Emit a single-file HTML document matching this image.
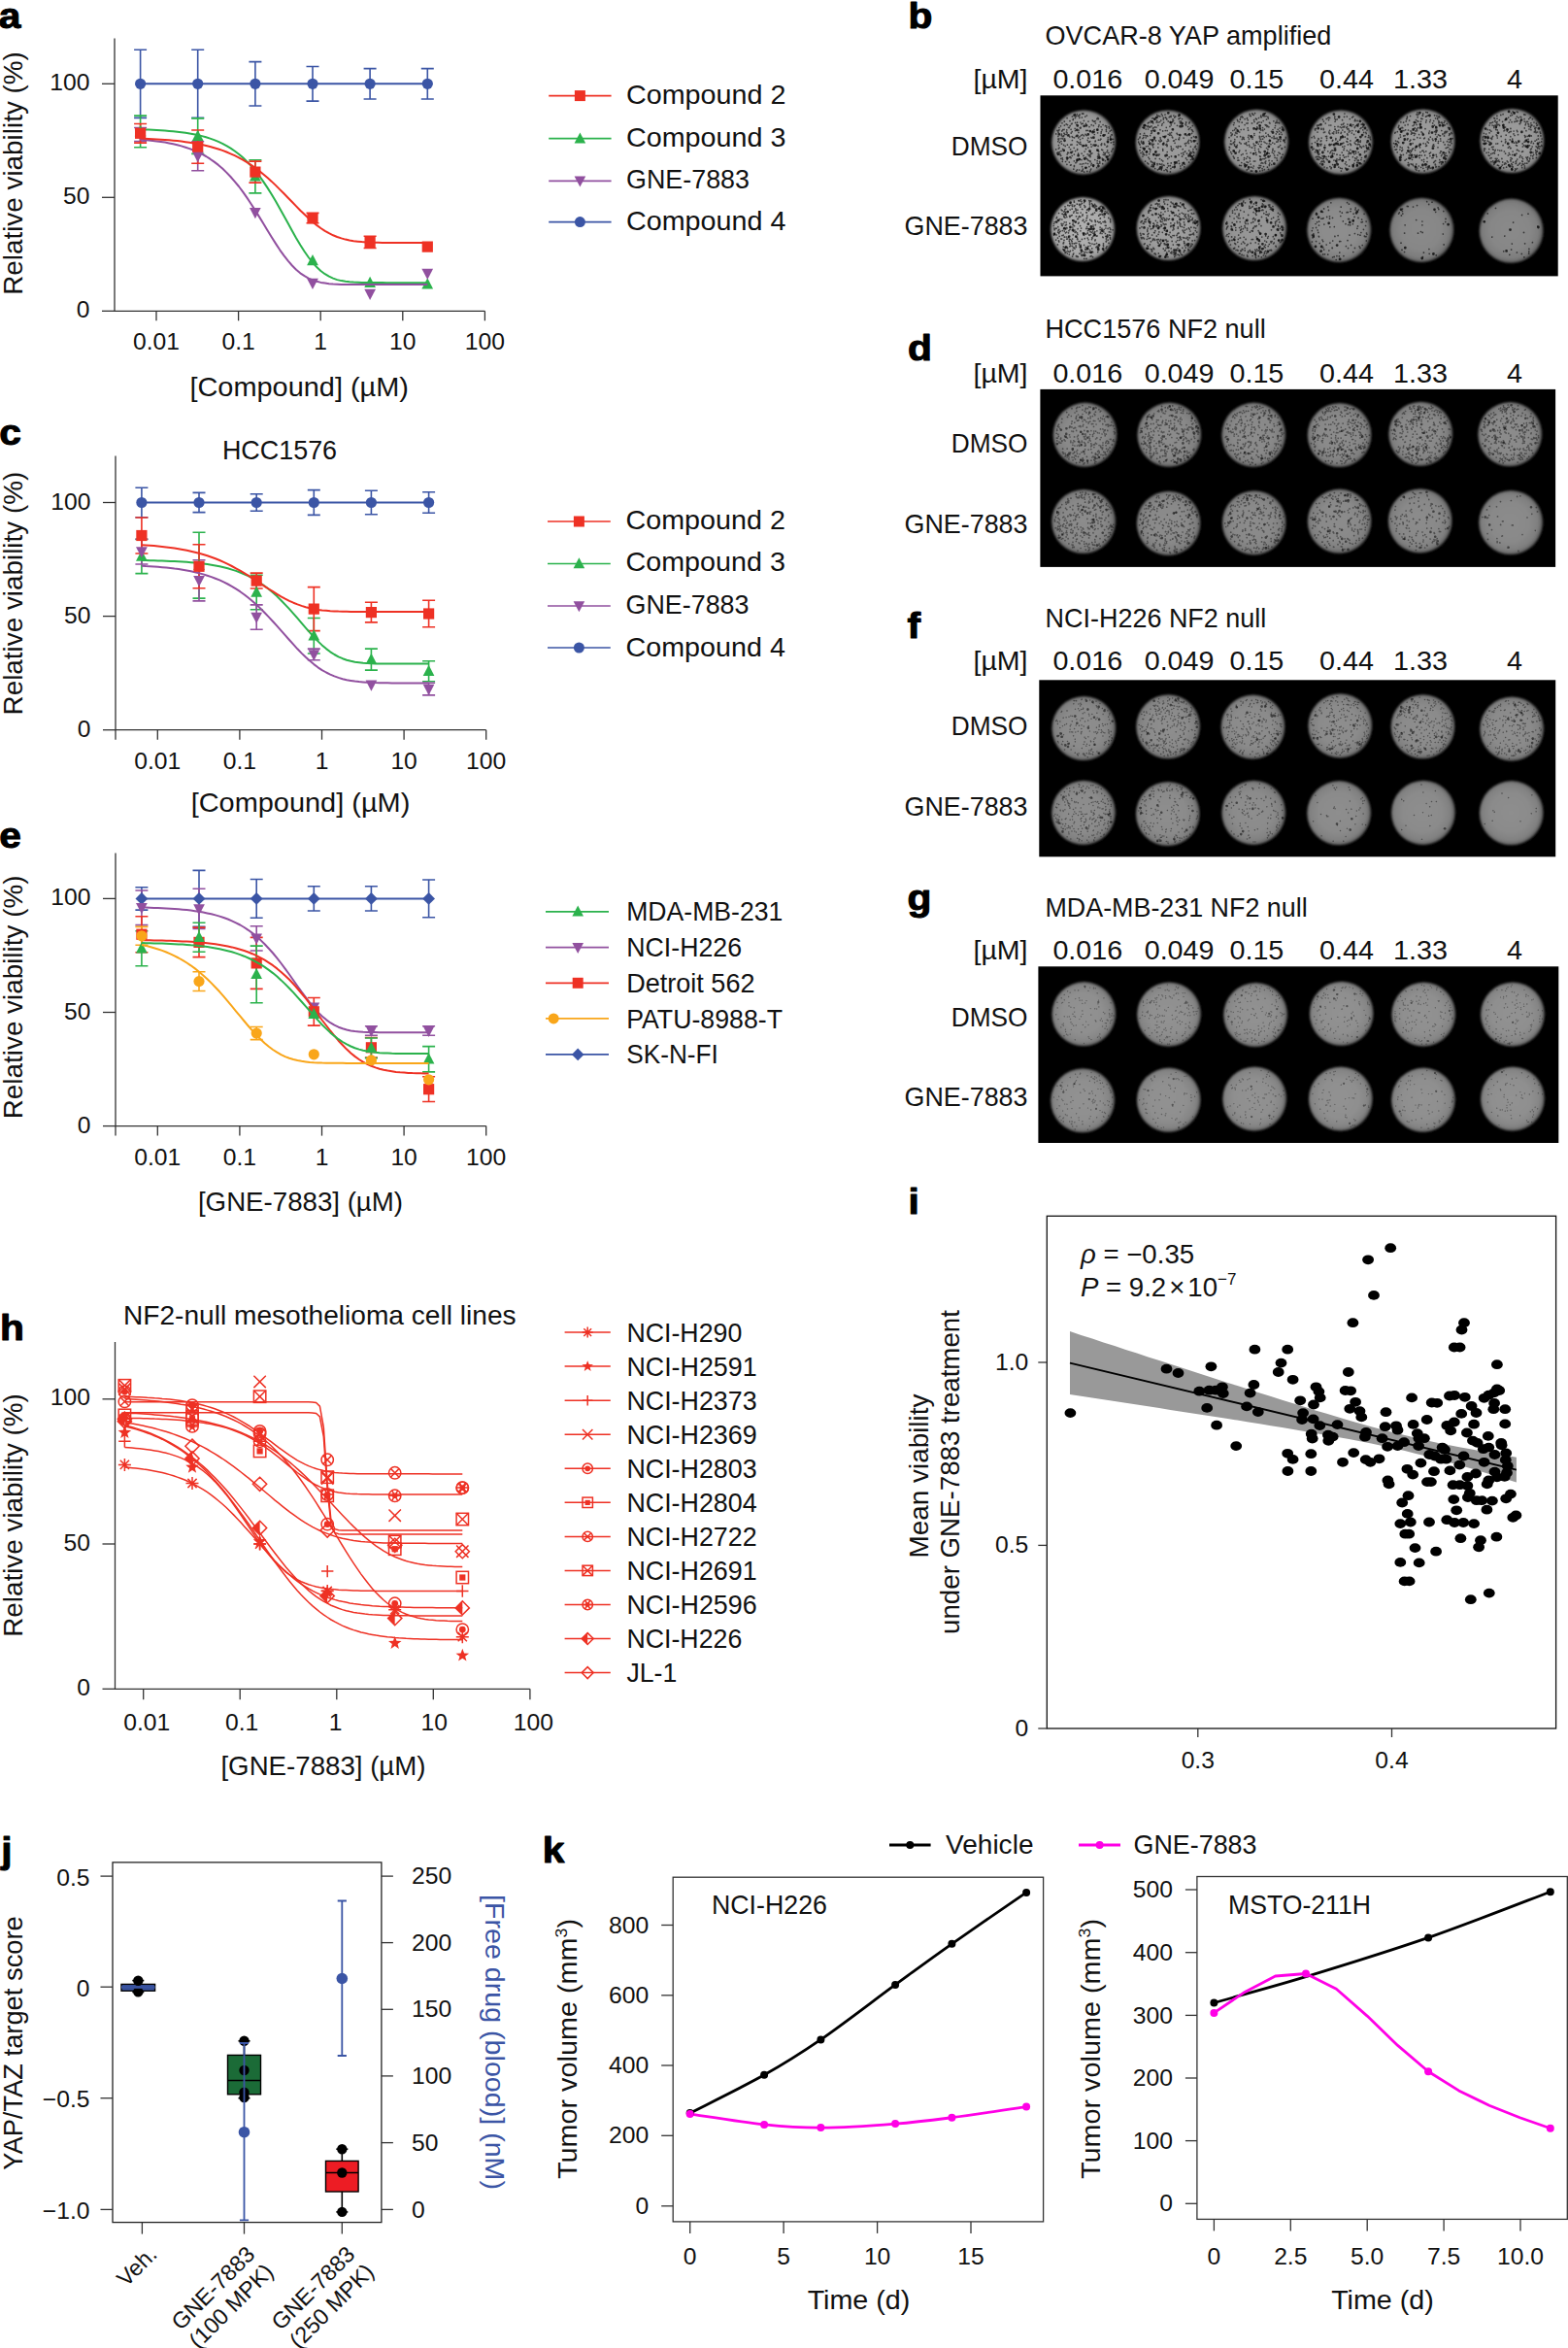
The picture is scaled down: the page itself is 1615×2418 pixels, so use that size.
<!DOCTYPE html>
<html lang="en"><head><meta charset="utf-8"><title>Figure</title>
<style>html,body{margin:0;padding:0;background:#fff}body{width:1615px;height:2418px;overflow:hidden}svg{display:block}text{font-family:'Liberation Sans', sans-serif}</style>
</head><body>
<svg width="1615" height="2418" viewBox="0 0 1615 2418" font-family='"Liberation Sans", sans-serif' fill="#111">
<rect width="1615" height="2418" fill="#fff"/>
<text x="-1.2" y="28.6" font-size="37" font-weight="bold" fill="#000" stroke="#000" stroke-width="1" stroke-linejoin="round" textLength="22.6" lengthAdjust="spacingAndGlyphs">a</text>
<text x="935.6" y="28.5" font-size="37" font-weight="bold" fill="#000" stroke="#000" stroke-width="1" stroke-linejoin="round" textLength="24.9" lengthAdjust="spacingAndGlyphs">b</text>
<text x="-0.8" y="458.2" font-size="37" font-weight="bold" fill="#000" stroke="#000" stroke-width="1" stroke-linejoin="round" textLength="22.6" lengthAdjust="spacingAndGlyphs">c</text>
<text x="934.9" y="371.4" font-size="37" font-weight="bold" fill="#000" stroke="#000" stroke-width="1" stroke-linejoin="round" textLength="24.9" lengthAdjust="spacingAndGlyphs">d</text>
<text x="-0.8" y="873.2" font-size="37" font-weight="bold" fill="#000" stroke="#000" stroke-width="1" stroke-linejoin="round" textLength="22.6" lengthAdjust="spacingAndGlyphs">e</text>
<text x="934.4" y="657.2" font-size="37" font-weight="bold" fill="#000" stroke="#000" stroke-width="1" stroke-linejoin="round" textLength="13.6" lengthAdjust="spacingAndGlyphs">f</text>
<text x="934.4" y="936.7" font-size="37" font-weight="bold" fill="#000" stroke="#000" stroke-width="1" stroke-linejoin="round" textLength="24.9" lengthAdjust="spacingAndGlyphs">g</text>
<text x="-0.1" y="1380.4" font-size="37" font-weight="bold" fill="#000" stroke="#000" stroke-width="1" stroke-linejoin="round" textLength="24.9" lengthAdjust="spacingAndGlyphs">h</text>
<text x="935.6" y="1249.6" font-size="37" font-weight="bold" fill="#000" stroke="#000" stroke-width="1" stroke-linejoin="round" textLength="11.3" lengthAdjust="spacingAndGlyphs">i</text>
<text x="1.2" y="1917.6" font-size="37" font-weight="bold" fill="#000" stroke="#000" stroke-width="1" stroke-linejoin="round" textLength="11.3" lengthAdjust="spacingAndGlyphs">j</text>
<text x="558.8" y="1917.6" font-size="37" font-weight="bold" fill="#000" stroke="#000" stroke-width="1" stroke-linejoin="round" textLength="22.6" lengthAdjust="spacingAndGlyphs">k</text>
<g id="pa">
<path d="M118 39.5V320.3H499.4" stroke="#333" stroke-width="1.3" fill="none"/>
<line x1="161" y1="320.3" x2="161" y2="330.3" stroke="#333" stroke-width="1.3"/>
<text x="161" y="360.4" font-size="23.5" text-anchor="middle" textLength="48.0" lengthAdjust="spacingAndGlyphs">0.01</text>
<line x1="245.6" y1="320.3" x2="245.6" y2="330.3" stroke="#333" stroke-width="1.3"/>
<text x="245.6" y="360.4" font-size="23.5" text-anchor="middle" textLength="34.3" lengthAdjust="spacingAndGlyphs">0.1</text>
<line x1="330.2" y1="320.3" x2="330.2" y2="330.3" stroke="#333" stroke-width="1.3"/>
<text x="330.2" y="360.4" font-size="23.5" text-anchor="middle" textLength="13.7" lengthAdjust="spacingAndGlyphs">1</text>
<line x1="414.8" y1="320.3" x2="414.8" y2="330.3" stroke="#333" stroke-width="1.3"/>
<text x="414.8" y="360.4" font-size="23.5" text-anchor="middle" textLength="27.4" lengthAdjust="spacingAndGlyphs">10</text>
<line x1="499.4" y1="320.3" x2="499.4" y2="330.3" stroke="#333" stroke-width="1.3"/>
<text x="499.4" y="360.4" font-size="23.5" text-anchor="middle" textLength="41.2" lengthAdjust="spacingAndGlyphs">100</text>
<line x1="105" y1="320.3" x2="118" y2="320.3" stroke="#333" stroke-width="1.3"/>
<text x="92.5" y="327.3" font-size="23.5" text-anchor="end" textLength="13.7" lengthAdjust="spacingAndGlyphs">0</text>
<line x1="105" y1="203.3" x2="118" y2="203.3" stroke="#333" stroke-width="1.3"/>
<text x="92.5" y="210.3" font-size="23.5" text-anchor="end" textLength="27.4" lengthAdjust="spacingAndGlyphs">50</text>
<line x1="105" y1="86.3" x2="118" y2="86.3" stroke="#333" stroke-width="1.3"/>
<text x="92.5" y="93.3" font-size="23.5" text-anchor="end" textLength="41.2" lengthAdjust="spacingAndGlyphs">100</text>
<text x="23.4" y="178.5" font-size="27.6" text-anchor="middle" transform="rotate(-90 23.4 178.5)" textLength="250.7" lengthAdjust="spacingAndGlyphs">Relative viability (%)</text>
<text x="308.2" y="407.8" font-size="27.6" text-anchor="middle" textLength="225.6" lengthAdjust="spacingAndGlyphs">[Compound] (µM)</text>
<path d="M144.6 51.2V121.4M138.1 51.2H151.1M138.1 121.4H151.1" stroke="#3b55a5" stroke-width="1.6" fill="none"/>
<path d="M203.7 51.2V121.4M197.2 51.2H210.2M197.2 121.4H210.2" stroke="#3b55a5" stroke-width="1.6" fill="none"/>
<path d="M262.9 63.6V109M256.4 63.6H269.4M256.4 109H269.4" stroke="#3b55a5" stroke-width="1.6" fill="none"/>
<path d="M322 68.5V104.1M315.5 68.5H328.5M315.5 104.1H328.5" stroke="#3b55a5" stroke-width="1.6" fill="none"/>
<path d="M381.1 70.6V102M374.6 70.6H387.6M374.6 102H387.6" stroke="#3b55a5" stroke-width="1.6" fill="none"/>
<path d="M440.3 70.6V102M433.8 70.6H446.8M433.8 102H446.8" stroke="#3b55a5" stroke-width="1.6" fill="none"/>
<path d="M144.6 119.1V151.8M138.1 119.1H151.1M138.1 151.8H151.1" stroke="#2bb24c" stroke-width="1.6" fill="none"/>
<path d="M203.7 121.9V158.4M197.2 121.9H210.2M197.2 158.4H210.2" stroke="#2bb24c" stroke-width="1.6" fill="none"/>
<path d="M262.9 164.7V198.9M256.4 164.7H269.4M256.4 198.9H269.4" stroke="#2bb24c" stroke-width="1.6" fill="none"/>
<path d="M144.6 131.5V145.5M138.1 131.5H151.1M138.1 145.5H151.1" stroke="#91509f" stroke-width="1.6" fill="none"/>
<path d="M203.7 145.7V175.7M197.2 145.7H210.2M197.2 175.7H210.2" stroke="#91509f" stroke-width="1.6" fill="none"/>
<path d="M144.6 127.5V147.1M138.1 127.5H151.1M138.1 147.1H151.1" stroke="#ee3124" stroke-width="1.6" fill="none"/>
<path d="M203.7 134V168.2M197.2 134H210.2M197.2 168.2H210.2" stroke="#ee3124" stroke-width="1.6" fill="none"/>
<path d="M262.9 166.1V188.1M256.4 166.1H269.4M256.4 188.1H269.4" stroke="#ee3124" stroke-width="1.6" fill="none"/>
<path d="M322 219.4V229.7M315.5 219.4H328.5M315.5 229.7H328.5" stroke="#ee3124" stroke-width="1.6" fill="none"/>
<path d="M381.1 243.3V255.5M374.6 243.3H387.6M374.6 255.5H387.6" stroke="#ee3124" stroke-width="1.6" fill="none"/>
<path d="M144.6 86.3H440.3" stroke="#3b55a5" stroke-width="2.0" fill="none"/>
<circle cx="144.6" cy="86.3" r="5.6" fill="#3b55a5"/>
<circle cx="203.7" cy="86.3" r="5.6" fill="#3b55a5"/>
<circle cx="262.9" cy="86.3" r="5.6" fill="#3b55a5"/>
<circle cx="322" cy="86.3" r="5.6" fill="#3b55a5"/>
<circle cx="381.1" cy="86.3" r="5.6" fill="#3b55a5"/>
<circle cx="440.3" cy="86.3" r="5.6" fill="#3b55a5"/>
<path d="M144.6 133.3L148.8 133.4L153.1 133.6L157.3 133.8L161.5 134L165.7 134.2L169.9 134.5L174.2 134.9L178.4 135.2L182.6 135.7L186.8 136.2L191.1 136.8L195.3 137.4L199.5 138.2L203.7 139.1L208 140.1L212.2 141.3L216.4 142.6L220.6 144.1L224.9 145.9L229.1 147.8L233.3 150.1L237.5 152.6L241.7 155.5L246 158.7L250.2 162.3L254.4 166.4L258.6 170.8L262.9 175.8L267.1 181.2L271.3 187.1L275.5 193.4L279.8 200.2L284 207.3L288.2 214.7L292.4 222.3L296.7 230L300.9 237.7L305.1 245.2L309.3 252.3L313.6 259L317.8 265L322 270.4L326.2 275.1L330.4 279L334.7 282.2L338.9 284.7L343.1 286.6L347.3 288.1L351.6 289.1L355.8 289.8L360 290.3L364.2 290.6L368.5 290.8L372.7 291L376.9 291.1L381.1 291.1L385.4 291.1L389.6 291.1L393.8 291.1L398 291.2L402.3 291.2L406.5 291.2L410.7 291.2L414.9 291.2L419.1 291.2L423.4 291.2L427.6 291.2L431.8 291.2L436 291.2L440.3 291.2" stroke="#2bb24c" stroke-width="2.0" fill="none" stroke-linejoin="round"/>
<path d="M144.6 129L150.5 140.2L138.7 140.2Z" fill="#2bb24c"/>
<path d="M203.7 133.7L209.6 144.9L197.9 144.9Z" fill="#2bb24c"/>
<path d="M262.9 175.3L268.7 186.5L257 186.5Z" fill="#2bb24c"/>
<path d="M322 262.1L327.9 273.3L316.1 273.3Z" fill="#2bb24c"/>
<path d="M381.1 284.8L387 296L375.3 296Z" fill="#2bb24c"/>
<path d="M440.3 286.2L446.1 297.4L434.4 297.4Z" fill="#2bb24c"/>
<path d="M144.6 143.7L148.8 144L153.1 144.4L157.3 144.9L161.5 145.4L165.7 146L169.9 146.6L174.2 147.4L178.4 148.3L182.6 149.3L186.8 150.4L191.1 151.7L195.3 153.1L199.5 154.7L203.7 156.6L208 158.7L212.2 161L216.4 163.7L220.6 166.6L224.9 169.9L229.1 173.5L233.3 177.6L237.5 182L241.7 186.8L246 192L250.2 197.6L254.4 203.6L258.6 210L262.9 216.6L267.1 223.4L271.3 230.3L275.5 237.3L279.8 244.2L284 250.9L288.2 257.3L292.4 263.2L296.7 268.6L300.9 273.5L305.1 277.7L309.3 281.3L313.6 284.2L317.8 286.6L322 288.4L326.2 289.8L330.4 290.9L334.7 291.6L338.9 292.2L343.1 292.5L347.3 292.7L351.6 292.9L355.8 293L360 293L364.2 293.1L368.5 293.1L372.7 293.1L376.9 293.1L381.1 293.1L385.4 293.1L389.6 293.1L393.8 293.1L398 293.1L402.3 293.1L406.5 293.1L410.7 293.1L414.9 293.1L419.1 293.1L423.4 293.1L427.6 293.1L431.8 293.1L436 293.1L440.3 293.1" stroke="#91509f" stroke-width="2.0" fill="none" stroke-linejoin="round"/>
<path d="M144.6 144.9L150.5 133.7L138.7 133.7Z" fill="#91509f"/>
<path d="M203.7 167.2L209.6 156L197.9 156Z" fill="#91509f"/>
<path d="M262.9 225.2L268.7 214L257 214Z" fill="#91509f"/>
<path d="M322 298L327.9 286.8L316.1 286.8Z" fill="#91509f"/>
<path d="M381.1 309L387 297.8L375.3 297.8Z" fill="#91509f"/>
<path d="M440.3 287.9L446.1 276.7L434.4 276.7Z" fill="#91509f"/>
<path d="M144.6 142.6L148.8 142.8L153.1 143L157.3 143.2L161.5 143.4L165.7 143.7L169.9 144L174.2 144.3L178.4 144.7L182.6 145.1L186.8 145.6L191.1 146.2L195.3 146.8L199.5 147.4L203.7 148.2L208 149L212.2 150L216.4 151L220.6 152.2L224.9 153.5L229.1 154.9L233.3 156.5L237.5 158.3L241.7 160.2L246 162.3L250.2 164.7L254.4 167.2L258.6 169.9L262.9 172.9L267.1 176.1L271.3 179.5L275.5 183.1L279.8 186.9L284 190.9L288.2 195.1L292.4 199.3L296.7 203.7L300.9 208L305.1 212.4L309.3 216.7L313.6 220.8L317.8 224.8L322 228.5L326.2 231.9L330.4 235L334.7 237.8L338.9 240.2L343.1 242.3L347.3 244L351.6 245.4L355.8 246.6L360 247.5L364.2 248.2L368.5 248.7L372.7 249.1L376.9 249.4L381.1 249.6L385.4 249.7L389.6 249.8L393.8 249.9L398 249.9L402.3 249.9L406.5 249.9L410.7 250L414.9 250L419.1 250L423.4 250L427.6 250L431.8 250L436 250L440.3 250" stroke="#ee3124" stroke-width="2.0" fill="none" stroke-linejoin="round"/>
<rect x="139" y="131.7" width="11.2" height="11.2" fill="#ee3124"/>
<rect x="198.1" y="145.5" width="11.2" height="11.2" fill="#ee3124"/>
<rect x="257.3" y="171.5" width="11.2" height="11.2" fill="#ee3124"/>
<rect x="316.4" y="219" width="11.2" height="11.2" fill="#ee3124"/>
<rect x="375.5" y="243.8" width="11.2" height="11.2" fill="#ee3124"/>
<rect x="434.7" y="248.5" width="11.2" height="11.2" fill="#ee3124"/>
<line x1="565.2" y1="98.6" x2="629.6" y2="98.6" stroke="#ee3124" stroke-width="1.7"/>
<rect x="591.9" y="93.1" width="11" height="11" fill="#ee3124"/>
<text x="645" y="107.1" font-size="27.6" textLength="164.4" lengthAdjust="spacingAndGlyphs">Compound 2</text>
<line x1="565.2" y1="142.7" x2="629.6" y2="142.7" stroke="#2bb24c" stroke-width="1.7"/>
<path d="M597.4 136.4L603.2 147.4L591.6 147.4Z" fill="#2bb24c"/>
<text x="645" y="150.7" font-size="27.6" textLength="164.4" lengthAdjust="spacingAndGlyphs">Compound 3</text>
<line x1="565.2" y1="186.3" x2="629.6" y2="186.3" stroke="#91509f" stroke-width="1.7"/>
<path d="M597.4 192.6L603.2 181.6L591.6 181.6Z" fill="#91509f"/>
<text x="645" y="193.6" font-size="27.6" textLength="127.0" lengthAdjust="spacingAndGlyphs">GNE-7883</text>
<line x1="565.2" y1="228.6" x2="629.6" y2="228.6" stroke="#3b55a5" stroke-width="1.7"/>
<circle cx="597.4" cy="228.6" r="5.5" fill="#3b55a5"/>
<text x="645" y="237.3" font-size="27.6" textLength="164.4" lengthAdjust="spacingAndGlyphs">Compound 4</text>
</g>
<g id="pc">
<path d="M119 469.5V751.7H500.7" stroke="#333" stroke-width="1.3" fill="none"/>
<line x1="162.3" y1="751.7" x2="162.3" y2="761.7" stroke="#333" stroke-width="1.3"/>
<text x="162.3" y="791.8" font-size="23.5" text-anchor="middle" textLength="48.0" lengthAdjust="spacingAndGlyphs">0.01</text>
<line x1="246.9" y1="751.7" x2="246.9" y2="761.7" stroke="#333" stroke-width="1.3"/>
<text x="246.9" y="791.8" font-size="23.5" text-anchor="middle" textLength="34.3" lengthAdjust="spacingAndGlyphs">0.1</text>
<line x1="331.5" y1="751.7" x2="331.5" y2="761.7" stroke="#333" stroke-width="1.3"/>
<text x="331.5" y="791.8" font-size="23.5" text-anchor="middle" textLength="13.7" lengthAdjust="spacingAndGlyphs">1</text>
<line x1="416.1" y1="751.7" x2="416.1" y2="761.7" stroke="#333" stroke-width="1.3"/>
<text x="416.1" y="791.8" font-size="23.5" text-anchor="middle" textLength="27.4" lengthAdjust="spacingAndGlyphs">10</text>
<line x1="500.7" y1="751.7" x2="500.7" y2="761.7" stroke="#333" stroke-width="1.3"/>
<text x="500.7" y="791.8" font-size="23.5" text-anchor="middle" textLength="41.2" lengthAdjust="spacingAndGlyphs">100</text>
<line x1="119" y1="751.7" x2="119" y2="761.7" stroke="#333" stroke-width="1.3"/>
<line x1="106" y1="751.7" x2="119" y2="751.7" stroke="#333" stroke-width="1.3"/>
<text x="93.5" y="758.7" font-size="23.5" text-anchor="end" textLength="13.7" lengthAdjust="spacingAndGlyphs">0</text>
<line x1="106" y1="634.6" x2="119" y2="634.6" stroke="#333" stroke-width="1.3"/>
<text x="93.5" y="641.6" font-size="23.5" text-anchor="end" textLength="27.4" lengthAdjust="spacingAndGlyphs">50</text>
<line x1="106" y1="517.5" x2="119" y2="517.5" stroke="#333" stroke-width="1.3"/>
<text x="93.5" y="524.5" font-size="23.5" text-anchor="end" textLength="41.2" lengthAdjust="spacingAndGlyphs">100</text>
<text x="23.4" y="611.1" font-size="27.6" text-anchor="middle" transform="rotate(-90 23.4 611.1)" textLength="250.7" lengthAdjust="spacingAndGlyphs">Relative viability (%)</text>
<text x="309.5" y="836" font-size="27.6" text-anchor="middle" textLength="225.6" lengthAdjust="spacingAndGlyphs">[Compound] (µM)</text>
<text x="288" y="473.2" font-size="27.6" text-anchor="middle" textLength="118.2" lengthAdjust="spacingAndGlyphs">HCC1576</text>
<path d="M145.9 502.3V532.7M139.4 502.3H152.4M139.4 532.7H152.4" stroke="#3b55a5" stroke-width="1.6" fill="none"/>
<path d="M205 507.4V527.6M198.5 507.4H211.5M198.5 527.6H211.5" stroke="#3b55a5" stroke-width="1.6" fill="none"/>
<path d="M264.2 508.8V526.2M257.7 508.8H270.7M257.7 526.2H270.7" stroke="#3b55a5" stroke-width="1.6" fill="none"/>
<path d="M323.3 504.6V530.4M316.8 504.6H329.8M316.8 530.4H329.8" stroke="#3b55a5" stroke-width="1.6" fill="none"/>
<path d="M382.4 505.3V529.7M375.9 505.3H388.9M375.9 529.7H388.9" stroke="#3b55a5" stroke-width="1.6" fill="none"/>
<path d="M441.6 506.7V528.3M435.1 506.7H448.1M435.1 528.3H448.1" stroke="#3b55a5" stroke-width="1.6" fill="none"/>
<path d="M145.9 555.4V590.6M139.4 555.4H152.4M139.4 590.6H152.4" stroke="#2bb24c" stroke-width="1.6" fill="none"/>
<path d="M205 548.2V616.1M198.5 548.2H211.5M198.5 616.1H211.5" stroke="#2bb24c" stroke-width="1.6" fill="none"/>
<path d="M264.2 592.2V627.8M257.7 592.2H270.7M257.7 627.8H270.7" stroke="#2bb24c" stroke-width="1.6" fill="none"/>
<path d="M323.3 636.5V673M316.8 636.5H329.8M316.8 673H329.8" stroke="#2bb24c" stroke-width="1.6" fill="none"/>
<path d="M382.4 668.1V690.1M375.9 668.1H388.9M375.9 690.1H388.9" stroke="#2bb24c" stroke-width="1.6" fill="none"/>
<path d="M441.6 680.7V701.8M435.1 680.7H448.1M435.1 701.8H448.1" stroke="#2bb24c" stroke-width="1.6" fill="none"/>
<path d="M145.9 555.2V581M139.4 555.2H152.4M139.4 581H152.4" stroke="#91509f" stroke-width="1.6" fill="none"/>
<path d="M205 576.8V618.9M198.5 576.8H211.5M198.5 618.9H211.5" stroke="#91509f" stroke-width="1.6" fill="none"/>
<path d="M264.2 622.9V648.2M257.7 622.9H270.7M257.7 648.2H270.7" stroke="#91509f" stroke-width="1.6" fill="none"/>
<path d="M323.3 668.1V679.8M316.8 668.1H329.8M316.8 679.8H329.8" stroke="#91509f" stroke-width="1.6" fill="none"/>
<path d="M441.6 703.2V715.9M435.1 703.2H448.1M435.1 715.9H448.1" stroke="#91509f" stroke-width="1.6" fill="none"/>
<path d="M145.9 533V570M139.4 533H152.4M139.4 570H152.4" stroke="#ee3124" stroke-width="1.6" fill="none"/>
<path d="M205 560.8V605.8M198.5 560.8H211.5M198.5 605.8H211.5" stroke="#ee3124" stroke-width="1.6" fill="none"/>
<path d="M264.2 590.1V606M257.7 590.1H270.7M257.7 606H270.7" stroke="#ee3124" stroke-width="1.6" fill="none"/>
<path d="M323.3 604.6V649.6M316.8 604.6H329.8M316.8 649.6H329.8" stroke="#ee3124" stroke-width="1.6" fill="none"/>
<path d="M382.4 620.3V640.9M375.9 620.3H388.9M375.9 640.9H388.9" stroke="#ee3124" stroke-width="1.6" fill="none"/>
<path d="M441.6 618.2V645.8M435.1 618.2H448.1M435.1 645.8H448.1" stroke="#ee3124" stroke-width="1.6" fill="none"/>
<path d="M145.9 517.5H441.6" stroke="#3b55a5" stroke-width="2.0" fill="none"/>
<circle cx="145.9" cy="517.5" r="5.6" fill="#3b55a5"/>
<circle cx="205" cy="517.5" r="5.6" fill="#3b55a5"/>
<circle cx="264.2" cy="517.5" r="5.6" fill="#3b55a5"/>
<circle cx="323.3" cy="517.5" r="5.6" fill="#3b55a5"/>
<circle cx="382.4" cy="517.5" r="5.6" fill="#3b55a5"/>
<circle cx="441.6" cy="517.5" r="5.6" fill="#3b55a5"/>
<path d="M145.9 577L150.1 577.1L154.4 577.2L158.6 577.3L162.8 577.4L167 577.5L171.2 577.7L175.5 577.9L179.7 578.1L183.9 578.3L188.1 578.5L192.4 578.8L196.6 579.2L200.8 579.6L205 580L209.3 580.5L213.5 581.1L217.7 581.7L221.9 582.5L226.2 583.3L230.4 584.3L234.6 585.3L238.8 586.6L243 587.9L247.3 589.5L251.5 591.3L255.7 593.2L259.9 595.4L264.2 597.8L268.4 600.5L272.6 603.5L276.8 606.8L281.1 610.3L285.3 614.1L289.5 618.2L293.7 622.6L298 627.1L302.2 631.9L306.4 636.7L310.6 641.7L314.9 646.6L319.1 651.4L323.3 656L327.5 660.4L331.7 664.4L336 668.1L340.2 671.3L344.4 674L348.6 676.3L352.9 678.2L357.1 679.7L361.3 680.8L365.5 681.7L369.8 682.3L374 682.8L378.2 683.1L382.4 683.3L386.7 683.4L390.9 683.5L395.1 683.6L399.3 683.6L403.6 683.6L407.8 683.6L412 683.6L416.2 683.6L420.4 683.6L424.7 683.6L428.9 683.6L433.1 683.6L437.3 683.6L441.6 683.6" stroke="#2bb24c" stroke-width="2.0" fill="none" stroke-linejoin="round"/>
<path d="M145.9 566.6L151.8 577.8L140 577.8Z" fill="#2bb24c"/>
<path d="M205 575.7L210.9 586.9L199.2 586.9Z" fill="#2bb24c"/>
<path d="M264.2 603.6L270 614.8L258.3 614.8Z" fill="#2bb24c"/>
<path d="M323.3 648.3L329.2 659.5L317.4 659.5Z" fill="#2bb24c"/>
<path d="M382.4 672.7L388.3 683.9L376.6 683.9Z" fill="#2bb24c"/>
<path d="M441.6 684.8L447.4 696L435.7 696Z" fill="#2bb24c"/>
<path d="M145.9 582.7L150.1 583L154.4 583.2L158.6 583.5L162.8 583.8L167 584.2L171.2 584.6L175.5 585L179.7 585.6L183.9 586.1L188.1 586.8L192.4 587.5L196.6 588.3L200.8 589.3L205 590.3L209.3 591.4L213.5 592.7L217.7 594.1L221.9 595.7L226.2 597.4L230.4 599.4L234.6 601.5L238.8 603.8L243 606.4L247.3 609.2L251.5 612.2L255.7 615.5L259.9 619L264.2 622.8L268.4 626.8L272.6 631L276.8 635.4L281.1 640L285.3 644.7L289.5 649.4L293.7 654.2L298 659L302.2 663.7L306.4 668.3L310.6 672.6L314.9 676.8L319.1 680.6L323.3 684.1L327.5 687.3L331.7 690.1L336 692.5L340.2 694.6L344.4 696.4L348.6 697.9L352.9 699.2L357.1 700.2L361.3 700.9L365.5 701.6L369.8 702.1L374 702.4L378.2 702.7L382.4 702.9L386.7 703.1L390.9 703.2L395.1 703.3L399.3 703.3L403.6 703.4L407.8 703.4L412 703.4L416.2 703.4L420.4 703.5L424.7 703.5L428.9 703.5L433.1 703.5L437.3 703.5L441.6 703.5" stroke="#91509f" stroke-width="2.0" fill="none" stroke-linejoin="round"/>
<path d="M145.9 574.5L151.8 563.3L140 563.3Z" fill="#91509f"/>
<path d="M205 604.3L210.9 593.1L199.2 593.1Z" fill="#91509f"/>
<path d="M264.2 642L270 630.8L258.3 630.8Z" fill="#91509f"/>
<path d="M323.3 680.4L329.2 669.2L317.4 669.2Z" fill="#91509f"/>
<path d="M382.4 711.8L388.3 700.6L376.6 700.6Z" fill="#91509f"/>
<path d="M441.6 716L447.4 704.8L435.7 704.8Z" fill="#91509f"/>
<path d="M145.9 561.2L150.1 561.5L154.4 561.8L158.6 562.1L162.8 562.5L167 562.9L171.2 563.4L175.5 563.9L179.7 564.5L183.9 565.2L188.1 566L192.4 566.8L196.6 567.7L200.8 568.7L205 569.8L209.3 571L213.5 572.3L217.7 573.8L221.9 575.3L226.2 577L230.4 578.9L234.6 580.9L238.8 583L243 585.3L247.3 587.6L251.5 590.1L255.7 592.7L259.9 595.4L264.2 598.2L268.4 601L272.6 603.8L276.8 606.5L281.1 609.2L285.3 611.8L289.5 614.3L293.7 616.6L298 618.8L302.2 620.7L306.4 622.4L310.6 623.9L314.9 625.2L319.1 626.3L323.3 627.1L327.5 627.9L331.7 628.4L336 628.8L340.2 629.2L344.4 629.4L348.6 629.6L352.9 629.7L357.1 629.8L361.3 629.9L365.5 629.9L369.8 629.9L374 630L378.2 630L382.4 630L386.7 630L390.9 630L395.1 630L399.3 630L403.6 630L407.8 630L412 630L416.2 630L420.4 630L424.7 630L428.9 630L433.1 630L437.3 630L441.6 630" stroke="#ee3124" stroke-width="2.0" fill="none" stroke-linejoin="round"/>
<rect x="140.3" y="545.9" width="11.2" height="11.2" fill="#ee3124"/>
<rect x="199.4" y="577.7" width="11.2" height="11.2" fill="#ee3124"/>
<rect x="258.6" y="592.5" width="11.2" height="11.2" fill="#ee3124"/>
<rect x="317.7" y="621.5" width="11.2" height="11.2" fill="#ee3124"/>
<rect x="376.8" y="625" width="11.2" height="11.2" fill="#ee3124"/>
<rect x="436" y="626.4" width="11.2" height="11.2" fill="#ee3124"/>
<line x1="564" y1="537" x2="628.8" y2="537" stroke="#ee3124" stroke-width="1.7"/>
<rect x="590.9" y="531.5" width="11" height="11" fill="#ee3124"/>
<text x="644.5" y="544.8" font-size="27.6" textLength="164.4" lengthAdjust="spacingAndGlyphs">Compound 2</text>
<line x1="564" y1="580.5" x2="628.8" y2="580.5" stroke="#2bb24c" stroke-width="1.7"/>
<path d="M596.4 574.2L602.2 585.2L590.6 585.2Z" fill="#2bb24c"/>
<text x="644.5" y="588.4" font-size="27.6" textLength="164.4" lengthAdjust="spacingAndGlyphs">Compound 3</text>
<line x1="564" y1="624" x2="628.8" y2="624" stroke="#91509f" stroke-width="1.7"/>
<path d="M596.4 630.3L602.2 619.3L590.6 619.3Z" fill="#91509f"/>
<text x="644.5" y="632.1" font-size="27.6" textLength="127.0" lengthAdjust="spacingAndGlyphs">GNE-7883</text>
<line x1="564" y1="667" x2="628.8" y2="667" stroke="#3b55a5" stroke-width="1.7"/>
<circle cx="596.4" cy="667" r="5.5" fill="#3b55a5"/>
<text x="644.5" y="675.9" font-size="27.6" textLength="164.4" lengthAdjust="spacingAndGlyphs">Compound 4</text>
</g>
<g id="pe">
<path d="M119 878.4V1159.6H500.7" stroke="#333" stroke-width="1.3" fill="none"/>
<line x1="162.3" y1="1159.6" x2="162.3" y2="1169.6" stroke="#333" stroke-width="1.3"/>
<text x="162.3" y="1199.7" font-size="23.5" text-anchor="middle" textLength="48.0" lengthAdjust="spacingAndGlyphs">0.01</text>
<line x1="246.9" y1="1159.6" x2="246.9" y2="1169.6" stroke="#333" stroke-width="1.3"/>
<text x="246.9" y="1199.7" font-size="23.5" text-anchor="middle" textLength="34.3" lengthAdjust="spacingAndGlyphs">0.1</text>
<line x1="331.5" y1="1159.6" x2="331.5" y2="1169.6" stroke="#333" stroke-width="1.3"/>
<text x="331.5" y="1199.7" font-size="23.5" text-anchor="middle" textLength="13.7" lengthAdjust="spacingAndGlyphs">1</text>
<line x1="416.1" y1="1159.6" x2="416.1" y2="1169.6" stroke="#333" stroke-width="1.3"/>
<text x="416.1" y="1199.7" font-size="23.5" text-anchor="middle" textLength="27.4" lengthAdjust="spacingAndGlyphs">10</text>
<line x1="500.7" y1="1159.6" x2="500.7" y2="1169.6" stroke="#333" stroke-width="1.3"/>
<text x="500.7" y="1199.7" font-size="23.5" text-anchor="middle" textLength="41.2" lengthAdjust="spacingAndGlyphs">100</text>
<line x1="119" y1="1159.6" x2="119" y2="1169.6" stroke="#333" stroke-width="1.3"/>
<line x1="106" y1="1159.6" x2="119" y2="1159.6" stroke="#333" stroke-width="1.3"/>
<text x="93.5" y="1166.6" font-size="23.5" text-anchor="end" textLength="13.7" lengthAdjust="spacingAndGlyphs">0</text>
<line x1="106" y1="1042.5" x2="119" y2="1042.5" stroke="#333" stroke-width="1.3"/>
<text x="93.5" y="1049.5" font-size="23.5" text-anchor="end" textLength="27.4" lengthAdjust="spacingAndGlyphs">50</text>
<line x1="106" y1="925.4" x2="119" y2="925.4" stroke="#333" stroke-width="1.3"/>
<text x="93.5" y="932.4" font-size="23.5" text-anchor="end" textLength="41.2" lengthAdjust="spacingAndGlyphs">100</text>
<text x="23.4" y="1026.9" font-size="27.6" text-anchor="middle" transform="rotate(-90 23.4 1026.9)" textLength="250.7" lengthAdjust="spacingAndGlyphs">Relative viability (%)</text>
<text x="309.5" y="1247" font-size="27.6" text-anchor="middle" textLength="211.1" lengthAdjust="spacingAndGlyphs">[GNE-7883] (µM)</text>
<path d="M145.9 913.7V937.1M139.4 913.7H152.4M139.4 937.1H152.4" stroke="#3b55a5" stroke-width="1.6" fill="none"/>
<path d="M205 896.4V954.4M198.5 896.4H211.5M198.5 954.4H211.5" stroke="#3b55a5" stroke-width="1.6" fill="none"/>
<path d="M264.2 905.5V945.3M257.7 905.5H270.7M257.7 945.3H270.7" stroke="#3b55a5" stroke-width="1.6" fill="none"/>
<path d="M323.3 912.8V938M316.8 912.8H329.8M316.8 938H329.8" stroke="#3b55a5" stroke-width="1.6" fill="none"/>
<path d="M382.4 912.8V938M375.9 912.8H388.9M375.9 938H388.9" stroke="#3b55a5" stroke-width="1.6" fill="none"/>
<path d="M441.6 906V944.8M435.1 906H448.1M435.1 944.8H448.1" stroke="#3b55a5" stroke-width="1.6" fill="none"/>
<path d="M145.9 917V952.6M139.4 917H152.4M139.4 952.6H152.4" stroke="#91509f" stroke-width="1.6" fill="none"/>
<path d="M205 915.3V956.5M198.5 915.3H211.5M198.5 956.5H211.5" stroke="#91509f" stroke-width="1.6" fill="none"/>
<path d="M264.2 953.7V979M257.7 953.7H270.7M257.7 979H270.7" stroke="#91509f" stroke-width="1.6" fill="none"/>
<path d="M382.4 1056.8V1066.2M375.9 1056.8H388.9M375.9 1066.2H388.9" stroke="#91509f" stroke-width="1.6" fill="none"/>
<path d="M441.6 1056.8V1066.2M435.1 1056.8H448.1M435.1 1066.2H448.1" stroke="#91509f" stroke-width="1.6" fill="none"/>
<path d="M145.9 943.7V980.7M139.4 943.7H152.4M139.4 980.7H152.4" stroke="#ee3124" stroke-width="1.6" fill="none"/>
<path d="M205 955.1V985.6M198.5 955.1H211.5M198.5 985.6H211.5" stroke="#ee3124" stroke-width="1.6" fill="none"/>
<path d="M264.2 965.4V1018.4M257.7 965.4H270.7M257.7 1018.4H270.7" stroke="#ee3124" stroke-width="1.6" fill="none"/>
<path d="M323.3 1027.5V1056.1M316.8 1027.5H329.8M316.8 1056.1H329.8" stroke="#ee3124" stroke-width="1.6" fill="none"/>
<path d="M382.4 1068.5V1089.1M375.9 1068.5H388.9M375.9 1089.1H388.9" stroke="#ee3124" stroke-width="1.6" fill="none"/>
<path d="M441.6 1108.8V1134.5M435.1 1108.8H448.1M435.1 1134.5H448.1" stroke="#ee3124" stroke-width="1.6" fill="none"/>
<path d="M145.9 958.7V994.7M139.4 958.7H152.4M139.4 994.7H152.4" stroke="#2bb24c" stroke-width="1.6" fill="none"/>
<path d="M205 950.2V980.2M198.5 950.2H211.5M198.5 980.2H211.5" stroke="#2bb24c" stroke-width="1.6" fill="none"/>
<path d="M264.2 974.1V1032.7M257.7 974.1H270.7M257.7 1032.7H270.7" stroke="#2bb24c" stroke-width="1.6" fill="none"/>
<path d="M382.4 1069V1089.6M375.9 1069H388.9M375.9 1089.6H388.9" stroke="#2bb24c" stroke-width="1.6" fill="none"/>
<path d="M441.6 1077.6V1103.9M435.1 1077.6H448.1M435.1 1103.9H448.1" stroke="#2bb24c" stroke-width="1.6" fill="none"/>
<path d="M145.9 954.4V973.2M139.4 954.4H152.4M139.4 973.2H152.4" stroke="#f9a61a" stroke-width="1.6" fill="none"/>
<path d="M205 1000.8V1020.5M198.5 1000.8H211.5M198.5 1020.5H211.5" stroke="#f9a61a" stroke-width="1.6" fill="none"/>
<path d="M264.2 1057.5V1070.6M257.7 1057.5H270.7M257.7 1070.6H270.7" stroke="#f9a61a" stroke-width="1.6" fill="none"/>
<path d="M145.9 925.4H441.6" stroke="#3b55a5" stroke-width="2.0" fill="none"/>
<path d="M145.9 919L152.3 925.4L145.9 931.8L139.5 925.4Z" fill="#3b55a5"/>
<path d="M205 919L211.5 925.4L205 931.8L198.6 925.4Z" fill="#3b55a5"/>
<path d="M264.2 919L270.6 925.4L264.2 931.8L257.7 925.4Z" fill="#3b55a5"/>
<path d="M323.3 919L329.7 925.4L323.3 931.8L316.9 925.4Z" fill="#3b55a5"/>
<path d="M382.4 919L388.9 925.4L382.4 931.8L376 925.4Z" fill="#3b55a5"/>
<path d="M441.6 919L448 925.4L441.6 931.8L435.1 925.4Z" fill="#3b55a5"/>
<path d="M145.9 934.5L150.1 934.6L154.4 934.7L158.6 934.9L162.8 935L167 935.2L171.2 935.4L175.5 935.7L179.7 936L183.9 936.3L188.1 936.7L192.4 937.1L196.6 937.6L200.8 938.2L205 938.8L209.3 939.5L213.5 940.4L217.7 941.3L221.9 942.4L226.2 943.6L230.4 945L234.6 946.5L238.8 948.3L243 950.3L247.3 952.5L251.5 955L255.7 957.8L259.9 960.9L264.2 964.3L268.4 968.1L272.6 972.2L276.8 976.7L281.1 981.5L285.3 986.6L289.5 992L293.7 997.7L298 1003.5L302.2 1009.5L306.4 1015.5L310.6 1021.4L314.9 1027.1L319.1 1032.6L323.3 1037.7L327.5 1042.4L331.7 1046.5L336 1050.1L340.2 1053.2L344.4 1055.7L348.6 1057.7L352.9 1059.3L357.1 1060.5L361.3 1061.4L365.5 1062L369.8 1062.4L374 1062.7L378.2 1062.9L382.4 1063L386.7 1063.1L390.9 1063.2L395.1 1063.2L399.3 1063.2L403.6 1063.2L407.8 1063.2L412 1063.2L416.2 1063.2L420.4 1063.2L424.7 1063.2L428.9 1063.2L433.1 1063.2L437.3 1063.2L441.6 1063.2" stroke="#91509f" stroke-width="2.0" fill="none" stroke-linejoin="round"/>
<path d="M145.9 941.2L151.8 930L140 930Z" fill="#91509f"/>
<path d="M205 942.4L210.9 931.2L199.2 931.2Z" fill="#91509f"/>
<path d="M264.2 972.8L270 961.6L258.3 961.6Z" fill="#91509f"/>
<path d="M323.3 1043.8L329.2 1032.6L317.4 1032.6Z" fill="#91509f"/>
<path d="M382.4 1067.9L388.3 1056.7L376.6 1056.7Z" fill="#91509f"/>
<path d="M441.6 1067.9L447.4 1056.7L435.7 1056.7Z" fill="#91509f"/>
<path d="M145.9 968.2L150.1 968.3L154.4 968.3L158.6 968.4L162.8 968.5L167 968.6L171.2 968.7L175.5 968.8L179.7 969L183.9 969.2L188.1 969.4L192.4 969.6L196.6 969.8L200.8 970.1L205 970.5L209.3 970.8L213.5 971.3L217.7 971.8L221.9 972.3L226.2 973L230.4 973.7L234.6 974.5L238.8 975.4L243 976.5L247.3 977.7L251.5 979L255.7 980.5L259.9 982.2L264.2 984.2L268.4 986.3L272.6 988.7L276.8 991.3L281.1 994.2L285.3 997.4L289.5 1000.9L293.7 1004.7L298 1008.8L302.2 1013.3L306.4 1018L310.6 1023L314.9 1028.2L319.1 1033.6L323.3 1039.2L327.5 1044.8L331.7 1050.5L336 1056L340.2 1061.5L344.4 1066.7L348.6 1071.7L352.9 1076.3L357.1 1080.6L361.3 1084.5L365.5 1087.9L369.8 1091L374 1093.6L378.2 1095.9L382.4 1097.8L386.7 1099.4L390.9 1100.7L395.1 1101.8L399.3 1102.6L403.6 1103.3L407.8 1103.9L412 1104.3L416.2 1104.6L420.4 1104.9L424.7 1105.1L428.9 1105.2L433.1 1105.3L437.3 1105.4L441.6 1105.5" stroke="#ee3124" stroke-width="2.0" fill="none" stroke-linejoin="round"/>
<rect x="140.3" y="956.6" width="11.2" height="11.2" fill="#ee3124"/>
<rect x="199.4" y="964.8" width="11.2" height="11.2" fill="#ee3124"/>
<rect x="258.6" y="986.3" width="11.2" height="11.2" fill="#ee3124"/>
<rect x="317.7" y="1036.2" width="11.2" height="11.2" fill="#ee3124"/>
<rect x="376.8" y="1073.2" width="11.2" height="11.2" fill="#ee3124"/>
<rect x="436" y="1116.1" width="11.2" height="11.2" fill="#ee3124"/>
<path d="M145.9 971.1L150.1 971.2L154.4 971.3L158.6 971.4L162.8 971.5L167 971.6L171.2 971.8L175.5 972L179.7 972.2L183.9 972.4L188.1 972.6L192.4 972.9L196.6 973.3L200.8 973.6L205 974.1L209.3 974.6L213.5 975.1L217.7 975.7L221.9 976.5L226.2 977.3L230.4 978.2L234.6 979.2L238.8 980.3L243 981.6L247.3 983.1L251.5 984.7L255.7 986.5L259.9 988.5L264.2 990.8L268.4 993.2L272.6 995.9L276.8 998.9L281.1 1002.1L285.3 1005.6L289.5 1009.4L293.7 1013.4L298 1017.7L302.2 1022.1L306.4 1026.8L310.6 1031.5L314.9 1036.4L319.1 1041.2L323.3 1046L327.5 1050.7L331.7 1055.2L336 1059.4L340.2 1063.4L344.4 1066.9L348.6 1070.2L352.9 1073L357.1 1075.4L361.3 1077.5L365.5 1079.2L369.8 1080.6L374 1081.7L378.2 1082.6L382.4 1083.3L386.7 1083.8L390.9 1084.2L395.1 1084.4L399.3 1084.6L403.6 1084.8L407.8 1084.9L412 1085L416.2 1085L420.4 1085.1L424.7 1085.1L428.9 1085.1L433.1 1085.1L437.3 1085.1L441.6 1085.1" stroke="#2bb24c" stroke-width="2.0" fill="none" stroke-linejoin="round"/>
<path d="M145.9 970.2L151.8 981.4L140 981.4Z" fill="#2bb24c"/>
<path d="M205 958.8L210.9 970L199.2 970Z" fill="#2bb24c"/>
<path d="M264.2 996.9L270 1008.1L258.3 1008.1Z" fill="#2bb24c"/>
<path d="M323.3 1037.9L329.2 1049.1L317.4 1049.1Z" fill="#2bb24c"/>
<path d="M382.4 1072.8L388.3 1084L376.6 1084Z" fill="#2bb24c"/>
<path d="M441.6 1084.3L447.4 1095.5L435.7 1095.5Z" fill="#2bb24c"/>
<path d="M145.9 973L150.1 973.9L154.4 975L158.6 976.2L162.8 977.5L167 978.9L171.2 980.5L175.5 982.3L179.7 984.3L183.9 986.5L188.1 988.9L192.4 991.5L196.6 994.3L200.8 997.4L205 1000.8L209.3 1004.4L213.5 1008.3L217.7 1012.4L221.9 1016.7L226.2 1021.3L230.4 1026.1L234.6 1031.1L238.8 1036.1L243 1041.3L247.3 1046.4L251.5 1051.5L255.7 1056.5L259.9 1061.4L264.2 1066L268.4 1070.3L272.6 1074.2L276.8 1077.8L281.1 1081L285.3 1083.7L289.5 1086.1L293.7 1088.1L298 1089.7L302.2 1091L306.4 1092L310.6 1092.8L314.9 1093.4L319.1 1093.9L323.3 1094.2L327.5 1094.4L331.7 1094.6L336 1094.7L340.2 1094.7L344.4 1094.8L348.6 1094.8L352.9 1094.8L357.1 1094.9L361.3 1094.9L365.5 1094.9L369.8 1094.9L374 1094.9L378.2 1094.9L382.4 1094.9L386.7 1094.9L390.9 1094.9L395.1 1094.9L399.3 1094.9L403.6 1094.9L407.8 1094.9L412 1094.9L416.2 1094.9L420.4 1094.9L424.7 1094.9L428.9 1094.9L433.1 1094.9L437.3 1094.9L441.6 1094.9" stroke="#f9a61a" stroke-width="2.0" fill="none" stroke-linejoin="round"/>
<circle cx="145.9" cy="963.8" r="5.6" fill="#f9a61a"/>
<circle cx="205" cy="1010.6" r="5.6" fill="#f9a61a"/>
<circle cx="264.2" cy="1064" r="5.6" fill="#f9a61a"/>
<circle cx="323.3" cy="1085.8" r="5.6" fill="#f9a61a"/>
<circle cx="382.4" cy="1091.9" r="5.6" fill="#f9a61a"/>
<circle cx="441.6" cy="1111.8" r="5.6" fill="#f9a61a"/>
<line x1="562" y1="938.9" x2="627" y2="938.9" stroke="#2bb24c" stroke-width="1.7"/>
<path d="M595.2 932.6L601 943.6L589.4 943.6Z" fill="#2bb24c"/>
<text x="645.2" y="948.4" font-size="27.6" textLength="161.1" lengthAdjust="spacingAndGlyphs">MDA-MB-231</text>
<line x1="562" y1="975.7" x2="627" y2="975.7" stroke="#91509f" stroke-width="1.7"/>
<path d="M595.2 982L601 971L589.4 971Z" fill="#91509f"/>
<text x="645.2" y="985" font-size="27.6" textLength="118.9" lengthAdjust="spacingAndGlyphs">NCI-H226</text>
<line x1="562" y1="1012.3" x2="627" y2="1012.3" stroke="#ee3124" stroke-width="1.7"/>
<rect x="589.7" y="1006.8" width="11" height="11" fill="#ee3124"/>
<text x="645.2" y="1021.6" font-size="27.6" textLength="132.3" lengthAdjust="spacingAndGlyphs">Detroit 562</text>
<line x1="562" y1="1048.9" x2="627" y2="1048.9" stroke="#f9a61a" stroke-width="1.7"/>
<circle cx="570.2" cy="1048.9" r="5.5" fill="#f9a61a"/>
<text x="645.2" y="1058.6" font-size="27.6" textLength="160.8" lengthAdjust="spacingAndGlyphs">PATU-8988-T</text>
<line x1="562" y1="1085.9" x2="627" y2="1085.9" stroke="#3b55a5" stroke-width="1.7"/>
<path d="M595.2 1079.6L601.5 1085.9L595.2 1092.2L588.9 1085.9Z" fill="#3b55a5"/>
<text x="645.2" y="1095.4" font-size="27.6" textLength="94.7" lengthAdjust="spacingAndGlyphs">SK-N-FI</text>
</g>
<g id="ph">
<path d="M118.5 1382V1739.3H545.9" stroke="#333" stroke-width="1.3" fill="none"/>
<line x1="147.7" y1="1739.3" x2="147.7" y2="1750.3" stroke="#333" stroke-width="1.3"/>
<text x="151.2" y="1781.5" font-size="23.5" text-anchor="middle" textLength="48.0" lengthAdjust="spacingAndGlyphs">0.01</text>
<line x1="247.2" y1="1739.3" x2="247.2" y2="1750.3" stroke="#333" stroke-width="1.3"/>
<text x="249.1" y="1781.5" font-size="23.5" text-anchor="middle" textLength="34.3" lengthAdjust="spacingAndGlyphs">0.1</text>
<line x1="346.8" y1="1739.3" x2="346.8" y2="1750.3" stroke="#333" stroke-width="1.3"/>
<text x="345.6" y="1781.5" font-size="23.5" text-anchor="middle" textLength="13.7" lengthAdjust="spacingAndGlyphs">1</text>
<line x1="446.3" y1="1739.3" x2="446.3" y2="1750.3" stroke="#333" stroke-width="1.3"/>
<text x="447.3" y="1781.5" font-size="23.5" text-anchor="middle" textLength="27.4" lengthAdjust="spacingAndGlyphs">10</text>
<line x1="545.9" y1="1739.3" x2="545.9" y2="1750.3" stroke="#333" stroke-width="1.3"/>
<text x="549.4" y="1781.5" font-size="23.5" text-anchor="middle" textLength="41.2" lengthAdjust="spacingAndGlyphs">100</text>
<line x1="105.5" y1="1739.3" x2="118.5" y2="1739.3" stroke="#333" stroke-width="1.3"/>
<text x="93" y="1745.9" font-size="23.5" text-anchor="end" textLength="13.7" lengthAdjust="spacingAndGlyphs">0</text>
<line x1="105.5" y1="1590" x2="118.5" y2="1590" stroke="#333" stroke-width="1.3"/>
<text x="93" y="1596.6" font-size="23.5" text-anchor="end" textLength="27.4" lengthAdjust="spacingAndGlyphs">50</text>
<line x1="105.5" y1="1440.8" x2="118.5" y2="1440.8" stroke="#333" stroke-width="1.3"/>
<text x="93" y="1447.4" font-size="23.5" text-anchor="end" textLength="41.2" lengthAdjust="spacingAndGlyphs">100</text>
<text x="23.4" y="1560.5" font-size="27.6" text-anchor="middle" transform="rotate(-90 23.4 1560.5)" textLength="250.7" lengthAdjust="spacingAndGlyphs">Relative viability (%)</text>
<text x="333" y="1828" font-size="27.6" text-anchor="middle" textLength="211.1" lengthAdjust="spacingAndGlyphs">[GNE-7883] (µM)</text>
<text x="127" y="1364" font-size="27.6" textLength="404.6" lengthAdjust="spacingAndGlyphs">NF2-null mesothelioma cell lines</text>
<path d="M128.4 1511L132.3 1511.3L136.1 1511.7L140 1512.1L143.9 1512.5L147.7 1513.1L151.6 1513.6L155.5 1514.3L159.3 1515L163.2 1515.7L167.1 1516.6L170.9 1517.6L174.8 1518.6L178.7 1519.8L182.5 1521.1L186.4 1522.5L190.3 1524L194.1 1525.7L198 1527.6L201.9 1529.6L205.7 1531.8L209.6 1534.1L213.5 1536.7L217.3 1539.4L221.2 1542.4L225 1545.5L228.9 1548.8L232.8 1552.3L236.6 1556L240.5 1559.9L244.4 1563.9L248.2 1568.1L252.1 1572.4L256 1576.7L259.8 1581.1L263.7 1585.6L267.6 1590L271.4 1594.4L275.3 1598.8L279.2 1603L283 1607.2L286.9 1611.2L290.8 1615L294.6 1618.6L298.5 1622L302.4 1625.3L306.2 1628.3L310.1 1631.1L314 1633.6L317.8 1636L321.7 1638.2L325.6 1640.1L329.4 1641.9L333.3 1643.5L337.2 1645L341 1646.2L344.9 1647.4L348.7 1648.4L352.6 1649.3L356.5 1650.1L360.3 1650.9L364.2 1651.5L368.1 1652L371.9 1652.5L375.8 1652.9L379.7 1653.3L383.5 1653.7L387.4 1653.9L391.3 1654.2L395.1 1654.4L399 1654.6L402.9 1654.8L406.7 1654.9L410.6 1655L414.5 1655.1L418.3 1655.2L422.2 1655.3L426.1 1655.4L429.9 1655.4L433.8 1655.5L437.7 1655.5L441.5 1655.6L445.4 1655.6L449.3 1655.7L453.1 1655.7L457 1655.7L460.9 1655.7L464.7 1655.7L468.6 1655.8L472.5 1655.8L476.3 1655.8" stroke="#ee3124" stroke-width="1.5" fill="none"/>
<path d="M128.4 1468.8L132.3 1469.8L136.1 1470.8L140 1471.9L143.9 1473L147.7 1474.3L151.6 1475.7L155.5 1477.1L159.3 1478.7L163.2 1480.4L167.1 1482.2L170.9 1484.2L174.8 1486.3L178.7 1488.5L182.5 1490.9L186.4 1493.5L190.3 1496.2L194.1 1499.1L198 1502.1L201.9 1505.4L205.7 1508.8L209.6 1512.4L213.5 1516.2L217.3 1520.2L221.2 1524.4L225 1528.8L228.9 1533.3L232.8 1538L236.6 1542.9L240.5 1547.9L244.4 1553.1L248.2 1558.4L252.1 1563.8L256 1569.3L259.8 1574.9L263.7 1580.5L267.6 1586.1L271.4 1591.7L275.3 1597.3L279.2 1602.8L283 1608.3L286.9 1613.6L290.8 1618.8L294.6 1623.8L298.5 1628.7L302.4 1633.4L306.2 1637.9L310.1 1642.2L314 1646.2L317.8 1650L321.7 1653.6L325.6 1656.9L329.4 1660L333.3 1662.9L337.2 1665.5L341 1668L344.9 1670.2L348.7 1672.2L352.6 1674.1L356.5 1675.7L360.3 1677.2L364.2 1678.6L368.1 1679.8L371.9 1680.9L375.8 1681.8L379.7 1682.7L383.5 1683.4L387.4 1684.1L391.3 1684.7L395.1 1685.2L399 1685.7L402.9 1686.1L406.7 1686.5L410.6 1686.8L414.5 1687L418.3 1687.3L422.2 1687.5L426.1 1687.7L429.9 1687.8L433.8 1688L437.7 1688.1L441.5 1688.2L445.4 1688.3L449.3 1688.3L453.1 1688.4L457 1688.5L460.9 1688.5L464.7 1688.6L468.6 1688.6L472.5 1688.6L476.3 1688.7" stroke="#ee3124" stroke-width="1.5" fill="none"/>
<path d="M128.4 1490.5L132.3 1490.8L136.1 1491.1L140 1491.4L143.9 1491.8L147.7 1492.2L151.6 1492.7L155.5 1493.3L159.3 1493.9L163.2 1494.6L167.1 1495.4L170.9 1496.3L174.8 1497.4L178.7 1498.6L182.5 1499.9L186.4 1501.4L190.3 1503.1L194.1 1505L198 1507.1L201.9 1509.5L205.7 1512.1L209.6 1515L213.5 1518.2L217.3 1521.8L221.2 1525.6L225 1529.7L228.9 1534.2L232.8 1538.9L236.6 1543.9L240.5 1549.2L244.4 1554.7L248.2 1560.3L252.1 1566L256 1571.8L259.8 1577.6L263.7 1583.3L267.6 1588.8L271.4 1594.1L275.3 1599.1L279.2 1603.8L283 1608.2L286.9 1612.2L290.8 1615.8L294.6 1619.1L298.5 1622L302.4 1624.5L306.2 1626.7L310.1 1628.7L314 1630.3L317.8 1631.7L321.7 1632.9L325.6 1633.9L329.4 1634.7L333.3 1635.4L337.2 1636L341 1636.4L344.9 1636.8L348.7 1637.2L352.6 1637.4L356.5 1637.6L360.3 1637.8L364.2 1638L368.1 1638.1L371.9 1638.2L375.8 1638.2L379.7 1638.3L383.5 1638.3L387.4 1638.4L391.3 1638.4L395.1 1638.4L399 1638.5L402.9 1638.5L406.7 1638.5L410.6 1638.5L414.5 1638.5L418.3 1638.5L422.2 1638.5L426.1 1638.5L429.9 1638.5L433.8 1638.5L437.7 1638.5L441.5 1638.5L445.4 1638.5L449.3 1638.5L453.1 1638.5L457 1638.5L460.9 1638.5L464.7 1638.5L468.6 1638.6L472.5 1638.6L476.3 1638.6" stroke="#ee3124" stroke-width="1.5" fill="none"/>
<path d="M128.4 1443.8L132.3 1443.8L136.1 1443.8L140 1443.8L143.9 1443.8L147.7 1443.8L151.6 1443.8L155.5 1443.8L159.3 1443.8L163.2 1443.8L167.1 1443.8L170.9 1443.8L174.8 1443.8L178.7 1443.8L182.5 1443.8L186.4 1443.8L190.3 1443.8L194.1 1443.8L198 1443.8L201.9 1443.8L205.7 1443.8L209.6 1443.8L213.5 1443.8L217.3 1443.8L221.2 1443.8L225 1443.8L228.9 1443.8L232.8 1443.8L236.6 1443.8L240.5 1443.8L244.4 1443.8L248.2 1443.8L252.1 1443.8L256 1443.8L259.8 1443.8L263.7 1443.8L267.6 1443.8L271.4 1443.8L275.3 1443.8L279.2 1443.8L283 1443.8L286.9 1443.8L290.8 1443.8L294.6 1443.8L298.5 1443.8L302.4 1443.8L306.2 1443.8L310.1 1443.8L314 1443.8L317.8 1443.8L321.7 1443.9L325.6 1444.4L329.4 1448.2L333.3 1469.7L337.2 1527.9L341 1566.2L344.9 1574.6L348.7 1575.8L352.6 1576L356.5 1576L360.3 1576L364.2 1576L368.1 1576L371.9 1576L375.8 1576L379.7 1576L383.5 1576L387.4 1576L391.3 1576L395.1 1576L399 1576L402.9 1576L406.7 1576L410.6 1576L414.5 1576L418.3 1576L422.2 1576L426.1 1576L429.9 1576L433.8 1576L437.7 1576L441.5 1576L445.4 1576L449.3 1576L453.1 1576L457 1576L460.9 1576L464.7 1576L468.6 1576L472.5 1576L476.3 1576" stroke="#ee3124" stroke-width="1.5" fill="none"/>
<path d="M128.4 1440.6L132.3 1440.8L136.1 1441L140 1441.2L143.9 1441.5L147.7 1441.8L151.6 1442.1L155.5 1442.4L159.3 1442.7L163.2 1443.1L167.1 1443.5L170.9 1444L174.8 1444.5L178.7 1445L182.5 1445.5L186.4 1446.2L190.3 1446.8L194.1 1447.5L198 1448.3L201.9 1449.2L205.7 1450.1L209.6 1451.1L213.5 1452.1L217.3 1453.3L221.2 1454.5L225 1455.8L228.9 1457.3L232.8 1458.8L236.6 1460.5L240.5 1462.3L244.4 1464.2L248.2 1466.2L252.1 1468.5L256 1470.8L259.8 1473.4L263.7 1476.1L267.6 1479L271.4 1482.1L275.3 1485.3L279.2 1488.8L283 1492.5L286.9 1496.4L290.8 1500.6L294.6 1504.9L298.5 1509.5L302.4 1514.3L306.2 1519.3L310.1 1524.5L314 1530L317.8 1535.6L321.7 1541.4L325.6 1547.4L329.4 1553.5L333.3 1559.7L337.2 1566L341 1572.4L344.9 1578.8L348.7 1585.2L352.6 1591.5L356.5 1597.8L360.3 1603.9L364.2 1609.8L368.1 1615.6L371.9 1621.1L375.8 1626.3L379.7 1631.3L383.5 1635.9L387.4 1640.2L391.3 1644.1L395.1 1647.7L399 1651L402.9 1653.9L406.7 1656.4L410.6 1658.7L414.5 1660.6L418.3 1662.3L422.2 1663.7L426.1 1664.9L429.9 1665.9L433.8 1666.7L437.7 1667.4L441.5 1667.9L445.4 1668.3L449.3 1668.7L453.1 1668.9L457 1669.1L460.9 1669.3L464.7 1669.4L468.6 1669.5L472.5 1669.6L476.3 1669.6" stroke="#ee3124" stroke-width="1.5" fill="none"/>
<path d="M128.4 1455L132.3 1455.2L136.1 1455.4L140 1455.6L143.9 1455.8L147.7 1456L151.6 1456.3L155.5 1456.6L159.3 1456.9L163.2 1457.2L167.1 1457.5L170.9 1457.9L174.8 1458.3L178.7 1458.8L182.5 1459.2L186.4 1459.7L190.3 1460.3L194.1 1460.9L198 1461.5L201.9 1462.2L205.7 1462.9L209.6 1463.7L213.5 1464.5L217.3 1465.4L221.2 1466.4L225 1467.4L228.9 1468.5L232.8 1469.7L236.6 1471L240.5 1472.3L244.4 1473.7L248.2 1475.3L252.1 1476.9L256 1478.7L259.8 1480.5L263.7 1482.5L267.6 1484.6L271.4 1486.8L275.3 1489.1L279.2 1491.6L283 1494.2L286.9 1496.9L290.8 1499.8L294.6 1502.8L298.5 1505.9L302.4 1509.2L306.2 1512.6L310.1 1516.1L314 1519.8L317.8 1523.6L321.7 1527.4L325.6 1531.4L329.4 1535.4L333.3 1539.5L337.2 1543.6L341 1547.8L344.9 1551.9L348.7 1556.1L352.6 1560.2L356.5 1564.2L360.3 1568.2L364.2 1572.1L368.1 1575.8L371.9 1579.4L375.8 1582.9L379.7 1586.1L383.5 1589.2L387.4 1592.1L391.3 1594.7L395.1 1597.2L399 1599.4L402.9 1601.4L406.7 1603.2L410.6 1604.8L414.5 1606.2L418.3 1607.5L422.2 1608.6L426.1 1609.5L429.9 1610.3L433.8 1610.9L437.7 1611.5L441.5 1611.9L445.4 1612.3L449.3 1612.6L453.1 1612.8L457 1613L460.9 1613.2L464.7 1613.3L468.6 1613.4L472.5 1613.5L476.3 1613.6" stroke="#ee3124" stroke-width="1.5" fill="none"/>
<path d="M128.4 1438.2L132.3 1438.4L136.1 1438.5L140 1438.7L143.9 1438.8L147.7 1439L151.6 1439.3L155.5 1439.5L159.3 1439.8L163.2 1440L167.1 1440.4L170.9 1440.7L174.8 1441.1L178.7 1441.6L182.5 1442.1L186.4 1442.6L190.3 1443.2L194.1 1443.9L198 1444.6L201.9 1445.4L205.7 1446.3L209.6 1447.3L213.5 1448.4L217.3 1449.5L221.2 1450.8L225 1452.2L228.9 1453.7L232.8 1455.4L236.6 1457.1L240.5 1459L244.4 1461.1L248.2 1463.3L252.1 1465.6L256 1468L259.8 1470.6L263.7 1473.2L267.6 1476L271.4 1478.9L275.3 1481.8L279.2 1484.7L283 1487.6L286.9 1490.6L290.8 1493.4L294.6 1496.2L298.5 1498.9L302.4 1501.4L306.2 1503.8L310.1 1505.9L314 1507.9L317.8 1509.6L321.7 1511.1L325.6 1512.5L329.4 1513.6L333.3 1514.5L337.2 1515.3L341 1515.9L344.9 1516.4L348.7 1516.8L352.6 1517.1L356.5 1517.3L360.3 1517.5L364.2 1517.6L368.1 1517.7L371.9 1517.7L375.8 1517.8L379.7 1517.8L383.5 1517.8L387.4 1517.8L391.3 1517.8L395.1 1517.8L399 1517.8L402.9 1517.8L406.7 1517.8L410.6 1517.8L414.5 1517.8L418.3 1517.8L422.2 1517.8L426.1 1517.8L429.9 1517.8L433.8 1517.8L437.7 1517.8L441.5 1517.8L445.4 1517.9L449.3 1517.9L453.1 1517.9L457 1517.9L460.9 1517.9L464.7 1517.9L468.6 1517.9L472.5 1517.9L476.3 1517.9" stroke="#ee3124" stroke-width="1.5" fill="none"/>
<path d="M128.4 1454.8L132.3 1454.8L136.1 1454.8L140 1454.8L143.9 1454.8L147.7 1454.8L151.6 1454.8L155.5 1454.8L159.3 1454.8L163.2 1454.8L167.1 1454.8L170.9 1454.8L174.8 1454.8L178.7 1454.8L182.5 1454.8L186.4 1454.8L190.3 1454.8L194.1 1454.8L198 1454.8L201.9 1454.8L205.7 1454.8L209.6 1454.8L213.5 1454.8L217.3 1454.8L221.2 1454.8L225 1454.8L228.9 1454.8L232.8 1454.8L236.6 1454.8L240.5 1454.8L244.4 1454.8L248.2 1454.8L252.1 1454.8L256 1454.8L259.8 1454.8L263.7 1454.8L267.6 1454.8L271.4 1454.8L275.3 1454.8L279.2 1454.8L283 1454.8L286.9 1454.8L290.8 1454.8L294.6 1454.8L298.5 1454.8L302.4 1454.8L306.2 1454.8L310.1 1454.8L314 1454.8L317.8 1454.8L321.7 1454.9L325.6 1455.4L329.4 1459L333.3 1479.4L337.2 1534.3L341 1570.6L344.9 1578.5L348.7 1579.7L352.6 1579.9L356.5 1579.9L360.3 1579.9L364.2 1579.9L368.1 1579.9L371.9 1579.9L375.8 1579.9L379.7 1579.9L383.5 1579.9L387.4 1579.9L391.3 1579.9L395.1 1579.9L399 1579.9L402.9 1579.9L406.7 1579.9L410.6 1579.9L414.5 1579.9L418.3 1579.9L422.2 1579.9L426.1 1579.9L429.9 1579.9L433.8 1579.9L437.7 1579.9L441.5 1579.9L445.4 1579.9L449.3 1579.9L453.1 1579.9L457 1579.9L460.9 1579.9L464.7 1579.9L468.6 1579.9L472.5 1579.9L476.3 1579.9" stroke="#ee3124" stroke-width="1.5" fill="none"/>
<path d="M128.4 1460.4L132.3 1460.4L136.1 1460.5L140 1460.6L143.9 1460.6L147.7 1460.7L151.6 1460.8L155.5 1460.9L159.3 1461.1L163.2 1461.2L167.1 1461.4L170.9 1461.6L174.8 1461.8L178.7 1462L182.5 1462.3L186.4 1462.6L190.3 1462.9L194.1 1463.3L198 1463.7L201.9 1464.1L205.7 1464.7L209.6 1465.2L213.5 1465.9L217.3 1466.6L221.2 1467.4L225 1468.3L228.9 1469.3L232.8 1470.4L236.6 1471.6L240.5 1473L244.4 1474.5L248.2 1476.1L252.1 1477.9L256 1479.8L259.8 1481.9L263.7 1484.1L267.6 1486.5L271.4 1489.1L275.3 1491.8L279.2 1494.7L283 1497.7L286.9 1500.7L290.8 1503.9L294.6 1507.1L298.5 1510.3L302.4 1513.4L306.2 1516.5L310.1 1519.4L314 1522.2L317.8 1524.8L321.7 1527.2L325.6 1529.3L329.4 1531.1L333.3 1532.8L337.2 1534.1L341 1535.2L344.9 1536.2L348.7 1536.9L352.6 1537.4L356.5 1537.9L360.3 1538.2L364.2 1538.4L368.1 1538.6L371.9 1538.7L375.8 1538.8L379.7 1538.8L383.5 1538.9L387.4 1538.9L391.3 1538.9L395.1 1538.9L399 1538.9L402.9 1538.9L406.7 1538.9L410.6 1538.9L414.5 1538.9L418.3 1538.9L422.2 1538.9L426.1 1538.9L429.9 1538.9L433.8 1538.9L437.7 1538.9L441.5 1538.9L445.4 1538.9L449.3 1538.9L453.1 1538.9L457 1538.9L460.9 1538.9L464.7 1538.9L468.6 1538.9L472.5 1538.9L476.3 1538.9" stroke="#ee3124" stroke-width="1.5" fill="none"/>
<path d="M128.4 1467.6L132.3 1468.6L136.1 1469.7L140 1470.9L143.9 1472.1L147.7 1473.4L151.6 1474.8L155.5 1476.3L159.3 1477.9L163.2 1479.7L167.1 1481.5L170.9 1483.4L174.8 1485.5L178.7 1487.7L182.5 1490L186.4 1492.5L190.3 1495.1L194.1 1497.8L198 1500.7L201.9 1503.8L205.7 1507L209.6 1510.4L213.5 1513.9L217.3 1517.7L221.2 1521.5L225 1525.6L228.9 1529.8L232.8 1534.1L236.6 1538.6L240.5 1543.3L244.4 1548.1L248.2 1552.9L252.1 1557.9L256 1563L259.8 1568.2L263.7 1573.4L267.6 1578.6L271.4 1583.8L275.3 1589L279.2 1594.2L283 1599.3L286.9 1604.3L290.8 1609.2L294.6 1613.9L298.5 1618.4L302.4 1622.8L306.2 1626.9L310.1 1630.9L314 1634.5L317.8 1638L321.7 1641.1L325.6 1644.1L329.4 1646.7L333.3 1649.1L337.2 1651.2L341 1653.2L344.9 1654.8L348.7 1656.3L352.6 1657.6L356.5 1658.7L360.3 1659.6L364.2 1660.4L368.1 1661.1L371.9 1661.6L375.8 1662.1L379.7 1662.5L383.5 1662.8L387.4 1663L391.3 1663.2L395.1 1663.4L399 1663.5L402.9 1663.6L406.7 1663.7L410.6 1663.7L414.5 1663.8L418.3 1663.8L422.2 1663.8L426.1 1663.9L429.9 1663.9L433.8 1663.9L437.7 1663.9L441.5 1663.9L445.4 1663.9L449.3 1663.9L453.1 1663.9L457 1663.9L460.9 1663.9L464.7 1663.9L468.6 1663.9L472.5 1663.9L476.3 1663.9" stroke="#ee3124" stroke-width="1.5" fill="none"/>
<path d="M128.4 1464.9L132.3 1465.5L136.1 1466.1L140 1466.8L143.9 1467.6L147.7 1468.3L151.6 1469.2L155.5 1470.1L159.3 1471L163.2 1472.1L167.1 1473.2L170.9 1474.3L174.8 1475.5L178.7 1476.9L182.5 1478.2L186.4 1479.7L190.3 1481.3L194.1 1482.9L198 1484.6L201.9 1486.5L205.7 1488.4L209.6 1490.4L213.5 1492.5L217.3 1494.8L221.2 1497.1L225 1499.5L228.9 1502L232.8 1504.7L236.6 1507.4L240.5 1510.2L244.4 1513.1L248.2 1516L252.1 1519.1L256 1522.2L259.8 1525.4L263.7 1528.6L267.6 1531.8L271.4 1535L275.3 1538.3L279.2 1541.5L283 1544.8L286.9 1547.9L290.8 1551.1L294.6 1554.1L298.5 1557.1L302.4 1559.9L306.2 1562.7L310.1 1565.3L314 1567.8L317.8 1570.1L321.7 1572.3L325.6 1574.3L329.4 1576.2L333.3 1577.9L337.2 1579.4L341 1580.8L344.9 1582.1L348.7 1583.2L352.6 1584.2L356.5 1585L360.3 1585.8L364.2 1586.4L368.1 1586.9L371.9 1587.4L375.8 1587.8L379.7 1588.1L383.5 1588.3L387.4 1588.5L391.3 1588.7L395.1 1588.9L399 1589L402.9 1589.1L406.7 1589.1L410.6 1589.2L414.5 1589.2L418.3 1589.3L422.2 1589.3L426.1 1589.3L429.9 1589.3L433.8 1589.3L437.7 1589.3L441.5 1589.4L445.4 1589.4L449.3 1589.4L453.1 1589.4L457 1589.4L460.9 1589.4L464.7 1589.4L468.6 1589.4L472.5 1589.4L476.3 1589.4" stroke="#ee3124" stroke-width="1.5" fill="none"/>
<path d="M121.9 1508.4L134.9 1508.4M123.8 1503.8L133 1513M128.4 1501.9L128.4 1514.9M133 1503.8L123.8 1513" stroke="#ee3124" stroke-width="1.5" fill="none"/>
<path d="M191.5 1527.5L204.5 1527.5M193.4 1522.9L202.6 1532.1M198 1521L198 1534.1M202.6 1522.9L193.4 1532.1" stroke="#ee3124" stroke-width="1.5" fill="none"/>
<path d="M261.1 1590L274.1 1590M263 1585.4L272.2 1594.7M267.6 1583.5L267.6 1596.6M272.2 1585.4L263 1594.7" stroke="#ee3124" stroke-width="1.5" fill="none"/>
<path d="M330.6 1638.5L343.7 1638.5M332.5 1633.9L341.8 1643.1M337.2 1632L337.2 1645M341.8 1633.9L332.5 1643.1" stroke="#ee3124" stroke-width="1.5" fill="none"/>
<path d="M400.2 1657.7L413.2 1657.7M402.1 1653.1L411.3 1662.3M406.7 1651.1L406.7 1664.2M411.3 1653.1L402.1 1662.3" stroke="#ee3124" stroke-width="1.5" fill="none"/>
<path d="M469.8 1685.7L482.8 1685.7M471.7 1681.1L480.9 1690.3M476.3 1679.2L476.3 1692.2M480.9 1681.1L471.7 1690.3" stroke="#ee3124" stroke-width="1.5" fill="none"/>
<path d="M128.4 1468.1L130.2 1472.8L135.2 1473L131.2 1476.2L132.6 1481L128.4 1478.2L124.2 1481L125.6 1476.2L121.6 1473L126.7 1472.8Z" fill="#ee3124"/>
<path d="M198 1503.8L199.7 1508.6L204.8 1508.8L200.8 1511.9L202.2 1516.7L198 1513.9L193.8 1516.7L195.2 1511.9L191.2 1508.8L196.2 1508.6Z" fill="#ee3124"/>
<path d="M267.6 1580.4L269.3 1585.1L274.4 1585.3L270.4 1588.4L271.8 1593.3L267.6 1590.5L263.4 1593.3L264.7 1588.4L260.8 1585.3L265.8 1585.1Z" fill="#ee3124"/>
<path d="M337.2 1632.7L338.9 1637.4L343.9 1637.6L340 1640.7L341.3 1645.6L337.2 1642.8L333 1645.6L334.3 1640.7L330.4 1637.6L335.4 1637.4Z" fill="#ee3124"/>
<path d="M406.7 1685L408.5 1689.7L413.5 1689.9L409.6 1693L410.9 1697.9L406.7 1695.1L402.5 1697.9L403.9 1693L400 1689.9L405 1689.7Z" fill="#ee3124"/>
<path d="M476.3 1697.7L478.1 1702.5L483.1 1702.7L479.1 1705.8L480.5 1710.6L476.3 1707.8L472.1 1710.6L473.5 1705.8L469.5 1702.7L474.6 1702.5Z" fill="#ee3124"/>
<path d="M122.2 1484.2H134.6M128.4 1478V1490.4" stroke="#ee3124" stroke-width="1.5" fill="none"/>
<path d="M191.8 1504.6H204.2M198 1498.4V1510.8" stroke="#ee3124" stroke-width="1.5" fill="none"/>
<path d="M261.4 1590H273.8M267.6 1583.8V1596.2" stroke="#ee3124" stroke-width="1.5" fill="none"/>
<path d="M331 1618.1H343.4M337.2 1611.9V1624.3" stroke="#ee3124" stroke-width="1.5" fill="none"/>
<path d="M400.5 1655.1H412.9M406.7 1648.9V1661.3" stroke="#ee3124" stroke-width="1.5" fill="none"/>
<path d="M470.1 1638.5H482.5M476.3 1632.3V1644.7" stroke="#ee3124" stroke-width="1.5" fill="none"/>
<path d="M122.2 1424.4L134.6 1436.8M122.2 1436.8L134.6 1424.4" stroke="#ee3124" stroke-width="1.5" fill="none"/>
<path d="M191.8 1444.8L204.2 1457.2M191.8 1457.2L204.2 1444.8" stroke="#ee3124" stroke-width="1.5" fill="none"/>
<path d="M261.4 1416.7L273.8 1429.1M261.4 1429.1L273.8 1416.7" stroke="#ee3124" stroke-width="1.5" fill="none"/>
<path d="M331 1516.2L343.4 1528.6M331 1528.6L343.4 1516.2" stroke="#ee3124" stroke-width="1.5" fill="none"/>
<path d="M400.5 1554.5L412.9 1566.9M400.5 1566.9L412.9 1554.5" stroke="#ee3124" stroke-width="1.5" fill="none"/>
<path d="M470.1 1591.5L482.5 1603.9M470.1 1603.9L482.5 1591.5" stroke="#ee3124" stroke-width="1.5" fill="none"/>
<circle cx="128.4" cy="1433.1" r="6.2" stroke="#ee3124" stroke-width="1.5" fill="none"/><circle cx="128.4" cy="1433.1" r="3.4" fill="#ee3124"/>
<circle cx="198" cy="1447.2" r="6.2" stroke="#ee3124" stroke-width="1.5" fill="none"/><circle cx="198" cy="1447.2" r="3.4" fill="#ee3124"/>
<circle cx="267.6" cy="1474" r="6.2" stroke="#ee3124" stroke-width="1.5" fill="none"/><circle cx="267.6" cy="1474" r="3.4" fill="#ee3124"/>
<circle cx="337.2" cy="1569.6" r="6.2" stroke="#ee3124" stroke-width="1.5" fill="none"/><circle cx="337.2" cy="1569.6" r="3.4" fill="#ee3124"/>
<circle cx="406.7" cy="1651.3" r="6.2" stroke="#ee3124" stroke-width="1.5" fill="none"/><circle cx="406.7" cy="1651.3" r="3.4" fill="#ee3124"/>
<circle cx="476.3" cy="1678.1" r="6.2" stroke="#ee3124" stroke-width="1.5" fill="none"/><circle cx="476.3" cy="1678.1" r="3.4" fill="#ee3124"/>
<rect x="122.2" y="1451.2" width="12.4" height="12.4" stroke="#ee3124" stroke-width="1.5" fill="none"/><rect x="125.3" y="1454.3" width="6.2" height="6.2" fill="#ee3124"/>
<rect x="191.8" y="1455" width="12.4" height="12.4" stroke="#ee3124" stroke-width="1.5" fill="none"/><rect x="194.9" y="1458.1" width="6.2" height="6.2" fill="#ee3124"/>
<rect x="261.4" y="1488.2" width="12.4" height="12.4" stroke="#ee3124" stroke-width="1.5" fill="none"/><rect x="264.5" y="1491.3" width="6.2" height="6.2" fill="#ee3124"/>
<rect x="331" y="1534.1" width="12.4" height="12.4" stroke="#ee3124" stroke-width="1.5" fill="none"/><rect x="334.1" y="1537.2" width="6.2" height="6.2" fill="#ee3124"/>
<rect x="400.5" y="1589" width="12.4" height="12.4" stroke="#ee3124" stroke-width="1.5" fill="none"/><rect x="403.6" y="1592.1" width="6.2" height="6.2" fill="#ee3124"/>
<rect x="470.1" y="1618.3" width="12.4" height="12.4" stroke="#ee3124" stroke-width="1.5" fill="none"/><rect x="473.2" y="1621.4" width="6.2" height="6.2" fill="#ee3124"/>
<circle cx="128.4" cy="1443.4" r="6.2" stroke="#ee3124" stroke-width="1.5" fill="none"/><path d="M124 1439L132.8 1447.7M124 1447.7L132.8 1439" stroke="#ee3124" stroke-width="1.5" fill="none"/>
<circle cx="198" cy="1451" r="6.2" stroke="#ee3124" stroke-width="1.5" fill="none"/><path d="M193.6 1446.6L202.4 1455.4M193.6 1455.4L202.4 1446.6" stroke="#ee3124" stroke-width="1.5" fill="none"/>
<circle cx="267.6" cy="1476.5" r="6.2" stroke="#ee3124" stroke-width="1.5" fill="none"/><path d="M263.2 1472.1L272 1480.9M263.2 1480.9L272 1472.1" stroke="#ee3124" stroke-width="1.5" fill="none"/>
<circle cx="337.2" cy="1503.3" r="6.2" stroke="#ee3124" stroke-width="1.5" fill="none"/><path d="M332.8 1498.9L341.5 1507.7M332.8 1507.7L341.5 1498.9" stroke="#ee3124" stroke-width="1.5" fill="none"/>
<circle cx="406.7" cy="1516.8" r="6.2" stroke="#ee3124" stroke-width="1.5" fill="none"/><path d="M402.4 1512.4L411.1 1521.2M402.4 1521.2L411.1 1512.4" stroke="#ee3124" stroke-width="1.5" fill="none"/>
<circle cx="476.3" cy="1532.1" r="6.2" stroke="#ee3124" stroke-width="1.5" fill="none"/><path d="M471.9 1527.8L480.7 1536.5M471.9 1536.5L480.7 1527.8" stroke="#ee3124" stroke-width="1.5" fill="none"/>
<rect x="122.2" y="1420.6" width="12.4" height="12.4" stroke="#ee3124" stroke-width="1.5" fill="none"/><path d="M122.2 1420.6L134.6 1433M122.2 1433L134.6 1420.6" stroke="#ee3124" stroke-width="1.5" fill="none"/>
<rect x="191.8" y="1452.5" width="12.4" height="12.4" stroke="#ee3124" stroke-width="1.5" fill="none"/><path d="M191.8 1452.5L204.2 1464.9M191.8 1464.9L204.2 1452.5" stroke="#ee3124" stroke-width="1.5" fill="none"/>
<rect x="261.4" y="1432" width="12.4" height="12.4" stroke="#ee3124" stroke-width="1.5" fill="none"/><path d="M261.4 1432L273.8 1444.4M261.4 1444.4L273.8 1432" stroke="#ee3124" stroke-width="1.5" fill="none"/>
<rect x="331" y="1515" width="12.4" height="12.4" stroke="#ee3124" stroke-width="1.5" fill="none"/><path d="M331 1515L343.4 1527.4M331 1527.4L343.4 1515" stroke="#ee3124" stroke-width="1.5" fill="none"/>
<rect x="400.5" y="1581.3" width="12.4" height="12.4" stroke="#ee3124" stroke-width="1.5" fill="none"/><path d="M400.5 1581.3L412.9 1593.7M400.5 1593.7L412.9 1581.3" stroke="#ee3124" stroke-width="1.5" fill="none"/>
<rect x="470.1" y="1558.3" width="12.4" height="12.4" stroke="#ee3124" stroke-width="1.5" fill="none"/><path d="M470.1 1558.3L482.5 1570.7M470.1 1570.7L482.5 1558.3" stroke="#ee3124" stroke-width="1.5" fill="none"/>
<circle cx="128.4" cy="1461.2" r="6.2" stroke="#ee3124" stroke-width="1.5" fill="none"/><path d="M122.2 1461.2L134.6 1461.2M125.3 1455.8L131.5 1466.6M131.5 1455.8L125.3 1466.6" stroke="#ee3124" stroke-width="1.5" fill="none"/><circle cx="128.4" cy="1461.2" r="2.8" fill="#ee3124"/>
<circle cx="198" cy="1468.9" r="6.2" stroke="#ee3124" stroke-width="1.5" fill="none"/><path d="M191.8 1468.9L204.2 1468.9M194.9 1463.5L201.1 1474.2M201.1 1463.5L194.9 1474.2" stroke="#ee3124" stroke-width="1.5" fill="none"/><circle cx="198" cy="1468.9" r="2.8" fill="#ee3124"/>
<circle cx="267.6" cy="1484.2" r="6.2" stroke="#ee3124" stroke-width="1.5" fill="none"/><path d="M261.4 1484.2L273.8 1484.2M264.5 1478.8L270.7 1489.5M270.7 1478.8L264.5 1489.5" stroke="#ee3124" stroke-width="1.5" fill="none"/><circle cx="267.6" cy="1484.2" r="2.8" fill="#ee3124"/>
<circle cx="337.2" cy="1539" r="6.2" stroke="#ee3124" stroke-width="1.5" fill="none"/><path d="M331 1539L343.4 1539M334.1 1533.7L340.3 1544.4M340.3 1533.7L334.1 1544.4" stroke="#ee3124" stroke-width="1.5" fill="none"/><circle cx="337.2" cy="1539" r="2.8" fill="#ee3124"/>
<circle cx="406.7" cy="1540.3" r="6.2" stroke="#ee3124" stroke-width="1.5" fill="none"/><path d="M400.5 1540.3L412.9 1540.3M403.6 1534.9L409.8 1545.7M409.8 1534.9L403.6 1545.7" stroke="#ee3124" stroke-width="1.5" fill="none"/><circle cx="406.7" cy="1540.3" r="2.8" fill="#ee3124"/>
<circle cx="476.3" cy="1532.1" r="6.2" stroke="#ee3124" stroke-width="1.5" fill="none"/><path d="M470.1 1532.1L482.5 1532.1M473.2 1526.8L479.4 1537.5M479.4 1526.8L473.2 1537.5" stroke="#ee3124" stroke-width="1.5" fill="none"/><circle cx="476.3" cy="1532.1" r="2.8" fill="#ee3124"/>
<path d="M128.4 1454.1L135.5 1461.2L128.4 1468.3L121.3 1461.2Z" stroke="#ee3124" stroke-width="1.5" fill="none"/><path d="M128.4 1454.1L121.3 1461.2L128.4 1468.3Z" fill="#ee3124"/>
<path d="M198 1494.9L205.1 1502L198 1509.2L190.9 1502Z" stroke="#ee3124" stroke-width="1.5" fill="none"/><path d="M198 1494.9L190.9 1502L198 1509.2Z" fill="#ee3124"/>
<path d="M267.6 1566.3L274.7 1573.5L267.6 1580.6L260.4 1573.5Z" stroke="#ee3124" stroke-width="1.5" fill="none"/><path d="M267.6 1566.3L260.4 1573.5L267.6 1580.6Z" fill="#ee3124"/>
<path d="M337.2 1636.5L344.3 1643.6L337.2 1650.8L330 1643.6Z" stroke="#ee3124" stroke-width="1.5" fill="none"/><path d="M337.2 1636.5L330 1643.6L337.2 1650.8Z" fill="#ee3124"/>
<path d="M406.7 1659.5L413.9 1666.6L406.7 1673.7L399.6 1666.6Z" stroke="#ee3124" stroke-width="1.5" fill="none"/><path d="M406.7 1659.5L399.6 1666.6L406.7 1673.7Z" fill="#ee3124"/>
<path d="M476.3 1648.7L483.4 1655.9L476.3 1663L469.2 1655.9Z" stroke="#ee3124" stroke-width="1.5" fill="none"/><path d="M476.3 1648.7L469.2 1655.9L476.3 1663Z" fill="#ee3124"/>
<path d="M128.4 1456.6L135.5 1463.8L128.4 1470.9L121.3 1463.8Z" stroke="#ee3124" stroke-width="1.5" fill="none"/>
<path d="M198 1482.1L205.1 1489.3L198 1496.4L190.9 1489.3Z" stroke="#ee3124" stroke-width="1.5" fill="none"/>
<path d="M267.6 1521.2L274.7 1528.3L267.6 1535.4L260.4 1528.3Z" stroke="#ee3124" stroke-width="1.5" fill="none"/>
<path d="M337.2 1568.9L344.3 1576L337.2 1583.1L330 1576Z" stroke="#ee3124" stroke-width="1.5" fill="none"/>
<path d="M406.7 1584.2L413.9 1591.3L406.7 1598.5L399.6 1591.3Z" stroke="#ee3124" stroke-width="1.5" fill="none"/>
<path d="M476.3 1590.6L483.4 1597.7L476.3 1604.8L469.2 1597.7Z" stroke="#ee3124" stroke-width="1.5" fill="none"/>
<line x1="581.6" y1="1372.1" x2="628.8" y2="1372.1" stroke="#ee3124" stroke-width="1.5"/>
<path d="M599.7 1372.1L610.7 1372.1M601.3 1368.2L609.1 1376M605.2 1366.6L605.2 1377.6M609.1 1368.2L601.3 1376" stroke="#ee3124" stroke-width="1.5" fill="none"/>
<text x="645.4" y="1381.6" font-size="27.6" textLength="118.9" lengthAdjust="spacingAndGlyphs">NCI-H290</text>
<line x1="581.6" y1="1407.1" x2="628.8" y2="1407.1" stroke="#ee3124" stroke-width="1.5"/>
<path d="M605.2 1401.2L606.7 1405.1L610.9 1405.3L607.6 1407.9L608.7 1412L605.2 1409.6L601.7 1412L602.8 1407.9L599.5 1405.3L603.7 1405.1Z" fill="#ee3124"/>
<text x="645.4" y="1416.6" font-size="27.6" textLength="134.2" lengthAdjust="spacingAndGlyphs">NCI-H2591</text>
<line x1="581.6" y1="1442.2" x2="628.8" y2="1442.2" stroke="#ee3124" stroke-width="1.5"/>
<path d="M600 1442.2H610.4M605.2 1437V1447.4" stroke="#ee3124" stroke-width="1.5" fill="none"/>
<text x="645.4" y="1451.7" font-size="27.6" textLength="134.2" lengthAdjust="spacingAndGlyphs">NCI-H2373</text>
<line x1="581.6" y1="1477.2" x2="628.8" y2="1477.2" stroke="#ee3124" stroke-width="1.5"/>
<path d="M600 1472L610.4 1482.5M600 1482.5L610.4 1472" stroke="#ee3124" stroke-width="1.5" fill="none"/>
<text x="645.4" y="1486.8" font-size="27.6" textLength="134.2" lengthAdjust="spacingAndGlyphs">NCI-H2369</text>
<line x1="581.6" y1="1512.3" x2="628.8" y2="1512.3" stroke="#ee3124" stroke-width="1.5"/>
<circle cx="605.2" cy="1512.3" r="5.2" stroke="#ee3124" stroke-width="1.5" fill="none"/><circle cx="605.2" cy="1512.3" r="2.9" fill="#ee3124"/>
<text x="645.4" y="1521.8" font-size="27.6" textLength="134.2" lengthAdjust="spacingAndGlyphs">NCI-H2803</text>
<line x1="581.6" y1="1547.3" x2="628.8" y2="1547.3" stroke="#ee3124" stroke-width="1.5"/>
<rect x="600" y="1542.1" width="10.4" height="10.4" stroke="#ee3124" stroke-width="1.5" fill="none"/><rect x="602.6" y="1544.8" width="5.2" height="5.2" fill="#ee3124"/>
<text x="645.4" y="1556.8" font-size="27.6" textLength="134.2" lengthAdjust="spacingAndGlyphs">NCI-H2804</text>
<line x1="581.6" y1="1582.4" x2="628.8" y2="1582.4" stroke="#ee3124" stroke-width="1.5"/>
<circle cx="605.2" cy="1582.4" r="5.2" stroke="#ee3124" stroke-width="1.5" fill="none"/><path d="M601.5 1578.7L608.9 1586.1M601.5 1586.1L608.9 1578.7" stroke="#ee3124" stroke-width="1.5" fill="none"/>
<text x="645.4" y="1591.9" font-size="27.6" textLength="134.2" lengthAdjust="spacingAndGlyphs">NCI-H2722</text>
<line x1="581.6" y1="1617.4" x2="628.8" y2="1617.4" stroke="#ee3124" stroke-width="1.5"/>
<rect x="600" y="1612.2" width="10.4" height="10.4" stroke="#ee3124" stroke-width="1.5" fill="none"/><path d="M600 1612.2L610.4 1622.6M600 1622.6L610.4 1612.2" stroke="#ee3124" stroke-width="1.5" fill="none"/>
<text x="645.4" y="1626.9" font-size="27.6" textLength="134.2" lengthAdjust="spacingAndGlyphs">NCI-H2691</text>
<line x1="581.6" y1="1652.5" x2="628.8" y2="1652.5" stroke="#ee3124" stroke-width="1.5"/>
<circle cx="605.2" cy="1652.5" r="5.2" stroke="#ee3124" stroke-width="1.5" fill="none"/><path d="M600 1652.5L610.4 1652.5M602.6 1648L607.8 1657M607.8 1648L602.6 1657" stroke="#ee3124" stroke-width="1.5" fill="none"/><circle cx="605.2" cy="1652.5" r="2.3" fill="#ee3124"/>
<text x="645.4" y="1662" font-size="27.6" textLength="134.2" lengthAdjust="spacingAndGlyphs">NCI-H2596</text>
<line x1="581.6" y1="1687.5" x2="628.8" y2="1687.5" stroke="#ee3124" stroke-width="1.5"/>
<path d="M605.2 1681.6L611.2 1687.5L605.2 1693.5L599.2 1687.5Z" stroke="#ee3124" stroke-width="1.5" fill="none"/><path d="M605.2 1681.6L599.2 1687.5L605.2 1693.5Z" fill="#ee3124"/>
<text x="645.4" y="1697" font-size="27.6" textLength="118.9" lengthAdjust="spacingAndGlyphs">NCI-H226</text>
<line x1="581.6" y1="1722.6" x2="628.8" y2="1722.6" stroke="#ee3124" stroke-width="1.5"/>
<path d="M605.2 1716.6L611.2 1722.6L605.2 1728.6L599.2 1722.6Z" stroke="#ee3124" stroke-width="1.5" fill="none"/>
<text x="645.4" y="1732.1" font-size="27.6" textLength="51.8" lengthAdjust="spacingAndGlyphs">JL-1</text>
</g>
<g id="pi">
<path d="M1102 1371.1L1113.5 1374.9L1125 1378.6L1136.5 1382.4L1148 1386.1L1159.5 1389.9L1171 1393.6L1182.5 1397.4L1194 1401.1L1205.5 1404.8L1217 1408.5L1228.5 1412.3L1240 1416L1251.5 1419.7L1263 1423.4L1274.5 1427.1L1286 1430.7L1297.5 1434.4L1309 1438L1320.5 1441.7L1332 1445.3L1343.4 1448.8L1354.9 1452.4L1366.4 1455.8L1377.9 1459.3L1389.4 1462.7L1400.9 1466L1412.4 1469.2L1423.9 1472.3L1435.4 1475.2L1446.9 1478.1L1458.4 1480.8L1469.9 1483.4L1481.4 1485.9L1492.9 1488.2L1504.4 1490.5L1515.9 1492.6L1527.4 1494.7L1538.9 1496.8L1550.4 1498.8L1561.9 1500.7L1561.9 1526.5L1550.4 1523L1538.9 1519.5L1527.4 1516L1515.9 1512.6L1504.4 1509.3L1492.9 1506L1481.4 1502.8L1469.9 1499.8L1458.4 1496.9L1446.9 1494.1L1435.4 1491.5L1423.9 1488.9L1412.4 1486.5L1400.9 1484.3L1389.4 1482.1L1377.9 1479.9L1366.4 1477.9L1354.9 1475.9L1343.4 1473.9L1332 1472L1320.5 1470L1309 1468.2L1297.5 1466.3L1286 1464.5L1274.5 1462.6L1263 1460.8L1251.5 1459L1240 1457.2L1228.5 1455.4L1217 1453.7L1205.5 1451.9L1194 1450.1L1182.5 1448.3L1171 1446.6L1159.5 1444.8L1148 1443.1L1136.5 1441.3L1125 1439.6L1113.5 1437.8L1102 1436.1Z" fill="#999"/>
<line x1="1102" y1="1403.6" x2="1561.9" y2="1513.6" stroke="#000" stroke-width="1.8"/>
<g fill="#000"><ellipse cx="1102.4" cy="1455.1" rx="5.9" ry="4.9"/><ellipse cx="1201.5" cy="1409.7" rx="5.9" ry="4.9"/><ellipse cx="1213.5" cy="1414" rx="5.9" ry="4.9"/><ellipse cx="1247.4" cy="1407.3" rx="5.9" ry="4.9"/><ellipse cx="1235.3" cy="1432.7" rx="5.9" ry="4.9"/><ellipse cx="1245.5" cy="1431.7" rx="5.9" ry="4.9"/><ellipse cx="1252.2" cy="1431.7" rx="5.9" ry="4.9"/><ellipse cx="1258.9" cy="1428.3" rx="5.9" ry="4.9"/><ellipse cx="1259.8" cy="1435" rx="5.9" ry="4.9"/><ellipse cx="1243.2" cy="1449.9" rx="5.9" ry="4.9"/><ellipse cx="1253.1" cy="1467.7" rx="5.9" ry="4.9"/><ellipse cx="1273.2" cy="1489.1" rx="5.9" ry="4.9"/><ellipse cx="1292.4" cy="1389.7" rx="5.9" ry="4.9"/><ellipse cx="1291.4" cy="1426" rx="5.9" ry="4.9"/><ellipse cx="1287.6" cy="1434.6" rx="5.9" ry="4.9"/><ellipse cx="1284.1" cy="1448.4" rx="5.9" ry="4.9"/><ellipse cx="1295.8" cy="1454.1" rx="5.9" ry="4.9"/><ellipse cx="1326.2" cy="1389.7" rx="5.9" ry="4.9"/><ellipse cx="1319.5" cy="1403.6" rx="5.9" ry="4.9"/><ellipse cx="1316.7" cy="1413" rx="5.9" ry="4.9"/><ellipse cx="1331.6" cy="1420.8" rx="5.9" ry="4.9"/><ellipse cx="1355.5" cy="1428.3" rx="5.9" ry="4.9"/><ellipse cx="1358.4" cy="1433.1" rx="5.9" ry="4.9"/><ellipse cx="1359.7" cy="1439.4" rx="5.9" ry="4.9"/><ellipse cx="1339.2" cy="1442.3" rx="5.9" ry="4.9"/><ellipse cx="1353" cy="1446.5" rx="5.9" ry="4.9"/><ellipse cx="1342.1" cy="1455.1" rx="5.9" ry="4.9"/><ellipse cx="1341.1" cy="1462" rx="5.9" ry="4.9"/><ellipse cx="1352.6" cy="1461.4" rx="5.9" ry="4.9"/><ellipse cx="1359.3" cy="1468.1" rx="5.9" ry="4.9"/><ellipse cx="1377.5" cy="1467.1" rx="5.9" ry="4.9"/><ellipse cx="1350.7" cy="1476.7" rx="5.9" ry="4.9"/><ellipse cx="1351.7" cy="1481.5" rx="5.9" ry="4.9"/><ellipse cx="1367.9" cy="1477.7" rx="5.9" ry="4.9"/><ellipse cx="1372.7" cy="1479.6" rx="5.9" ry="4.9"/><ellipse cx="1368.3" cy="1483.8" rx="5.9" ry="4.9"/><ellipse cx="1326.2" cy="1496.8" rx="5.9" ry="4.9"/><ellipse cx="1331.6" cy="1502.9" rx="5.9" ry="4.9"/><ellipse cx="1350.3" cy="1497.2" rx="5.9" ry="4.9"/><ellipse cx="1326.4" cy="1515" rx="5.9" ry="4.9"/><ellipse cx="1350.3" cy="1515" rx="5.9" ry="4.9"/><ellipse cx="1432.2" cy="1285.2" rx="5.9" ry="4.9"/><ellipse cx="1409.1" cy="1297.3" rx="5.9" ry="4.9"/><ellipse cx="1415" cy="1333.9" rx="5.9" ry="4.9"/><ellipse cx="1393.4" cy="1362.2" rx="5.9" ry="4.9"/><ellipse cx="1508" cy="1362.2" rx="5.9" ry="4.9"/><ellipse cx="1505.5" cy="1369.5" rx="5.9" ry="4.9"/><ellipse cx="1497.8" cy="1387.5" rx="5.9" ry="4.9"/><ellipse cx="1503.6" cy="1387.5" rx="5.9" ry="4.9"/><ellipse cx="1541.9" cy="1405.2" rx="5.9" ry="4.9"/><ellipse cx="1388.8" cy="1413" rx="5.9" ry="4.9"/><ellipse cx="1385.6" cy="1432" rx="5.9" ry="4.9"/><ellipse cx="1391.1" cy="1432.3" rx="5.9" ry="4.9"/><ellipse cx="1396.1" cy="1443.8" rx="5.9" ry="4.9"/><ellipse cx="1390.3" cy="1450.8" rx="5.9" ry="4.9"/><ellipse cx="1400.5" cy="1453.1" rx="5.9" ry="4.9"/><ellipse cx="1402.3" cy="1459.4" rx="5.9" ry="4.9"/><ellipse cx="1454.1" cy="1439.4" rx="5.9" ry="4.9"/><ellipse cx="1427.5" cy="1454.2" rx="5.9" ry="4.9"/><ellipse cx="1474.7" cy="1444.5" rx="5.9" ry="4.9"/><ellipse cx="1480.2" cy="1444.8" rx="5.9" ry="4.9"/><ellipse cx="1493" cy="1437.5" rx="5.9" ry="4.9"/><ellipse cx="1498.1" cy="1437" rx="5.9" ry="4.9"/><ellipse cx="1508.8" cy="1438.8" rx="5.9" ry="4.9"/><ellipse cx="1515.6" cy="1448" rx="5.9" ry="4.9"/><ellipse cx="1520.5" cy="1455" rx="5.9" ry="4.9"/><ellipse cx="1505.2" cy="1455.9" rx="5.9" ry="4.9"/><ellipse cx="1528.6" cy="1439.8" rx="5.9" ry="4.9"/><ellipse cx="1533.3" cy="1436.7" rx="5.9" ry="4.9"/><ellipse cx="1538.8" cy="1434.4" rx="5.9" ry="4.9"/><ellipse cx="1541.9" cy="1430.5" rx="5.9" ry="4.9"/><ellipse cx="1544.2" cy="1432" rx="5.9" ry="4.9"/><ellipse cx="1539.1" cy="1445" rx="5.9" ry="4.9"/><ellipse cx="1538.3" cy="1451.2" rx="5.9" ry="4.9"/><ellipse cx="1550.2" cy="1451.2" rx="5.9" ry="4.9"/><ellipse cx="1550.2" cy="1466.4" rx="5.9" ry="4.9"/><ellipse cx="1469.7" cy="1462" rx="5.9" ry="4.9"/><ellipse cx="1455.6" cy="1466.9" rx="5.9" ry="4.9"/><ellipse cx="1426.7" cy="1469.2" rx="5.9" ry="4.9"/><ellipse cx="1438" cy="1468.3" rx="5.9" ry="4.9"/><ellipse cx="1439.5" cy="1472.7" rx="5.9" ry="4.9"/><ellipse cx="1407" cy="1475" rx="5.9" ry="4.9"/><ellipse cx="1405.9" cy="1479.7" rx="5.9" ry="4.9"/><ellipse cx="1423.6" cy="1481.2" rx="5.9" ry="4.9"/><ellipse cx="1429.1" cy="1489.8" rx="5.9" ry="4.9"/><ellipse cx="1439.5" cy="1489.1" rx="5.9" ry="4.9"/><ellipse cx="1446.1" cy="1485.2" rx="5.9" ry="4.9"/><ellipse cx="1459.8" cy="1476.1" rx="5.9" ry="4.9"/><ellipse cx="1461.4" cy="1481.2" rx="5.9" ry="4.9"/><ellipse cx="1466.9" cy="1481.2" rx="5.9" ry="4.9"/><ellipse cx="1461.1" cy="1489.1" rx="5.9" ry="4.9"/><ellipse cx="1490.3" cy="1468" rx="5.9" ry="4.9"/><ellipse cx="1497.8" cy="1464.5" rx="5.9" ry="4.9"/><ellipse cx="1494.2" cy="1473.4" rx="5.9" ry="4.9"/><ellipse cx="1518.1" cy="1466.7" rx="5.9" ry="4.9"/><ellipse cx="1510.9" cy="1475.5" rx="5.9" ry="4.9"/><ellipse cx="1532.8" cy="1478.9" rx="5.9" ry="4.9"/><ellipse cx="1516.9" cy="1483.6" rx="5.9" ry="4.9"/><ellipse cx="1521.6" cy="1485.9" rx="5.9" ry="4.9"/><ellipse cx="1546.2" cy="1485.9" rx="5.9" ry="4.9"/><ellipse cx="1546.6" cy="1488.3" rx="5.9" ry="4.9"/><ellipse cx="1533.3" cy="1490.6" rx="5.9" ry="4.9"/><ellipse cx="1527.8" cy="1492.2" rx="5.9" ry="4.9"/><ellipse cx="1485.6" cy="1490.6" rx="5.9" ry="4.9"/><ellipse cx="1488" cy="1493" rx="5.9" ry="4.9"/><ellipse cx="1394.2" cy="1496.1" rx="5.9" ry="4.9"/><ellipse cx="1383" cy="1505.8" rx="5.9" ry="4.9"/><ellipse cx="1406.7" cy="1503.1" rx="5.9" ry="4.9"/><ellipse cx="1411.4" cy="1505.8" rx="5.9" ry="4.9"/><ellipse cx="1420.5" cy="1502.3" rx="5.9" ry="4.9"/><ellipse cx="1463.4" cy="1506.6" rx="5.9" ry="4.9"/><ellipse cx="1449.4" cy="1512.8" rx="5.9" ry="4.9"/><ellipse cx="1455.2" cy="1518.6" rx="5.9" ry="4.9"/><ellipse cx="1477" cy="1515.2" rx="5.9" ry="4.9"/><ellipse cx="1429.4" cy="1524.5" rx="5.9" ry="4.9"/><ellipse cx="1430.6" cy="1528.4" rx="5.9" ry="4.9"/><ellipse cx="1470" cy="1526.1" rx="5.9" ry="4.9"/><ellipse cx="1473.9" cy="1526.1" rx="5.9" ry="4.9"/><ellipse cx="1472.3" cy="1498" rx="5.9" ry="4.9"/><ellipse cx="1477.8" cy="1499.5" rx="5.9" ry="4.9"/><ellipse cx="1484.1" cy="1502.7" rx="5.9" ry="4.9"/><ellipse cx="1489.5" cy="1502.7" rx="5.9" ry="4.9"/><ellipse cx="1507.5" cy="1499.5" rx="5.9" ry="4.9"/><ellipse cx="1503.3" cy="1508.6" rx="5.9" ry="4.9"/><ellipse cx="1493.4" cy="1514.4" rx="5.9" ry="4.9"/><ellipse cx="1528.6" cy="1505.8" rx="5.9" ry="4.9"/><ellipse cx="1539.5" cy="1498" rx="5.9" ry="4.9"/><ellipse cx="1551.2" cy="1496.4" rx="5.9" ry="4.9"/><ellipse cx="1550.8" cy="1503.4" rx="5.9" ry="4.9"/><ellipse cx="1552.8" cy="1509.7" rx="5.9" ry="4.9"/><ellipse cx="1552" cy="1516.7" rx="5.9" ry="4.9"/><ellipse cx="1539.5" cy="1515.6" rx="5.9" ry="4.9"/><ellipse cx="1549.7" cy="1520.9" rx="5.9" ry="4.9"/><ellipse cx="1541.9" cy="1521.4" rx="5.9" ry="4.9"/><ellipse cx="1520" cy="1517.5" rx="5.9" ry="4.9"/><ellipse cx="1511.4" cy="1520.9" rx="5.9" ry="4.9"/><ellipse cx="1533.3" cy="1524.5" rx="5.9" ry="4.9"/><ellipse cx="1531.7" cy="1528.4" rx="5.9" ry="4.9"/><ellipse cx="1496.6" cy="1529.2" rx="5.9" ry="4.9"/><ellipse cx="1503.6" cy="1529.2" rx="5.9" ry="4.9"/><ellipse cx="1511.4" cy="1530" rx="5.9" ry="4.9"/><ellipse cx="1513.8" cy="1537.8" rx="5.9" ry="4.9"/><ellipse cx="1511.9" cy="1542" rx="5.9" ry="4.9"/><ellipse cx="1520.8" cy="1545.2" rx="5.9" ry="4.9"/><ellipse cx="1526.2" cy="1545.2" rx="5.9" ry="4.9"/><ellipse cx="1536.9" cy="1545.6" rx="5.9" ry="4.9"/><ellipse cx="1555.9" cy="1538.6" rx="5.9" ry="4.9"/><ellipse cx="1551.2" cy="1543.3" rx="5.9" ry="4.9"/><ellipse cx="1497.3" cy="1544.1" rx="5.9" ry="4.9"/><ellipse cx="1450.5" cy="1540.2" rx="5.9" ry="4.9"/><ellipse cx="1444.2" cy="1547.5" rx="5.9" ry="4.9"/><ellipse cx="1500.2" cy="1555.3" rx="5.9" ry="4.9"/><ellipse cx="1531.4" cy="1554.7" rx="5.9" ry="4.9"/><ellipse cx="1561.4" cy="1560.5" rx="5.9" ry="4.9"/><ellipse cx="1558.3" cy="1562.8" rx="5.9" ry="4.9"/><ellipse cx="1449.7" cy="1558.9" rx="5.9" ry="4.9"/><ellipse cx="1452.8" cy="1567.5" rx="5.9" ry="4.9"/><ellipse cx="1442.3" cy="1569.1" rx="5.9" ry="4.9"/><ellipse cx="1472" cy="1567.5" rx="5.9" ry="4.9"/><ellipse cx="1490.3" cy="1565.2" rx="5.9" ry="4.9"/><ellipse cx="1498.1" cy="1568" rx="5.9" ry="4.9"/><ellipse cx="1507.2" cy="1568" rx="5.9" ry="4.9"/><ellipse cx="1518.1" cy="1569.1" rx="5.9" ry="4.9"/><ellipse cx="1447.3" cy="1579.7" rx="5.9" ry="4.9"/><ellipse cx="1451.2" cy="1579.7" rx="5.9" ry="4.9"/><ellipse cx="1504.4" cy="1584.2" rx="5.9" ry="4.9"/><ellipse cx="1541.4" cy="1582.7" rx="5.9" ry="4.9"/><ellipse cx="1525" cy="1586.2" rx="5.9" ry="4.9"/><ellipse cx="1523.1" cy="1593.3" rx="5.9" ry="4.9"/><ellipse cx="1457.5" cy="1594.1" rx="5.9" ry="4.9"/><ellipse cx="1479.1" cy="1597.7" rx="5.9" ry="4.9"/><ellipse cx="1442.3" cy="1608.9" rx="5.9" ry="4.9"/><ellipse cx="1461.7" cy="1609.4" rx="5.9" ry="4.9"/><ellipse cx="1446.6" cy="1628.4" rx="5.9" ry="4.9"/><ellipse cx="1451.6" cy="1628.4" rx="5.9" ry="4.9"/><ellipse cx="1533.8" cy="1640.6" rx="5.9" ry="4.9"/><ellipse cx="1514.8" cy="1647.2" rx="5.9" ry="4.9"/></g>
<rect x="1078.3" y="1252.3" width="524.3" height="527.7" fill="none" stroke="#111" stroke-width="1.3"/>
<line x1="1069.3" y1="1780" x2="1078.3" y2="1780" stroke="#333" stroke-width="1.3"/>
<text x="1059.3" y="1787.6" font-size="23.5" text-anchor="end" textLength="13.7" lengthAdjust="spacingAndGlyphs">0</text>
<line x1="1069.3" y1="1591.4" x2="1078.3" y2="1591.4" stroke="#333" stroke-width="1.3"/>
<text x="1059.3" y="1599" font-size="23.5" text-anchor="end" textLength="34.3" lengthAdjust="spacingAndGlyphs">0.5</text>
<line x1="1069.3" y1="1403" x2="1078.3" y2="1403" stroke="#333" stroke-width="1.3"/>
<text x="1059.3" y="1410.6" font-size="23.5" text-anchor="end" textLength="34.3" lengthAdjust="spacingAndGlyphs">1.0</text>
<line x1="1233.8" y1="1780" x2="1233.8" y2="1789" stroke="#333" stroke-width="1.3"/>
<text x="1233.8" y="1820.5" font-size="23.5" text-anchor="middle" textLength="34.3" lengthAdjust="spacingAndGlyphs">0.3</text>
<line x1="1433.5" y1="1780" x2="1433.5" y2="1789" stroke="#333" stroke-width="1.3"/>
<text x="1433.5" y="1820.5" font-size="23.5" text-anchor="middle" textLength="34.3" lengthAdjust="spacingAndGlyphs">0.4</text>
<text x="956" y="1520" font-size="27.6" text-anchor="middle" transform="rotate(-90 956 1520)" textLength="168.9" lengthAdjust="spacingAndGlyphs">Mean viability</text>
<text x="987.5" y="1516" font-size="27.6" text-anchor="middle" transform="rotate(-90 987.5 1516)" textLength="333.8" lengthAdjust="spacingAndGlyphs">under GNE-7883 treatment</text>
<text x="1113" y="1301" font-size="27.6"><tspan font-style="italic">ρ</tspan> = −0.35</text>
<text x="1113" y="1335" font-size="27.6"><tspan font-style="italic">P</tspan> = 9.2<tspan dx="3">×</tspan><tspan dx="3">10</tspan><tspan font-size="17" dy="-12">−7</tspan></text>
</g>
<g id="pj">
<line x1="142.3" y1="2039.6" x2="142.3" y2="2051.5" stroke="#000" stroke-width="1.6"/>
<line x1="136.3" y1="2039.6" x2="148.3" y2="2039.6" stroke="#000" stroke-width="1.6"/>
<line x1="136.3" y1="2051.5" x2="148.3" y2="2051.5" stroke="#000" stroke-width="1.6"/>
<rect x="125" y="2043.4" width="34.6" height="6.8" fill="#3b55a5" stroke="#000" stroke-width="1.4"/>
<line x1="125" y1="2046.6" x2="159.6" y2="2046.6" stroke="#000" stroke-width="1.6"/>
<circle cx="142.3" cy="2039.8" r="5.2" fill="#000"/>
<circle cx="142.3" cy="2051.2" r="5.2" fill="#000"/>
<rect x="125" y="2045.2" width="34.6" height="2.6" fill="#3b55a5"/>
<line x1="251.5" y1="2101.8" x2="251.5" y2="2160.7" stroke="#000" stroke-width="1.6"/>
<line x1="245.5" y1="2101.8" x2="257.5" y2="2101.8" stroke="#000" stroke-width="1.6"/>
<line x1="245.5" y1="2160.7" x2="257.5" y2="2160.7" stroke="#000" stroke-width="1.6"/>
<rect x="234.5" y="2116.4" width="34" height="40.4" fill="#1b6b37" stroke="#000" stroke-width="1.4"/>
<line x1="234.5" y1="2142.5" x2="268.5" y2="2142.5" stroke="#000" stroke-width="1.6"/>
<circle cx="251.5" cy="2101.8" r="5.2" fill="#000"/>
<circle cx="251.5" cy="2132" r="5.2" fill="#000"/>
<circle cx="251.5" cy="2154.6" r="5.2" fill="#000"/>
<circle cx="251.5" cy="2160" r="5.2" fill="#000"/>
<line x1="352.3" y1="2213.2" x2="352.3" y2="2277.9" stroke="#000" stroke-width="1.6"/>
<line x1="346.3" y1="2213.2" x2="358.3" y2="2213.2" stroke="#000" stroke-width="1.6"/>
<line x1="346.3" y1="2277.9" x2="358.3" y2="2277.9" stroke="#000" stroke-width="1.6"/>
<rect x="335.5" y="2225.4" width="33.6" height="31.6" fill="#ed1c24" stroke="#000" stroke-width="1.4"/>
<line x1="335.5" y1="2237.5" x2="369.1" y2="2237.5" stroke="#000" stroke-width="1.6"/>
<circle cx="352.3" cy="2213.2" r="5.2" fill="#000"/>
<circle cx="352.3" cy="2237.5" r="5.2" fill="#000"/>
<circle cx="352.3" cy="2277.9" r="5.2" fill="#000"/>
<path d="M251.5 2104V2286.4M246.9 2104H256.1M246.9 2286.4H256.1" stroke="#3b55a5" stroke-width="1.8" fill="none"/>
<circle cx="251.5" cy="2195.7" r="5.8" fill="#3b55a5"/>
<path d="M352.3 1957.5V2117M347.7 1957.5H356.9M347.7 2117H356.9" stroke="#3b55a5" stroke-width="1.8" fill="none"/>
<circle cx="352.3" cy="2037.5" r="5.8" fill="#3b55a5"/>
<rect x="116" y="1917.9" width="276.9" height="370.7" fill="none" stroke="#222" stroke-width="1.3"/>
<line x1="103.5" y1="1932.1" x2="116" y2="1932.1" stroke="#333" stroke-width="1.3"/>
<text x="92.5" y="1941.8" font-size="23.5" text-anchor="end" textLength="34.3" lengthAdjust="spacingAndGlyphs">0.5</text>
<line x1="103.5" y1="2046.2" x2="116" y2="2046.2" stroke="#333" stroke-width="1.3"/>
<text x="92.5" y="2055.9" font-size="23.5" text-anchor="end" textLength="13.7" lengthAdjust="spacingAndGlyphs">0</text>
<line x1="103.5" y1="2160.7" x2="116" y2="2160.7" stroke="#333" stroke-width="1.3"/>
<text x="92.5" y="2170.4" font-size="23.5" text-anchor="end" textLength="48.7" lengthAdjust="spacingAndGlyphs">−0.5</text>
<line x1="103.5" y1="2275.4" x2="116" y2="2275.4" stroke="#333" stroke-width="1.3"/>
<text x="92.5" y="2285.1" font-size="23.5" text-anchor="end" textLength="48.7" lengthAdjust="spacingAndGlyphs">−1.0</text>
<line x1="392.9" y1="1932.1" x2="404.9" y2="1932.1" stroke="#333" stroke-width="1.3"/>
<text x="424" y="1940.2" font-size="23.5" textLength="41.2" lengthAdjust="spacingAndGlyphs">250</text>
<line x1="392.9" y1="2000.6" x2="404.9" y2="2000.6" stroke="#333" stroke-width="1.3"/>
<text x="424" y="2008.7" font-size="23.5" textLength="41.2" lengthAdjust="spacingAndGlyphs">200</text>
<line x1="392.9" y1="2069.3" x2="404.9" y2="2069.3" stroke="#333" stroke-width="1.3"/>
<text x="424" y="2077.4" font-size="23.5" textLength="41.2" lengthAdjust="spacingAndGlyphs">150</text>
<line x1="392.9" y1="2137.9" x2="404.9" y2="2137.9" stroke="#333" stroke-width="1.3"/>
<text x="424" y="2146" font-size="23.5" textLength="41.2" lengthAdjust="spacingAndGlyphs">100</text>
<line x1="392.9" y1="2206.6" x2="404.9" y2="2206.6" stroke="#333" stroke-width="1.3"/>
<text x="424" y="2214.7" font-size="23.5" textLength="27.4" lengthAdjust="spacingAndGlyphs">50</text>
<line x1="392.9" y1="2275.4" x2="404.9" y2="2275.4" stroke="#333" stroke-width="1.3"/>
<text x="424" y="2283.5" font-size="23.5" textLength="13.7" lengthAdjust="spacingAndGlyphs">0</text>
<line x1="146.4" y1="2288.6" x2="146.4" y2="2300.6" stroke="#333" stroke-width="1.3"/>
<line x1="251.5" y1="2288.6" x2="251.5" y2="2300.6" stroke="#333" stroke-width="1.3"/>
<line x1="352.3" y1="2288.6" x2="352.3" y2="2300.6" stroke="#333" stroke-width="1.3"/>
<text x="23.2" y="2104" font-size="27.6" text-anchor="middle" transform="rotate(-90 23.2 2104)" textLength="261.5" lengthAdjust="spacingAndGlyphs">YAP/TAZ target score</text>
<text x="500" y="2103" font-size="27.6" text-anchor="middle" fill="#3b55a5" transform="rotate(90 500 2103)" textLength="304.0" lengthAdjust="spacingAndGlyphs">[Free drug (blood)] (nM)</text>
<text x="163" y="2323" font-size="23.3" text-anchor="end" transform="rotate(-45 163 2323)">Veh.</text>
<text x="264" y="2323" font-size="23.3" text-anchor="end" transform="rotate(-45 264 2323)">GNE-7883</text>
<text x="283" y="2341" font-size="23.3" text-anchor="end" transform="rotate(-45 283 2341)">(100 MPK)</text>
<text x="367" y="2323" font-size="23.3" text-anchor="end" transform="rotate(-45 367 2323)">GNE-7883</text>
<text x="386.5" y="2341" font-size="23.3" text-anchor="end" transform="rotate(-45 386.5 2341)">(250 MPK)</text>
</g>
<g id="pk">
<rect x="693.2" y="1933.2" width="381.4" height="354.7" fill="none" stroke="#333" stroke-width="1.3"/>
<line x1="681.2" y1="1982.5" x2="693.2" y2="1982.5" stroke="#333" stroke-width="1.3"/>
<text x="668.2" y="1990.6" font-size="23.5" text-anchor="end" textLength="41.2" lengthAdjust="spacingAndGlyphs">800</text>
<line x1="681.2" y1="2054.8" x2="693.2" y2="2054.8" stroke="#333" stroke-width="1.3"/>
<text x="668.2" y="2062.9" font-size="23.5" text-anchor="end" textLength="41.2" lengthAdjust="spacingAndGlyphs">600</text>
<line x1="681.2" y1="2127" x2="693.2" y2="2127" stroke="#333" stroke-width="1.3"/>
<text x="668.2" y="2135.1" font-size="23.5" text-anchor="end" textLength="41.2" lengthAdjust="spacingAndGlyphs">400</text>
<line x1="681.2" y1="2199.3" x2="693.2" y2="2199.3" stroke="#333" stroke-width="1.3"/>
<text x="668.2" y="2207.4" font-size="23.5" text-anchor="end" textLength="41.2" lengthAdjust="spacingAndGlyphs">200</text>
<line x1="681.2" y1="2271.8" x2="693.2" y2="2271.8" stroke="#333" stroke-width="1.3"/>
<text x="668.2" y="2279.9" font-size="23.5" text-anchor="end" textLength="13.7" lengthAdjust="spacingAndGlyphs">0</text>
<line x1="710.7" y1="2287.9" x2="710.7" y2="2299.9" stroke="#333" stroke-width="1.3"/>
<text x="710.7" y="2331.5" font-size="23.5" text-anchor="middle" textLength="13.7" lengthAdjust="spacingAndGlyphs">0</text>
<line x1="807.1" y1="2287.9" x2="807.1" y2="2299.9" stroke="#333" stroke-width="1.3"/>
<text x="807.1" y="2331.5" font-size="23.5" text-anchor="middle" textLength="13.7" lengthAdjust="spacingAndGlyphs">5</text>
<line x1="903.6" y1="2287.9" x2="903.6" y2="2299.9" stroke="#333" stroke-width="1.3"/>
<text x="903.6" y="2331.5" font-size="23.5" text-anchor="middle" textLength="27.4" lengthAdjust="spacingAndGlyphs">10</text>
<line x1="1000" y1="2287.9" x2="1000" y2="2299.9" stroke="#333" stroke-width="1.3"/>
<text x="1000" y="2331.5" font-size="23.5" text-anchor="middle" textLength="27.4" lengthAdjust="spacingAndGlyphs">15</text>
<path d="M710.7 2176.1C723.5 2169.5 764.7 2149.4 787.1 2136.8C809.6 2124.2 822.9 2115.8 845.4 2100.4C867.9 2084.9 899.6 2060.4 922.1 2043.9C944.6 2027.5 957.9 2017.6 980.4 2001.8C1002.9 1986 1044.3 1957.7 1057.1 1948.9" stroke="#000" stroke-width="2.8" fill="none"/>
<path d="M710.7 2177.1C723.5 2178.9 764.7 2185.5 787.1 2187.9C809.6 2190.2 822.9 2191.2 845.4 2191.1C867.9 2191 899.6 2188.9 922.1 2187.1C944.6 2185.4 957.9 2183.6 980.4 2180.7C1002.9 2177.8 1044.3 2171.5 1057.1 2169.6" stroke="#ff00e6" stroke-width="2.8" fill="none"/>
<circle cx="710.7" cy="2176.1" r="4" fill="#000"/>
<circle cx="787.1" cy="2136.8" r="4" fill="#000"/>
<circle cx="845.4" cy="2100.4" r="4" fill="#000"/>
<circle cx="922.1" cy="2043.9" r="4" fill="#000"/>
<circle cx="980.4" cy="2001.8" r="4" fill="#000"/>
<circle cx="1057.1" cy="1948.9" r="4" fill="#000"/>
<circle cx="710.7" cy="2177.1" r="4" fill="#ff00e6"/>
<circle cx="787.1" cy="2187.9" r="4" fill="#ff00e6"/>
<circle cx="845.4" cy="2191.1" r="4" fill="#ff00e6"/>
<circle cx="922.1" cy="2187.1" r="4" fill="#ff00e6"/>
<circle cx="980.4" cy="2180.7" r="4" fill="#ff00e6"/>
<circle cx="1057.1" cy="2169.6" r="4" fill="#ff00e6"/>
<text x="733" y="1970.5" font-size="27.6" textLength="118.9" lengthAdjust="spacingAndGlyphs">NCI-H226</text>
<text x="594" y="2110" font-size="27.6" text-anchor="middle" transform="rotate(-90 594 2110)" textLength="268" lengthAdjust="spacingAndGlyphs">Tumor volume (mm<tspan font-size="17" dy="-10">3</tspan><tspan dy="10">)</tspan></text>
<text x="884.5" y="2378" font-size="27.6" text-anchor="middle" textLength="105.7" lengthAdjust="spacingAndGlyphs">Time (d)</text>
<line x1="916" y1="1900" x2="958.6" y2="1900" stroke="#000" stroke-width="2.8"/>
<circle cx="937.3" cy="1900" r="4" fill="#000"/>
<text x="974" y="1908.5" font-size="27.6" textLength="90.5" lengthAdjust="spacingAndGlyphs">Vehicle</text>
<line x1="1111" y1="1900" x2="1154" y2="1900" stroke="#ff00e6" stroke-width="2.8"/>
<circle cx="1132.6" cy="1900" r="4" fill="#ff00e6"/>
<text x="1167.5" y="1908.5" font-size="27.6" textLength="127.0" lengthAdjust="spacingAndGlyphs">GNE-7883</text>
<rect x="1232.9" y="1932.5" width="381.4" height="352.9" fill="none" stroke="#333" stroke-width="1.3"/>
<line x1="1220.9" y1="1946" x2="1232.9" y2="1946" stroke="#333" stroke-width="1.3"/>
<text x="1207.9" y="1954.1" font-size="23.5" text-anchor="end" textLength="41.2" lengthAdjust="spacingAndGlyphs">500</text>
<line x1="1220.9" y1="2010.7" x2="1232.9" y2="2010.7" stroke="#333" stroke-width="1.3"/>
<text x="1207.9" y="2018.8" font-size="23.5" text-anchor="end" textLength="41.2" lengthAdjust="spacingAndGlyphs">400</text>
<line x1="1220.9" y1="2075.4" x2="1232.9" y2="2075.4" stroke="#333" stroke-width="1.3"/>
<text x="1207.9" y="2083.5" font-size="23.5" text-anchor="end" textLength="41.2" lengthAdjust="spacingAndGlyphs">300</text>
<line x1="1220.9" y1="2140" x2="1232.9" y2="2140" stroke="#333" stroke-width="1.3"/>
<text x="1207.9" y="2148.1" font-size="23.5" text-anchor="end" textLength="41.2" lengthAdjust="spacingAndGlyphs">200</text>
<line x1="1220.9" y1="2204.6" x2="1232.9" y2="2204.6" stroke="#333" stroke-width="1.3"/>
<text x="1207.9" y="2212.7" font-size="23.5" text-anchor="end" textLength="41.2" lengthAdjust="spacingAndGlyphs">100</text>
<line x1="1220.9" y1="2269.3" x2="1232.9" y2="2269.3" stroke="#333" stroke-width="1.3"/>
<text x="1207.9" y="2277.4" font-size="23.5" text-anchor="end" textLength="13.7" lengthAdjust="spacingAndGlyphs">0</text>
<line x1="1250.4" y1="2285.4" x2="1250.4" y2="2297.4" stroke="#333" stroke-width="1.3"/>
<text x="1250.4" y="2331.5" font-size="23.5" text-anchor="middle" textLength="13.7" lengthAdjust="spacingAndGlyphs">0</text>
<line x1="1329.3" y1="2285.4" x2="1329.3" y2="2297.4" stroke="#333" stroke-width="1.3"/>
<text x="1329.3" y="2331.5" font-size="23.5" text-anchor="middle" textLength="34.3" lengthAdjust="spacingAndGlyphs">2.5</text>
<line x1="1408.2" y1="2285.4" x2="1408.2" y2="2297.4" stroke="#333" stroke-width="1.3"/>
<text x="1408.2" y="2331.5" font-size="23.5" text-anchor="middle" textLength="34.3" lengthAdjust="spacingAndGlyphs">5.0</text>
<line x1="1487.1" y1="2285.4" x2="1487.1" y2="2297.4" stroke="#333" stroke-width="1.3"/>
<text x="1487.1" y="2331.5" font-size="23.5" text-anchor="middle" textLength="34.3" lengthAdjust="spacingAndGlyphs">7.5</text>
<line x1="1566" y1="2285.4" x2="1566" y2="2297.4" stroke="#333" stroke-width="1.3"/>
<text x="1566" y="2331.5" font-size="23.5" text-anchor="middle" textLength="48.0" lengthAdjust="spacingAndGlyphs">10.0</text>
<path d="M1250.4 2062.5C1266.1 2058 1308.2 2046.9 1345 2035.7C1381.8 2024.5 1429.1 2009.9 1471.1 1995.4C1513 1980.8 1575.8 1956.1 1596.8 1948.2" stroke="#000" stroke-width="2.8" fill="none"/>
<path d="M1250.4 2072.9L1282.1 2051.4L1313.6 2035L1345 2032.5L1376.4 2048.2L1408.2 2076.1L1439.6 2106.4L1471.1 2133.2L1502.5 2152.9L1533.9 2168.2L1565.4 2180.7L1596.8 2191.8" stroke="#ff00e6" stroke-width="2.8" fill="none" stroke-linejoin="round"/>
<circle cx="1250.4" cy="2062.5" r="4" fill="#000"/>
<circle cx="1471.1" cy="1995.4" r="4" fill="#000"/>
<circle cx="1596.8" cy="1948.2" r="4" fill="#000"/>
<circle cx="1250.4" cy="2072.9" r="4" fill="#ff00e6"/>
<circle cx="1345" cy="2032.5" r="4" fill="#ff00e6"/>
<circle cx="1471.1" cy="2133.2" r="4" fill="#ff00e6"/>
<circle cx="1596.8" cy="2191.8" r="4" fill="#ff00e6"/>
<text x="1265" y="1970.5" font-size="27.6" textLength="147.0" lengthAdjust="spacingAndGlyphs">MSTO-211H</text>
<text x="1133" y="2110" font-size="27.6" text-anchor="middle" transform="rotate(-90 1133 2110)" textLength="268" lengthAdjust="spacingAndGlyphs">Tumor volume (mm<tspan font-size="17" dy="-10">3</tspan><tspan dy="10">)</tspan></text>
<text x="1424" y="2378" font-size="27.6" text-anchor="middle" textLength="105.7" lengthAdjust="spacingAndGlyphs">Time (d)</text>
</g>
<defs>
<radialGradient id="w176" cx="48%" cy="49%" r="51%"><stop offset="0" stop-color="#b0b0b0"/><stop offset="0.6" stop-color="#adadad"/><stop offset="0.85" stop-color="#a3a3a3"/><stop offset="0.94" stop-color="#909090"/><stop offset="0.985" stop-color="#494949"/><stop offset="1" stop-color="#050505"/></radialGradient>
<radialGradient id="w160" cx="48%" cy="49%" r="51%"><stop offset="0" stop-color="#a0a0a0"/><stop offset="0.6" stop-color="#9d9d9d"/><stop offset="0.85" stop-color="#939393"/><stop offset="0.94" stop-color="#808080"/><stop offset="0.985" stop-color="#434343"/><stop offset="1" stop-color="#050505"/></radialGradient>
<radialGradient id="w156" cx="48%" cy="49%" r="51%"><stop offset="0" stop-color="#9c9c9c"/><stop offset="0.6" stop-color="#999999"/><stop offset="0.85" stop-color="#8f8f8f"/><stop offset="0.94" stop-color="#7c7c7c"/><stop offset="0.985" stop-color="#414141"/><stop offset="1" stop-color="#050505"/></radialGradient>
<radialGradient id="w152" cx="48%" cy="49%" r="51%"><stop offset="0" stop-color="#989898"/><stop offset="0.6" stop-color="#959595"/><stop offset="0.85" stop-color="#8b8b8b"/><stop offset="0.94" stop-color="#787878"/><stop offset="0.985" stop-color="#3f3f3f"/><stop offset="1" stop-color="#050505"/></radialGradient>
<radialGradient id="w146" cx="48%" cy="49%" r="51%"><stop offset="0" stop-color="#929292"/><stop offset="0.6" stop-color="#8f8f8f"/><stop offset="0.85" stop-color="#858585"/><stop offset="0.94" stop-color="#727272"/><stop offset="0.985" stop-color="#3d3d3d"/><stop offset="1" stop-color="#050505"/></radialGradient>
<radialGradient id="w142" cx="48%" cy="49%" r="51%"><stop offset="0" stop-color="#8e8e8e"/><stop offset="0.6" stop-color="#8b8b8b"/><stop offset="0.85" stop-color="#818181"/><stop offset="0.94" stop-color="#6e6e6e"/><stop offset="0.985" stop-color="#3b3b3b"/><stop offset="1" stop-color="#050505"/></radialGradient>
<radialGradient id="w138" cx="48%" cy="49%" r="51%"><stop offset="0" stop-color="#8a8a8a"/><stop offset="0.6" stop-color="#878787"/><stop offset="0.85" stop-color="#7d7d7d"/><stop offset="0.94" stop-color="#6a6a6a"/><stop offset="0.985" stop-color="#393939"/><stop offset="1" stop-color="#050505"/></radialGradient>
<radialGradient id="w136" cx="48%" cy="49%" r="51%"><stop offset="0" stop-color="#888888"/><stop offset="0.6" stop-color="#858585"/><stop offset="0.85" stop-color="#7b7b7b"/><stop offset="0.94" stop-color="#686868"/><stop offset="0.985" stop-color="#393939"/><stop offset="1" stop-color="#050505"/></radialGradient>
<radialGradient id="w134" cx="48%" cy="49%" r="51%"><stop offset="0" stop-color="#868686"/><stop offset="0.6" stop-color="#838383"/><stop offset="0.85" stop-color="#797979"/><stop offset="0.94" stop-color="#666666"/><stop offset="0.985" stop-color="#383838"/><stop offset="1" stop-color="#050505"/></radialGradient>
<radialGradient id="w140" cx="48%" cy="49%" r="51%"><stop offset="0" stop-color="#8c8c8c"/><stop offset="0.6" stop-color="#898989"/><stop offset="0.85" stop-color="#7f7f7f"/><stop offset="0.94" stop-color="#6c6c6c"/><stop offset="0.985" stop-color="#3a3a3a"/><stop offset="1" stop-color="#050505"/></radialGradient>
<radialGradient id="w144" cx="48%" cy="49%" r="51%"><stop offset="0" stop-color="#909090"/><stop offset="0.6" stop-color="#8d8d8d"/><stop offset="0.85" stop-color="#838383"/><stop offset="0.94" stop-color="#707070"/><stop offset="0.985" stop-color="#3c3c3c"/><stop offset="1" stop-color="#050505"/></radialGradient>
<radialGradient id="w148" cx="48%" cy="49%" r="51%"><stop offset="0" stop-color="#949494"/><stop offset="0.6" stop-color="#919191"/><stop offset="0.85" stop-color="#878787"/><stop offset="0.94" stop-color="#747474"/><stop offset="0.985" stop-color="#3e3e3e"/><stop offset="1" stop-color="#050505"/></radialGradient>
<radialGradient id="w150" cx="48%" cy="49%" r="51%"><stop offset="0" stop-color="#969696"/><stop offset="0.6" stop-color="#939393"/><stop offset="0.85" stop-color="#898989"/><stop offset="0.94" stop-color="#767676"/><stop offset="0.985" stop-color="#3f3f3f"/><stop offset="1" stop-color="#050505"/></radialGradient>
<filter id="wb" x="-10%" y="-10%" width="120%" height="120%"><feGaussianBlur stdDeviation="0.9"/></filter>
<filter id="wd" x="-10%" y="-10%" width="120%" height="120%"><feGaussianBlur stdDeviation="0.4"/></filter>
</defs>
<g id="pb">
<text x="1076.5" y="45.9" font-size="27.6" textLength="294.8" lengthAdjust="spacingAndGlyphs">OVCAR-8 YAP amplified</text>
<text x="1058.5" y="90.6" font-size="27.6" text-anchor="end" textLength="56.0" lengthAdjust="spacingAndGlyphs">[µM]</text>
<text x="1120.3" y="90.6" font-size="27.6" text-anchor="middle" textLength="71.8" lengthAdjust="spacingAndGlyphs">0.016</text>
<text x="1214.6" y="90.6" font-size="27.6" text-anchor="middle" textLength="71.8" lengthAdjust="spacingAndGlyphs">0.049</text>
<text x="1294.4" y="90.6" font-size="27.6" text-anchor="middle" textLength="55.9" lengthAdjust="spacingAndGlyphs">0.15</text>
<text x="1387" y="90.6" font-size="27.6" text-anchor="middle" textLength="55.9" lengthAdjust="spacingAndGlyphs">0.44</text>
<text x="1463" y="90.6" font-size="27.6" text-anchor="middle" textLength="55.9" lengthAdjust="spacingAndGlyphs">1.33</text>
<text x="1560" y="90.6" font-size="27.6" text-anchor="middle" textLength="16.0" lengthAdjust="spacingAndGlyphs">4</text>
<text x="1058.5" y="159.6" font-size="27.6" text-anchor="end" textLength="78.7" lengthAdjust="spacingAndGlyphs">DMSO</text>
<text x="1058.5" y="241.7" font-size="27.6" text-anchor="end" textLength="127.0" lengthAdjust="spacingAndGlyphs">GNE-7883</text>
<rect x="1071.5" y="98.3" width="533.2" height="186.1" fill="#000"/>
<g filter="url(#wb)"><circle cx="1116.5" cy="146.7" r="33.3" fill="url(#w160)"/><circle cx="1115.6" cy="236.2" r="33.3" fill="url(#w176)"/><circle cx="1203" cy="146.7" r="33.3" fill="url(#w156)"/><circle cx="1204" cy="235.3" r="33.3" fill="url(#w160)"/><circle cx="1294.4" cy="146.1" r="33.3" fill="url(#w156)"/><circle cx="1292.5" cy="235.3" r="33.3" fill="url(#w152)"/><circle cx="1381.3" cy="146.7" r="33.3" fill="url(#w156)"/><circle cx="1379.6" cy="237.1" r="33.3" fill="url(#w142)"/><circle cx="1466" cy="145.8" r="33.3" fill="url(#w156)"/><circle cx="1464.8" cy="237.1" r="33.3" fill="url(#w138)"/><circle cx="1557.8" cy="145.3" r="33.3" fill="url(#w156)"/><circle cx="1557" cy="237.9" r="33.3" fill="url(#w138)"/></g>
<g filter="url(#wd)"><path d="M1094.6 153.5h0M1093 145.5h0M1096.3 125.2h0M1146.5 143.3h0M1126.2 171.4h0M1090.3 157h0M1091.5 146.7h0M1147.1 146.2h0M1118.5 127.4h0M1145.3 138.9h0M1134.3 135.5h0M1138.3 157.5h0M1131.6 155.9h0M1120.3 134.3h0M1126.1 171.2h0M1131.3 160h0M1143.6 141.7h0M1121.2 165.4h0M1141.2 164.7h0M1136.3 159.3h0M1102.2 161.6h0M1091 133.8h0M1139.8 131.6h0M1114.5 117h0M1134.1 130.6h0M1145.7 154h0M1115.3 174.5h0M1129.7 172.7h0M1090.1 136.4h0M1139.3 133.6h0M1109.4 149.2h0M1106.5 141.8h0M1141.2 143.7h0M1132.6 166.3h0M1107.3 117.6h0M1090.4 149.6h0M1136.7 157h0M1114.4 121h0M1101.3 167.1h0M1092.8 160.3h0M1103.1 133.3h0M1138 158.6h0M1113.9 127.7h0M1088.8 157.6h0M1139.9 151.1h0M1109.6 126.2h0M1116.4 150h0M1120.2 158.8h0M1089.4 157h0M1122.9 165.8h0M1130.4 133.7h0M1130.7 163h0M1109.3 117.7h0M1101.2 151.6h0M1101.3 131.4h0M1120.9 142.2h0M1105.8 174.2h0M1111.9 148.1h0M1120.7 151.8h0M1099.5 128.6h0M1111 134.1h0M1137.5 148.1h0M1114 164.6h0M1096.4 129.1h0M1124 141.7h0M1130.7 161.8h0M1099.9 162.9h0M1136.1 139.5h0M1111.6 119.4h0M1123.2 175.1h0M1089.9 140.4h0M1133.2 125.4h0M1119.3 139.5h0M1102.6 170.2h0M1090.5 144h0M1120.5 168.6h0M1102.2 129.7h0M1109.3 164.2h0M1123.8 174h0M1104.2 140.6h0M1112.5 143.6h0M1094.2 162.8h0M1113.6 139.4h0M1144.9 138.8h0M1130.6 161.2h0M1099.4 149.2h0M1121.5 160.4h0M1098.9 169.3h0M1132.2 162h0M1096.6 142.9h0M1104.4 144.5h0M1102.1 129.6h0M1125.7 135.1h0M1130.6 136.8h0M1122.6 176.8h0M1126.3 129.4h0M1092.8 163.3h0M1104.4 120h0M1089.8 145.7h0M1095.6 139.7h0M1122 159.4h0M1139.5 135.3h0M1090.4 153h0M1108 119.8h0M1115.2 127.2h0M1112.7 146.4h0M1108.5 119.4h0M1098.8 133.9h0M1115 176h0M1124.2 128.7h0M1107.4 121.4h0M1115.1 138.7h0M1134.8 147.9h0M1119.8 176.4h0M1104.1 127.2h0M1141.1 146.7h0M1121.1 146.1h0M1115.4 174.1h0M1109.7 153.5h0M1095.7 139.9h0M1092.5 129.8h0M1127.8 164.5h0M1110.8 141.9h0M1093.1 142.7h0M1103.6 127.7h0M1131.3 168.9h0M1116.4 139.8h0M1142.7 159.7h0M1131.4 144.2h0M1112.9 126h0M1108.2 140.4h0M1118.5 153.4h0M1093 155.5h0M1099.2 136.9h0M1146.5 146.3h0M1138.4 165.7h0M1106.4 159.1h0M1096 133.4h0M1116.7 177.1h0M1123.8 148.6h0M1138.1 159.7h0M1101.7 161.9h0M1115.5 116.9h0M1125.3 124.1h0M1102.6 153.8h0M1099.1 121.6h0M1115.8 117.2h0M1096.8 138.3h0M1117.9 138.3h0M1131.2 155h0M1114.1 158.1h0M1109.5 154.5h0M1142.5 132.1h0M1122 130.7h0M1143.1 135.1h0M1104.2 160.5h0M1124.3 168.4h0M1128.4 127h0M1136.1 128.5h0M1094.3 140.4h0M1119.1 139.4h0M1124.1 151.1h0M1137.6 159.1h0M1107.5 134.5h0M1089.9 143.1h0M1141.2 141.7h0M1111.8 121.3h0M1128.1 124.5h0M1131 121.7h0M1090.9 142.8h0M1106.2 152.3h0M1107.6 155.6h0M1108.5 176.2h0M1135.1 163h0M1135.7 154.6h0M1126.4 149h0M1118.9 172.6h0M1123 161.6h0M1107.9 167.7h0M1114.6 175.6h0M1087.8 137.9h0M1144.9 155.9h0M1094.8 142.9h0M1102 124.6h0M1097.5 166.5h0M1123.2 156.9h0M1131.5 130.6h0M1114.2 169h0M1144.3 146.9h0M1095.6 149.3h0M1127.1 133.5h0M1124.5 142.1h0M1095.1 140.7h0M1106.4 171.6h0M1091.1 152h0M1131.7 158.6h0M1130.3 121.5h0M1112.8 132.2h0M1147 148.7h0M1104.2 135.7h0M1111.2 163.7h0M1115.9 160.4h0M1138.2 138.9h0M1105.2 123.5h0M1131.3 122.4h0M1134.1 137.1h0M1119.4 119h0M1113.3 148.7h0M1143.6 143.6h0M1134 148.8h0M1131.3 158.4h0M1127.4 125.3h0M1135.1 133.7h0M1132.8 166.9h0M1110.4 119.3h0M1098.2 127.9h0M1093.8 134.9h0M1103.1 162.7h0M1135.7 168.7h0M1101.8 140.9h0M1126.3 125h0M1109.5 174.9h0M1129.3 149.3h0M1107.2 132.4h0M1123 166.7h0M1104.9 141.3h0M1110.9 136.4h0M1097.2 150.4h0M1117.8 120.1h0M1131.4 122.6h0M1089.8 134.9h0M1112 117.9h0M1131.1 161.2h0M1140.7 154.9h0M1142.1 130.7h0M1092.2 159.8h0M1089 134.4h0M1138.4 129.7h0M1094.7 133.7h0M1108.8 167h0M1102.8 149.1h0M1127.3 138.5h0M1104 148.9h0M1123.8 170h0M1126 149.8h0M1139.7 129.9h0M1119.3 163.5h0M1122.8 160.2h0M1099.1 164.6h0M1118.7 163.4h0M1111.7 175h0M1103.2 137.1h0M1130.5 155.2h0M1112.4 169h0M1122.1 146.3h0M1094.3 166.3h0M1093.4 138.2h0M1121 125.1h0M1107.6 126.4h0M1118.8 134.4h0M1091.4 156.6h0M1118.4 168.1h0M1110.7 146.7h0M1090.8 134.1h0M1138 149.1h0M1114.1 176.2h0M1096 137.2h0M1132.8 168.1h0M1100.4 131.3h0M1140.1 161.4h0M1130.2 168.2h0M1134.7 154.1h0M1122.7 145.5h0M1128.1 145.7h0M1131.1 150.4h0M1146.4 153.2h0M1118.4 162h0M1087.7 153.8h0M1144.9 143.3h0M1112.1 140.7h0M1132 128.9h0M1094.5 164.3h0M1120.4 164.4h0M1123.6 158.6h0M1109.1 165.9h0M1123 161h0M1113 131.2h0M1133.5 139.6h0M1120.2 144.3h0M1141.5 161.1h0M1109.4 145.8h0M1108.9 165.2h0M1112.3 131.6h0M1124.9 157.8h0M1100.7 157.4h0M1140.6 150.4h0M1133.1 144.1h0M1121.9 171.6h0M1091.9 158.7h0M1106.3 165.8h0M1099.2 158.9h0M1117.1 156h0M1130.2 165.7h0M1115.1 142.3h0M1141.8 157.3h0M1098.5 135.9h0M1134.4 149.4h0M1114.6 171.7h0M1094 126.8h0M1141.7 137.1h0M1099.7 157.2h0M1130.9 163.2h0M1128.3 145h0M1105.3 122.7h0M1104.7 156h0M1093.3 139.5h0M1133.9 143.2h0M1106.4 170.6h0M1143.7 140.4h0M1093.5 148.1h0M1116.4 124.3h0M1110.6 158.2h0M1140.1 156.6h0M1132.2 160.1h0M1116 168.6h0M1113.2 131.6h0M1103.1 169.8h0M1098.4 138.5h0M1129.9 122.7h0M1090.9 131.5h0M1108.9 128.3h0M1144.5 134.2h0" stroke="#1a1a1a" stroke-opacity="0.75" stroke-width="1.7" stroke-linecap="round" fill="none"/><path d="M1139.8 161.6h0M1118.6 149.8h0M1110.6 160.2h0M1136.1 164.6h0M1119 129.3h0M1144 143.6h0M1090.9 138.3h0M1136.8 139.5h0M1126.4 141.7h0M1118.3 172.8h0M1126.1 170.4h0M1096.5 144.8h0M1141 145.9h0M1115.5 150.2h0M1109.5 139.8h0M1141.1 163.9h0M1130.4 154.6h0M1120.8 138.4h0M1122.5 155.7h0M1122.9 135.1h0M1099.1 162.7h0M1100.4 139.4h0M1089.9 158.8h0M1116.7 129.8h0M1109.8 164.8h0M1132.5 162.5h0M1117.1 163.5h0M1106.6 118.7h0M1095.7 154.9h0M1103.4 157.1h0M1125.5 136.2h0M1109.8 129.4h0M1128 149.7h0M1111.8 164.1h0M1126.6 135.8h0M1130.3 133.7h0M1131.4 171.1h0M1109.3 133.8h0" stroke="#101010" stroke-opacity="0.85" stroke-width="2.8" stroke-linecap="round" fill="none"/><path d="M1120.3 240.5h0M1095 230.6h0M1124.4 209.5h0M1095.8 218.1h0M1107.8 214.9h0M1120.2 245.2h0M1104.9 231.5h0M1118.6 257.3h0M1123 238.7h0M1127.2 242.4h0M1124.1 263.5h0M1125.2 210.6h0M1102.2 216h0M1135.8 213.2h0M1111.5 210.4h0M1121.8 241.9h0M1105.3 262.2h0M1118.7 235.4h0M1122.5 210.8h0M1128.2 212.4h0M1134.1 230.2h0M1119.6 233.7h0M1101.3 248.2h0M1099.4 254.6h0M1137.9 221.1h0M1114.9 222.1h0M1104.5 212.5h0M1099.4 258.5h0M1101.3 246.1h0M1123.7 263.8h0M1139.3 255.4h0M1119.3 255.5h0M1111.9 261.2h0M1123.1 253h0M1103.1 222.1h0M1094.1 216.9h0M1087.3 235.3h0M1108 217h0M1104.6 246h0M1110.1 235.7h0M1095.9 223.1h0M1085.6 242.2h0M1113.1 205.8h0M1137 258h0M1128.9 215.3h0M1133.3 217.3h0M1094 242.6h0M1110.3 264.4h0M1120.6 215.3h0M1132.1 214.9h0M1119.1 224.8h0M1133.2 240.3h0M1125.3 245h0M1093.2 216h0M1122.1 259.7h0M1106.4 250.8h0M1095.2 220.8h0M1108.3 216.5h0M1138 227.5h0M1141.1 235.4h0M1108.3 254.4h0M1090.8 248.9h0M1085.8 235h0M1117.8 259.5h0M1109.2 263.8h0M1133.1 228.5h0M1108.2 238.7h0M1087.7 247.1h0M1108.5 222.8h0M1127.8 226.8h0M1127.7 210.6h0M1140 253.8h0M1097.2 254.7h0M1140 218h0M1097.5 239.8h0M1104.2 215.2h0M1134.9 235.3h0M1106.3 207h0M1095.4 250.7h0M1120.3 254.3h0M1115.1 227.3h0M1096.7 217.7h0M1112.1 207h0M1143.9 239h0M1133.6 239h0M1136.5 253.7h0M1099 234.9h0M1109.5 239.9h0M1096.2 228.8h0M1122.7 226.4h0M1095.6 249.5h0M1112.9 237.8h0M1113.1 210.4h0M1125.6 238h0M1097 212.8h0M1139.1 248.8h0M1105.4 255.1h0M1137.4 228.6h0M1102.4 246.5h0M1102 251h0M1090.5 247.9h0M1136.2 244.6h0M1117.3 245.7h0M1100.9 237.7h0M1090.5 219.5h0M1104.2 248.6h0M1107 256.1h0M1124.4 239.3h0M1121.3 217h0M1109.2 264.4h0M1124.2 220.9h0M1122.4 208.3h0M1138.8 243.4h0M1112.6 232.7h0M1113.6 235.1h0M1119.6 216.2h0M1089.5 245.1h0M1113.1 210.7h0M1101.4 211.8h0M1104.6 264.1h0M1120.4 255.4h0M1098.4 244h0M1090.1 237.2h0M1136.5 252.4h0M1121 253.5h0M1097 224.2h0M1125.7 220.8h0M1133.1 234.1h0M1113.7 262.4h0M1141.2 247.1h0M1093.6 246.1h0M1133.1 225.1h0M1115.8 226.4h0M1140.6 241.8h0M1109.6 246.6h0M1118.9 227.2h0M1122.6 257.5h0M1117.8 212.9h0M1108.7 219h0M1108.4 263.7h0M1115.6 240.6h0M1111.5 251.1h0M1113.3 252.4h0M1124.2 227.4h0M1098.1 221.8h0M1099.8 211.4h0M1143.6 246.1h0M1117.7 256.7h0M1136.1 228.6h0M1119 266.4h0M1111.1 229.3h0M1105.9 232h0M1138.4 240.5h0M1102.6 234h0M1102 236.3h0M1107 237h0M1138.3 232.3h0M1102.4 258.3h0M1143.7 227.1h0M1136.9 238.9h0M1085.3 232.5h0M1127.8 213.9h0M1123.9 207h0M1101.7 259.5h0M1113.8 259.6h0M1106.2 217.8h0M1121 246.8h0M1119.3 218.9h0M1114.2 258.4h0M1121.5 249.8h0M1111.9 211.3h0M1139.2 248.9h0M1089.4 251.9h0M1141.5 220h0M1122.3 209.9h0M1103.6 247.5h0M1086.2 240.7h0M1109.9 241.5h0M1123.5 263.9h0M1099.4 261h0M1128.3 231.7h0M1135 218.6h0M1108.2 243.9h0M1111 248.5h0M1093.2 230.4h0M1105.8 261.1h0M1125 251.1h0M1123.6 207h0M1127.5 219h0M1120.4 235.5h0M1127.3 240.2h0M1116.6 240.4h0M1090.8 236.3h0M1142.3 238.8h0M1101.9 223.5h0M1108.1 252.9h0M1096 247.4h0M1128.3 228.5h0M1124.7 227.8h0M1112.5 248.5h0M1105.1 230.1h0M1136.5 250.8h0M1086.1 236.7h0M1137.2 236.4h0M1096.9 215.8h0M1091.2 239h0M1107.2 239.3h0M1128.7 212.1h0M1095.6 235.7h0M1094.3 237.6h0M1097.6 235.9h0M1129.5 212.4h0M1104.7 211h0M1119.7 224h0M1116.7 266.4h0M1100.5 259h0M1141.8 224.4h0M1139.1 255.5h0M1125.6 259.7h0M1133.7 216.3h0M1088.6 223.6h0M1095.3 254.2h0M1119.8 222.1h0M1108.1 215.5h0M1125.1 259h0M1101.3 262.1h0M1138.7 229h0M1107.5 250.3h0M1143.4 242.5h0M1115.1 220.9h0M1101.9 253.8h0M1098.8 246.2h0M1126 233.5h0M1117.4 213.4h0M1128.2 227.4h0M1129 254.7h0M1113.1 219h0M1109.9 216.2h0M1130 243.1h0M1129.5 250.6h0M1095.3 250.4h0M1090.7 240.4h0M1105.8 238.2h0M1092.1 238.2h0M1127.9 247.8h0M1096 235.1h0M1114.3 263.5h0M1102.1 251.4h0M1101.6 222.4h0M1095.3 242.1h0M1094.9 256.6h0M1095.1 250.8h0M1110.7 206.7h0M1092.8 246h0M1086.1 228.8h0M1135.3 238.3h0M1104.7 226.8h0M1125.5 264.7h0M1127.8 210.9h0M1109.3 210.2h0M1115.3 262h0M1126.9 235.3h0M1111.2 206.6h0M1094.3 232.4h0M1135.2 220.7h0M1105.3 241.8h0M1085.6 230.5h0M1097.9 259.7h0M1106.5 212.4h0M1098.1 253.9h0M1136.3 214.9h0M1122.2 242.3h0M1127.5 210.4h0M1110 219.3h0M1098.6 239h0M1093.9 226h0M1119.7 260h0M1104.6 253.3h0M1137.4 223.4h0M1111.7 222.5h0M1118.3 254.5h0M1143.4 244.7h0M1097.2 260.5h0M1139.4 246.1h0M1122.8 250.5h0M1106.4 255.1h0M1104.2 250.7h0M1115.3 240.1h0M1114.4 246.4h0M1098.5 234.9h0M1097.7 218.8h0M1099.2 246.1h0M1093.6 232.2h0M1122.5 213h0M1134.6 215.6h0M1114.9 215.5h0M1137.9 215.3h0M1129.2 243.1h0M1098.6 234.6h0M1127 251.6h0M1088.1 224.8h0M1096 223.4h0M1136 221.4h0M1098.4 231.4h0M1129.9 237.8h0M1139.6 248h0M1106.5 232.7h0M1142.4 242.1h0M1127.8 238.5h0M1108.8 250.3h0M1098.1 228.9h0M1112.7 223.3h0M1116.6 252.4h0M1127.7 241.5h0M1130 214.9h0M1102.4 222.5h0M1135.7 244h0M1120.5 237.7h0M1109.9 246.6h0M1124.8 255.9h0M1101.8 230.2h0M1142 250.3h0M1088 241.9h0M1117.6 207.1h0M1128.1 246.9h0M1123.1 259.6h0M1097.3 232h0M1133.5 220.9h0M1126 232.1h0M1112 252.4h0M1106.4 208.2h0M1133.3 212.7h0M1113.9 207.7h0M1143.7 228.7h0M1143.7 236h0M1127.7 251.5h0M1117.1 228.7h0M1105 257.7h0M1134.6 212.4h0M1111 223.7h0M1133.2 236.4h0M1110.5 230.2h0M1089.7 239.2h0M1100.4 244.4h0M1114.5 215.3h0M1121.8 206.7h0M1118.6 241.1h0M1112.8 213.1h0M1139.6 245.4h0M1127.1 213.5h0M1104.8 234h0M1109.6 245h0M1132.6 221h0M1102.2 209h0M1097 215.6h0M1113.6 259.9h0M1126 240.2h0M1142.9 234.6h0M1088.1 235.2h0M1096.3 238.1h0M1110.4 225.5h0M1094.1 220.2h0M1131.7 222.2h0M1138.2 217.6h0M1131.9 229.2h0M1120.2 239.9h0M1098.8 223.5h0M1123 264h0M1138.5 228.6h0M1139.9 219.3h0M1130.1 253.7h0M1115.8 259h0M1114.5 209.5h0M1107 211.5h0M1126 243.3h0M1104.2 221.6h0M1139.2 232.4h0M1096 222.3h0M1137.2 215h0M1101.7 250.2h0M1104.7 250.8h0M1103 211h0M1115.4 263.1h0M1130.5 228.2h0M1114.8 262.9h0M1102.9 253.1h0M1097.9 215.1h0M1121.8 242h0M1136.2 238.2h0M1135 240.5h0M1096.8 259h0M1136.4 257.3h0M1123.3 241.6h0M1138.9 235h0M1116.8 211.6h0M1109.7 225.5h0M1089.8 233.7h0M1122.8 207.3h0M1127.4 239.8h0M1096.2 244h0M1118.8 218.8h0M1143.8 236.4h0M1130 242.9h0M1105.8 219.1h0M1100.5 239.8h0M1124.5 246.6h0M1146.1 236.8h0M1130.7 259.6h0M1116.7 208.5h0M1124.7 244.8h0M1133.4 224.9h0M1117 260.9h0M1096.5 244.2h0M1091.2 243.3h0M1091.9 225.6h0M1099.5 255.8h0M1143.5 225.6h0M1104 248.8h0M1125.7 220.1h0M1142.3 238.8h0" stroke="#1a1a1a" stroke-opacity="0.75" stroke-width="1.7" stroke-linecap="round" fill="none"/><path d="M1126.2 235.8h0M1105 237h0M1122.1 215.2h0M1123.8 259.9h0M1132 252.5h0M1135.1 237.3h0M1102.6 208.7h0M1136.1 256.3h0M1120.9 230.7h0M1132.3 214.7h0M1097.3 220.6h0M1136.3 213.9h0M1117 206.6h0M1127.5 241.9h0M1123.9 233.3h0M1107.8 228.6h0M1117.1 263.1h0M1102.4 233.9h0M1086 240.9h0M1140.4 243.6h0M1112.9 254.4h0M1113.7 257.6h0M1088.2 228.6h0M1116.3 240.7h0M1124 235.7h0M1125.9 212.2h0M1099.7 218.1h0M1131.2 257.1h0M1135.1 217.1h0M1129.2 216.6h0M1096.5 235.2h0M1105.5 227.3h0M1097.7 254.8h0M1090.2 226.8h0M1108.4 243.6h0M1116.3 241.5h0M1122.2 236.2h0M1096.1 257.6h0M1120.2 256.2h0M1137.7 220.2h0M1131 255.3h0M1101.2 243.6h0" stroke="#101010" stroke-opacity="0.85" stroke-width="2.8" stroke-linecap="round" fill="none"/><path d="M1205.2 138.1h0M1206.1 120.5h0M1190.1 163.4h0M1213.9 119.4h0M1214.7 141.9h0M1206.6 136.6h0M1216.5 125.2h0M1221.6 125.8h0M1197.8 165.9h0M1206.5 139.3h0M1183.7 158.6h0M1202 150.6h0M1198.7 147.2h0M1176.7 156.4h0M1208 124.4h0M1203.2 124.9h0M1223.6 130.5h0M1180.2 141.8h0M1207.4 141.2h0M1178.4 129.2h0M1181.8 167.8h0M1219.4 167.7h0M1192.5 174.8h0M1200 118.1h0M1228.8 135.5h0M1197.8 155.1h0M1217.6 161.1h0M1216.7 158h0M1181.2 156.1h0M1226.3 131.3h0M1179.2 152.9h0M1204.2 161.8h0M1202.2 156.5h0M1198.6 126.1h0M1187 145.8h0M1192 168.6h0M1206.5 160.9h0M1228.1 134h0M1195.4 143.3h0M1216.3 125.1h0M1174.1 148.9h0M1191.7 124.4h0M1197.9 140.6h0M1209.8 127h0M1190.8 155.8h0M1180.9 159.6h0M1231.4 150.4h0M1199.3 140.6h0M1191.2 125.9h0M1184.5 130.6h0M1201.6 148.3h0M1226.5 144.5h0M1223.8 145.5h0M1220.5 147.9h0M1196.4 164.8h0M1178.7 159.5h0M1193.7 174.2h0M1193.4 160h0M1195.8 124.1h0M1213.4 150.5h0M1230 144.9h0M1186 129.9h0M1187.1 145.7h0M1225.7 157.4h0M1195.2 169.3h0M1228.3 129.6h0M1202.4 176.4h0M1211.6 151.1h0M1197.3 119.2h0M1229.8 157.5h0M1173.9 141.9h0M1198.3 121.4h0M1185.6 137.3h0M1196.3 174.9h0M1185.4 166.2h0M1206.5 152.5h0M1219.1 142.1h0M1206.1 150.8h0M1182.8 168.8h0M1177.8 141.5h0M1207.8 141.8h0M1192.2 120.8h0M1219.8 171.8h0M1196.3 144.9h0M1227.5 157.7h0M1197.7 153.7h0M1195.9 145.1h0M1200.8 174.5h0M1203.5 144.9h0M1196.4 117.5h0M1209.7 166.9h0M1224.6 167.1h0M1179.6 166.2h0M1227.6 137.3h0M1226.8 160.5h0M1221.5 162.9h0M1182.5 133h0M1214 159.6h0M1231.1 151.8h0M1173.8 148.8h0M1204.9 125.7h0M1177.1 158.7h0M1224.8 126.8h0M1226.3 156.5h0M1220.2 169.2h0M1220.4 156.3h0M1208.6 124.2h0M1192.9 151.9h0M1218.3 129.8h0M1215.5 126.8h0M1216.1 150.8h0M1184.7 139.6h0M1210.1 171h0M1221 127.9h0M1203.5 170.8h0M1198.5 170.2h0M1201.5 175.3h0M1186 171.4h0M1182.6 129.7h0M1219.7 167.5h0M1228.5 135.2h0M1179.4 128.7h0M1194.5 163.6h0M1185.1 124.5h0M1221.3 149.9h0M1181.9 140.3h0M1193 126.1h0M1217.5 161h0M1196.8 169.1h0M1215.9 173.3h0M1190.4 144.8h0M1187.9 131.7h0M1178.2 152.4h0M1177 131.2h0M1204.9 130.3h0M1200.5 120.8h0M1224.5 144.3h0M1183.8 163.7h0M1198.3 123.1h0M1201.8 122.9h0M1188.9 122.2h0M1197.2 127.5h0M1214 165.7h0M1212.9 138.4h0M1172.5 143.4h0M1233.3 147.8h0M1189.5 130.9h0M1175 157.5h0M1180.5 150.8h0M1189.7 173.6h0M1174.4 137.9h0M1186.6 148h0M1184.6 154.3h0M1187.6 132.2h0M1205.4 176.9h0M1202.3 172.6h0M1201.9 175.2h0M1185 154h0M1181 139.9h0M1214.1 122.4h0M1173.2 147.6h0M1210.1 147.3h0M1227.2 141.9h0M1224.3 133.3h0M1192.9 148h0M1209.6 167.2h0M1195.1 141.8h0M1177.6 145.8h0M1180.2 133h0M1223.7 146.2h0M1222.5 158.1h0M1205.2 126.3h0M1227.2 145.9h0M1194.8 119.8h0M1204.9 137h0M1212.2 167.8h0M1177.7 158h0M1205.5 125.3h0M1187 122h0M1184.9 143.8h0M1224.3 147.6h0M1201.3 131.3h0M1186.5 135.1h0M1208.9 119.1h0M1202.7 163.5h0M1202.2 134.6h0M1207.6 172.2h0M1229.5 140.7h0M1205.9 173.6h0M1175.6 145.3h0M1206.2 154h0M1185.8 134.9h0M1191 131.1h0M1225.3 125.9h0M1194.6 125.5h0M1194.9 133.7h0M1187.3 134.2h0M1193.5 119.4h0M1184 153.2h0M1206.1 119.3h0M1183.5 153.2h0M1212.5 129.3h0M1200.9 149.1h0M1213.8 143.3h0M1209.8 120.9h0M1218.2 153.7h0M1215.5 121.6h0M1218.7 157.3h0M1196.9 171h0M1224.8 155.1h0M1177 161.1h0M1212.1 137.4h0M1222.7 139.5h0M1183.3 126.2h0M1182.4 150.6h0M1177 142.5h0M1183.6 131h0M1186.7 169.7h0M1197.7 134.9h0M1188.8 159.2h0M1217.6 169.9h0M1187.3 167.3h0M1221.7 129h0M1203.2 138.3h0M1216.3 126.2h0M1205.3 170.7h0M1187.8 151.7h0M1194.2 159h0M1211.1 143.5h0M1215.3 150.7h0M1197.1 171.8h0M1204.3 120.7h0M1213.1 152.2h0M1207.8 125.4h0M1230.4 151.5h0M1218.9 159.2h0M1229.5 160.1h0M1177.7 139.5h0M1214.6 168.4h0M1228.9 153.7h0M1186.7 148.9h0M1232.3 153.6h0M1224 138.5h0M1180.9 156.1h0M1189.3 167.4h0M1177.7 159h0M1200.3 134.5h0M1182.7 130h0M1187.3 149.8h0M1187.1 121.7h0M1183.3 145.3h0M1210.8 119.8h0M1215 125h0M1212.1 166.6h0M1187.7 126.8h0M1184.6 156.3h0M1177.1 152.4h0M1226.8 157.8h0M1222.6 164.5h0M1182.3 126.8h0M1200.2 121.1h0M1217.6 122.6h0M1203 143.7h0M1208.6 145.1h0M1205.1 120.1h0M1201.5 122h0M1172.7 146.2h0M1185.3 126h0M1199.1 175.5h0M1226.4 151h0M1178.6 137.4h0M1192.9 129.1h0M1185.9 166.7h0M1228.6 156h0M1204.7 139.2h0M1178.7 154.4h0M1180.7 129.5h0M1186.2 144.3h0M1184.5 148.7h0M1199.1 170.3h0M1209.7 169.4h0M1174.2 141.1h0M1193 159h0M1207.2 155.2h0M1227.3 133.6h0M1192.1 169.7h0M1202.2 149.4h0M1174.7 151.5h0M1226.3 160.8h0M1193.9 144.9h0M1208 122.8h0M1208.5 153.6h0M1209.5 144.8h0M1226.5 164.5h0M1186.3 136.8h0M1196.7 129.1h0M1220.7 155.9h0M1194.9 146h0M1189.2 143.3h0M1200.9 140h0M1174 154.9h0M1179.5 139.6h0M1182 130.6h0M1221.7 126.4h0M1194.3 168.8h0M1229.6 156.7h0M1214.4 143.7h0M1222 147.4h0M1227.2 157.6h0M1188.3 148.4h0M1175.5 146.8h0M1206.2 128.8h0M1215.8 171h0M1202.8 168.4h0M1225 132.5h0M1192.3 119.3h0M1181.7 139.8h0M1211 166.9h0M1202.1 145.7h0M1182.9 162.1h0M1191.7 118.3h0M1184.8 131h0M1231.6 144.8h0M1206.5 161.1h0M1206.2 167.9h0" stroke="#1a1a1a" stroke-opacity="0.75" stroke-width="1.7" stroke-linecap="round" fill="none"/><path d="M1188.8 169h0M1184.2 147.7h0M1195.3 172.4h0M1225.6 159.3h0M1229.9 145.3h0M1209.6 172.1h0M1191.1 121.1h0M1189.2 134.7h0M1214.7 118.5h0M1190.3 156.6h0M1210.5 167.8h0M1187.3 144.3h0M1198.2 148.4h0M1203.3 116.3h0M1181 156.5h0M1224.6 160.4h0M1207.9 133.3h0M1215.6 130.2h0M1178.3 153.3h0M1225.1 138.5h0M1186.8 125.3h0M1200.5 160.3h0M1228.6 163.5h0M1227.7 161.3h0M1199.6 141.1h0M1178.7 129.2h0M1218.7 168.1h0M1220.9 138.3h0M1191.4 159.9h0M1177.5 147.5h0M1196.1 173.2h0M1188.3 159.2h0M1217.1 130h0M1201.6 159.9h0M1217.6 127.2h0M1231.8 141.3h0M1194.9 173.4h0M1206.2 126.3h0M1187.8 171.3h0M1193.1 137.3h0M1210.7 161.4h0M1215.3 139.1h0M1189 141.8h0M1189.4 122.8h0M1178.2 131.6h0" stroke="#101010" stroke-opacity="0.85" stroke-width="2.8" stroke-linecap="round" fill="none"/><path d="M1220.2 231.8h0M1199.4 251.7h0M1213.3 233.9h0M1229.2 228.2h0M1211.3 249.1h0M1209.4 242.6h0M1219.7 250.7h0M1175 228.9h0M1208 209.3h0M1227.8 226h0M1215.3 231.8h0M1218.5 244.6h0M1208 242.6h0M1184.4 213.3h0M1185.3 256.5h0M1229.8 219.9h0M1223.8 247h0M1202.3 237.4h0M1200.7 263.2h0M1201.8 225h0M1194.8 233.5h0M1180.1 228.5h0M1195.7 246.7h0M1207.2 248.4h0M1178.4 245.8h0M1189.2 239.7h0M1213.1 262.2h0M1202.9 248.3h0M1212.5 228h0M1176 233.8h0M1209 235.9h0M1222.2 236h0M1208.3 252.1h0M1219.5 248.5h0M1229.9 234.4h0M1233.9 231h0M1225.6 242.1h0M1231.7 235h0M1199.4 231.4h0M1219.5 228.8h0M1181.8 236.9h0M1181.7 252.8h0M1183.1 245.6h0M1179.2 226.1h0M1202.9 264.6h0M1191.7 231.7h0M1223.8 256.3h0M1210.6 210.1h0M1193.3 260.9h0M1225.1 244.9h0M1232.8 239.1h0M1199.6 209.9h0M1184.5 214.1h0M1198.3 256.2h0M1228 220.2h0M1203.3 226.1h0M1227 253.2h0M1223.6 246.4h0M1194.9 213.1h0M1178.5 251.4h0M1208.7 218.7h0M1195.6 263.5h0M1200 217.8h0M1197 228.5h0M1182.8 217.4h0M1214.6 223.3h0M1206.9 260.9h0M1223.9 217.1h0M1213.2 222.3h0M1227 226.6h0M1218.8 244.8h0M1206.7 244.6h0M1177.1 240.8h0M1209 219.5h0M1201.1 231h0M1192.5 246.7h0M1196.9 215.2h0M1201.4 251.7h0M1212.9 240.8h0M1208.9 210.7h0M1212 242.4h0M1205.7 243.7h0M1233.2 232.5h0M1206.8 232.7h0M1232.8 228.7h0M1200.9 205.7h0M1206.1 208.1h0M1176.9 244.6h0M1228.4 224.6h0M1205.7 233.5h0M1206 232.5h0M1209 259.7h0M1212.7 229.7h0M1211 209.9h0M1178.1 230.3h0M1191.8 209.7h0M1229.4 240.1h0M1219.8 213.8h0M1190.7 215h0M1210 262.7h0M1197.1 213.6h0M1191.4 243.1h0M1199 205.8h0M1197.3 239.3h0M1205.9 229.8h0M1214.2 212.2h0M1182.6 253.8h0M1203.1 217h0M1223 244.3h0M1180 226.6h0M1215.8 212.9h0M1200 265h0M1229 229.7h0M1174 234.9h0M1194.3 213h0M1181.2 246.3h0M1193.4 246.6h0M1175.3 244.6h0M1187.3 247.4h0M1191.8 232.8h0M1184.4 233.3h0M1191.5 209.7h0M1204 258.7h0M1229.8 229.5h0M1223.9 252.4h0M1190.4 227.3h0M1208.5 234.5h0M1182 224.1h0M1186.6 242.1h0M1175.5 228.4h0M1187.1 221.2h0M1177.8 245.1h0M1211 213.8h0M1227.4 219.8h0M1195.9 218.8h0M1196.5 214.8h0M1220.4 221.8h0M1199.3 227.1h0M1196.5 225.2h0M1199.6 258h0M1187.8 214h0M1195.9 223.9h0M1209.7 230h0M1220.5 252.9h0M1186.5 221.2h0M1183.9 217.2h0M1213.8 216.7h0M1222 245.4h0M1220 231.1h0M1215.8 233.1h0M1192.3 249h0M1182.2 243.6h0M1226.8 253.2h0M1190.4 262h0M1218.7 238h0M1219.2 239h0M1191.5 246.8h0M1213 255.5h0M1202.7 214.7h0M1216.5 246.7h0M1210.9 262.9h0M1195.4 228.3h0M1178.7 228.4h0M1219.7 248.9h0M1184.4 251.8h0M1220.9 214.5h0M1193.7 234.2h0M1187.1 235.3h0M1184.8 229.1h0M1201.6 248.8h0M1184.6 245.2h0M1200.1 230.8h0M1215.8 244.7h0M1186.5 258.2h0M1183.8 225.6h0M1223.9 221.2h0M1195.8 250.2h0M1197.3 226.3h0M1207.9 237h0M1183.2 228.5h0M1224.2 222.9h0M1224 217.3h0M1184.1 232.7h0M1221.6 223.3h0M1221.3 220.6h0M1225.5 227.1h0M1188.6 239.5h0M1228.1 247.9h0M1228.2 251.7h0M1188.2 230.2h0M1226.3 223.2h0M1198.1 220.7h0M1187.9 234.5h0M1212.8 222.5h0M1219 220.2h0M1187.6 246h0M1177.4 230.1h0M1198.9 207.9h0M1204.4 225.3h0M1226.5 253.3h0M1190.9 232.8h0M1231.3 237.6h0M1226.1 216.3h0M1201.8 260h0M1215.4 245.4h0M1182.9 256.1h0M1193.4 220.6h0M1217.3 210.8h0M1193.9 238.9h0M1198.2 230.4h0M1199.5 225.1h0M1189.9 237.7h0M1182.9 219.2h0M1187.9 230.1h0M1229.6 241.7h0M1182.2 255.9h0M1227.1 251h0M1183.2 217.9h0M1192.8 211.8h0M1206.2 217.5h0M1179.1 250.8h0M1221.3 224.1h0M1188.7 256.4h0M1213.3 235.2h0M1190.3 210.2h0M1196.7 214.8h0M1220.2 250.5h0M1175.1 242.4h0M1193 250.2h0M1201.2 247.1h0M1230 234.5h0M1214.6 229h0M1226 238h0M1185.3 216.6h0M1186.2 256.9h0M1216.9 262.1h0M1195.1 251.7h0M1231.1 226.9h0M1215.7 230.8h0M1228.2 241h0M1200.6 252h0M1215.5 230.4h0M1193.1 232.7h0M1175.1 242.2h0M1219.4 234.3h0M1207.3 209.4h0M1189.1 261.2h0M1175.5 228h0M1175.9 245.7h0M1182.9 226.9h0M1214.7 258.8h0M1225.9 254.8h0M1196 231.5h0M1220.1 245h0M1214.1 240h0M1206.2 255.8h0M1215.7 259.1h0M1230.8 228.3h0M1194.1 210h0M1215.8 208.9h0M1225.2 241.7h0M1206.9 259.2h0M1212.9 244.6h0M1214.9 220.4h0M1215.8 260.6h0M1224.8 225.2h0M1182.3 235h0M1227.4 216h0M1192.7 210.3h0M1219.2 212.3h0M1214.7 247.3h0M1211.3 221.3h0M1180.5 225.6h0M1198.1 224.3h0M1219.7 257.8h0M1212.3 251.8h0M1198.5 235.3h0M1195.2 227.1h0M1202.5 210.6h0M1200.3 257.7h0M1217.9 255.3h0M1215.6 258.3h0M1199.8 234.3h0M1209.8 264.5h0M1192.1 229.3h0M1224 256.8h0M1217.6 210.6h0M1197.7 247.8h0M1232.9 243.9h0M1186.5 258.9h0M1205.5 212.3h0M1211.5 212.1h0M1178.2 241.2h0M1193.4 223.9h0M1188.1 214.7h0M1217.3 219.3h0M1204 241.9h0M1185.5 213.8h0M1193.1 241.3h0M1200 226.2h0M1191.2 233.6h0M1195 212.1h0M1226.8 234.2h0M1228.3 226.1h0M1199.5 237.2h0M1214.7 244.2h0M1196.5 232.2h0M1224.3 234.9h0M1200.2 247h0M1188.1 256.4h0M1199.2 250.5h0M1196.3 232.8h0M1220.4 237.1h0M1217.6 262.6h0M1218.1 237.1h0M1218.1 225.4h0M1176.4 227.6h0M1220.5 257.8h0M1185.4 211.3h0M1226.8 241.6h0M1205.1 239.4h0M1194.7 248.2h0M1217.5 233.5h0M1182.9 240.4h0M1209.2 262.3h0M1213.5 240.2h0M1205.7 260.3h0M1221.3 255.2h0M1187.9 255.3h0M1201.1 255.4h0M1214.6 262.8h0M1201.1 226.9h0M1208.9 260.6h0M1185.4 235.8h0M1219.8 225.7h0M1204.5 222.1h0M1185.4 248.8h0M1189.4 247.3h0M1189.8 261.2h0M1219.3 259.5h0M1215.4 243.5h0M1212.8 211.6h0M1182.1 241.7h0M1224 257.9h0M1212.7 247.5h0M1189 231h0M1230.6 247.6h0M1224.8 257.7h0M1219.9 239.7h0M1199.7 250.8h0M1185.8 211.2h0M1187.4 221.4h0M1201.8 262.1h0M1222.8 225.4h0M1202.2 253.5h0M1199.2 234.8h0M1181.8 238.3h0M1220.1 222.6h0M1224 253.9h0M1203.1 205.8h0M1196.6 213.9h0M1174.6 240.4h0M1184.5 230.5h0M1188.9 246.2h0M1191.7 214.5h0M1225.2 236.1h0M1209.8 221.9h0M1183.8 216.2h0" stroke="#1a1a1a" stroke-opacity="0.75" stroke-width="1.7" stroke-linecap="round" fill="none"/><path d="M1209.6 212.9h0M1211.4 257.6h0M1203.3 254.9h0M1211.5 210h0M1201.1 241.3h0M1231.2 229.9h0M1201.8 262.2h0M1193.9 252.9h0M1190.6 220.3h0M1190.4 215.1h0M1199.9 235h0M1177.5 222.2h0M1208.8 232.3h0M1193.1 235.1h0M1200.5 264.6h0M1224.3 227.9h0M1215.6 226h0M1202.8 251.9h0M1181.4 255.8h0M1209.5 257.7h0M1194.5 264.2h0M1195.4 222.1h0M1210.6 260.7h0M1207.5 219.1h0M1198.7 214.8h0M1184.1 228.6h0M1214.6 258h0M1198 247.9h0M1178.5 234.4h0M1218.6 210.6h0M1207.9 226h0M1233.2 228.4h0M1188.2 233.1h0M1214.1 252.3h0M1193.6 206.6h0M1222.8 252h0M1201.8 237.9h0M1197.4 213.1h0M1224.2 251.5h0" stroke="#101010" stroke-opacity="0.85" stroke-width="2.8" stroke-linecap="round" fill="none"/><path d="M1299 168.1h0M1316.1 145.8h0M1293.1 149.7h0M1271.2 163.1h0M1271.2 126.6h0M1303.8 166h0M1280.4 142.6h0M1287.4 166h0M1298 172.3h0M1280 141.3h0M1271.5 148.7h0M1321.3 131.6h0M1304.9 147.8h0M1302.9 158.2h0M1271.6 145.9h0M1312.8 155.8h0M1307.9 144.2h0M1285.2 131.8h0M1300.6 143.2h0M1298.7 170.5h0M1317.2 143.6h0M1276.8 155h0M1321.1 159.2h0M1271.9 139.1h0M1266.1 154.3h0M1307.8 168.1h0M1320.1 153.4h0M1313.6 129.5h0M1291.6 123.6h0M1266.2 151.4h0M1302.2 141.5h0M1317.6 126.8h0M1274.3 149.3h0M1301.2 124.5h0M1287.3 119h0M1285.9 145.7h0M1267.7 156.6h0M1293.4 157.2h0M1304.3 159.3h0M1297.5 160.8h0M1303.3 116.7h0M1324.3 142.7h0M1285.6 134.2h0M1298.7 119h0M1288.2 157.3h0M1278.2 133.5h0M1291.9 139.3h0M1306.3 121.9h0M1307.4 170.5h0M1279.1 119.9h0M1288.5 176h0M1297.4 142h0M1296.7 173.3h0M1318.3 158.2h0M1300.1 173.7h0M1278.4 170.6h0M1299.5 140.5h0M1310.8 147.1h0M1289.5 126.9h0M1287.2 117.4h0M1286.5 143.1h0M1320.1 152.6h0M1276.1 156.6h0M1297 125.8h0M1311 133.6h0M1280.9 141.6h0M1299.3 145.6h0M1304.5 123.1h0M1282.1 122.6h0M1290.1 143h0M1303.8 162.6h0M1305.9 120.4h0M1300.5 133.8h0M1320.4 130.9h0M1298.8 134.1h0M1303.8 129.1h0M1318.7 145.4h0M1303.6 168.3h0M1293.5 122.2h0M1291.2 148.1h0M1317.4 126.4h0M1306.9 130.8h0M1315.9 159.8h0M1270.2 147.3h0M1305.9 153.9h0M1313.1 162.3h0M1315.8 126.4h0M1267.5 148.3h0M1297.8 129.7h0M1270.7 146.9h0M1296.4 121.5h0M1297.6 136.4h0M1315.1 124h0M1280.1 158.7h0M1309.5 135.3h0M1316.4 144.2h0M1323.4 151.4h0M1288.5 139.8h0M1281.4 164.5h0M1293.5 175.9h0M1304 119.7h0M1268.3 139.4h0M1310.8 155.1h0M1298.2 143.7h0M1276.4 125.5h0M1306.5 174.3h0M1291.6 150h0M1312.1 142.7h0M1317.7 151h0M1287.1 151h0M1289.2 151.8h0M1311 154.7h0M1266.6 152h0M1294.8 130.9h0M1278.1 147.9h0M1268.8 138.9h0M1299.3 126.2h0M1294 159.4h0M1292 125.4h0M1317.7 138.2h0M1271.6 133.8h0M1290.6 173h0M1303 167h0M1284.3 122.1h0M1268.7 138.8h0M1315.1 142.8h0M1316.5 151.4h0M1285.8 174h0M1308 127h0M1282.4 171.8h0M1283.6 163.3h0M1288.8 141.6h0M1314.3 125.8h0M1305.4 172.2h0M1280 120.9h0M1303.8 137.1h0M1303.2 147h0M1311.9 124.8h0M1282.2 169h0M1323.3 146.6h0M1313.1 131.6h0M1299.6 167.5h0M1297.2 170.4h0M1288.4 176.1h0M1320 161.5h0M1296.1 172.5h0M1312.1 141h0M1297.7 172.6h0M1320.7 152.9h0M1285.6 141.3h0M1267.6 148.5h0M1274.8 124.7h0M1292.8 166h0M1310.7 155h0M1315.4 126.2h0M1297.4 145.7h0M1287.6 163.3h0M1272.6 136.9h0M1271.8 143.7h0M1290.3 141.2h0M1283.2 155.2h0M1305.6 156.6h0M1305.6 129.9h0M1275 165.2h0M1314.3 137.8h0M1304.5 152.5h0M1282.4 172h0M1300.6 118.4h0M1298.3 161.4h0M1274.1 140.9h0M1271.2 156.1h0M1281.5 162.7h0M1308.2 140.6h0M1267.4 148h0M1305 130.4h0M1307.1 165.4h0M1288.1 169h0M1302.2 119.7h0M1291.3 171h0M1268.2 139.7h0M1311 153.3h0M1300.3 175.6h0M1272.9 136.4h0M1293.6 157.5h0M1276.6 170.3h0M1283.9 127h0M1295.4 126.4h0M1300.9 163.7h0M1273 132.2h0M1303.2 128.5h0M1286.1 139.4h0M1284.5 121.6h0M1289.8 152.1h0M1302.4 133.1h0M1275 162.6h0M1305.5 157.7h0M1297.3 140.4h0M1270.2 161h0M1297.6 141.1h0M1298.2 157.1h0M1307.3 158h0M1302.5 163.6h0M1324.3 141.3h0M1267.9 136.8h0M1310 141.8h0M1284.2 174.9h0M1310.3 157h0M1313.4 142.5h0M1284.5 169.9h0M1287 162.4h0M1271.6 150.1h0M1297 156.7h0M1307 140.2h0M1292.6 154.6h0M1277 170.3h0M1276.7 146.7h0M1267.8 145.2h0M1281.1 133.3h0M1311.8 158h0M1299.1 148.6h0M1289.9 117.7h0M1276.7 136h0M1320.5 133.2h0M1284.8 161.4h0M1312.8 148h0M1281.4 168.7h0M1306.2 138.7h0M1307.3 169.5h0M1304.3 140.4h0M1266 141.6h0M1268.6 148.4h0M1295.3 131.9h0M1318.7 141.6h0M1285.6 167.3h0M1319.2 143.3h0M1297.7 150.7h0M1300.8 134.4h0M1299.2 120.7h0M1278.8 167.5h0M1281.9 147.8h0M1296.7 155.6h0M1292.5 152.3h0M1283.3 148.3h0M1291.9 137.5h0M1301.1 140.2h0M1304.5 128.8h0M1282.1 128.6h0M1307.5 126.3h0M1297.8 176.1h0M1268.6 158.3h0M1302 146h0M1315.8 136h0M1277.6 140.7h0M1302.6 116.9h0M1300.9 168.1h0M1295 127.3h0M1286.5 149.4h0M1315.4 165.2h0M1279.3 143.4h0M1315.8 136.1h0M1321.5 132.7h0M1298.5 120.5h0M1302.3 174.7h0M1281.4 143.3h0M1296.2 148.3h0M1298.6 143.3h0M1318.1 132h0M1285.3 123.7h0M1296.3 153.5h0M1279.2 126.2h0M1316.2 133.3h0M1291.4 166h0M1278.5 159.6h0M1272.3 132.1h0M1276.2 130.1h0M1319.4 136.4h0M1274 137.5h0M1284 158.1h0M1312.6 160h0M1289.8 116.9h0M1277.9 120.7h0M1307.3 147.8h0M1310.1 165.8h0M1284.1 166.9h0M1274.4 123.3h0M1288.2 119.6h0M1308.9 148.6h0M1274.2 133.6h0M1315.2 142.1h0M1293.7 176.3h0M1315 135.5h0M1275.9 165.2h0M1312.1 140.4h0M1317.7 135.1h0M1318.7 149.5h0M1300.8 119.3h0M1309.7 169.5h0M1269.3 138.2h0M1320.3 138.4h0M1301.5 171.6h0M1300.5 131.6h0M1288.8 172.2h0M1270.9 162.1h0M1298.8 151.5h0M1291.2 118.3h0M1292.5 116.7h0M1270.6 128.6h0M1283.6 146.9h0M1285.2 126.8h0M1294.3 122.9h0M1284.5 149.6h0M1289.7 176.2h0M1319.5 162.7h0M1283.5 171h0M1317 157.1h0M1277.3 122.6h0M1313.8 126.8h0M1308.3 160.7h0M1315 162.9h0M1277.3 123.1h0M1269.8 134.5h0M1303.3 167.9h0M1314.8 146.1h0" stroke="#1a1a1a" stroke-opacity="0.75" stroke-width="1.7" stroke-linecap="round" fill="none"/><path d="M1321.6 134h0M1286.1 172.3h0M1311 136.5h0M1294 176.6h0M1294.4 146.6h0M1291.2 158.3h0M1274.9 135h0M1288.6 140.3h0M1301.7 117.7h0M1291.6 132.4h0M1282.8 170.3h0M1306.5 161.4h0M1297.7 132.4h0M1273.4 151.3h0M1318.6 141.4h0M1270.7 155.4h0M1272.6 157.7h0M1322.5 144.6h0M1307.9 145.1h0M1306.9 150.9h0M1297.6 129.5h0M1294.1 133.1h0M1282.4 170.6h0M1302.7 156.1h0M1305.2 158.1h0M1312.3 168.7h0M1302.6 160.2h0M1298.5 164.4h0" stroke="#101010" stroke-opacity="0.85" stroke-width="2.8" stroke-linecap="round" fill="none"/><path d="M1303.2 254.8h0M1297.8 240.9h0M1277.7 216.6h0M1268.6 243.9h0M1318.7 249.6h0M1302.6 207.2h0M1307.4 211.7h0M1279.3 256.7h0M1306.5 211.1h0M1299 232.7h0M1291.5 209.9h0M1269.5 217h0M1276.6 234.5h0M1312.3 250.1h0M1309.7 257.9h0M1280.7 249.3h0M1314 253.3h0M1319.6 241.5h0M1317.3 226h0M1292.8 226.8h0M1302.2 253.7h0M1275.3 224.6h0M1296 258.2h0M1291.2 234.4h0M1278.5 258.3h0M1288.2 250.4h0M1274.2 215.7h0M1290.2 238.2h0M1263.3 235.8h0M1303.4 252.2h0M1281 263h0M1294.6 256.8h0M1287.9 259.1h0M1296.6 258h0M1300.5 216h0M1283 230.4h0M1289.1 237.6h0M1301.4 263h0M1305.3 228.9h0M1294.6 214.7h0M1307.8 257.8h0M1277.7 237.2h0M1288.3 214h0M1280.4 249.1h0M1292.7 257.3h0M1301.8 219.7h0M1314.9 227.6h0M1297.4 248.4h0M1285 264.2h0M1281.2 244.3h0M1269.6 237h0M1264.8 233h0M1275.7 242.1h0M1277.8 239.6h0M1273 213.4h0M1299.7 259.9h0M1281.9 250.6h0M1303.5 263.7h0M1275.3 246.3h0M1311.6 224.2h0M1276.7 210h0M1297.6 256.7h0M1297.3 253.8h0M1287 214.5h0M1307 211.3h0M1305.6 228.9h0M1296.3 263.6h0M1271.1 256.1h0M1316.6 237.2h0M1309.6 225.3h0M1289.8 213h0M1290.5 246.5h0M1299.3 216.5h0M1310.8 216.8h0M1308.1 257.8h0M1306.3 243.5h0M1296.4 251.1h0M1263.8 234.4h0M1296.9 230.8h0M1281.3 218.1h0M1292.9 225.6h0M1271.8 247.4h0M1299.3 264.8h0M1305.7 245.2h0M1307.3 251.5h0M1287.2 205.1h0M1282.1 255.5h0M1308.1 213.1h0M1311.5 215.5h0M1267.4 252h0M1285.4 260.1h0M1271.1 225h0M1295.1 245.9h0M1279.5 238.5h0M1305.1 220.9h0M1296.1 237.6h0M1307.2 212.8h0M1293.8 258.7h0M1284.6 237.1h0M1297.7 260.7h0M1287.4 239.2h0M1286.9 212.3h0M1318.3 249.7h0M1288.5 209.4h0M1299.5 223.4h0M1282.5 208.8h0M1274.7 257.6h0M1277.2 228.5h0M1306.4 222.1h0M1304.4 261h0M1266.7 222.7h0M1280.4 235.7h0M1316.8 233.3h0M1265.7 249h0M1293.2 249.8h0M1276.4 261.2h0M1273.1 257.5h0M1281.9 232.7h0M1313.9 242.2h0M1290.9 228.6h0M1292.5 232.9h0M1304.3 224.5h0M1291.2 224.7h0M1283.1 246.4h0M1290.2 237.6h0M1274 223.1h0M1269.2 229.3h0M1309.1 257.4h0M1264.2 233.5h0M1299.1 205.6h0M1303.5 258.5h0M1307.8 210.9h0M1290.1 263.5h0M1303.7 242.9h0M1270.6 255.9h0M1317.9 228.8h0M1297 226.7h0M1321.7 234.6h0M1271.7 250.6h0M1269.5 219.2h0M1316.4 219.4h0M1290.6 235.4h0M1313.7 232h0M1263.7 228.5h0M1300.9 216.4h0M1293.6 263.3h0M1309.1 249.8h0M1303.9 220.8h0M1308.4 215.3h0M1271.6 216h0M1311.3 217.1h0M1293.1 264h0M1294 221.3h0M1316.4 232h0M1278.6 251h0M1309 248.7h0M1290.5 228.7h0M1293.6 265.5h0M1313.6 228.5h0M1316.4 223.2h0M1294.1 216.6h0M1285.7 221.4h0M1264.1 241.5h0M1276.3 209.8h0M1294.1 211.3h0M1319.6 248.2h0M1288.7 229.5h0M1299.3 212.5h0M1318.2 220.8h0M1311.3 243.7h0M1272.8 237.1h0M1276.1 220h0M1265.9 240.6h0M1282.2 257.9h0M1283.4 226.9h0M1287.9 208h0M1282.4 228.7h0M1302.7 248h0M1290.6 225.7h0M1318.3 235.3h0M1309.5 236.8h0M1277 224.8h0M1277.7 258.3h0M1280.6 208h0M1318.8 239.8h0M1277.5 245h0M1312.4 246h0M1302.3 261.2h0M1284.6 262.9h0M1302.5 259.5h0M1268.1 232.9h0M1314.3 254h0M1310.1 248.6h0M1316.7 247.5h0M1284.5 235.2h0M1294.3 217.4h0M1280.8 207.1h0M1300.3 209.9h0M1268.6 233.7h0M1301.5 211h0M1265.3 243.6h0M1286.8 214h0M1309.6 249.1h0M1280.5 224.5h0M1299.8 244.1h0M1263.1 243h0M1301.2 255.8h0M1278.5 236.1h0M1293.3 219.8h0M1285.7 258.9h0M1279.9 256.9h0M1287.3 257.7h0M1297.1 239.2h0M1316.4 226h0M1278.4 233.4h0M1289.2 246.6h0M1272.1 220h0M1275 211.6h0M1266.6 247.7h0M1313.6 230.1h0M1277.1 245.1h0M1275 258.1h0M1294.2 232.7h0M1279.1 262.4h0M1293.1 233.4h0M1276 222.1h0M1303.8 212.3h0M1269 247.4h0M1306.2 253.5h0M1284.1 252.7h0M1271.9 244h0M1277.1 261.1h0M1309.1 213.9h0M1272.6 251.4h0M1296.4 263.9h0M1297.9 253.6h0M1319.4 249.1h0M1271.9 232h0M1304.5 249.2h0M1311.6 250.8h0M1285.2 251.6h0M1285.3 230.4h0M1275.7 253.8h0M1282.4 234.4h0M1274.8 249.3h0M1272.8 234.5h0M1310.9 212.6h0M1276 221.1h0M1307.1 220.3h0M1292.6 259.8h0M1294.2 244h0M1304.3 218.2h0M1291.1 218.6h0M1290.2 212.7h0M1271.7 255.3h0M1273.8 228.4h0" stroke="#1a1a1a" stroke-opacity="0.75" stroke-width="1.7" stroke-linecap="round" fill="none"/><path d="M1292.7 215.3h0M1279.5 211.5h0M1295.1 246.2h0M1309.1 229.4h0M1293.8 208.8h0M1315.9 236.4h0M1300.2 212.7h0M1311.5 233.4h0M1298.1 240.6h0M1292.9 261.7h0M1288.6 207.9h0M1303.1 213h0M1305.9 258.9h0M1300.4 251.3h0M1320.6 247.2h0M1305.8 259.3h0M1284.4 227h0M1297 214.3h0M1313.9 242.2h0M1320.4 233.7h0M1279 209.8h0M1310.4 215.7h0M1321 236.6h0M1303.6 241.1h0M1271.1 246.6h0M1271.3 231.4h0M1301.3 206.8h0M1289.9 259.8h0M1298.3 259.4h0M1297.2 255.1h0M1294.3 217.3h0M1296.9 217.1h0M1320.5 242.7h0M1296.4 227.6h0M1268.7 236.3h0M1263.3 230.3h0M1300.2 256.3h0M1317.2 247.6h0M1305.1 227h0M1296.7 247.5h0" stroke="#101010" stroke-opacity="0.85" stroke-width="2.8" stroke-linecap="round" fill="none"/><path d="M1360.9 132.4h0M1354.6 156.7h0M1380.6 173.2h0M1386.4 173.7h0M1364.1 172h0M1388.1 174.5h0M1388.1 143.2h0M1371.3 172.7h0M1405.5 156.8h0M1395.7 123.2h0M1393.7 170h0M1359.2 154.3h0M1403.7 130.8h0M1366.9 172.9h0M1401.3 144.9h0M1380.2 164.1h0M1375.6 123.3h0M1403.8 133.8h0M1398 169.9h0M1353.3 140.4h0M1385.2 141.2h0M1390.4 148h0M1373.9 135.8h0M1374.1 158.3h0M1362.4 163.7h0M1393.6 170.1h0M1368.5 123.6h0M1365.3 127h0M1358.1 143.6h0M1354.5 146.5h0M1377.2 122.8h0M1411.7 150.7h0M1356.3 164.1h0M1357.1 149h0M1407.2 160.1h0M1393.8 120.1h0M1372.7 169.6h0M1358.3 129.2h0M1407.2 137.6h0M1362.4 166.5h0M1374.8 130.5h0M1387.5 130.7h0M1401.9 164.5h0M1374.9 133h0M1402.4 162.5h0M1390.9 154.3h0M1375.3 133.2h0M1357.4 158.2h0M1393 155.5h0M1372.6 161.4h0M1402.1 131.6h0M1369.7 121.4h0M1398.9 146.5h0M1397.8 161.8h0M1403.9 128.3h0M1370.8 129h0M1395.4 131.5h0M1384.9 117h0M1358.1 150.5h0M1391.1 158.3h0M1366.6 142.4h0M1384 154.5h0M1395.8 162.9h0M1384.6 162.2h0M1358.1 159.3h0M1384.9 130h0M1380.2 130.8h0M1383.4 165.6h0M1380.2 149.3h0M1397.7 167.4h0M1402.2 128.2h0M1385.8 173.2h0M1373.6 137.7h0M1381.6 128.4h0M1367.8 121.6h0M1366.2 122.4h0M1379 164.6h0M1394.6 138.4h0M1363.4 125.1h0M1397 163.7h0M1408 134h0M1378.3 134.5h0M1392.9 134.5h0M1399.3 165.2h0M1411.6 143.7h0M1387.8 146.2h0M1394.6 168.4h0M1397.9 152.7h0M1378.6 149.1h0M1402.3 152.2h0M1354.6 133.9h0M1372.3 145h0M1393.8 171.9h0M1369.8 137.8h0M1369.6 134.4h0M1402.1 168.8h0M1396.4 145.3h0M1361.1 142.1h0M1383.3 127.9h0M1360.3 145.4h0M1369 136.9h0M1377 163.9h0M1387.7 137.9h0M1393.4 161.7h0M1389.7 171.2h0M1391.8 157.4h0M1351.2 147.8h0M1376.3 136.9h0M1388.5 161.1h0M1369 166.3h0M1398.6 130h0M1381.1 137.3h0M1407.5 155.5h0M1392.2 130.1h0M1356.6 129.2h0M1411.4 149.3h0M1366.1 163.6h0M1354 142h0M1382.3 173.6h0M1385 135.9h0M1361 133.2h0M1367.3 164.7h0M1383.4 160.1h0M1411 142h0M1403.6 127.2h0M1395.3 124.6h0M1384.4 152.7h0M1377 159.2h0M1402 151.3h0M1404.1 150.7h0M1399.1 148.5h0M1371.6 148.7h0M1394.9 158.8h0M1362 160.8h0M1374 165.1h0M1372.7 144.4h0M1390.3 122.5h0M1357.2 164.3h0M1399.2 156.8h0M1355.3 154.4h0M1372.3 159.5h0M1378.4 136.7h0M1410.4 147.7h0M1396.6 157.8h0M1389.8 157.3h0M1395.5 165.3h0M1375.1 125.2h0M1371 173.7h0M1401.3 150.8h0M1351.8 154.2h0M1387.9 132.9h0M1383.7 160.1h0M1357.7 161.3h0M1392.6 120.9h0M1372.4 157.9h0M1385.4 168.6h0M1405.2 165.9h0M1398.8 135.8h0M1383.9 147.1h0M1395.2 147.1h0M1380.1 159.8h0M1386.2 166.8h0M1358.9 158.6h0M1358 142.6h0M1389.8 164.5h0M1357 136.1h0M1387 169.8h0M1390.7 135h0M1396.4 129.7h0M1378.1 130.4h0M1401.2 146.3h0M1390.9 144.9h0M1362.6 166.4h0M1364.3 154.5h0M1410 153.8h0M1378.8 172.1h0M1396.4 148.4h0M1399.6 134.7h0M1389.3 134h0M1365.9 161.7h0M1367.8 155.8h0M1411.1 141.2h0M1395.9 155.9h0M1370.7 156.1h0M1351.1 141.6h0M1389 158.6h0M1393.3 171.5h0M1396.7 134.9h0M1382.6 123.7h0M1355.3 161.8h0M1380.7 142.8h0M1356.7 145.1h0M1369 129h0M1363.5 163.1h0M1398.4 165.2h0M1376.5 147.1h0M1362.4 123.2h0M1409.7 139.7h0M1401.7 131.8h0M1391.4 149.5h0M1400.2 168.1h0M1370 157.6h0M1406.2 140.8h0M1396.4 141.7h0M1404.7 150.7h0M1393.8 128.6h0M1398.1 167.9h0M1363.7 162.6h0M1355.2 132.4h0M1397.6 144.8h0M1385.1 141.1h0M1361 148.3h0M1375.9 142.7h0M1353 153.2h0M1360.9 162.8h0M1381.7 131.6h0M1406.5 140.7h0M1391.2 148.7h0M1368.8 136.1h0M1395.2 131.1h0M1364.1 166.9h0M1399.3 127.6h0M1387 145.7h0M1387.3 120h0M1407 149.5h0M1365.6 140.5h0M1398.1 124.4h0M1387.3 155.1h0M1404.5 128.6h0M1398.9 167.1h0M1398.2 143.9h0M1360.5 149.8h0M1409.7 151.7h0M1359.2 161.9h0M1356 161.4h0M1399.7 145.9h0M1386.3 161.5h0M1376.5 168.1h0M1390.5 129.3h0M1354.3 133.1h0M1388.3 148.9h0M1372 154.9h0M1356.8 150.3h0M1375.5 152.4h0M1401.1 132.5h0M1384.9 150.5h0M1404 130.8h0M1387.5 142.5h0M1407.9 146.7h0M1364.6 149.5h0M1400.3 149h0M1363.4 165.6h0M1383.2 130.7h0M1373.1 155h0M1377.8 145.6h0M1363.5 136.4h0M1380.2 162.5h0M1407.7 152.4h0M1357.3 163.3h0M1359.7 148.7h0M1390.7 157.9h0M1383.6 160.2h0M1372.4 137.2h0M1388.8 132.6h0M1366.6 140.4h0M1363.3 133.6h0M1389.3 136.1h0M1398.2 148.9h0M1381.4 136.4h0M1374.7 122h0M1358.3 128.7h0M1361.4 166.2h0M1381.4 176h0M1376.9 167.6h0M1382.8 134h0M1366.1 140.4h0M1395.7 124.1h0M1386.6 131.5h0M1405.8 155.9h0M1392.3 137h0M1384.1 131.1h0M1396.7 156h0M1375.8 143.8h0M1388 138.9h0M1382.7 139.6h0M1368.5 161.1h0M1393.9 171.2h0M1388.6 174.2h0M1360.9 166.8h0M1374.3 152.3h0M1369.9 171.6h0M1358.6 164.3h0M1360.8 144.9h0M1356.8 129.8h0M1382.8 151.2h0M1382.2 157.1h0M1409.3 141.5h0M1382.8 147.7h0M1374.8 120.1h0M1368.7 121.1h0M1378.9 134.1h0M1396.1 124.4h0M1384.5 120.3h0M1387.9 128.1h0M1395.3 147.3h0M1407.3 151.1h0M1359.8 168.5h0M1382.4 165.9h0M1357.4 149.9h0M1389.2 156.1h0M1400.8 150.9h0M1406.8 136.3h0M1364.7 136h0M1376.4 134.9h0M1384 127.1h0M1363.2 132.4h0M1366.4 144.6h0M1404.7 136.4h0M1379.9 144.2h0M1356.4 147.6h0M1359.8 162.7h0" stroke="#1a1a1a" stroke-opacity="0.75" stroke-width="1.7" stroke-linecap="round" fill="none"/><path d="M1377.6 148.1h0M1400.7 168.3h0M1398.2 153h0M1387.2 174.6h0M1377.7 169.3h0M1360.4 128.3h0M1372.1 161.1h0M1375.1 154.5h0M1374.7 171.8h0M1381.2 148.3h0M1369.1 166.7h0M1408.8 145.4h0M1369.6 149.2h0M1373.9 117.6h0M1397.8 170.5h0M1364.4 152.1h0M1404.5 128.6h0M1403.1 139.1h0M1375.7 148.2h0M1406.4 161.4h0M1400.9 124.8h0M1399.3 135.9h0M1400.9 159.3h0M1357.4 156.7h0M1370.9 141.8h0M1379.1 120.5h0M1351 151.7h0M1362.1 169.4h0M1393.7 170.5h0M1374 149.1h0M1357.4 148.6h0M1371.2 161.7h0M1408.6 153h0M1382.9 141.1h0M1391.1 128.7h0M1357.7 132.2h0M1398.3 129h0M1376.3 165.8h0M1356.8 155.5h0M1410.6 148.8h0M1401.4 141.1h0M1398.4 144.3h0M1375 170.2h0M1406 132h0M1362.4 157h0M1363.8 161.1h0M1381.3 141.3h0M1382.7 165.1h0M1394 156.5h0" stroke="#101010" stroke-opacity="0.85" stroke-width="2.8" stroke-linecap="round" fill="none"/><path d="M1403.3 228.6h0M1378.1 242.6h0M1357.8 239.4h0M1390.6 231.8h0M1362 247h0M1399 224.4h0M1358.5 232.1h0M1368.8 258h0M1374.9 243.4h0M1356.6 228.8h0M1397.9 235.3h0M1380.8 248.5h0M1362.8 255h0M1369.5 222.8h0M1406.6 232.5h0M1376.9 263.6h0M1391.3 215.2h0M1355.6 234.4h0M1398.7 241.6h0M1358.6 228.2h0M1407.9 241.3h0M1358.5 243.8h0M1382.3 219.2h0M1393.8 259.6h0M1379.7 248.7h0M1403.2 252.6h0M1388.8 225.3h0M1395.5 255.4h0M1402.1 228.8h0M1390 242.1h0M1388.5 255.6h0M1360.9 225.2h0M1387.6 208.7h0M1352.9 240.8h0M1351.4 249h0M1372.3 255.5h0M1369.9 250.1h0M1362.7 261.9h0M1363.9 231.1h0M1363.7 257.1h0M1383.3 227.8h0M1380.8 222.5h0M1399.3 216.1h0M1374.2 264.4h0M1364.5 261.8h0M1367.8 212.9h0M1401 242.2h0M1388.7 231.6h0M1363.6 214.9h0M1352 244.8h0M1372.1 255.2h0M1379.3 263.8h0M1396.2 214.1h0M1355.8 219.4h0M1372.6 265h0M1368.4 216.4h0M1351.4 242h0M1352.8 241.4h0M1407.3 247.9h0M1391.6 252.4h0M1380.1 217.8h0M1389.4 210.2h0M1357.2 237h0M1358.3 243.3h0M1401 255.3h0M1405.4 243.2h0M1355.6 248.6h0M1401.9 239.5h0M1352.1 234.8h0M1366.7 223.4h0M1372.7 248h0M1393.8 227.8h0M1398.5 232.9h0M1407.1 228.1h0M1407.5 240h0M1353.2 244.1h0M1407 243.6h0M1395.1 223.4h0M1404.4 236.3h0M1394.1 220.2h0M1369.5 225.2h0M1387.1 218.7h0M1395.4 240.5h0M1352.1 244.7h0M1367.7 262.2h0M1383.9 263.6h0M1363 224.7h0M1386 230.7h0M1388.4 218.6h0M1376.2 267.5h0M1372.5 224.3h0M1388.5 225.6h0M1362.5 225.2h0M1352 225.1h0M1362.4 218.3h0M1351.3 237.6h0M1388 247.7h0M1389.7 225.7h0M1406 243.7h0M1359.2 250.6h0M1369.9 233.8h0M1396 215.9h0M1402.6 226.1h0M1379.8 260.1h0M1393.4 230.7h0M1366.2 252h0M1381.2 213.2h0M1355.1 230.5h0M1370.9 208.8h0M1386.4 253.6h0M1391 217.7h0M1405.1 220.3h0M1374.3 233.6h0M1400.1 253.8h0M1362.7 248.6h0" stroke="#1a1a1a" stroke-opacity="0.75" stroke-width="1.7" stroke-linecap="round" fill="none"/><path d="M1390.3 229h0M1361.2 254h0M1355 253.9h0M1361.1 217.8h0M1397.1 219.3h0M1358 223.8h0M1377.1 252.6h0M1393.7 227.2h0M1356 220.6h0M1397.9 217.9h0M1352.7 243h0M1380.1 266.9h0M1360.6 258.7h0M1368.7 229.8h0" stroke="#101010" stroke-opacity="0.85" stroke-width="2.8" stroke-linecap="round" fill="none"/><path d="M1473.3 141.2h0M1465.8 155.1h0M1452.8 144.2h0M1457.6 137.7h0M1485.5 127.2h0M1459.1 132.9h0M1478.8 171.9h0M1468.6 150.4h0M1481.5 138.9h0M1443.4 159.9h0M1442.2 138.8h0M1453.5 138.2h0M1460.8 125.1h0M1473.5 157.1h0M1482.7 120.7h0M1492.4 156h0M1440.7 146.8h0M1496.2 142.6h0M1482.4 120.2h0M1458 173.9h0M1445.7 139.9h0M1472.4 135h0M1451.4 156.5h0M1482.8 126.2h0M1488 161.2h0M1469.1 123.9h0M1479.4 171.7h0M1458.7 169.1h0M1482.6 167.4h0M1483.9 145.1h0M1457.9 152.2h0M1494.7 154h0M1455.6 170.6h0M1479.9 119.3h0M1477.5 166.4h0M1452.5 119.5h0M1490.5 135.3h0M1487.9 136.2h0M1456 133h0M1451.6 124h0M1478.2 169h0M1459 175.1h0M1478.6 138.3h0M1480.7 122.7h0M1436.4 151.1h0M1468 132.7h0M1457.2 131.9h0M1458.5 126.4h0M1451.3 169.4h0M1440.3 146.4h0M1486.7 146.4h0M1460.1 118.4h0M1443.6 135.1h0M1454.7 153.3h0M1445.4 159.3h0M1482 171.6h0M1484.8 134.5h0M1456.6 139.3h0M1459.9 115.9h0M1476.7 149.1h0M1457.9 134.9h0M1437.2 154.2h0M1462.3 159.9h0M1471.3 147.1h0M1452 145.3h0M1481.5 145.5h0M1439.3 145.7h0M1466.1 147.7h0M1484.5 160.6h0M1440.3 131.3h0M1464.1 135.9h0M1452.2 160h0M1449.5 143h0M1439.3 149.2h0M1442.9 132h0M1485.1 126h0M1448.7 122.7h0M1450.5 134h0M1493.5 138.2h0M1448.5 164.1h0M1449.9 155.5h0M1487.7 159.3h0M1465.3 137.2h0M1479.3 136.5h0M1475.6 150.4h0M1488.2 136.5h0M1482.8 139.7h0M1491.5 149.1h0M1471.9 136.8h0M1493 153.5h0M1457.6 154.6h0M1471.8 137.4h0M1450.4 167.6h0M1485.1 159.1h0M1459.4 159.7h0M1447.6 133.8h0M1455.6 162h0M1456.4 128.7h0M1478.7 145.2h0M1466.7 142.7h0M1493.4 149.6h0M1487.5 139.9h0M1462.2 131.8h0M1482.1 125.2h0M1439 150.8h0M1494.4 145.2h0M1453.4 156.2h0M1477.6 118.8h0M1476.5 148.8h0M1451 170.8h0M1455 169h0M1453.8 161.9h0M1459.5 160.8h0M1455.1 147.7h0M1461.4 160.5h0M1471.5 143.1h0M1469.6 119.5h0M1462.9 129.5h0M1472.7 125.5h0M1495.4 137.4h0M1486.7 128.8h0M1492.8 157.1h0M1463.8 122.2h0M1441.6 163.5h0M1438.5 153.8h0M1450.3 151.4h0M1484.6 168.9h0M1467.1 175.9h0M1476 144.5h0M1450.2 142.8h0M1490.3 152h0M1442.2 151.4h0M1451.4 159.9h0M1478.6 121.8h0M1449.3 121.4h0M1440.9 129.3h0M1458.1 171.6h0M1459.9 124.5h0M1475 162.7h0M1447.2 129h0M1483.8 155.8h0M1484.5 156h0M1491.6 131.3h0M1488.5 166.6h0M1481.3 147.3h0M1468.8 155.8h0M1441.9 154h0M1490.2 127.5h0M1470.6 174.4h0M1454.6 137.2h0M1482.8 164.7h0M1477 150.5h0M1475.4 143h0M1462.7 142.2h0M1477.4 129.1h0M1446.6 144.4h0M1472.9 160.6h0M1443.8 155.4h0M1453.9 136.3h0M1477.5 135.6h0M1453 134.9h0M1440.7 142.4h0M1442.4 159.3h0M1495 147.6h0M1461.5 175.8h0M1455.9 143.5h0M1488 124.9h0M1465.8 173.3h0M1454.5 164.3h0M1461.2 150.1h0M1470 166.6h0M1442.5 141.1h0M1458.4 123.6h0M1483.9 166.6h0M1445.9 134.6h0M1481 151.8h0M1445.6 126.2h0M1492.6 139.3h0M1470.6 173.7h0M1444.1 131.4h0M1480.8 121.3h0M1456.3 137.1h0M1457 159.6h0M1461.9 150.4h0M1465.7 117.2h0M1435.5 147.6h0M1491.6 151.5h0M1462.9 156.6h0M1483.5 139.8h0M1479.7 161.4h0M1459.3 133.4h0M1459.1 128.4h0M1459.8 141.7h0M1454.5 169.4h0M1459.5 134.7h0M1468.8 115.5h0M1483.2 157.5h0M1449.3 143.9h0M1442.2 161.3h0M1466.6 164.4h0M1469 172.1h0M1462.7 130.8h0M1471 118.9h0M1461.3 117.5h0M1490.2 160.6h0M1476.7 167.3h0M1448.2 124.9h0M1464.8 155.3h0M1476.3 172.3h0M1452.7 163.3h0M1442.9 125.8h0M1467.4 142.1h0M1480.1 140.9h0M1478.6 165.5h0M1454.4 154.3h0M1488.9 135.4h0M1450.8 152.3h0M1484.7 126.2h0M1478.7 136h0M1470.3 115.9h0M1458.6 134.8h0M1440.6 130h0M1481.9 120.1h0M1460.4 131.6h0M1447.1 165.2h0M1462.2 162.6h0M1488.1 128.9h0M1487.9 137.6h0M1471.9 143.9h0M1463.8 130.8h0M1463.6 172.3h0M1473.3 123.7h0M1450.1 128.4h0M1481.8 126.8h0M1444.7 131.7h0M1493.2 133.6h0M1488.8 160.2h0M1462.5 151.8h0M1475.7 126.9h0M1476.1 162.3h0M1472.4 158.2h0M1467.6 159.9h0M1489 157.7h0M1468.7 125.9h0M1489.2 152.5h0M1455.1 129.5h0M1485.9 138.3h0M1439.3 135.7h0M1455 137h0M1468.5 148.1h0M1441.4 162.1h0M1486 137.8h0M1492.8 137.9h0M1483.7 142.9h0M1459 150.4h0M1473.2 173.2h0M1461.6 138.6h0M1439.2 156.8h0M1436.8 137.1h0M1487.2 126.5h0M1461.3 171h0M1460.2 120.7h0M1469.5 149.9h0M1465.1 119.1h0M1437.5 145.1h0M1459 117.8h0M1470.2 146.1h0M1468.6 120.2h0M1488.1 148.9h0M1464.9 122.4h0M1479.2 159.4h0M1466.6 166.6h0M1448.7 157.6h0M1463.5 125.1h0M1492.6 146.3h0M1476.7 124.5h0M1489.7 136.5h0M1472.2 170.8h0M1437.2 136.3h0M1450.1 169.9h0M1494.7 136.6h0M1454.3 154.7h0M1444.6 154.3h0M1452.6 155h0M1449.4 120h0M1478.4 169.8h0M1466.7 156.7h0M1478.9 130.4h0M1456.8 143.6h0M1490.5 145.7h0M1475.8 150h0M1494.1 146h0M1492 143.5h0M1458.1 161.9h0M1481.8 124.7h0M1464.2 160.1h0M1478.5 169.8h0M1464.5 164.9h0M1459.8 173h0M1444.5 134.6h0M1469.9 162.7h0M1447 139.6h0M1455.7 152.9h0M1453.2 168.8h0M1444.1 152.2h0M1452.5 157.8h0M1469.5 169.4h0M1465.6 119.1h0M1459.5 161.5h0" stroke="#1a1a1a" stroke-opacity="0.75" stroke-width="1.7" stroke-linecap="round" fill="none"/><path d="M1479.5 134.6h0M1442.5 162.2h0M1437.7 148.3h0M1458.3 161.4h0M1454 159.8h0M1487.2 162.7h0M1451.5 162.9h0M1486.7 157.3h0M1463.6 131.4h0M1465.4 170h0M1486.1 129.4h0M1479.3 131.4h0M1475.7 130.5h0M1494.3 143.2h0M1492.8 132.4h0M1458.8 151.1h0M1483 129.2h0M1452.8 148.5h0M1476.3 159.9h0M1475 136.6h0M1478.8 143.3h0M1465.8 138.6h0M1446.8 143.4h0M1456.9 126.1h0M1468.2 169.5h0M1471.5 172h0M1449.6 138h0M1443.2 135.7h0M1462.9 128.1h0M1475.9 152.7h0M1485.6 167.2h0M1441.9 133.1h0M1475.6 173h0M1472.5 119h0M1445.2 147.1h0M1450.4 155.4h0M1455.6 133.5h0M1462.7 148.8h0M1458 171.8h0M1442.2 164.8h0M1488.8 163.6h0M1462.4 116.1h0" stroke="#101010" stroke-opacity="0.85" stroke-width="2.8" stroke-linecap="round" fill="none"/><path d="M1481.1 213.9h0M1479.2 262.9h0M1458.7 226.5h0M1481.8 215.4h0M1444 257.3h0M1486.8 217.6h0M1447.1 231.8h0M1488.8 228.5h0M1464.9 231.8h0M1449.3 212.4h0M1459.5 211.6h0M1472.2 261.3h0M1475 208.2h0M1466.4 260.2h0M1460.5 240.2h0M1446.5 259.5h0M1478.7 218.3h0M1450.3 212.6h0M1463.5 238.6h0M1443.4 221.9h0M1444.4 217.4h0M1486.3 241h0M1441.3 218.9h0M1444.8 220.1h0M1471.9 256.5h0M1469.7 207.7h0M1487.1 251.9h0M1444.5 215.1h0M1440.6 220.1h0M1465.2 239.4h0M1471.7 210.4h0M1455.5 213h0M1489 225.4h0M1486.6 230.5h0M1443 250.2h0M1464.9 228h0M1446.6 240.1h0M1465.4 264.7h0" stroke="#1a1a1a" stroke-opacity="0.75" stroke-width="1.7" stroke-linecap="round" fill="none"/><path d="M1464.7 266h0M1477.5 215.8h0M1447.3 255.2h0M1443 215.8h0M1476.4 261.5h0M1491.6 231.2h0" stroke="#101010" stroke-opacity="0.85" stroke-width="2.8" stroke-linecap="round" fill="none"/><path d="M1563.5 138.7h0M1584.4 143.1h0M1571.5 127.1h0M1551.2 139.2h0M1582.7 144h0M1561.6 168h0M1577.3 139.9h0M1556.1 152.5h0M1527.4 141.2h0M1572.8 163.2h0M1588 150.5h0M1557.1 173.4h0M1543.3 159.6h0M1583.5 136h0M1563.1 124.4h0M1559 137.9h0M1580.4 135.9h0M1553.4 152.1h0M1530.9 147.4h0M1530.3 147.8h0M1534.7 126.8h0M1555.6 152.7h0M1538.9 157.4h0M1541.3 131.3h0M1551.6 121.9h0M1577.1 128.8h0M1562.4 150.1h0M1527.5 144.3h0M1555.9 164.7h0M1569.5 169.5h0M1570.9 168.2h0M1535.4 142.3h0M1579.4 147.7h0M1557.5 146.7h0M1545.2 172.5h0M1568.2 147.9h0M1555.5 123.6h0M1539.7 155.6h0M1531.1 157.3h0M1586.2 136h0M1538 151.2h0M1570.1 146.2h0M1546.9 163.4h0M1539.5 121.9h0M1556.8 168.7h0M1556.2 135.4h0M1556.1 162.5h0M1577.4 153.1h0M1536 147.5h0M1569.1 169.1h0M1574.5 130.1h0M1576.9 126.8h0M1579.6 159.3h0M1577 147.1h0M1565.2 127.5h0M1573.9 149.5h0M1544.4 123.7h0M1564 121.2h0M1554.3 126h0M1550.5 123.3h0M1534.5 133.9h0M1544.4 166.5h0M1556 166h0M1563.1 154.6h0M1529.6 144.6h0M1547.6 125.3h0M1550.5 131h0M1555.8 119.2h0M1557.1 125.7h0M1563.2 115.4h0M1549.4 156h0M1527.3 143.1h0M1552.9 133.5h0M1577.6 145.7h0M1536.6 143.3h0M1569.7 117.8h0M1542.3 142h0M1542.4 170.2h0M1548.7 128.4h0M1572.8 168.2h0M1543.8 128.3h0M1583.7 152.8h0M1537.6 125.8h0M1573.5 125.3h0M1546.5 145.6h0M1559.9 125.4h0M1574 127.6h0M1586.2 150.8h0M1578.7 160.8h0M1536.2 148.1h0M1553.3 160.1h0M1558.5 167.2h0M1558.1 156h0M1582.1 150.8h0M1562.9 147h0M1562.1 115h0M1583.3 151.8h0M1583 156.2h0M1580.8 132.2h0M1562 158.2h0M1567.9 165.9h0M1581.8 135.9h0M1578.2 151h0M1568.5 155.9h0M1532.5 140.4h0M1554.1 136.5h0M1551 168.6h0M1560 139.5h0M1555.9 132.4h0M1574.7 122.5h0M1539.6 124.8h0M1557.6 174.3h0M1577.5 129.3h0M1535.2 146.9h0M1561.1 168.5h0M1562.4 154.4h0M1570.5 172.9h0M1575 133h0M1570.2 125.1h0M1572.7 144.1h0M1547.7 166.9h0M1532.2 133.6h0M1540.7 133.1h0M1534.2 129h0M1582.4 162.4h0M1544.6 129.3h0M1542 163.3h0M1545.8 118.4h0M1573.2 140.3h0M1584.3 150h0M1574.5 128h0M1570.9 141.3h0M1557.8 145.7h0M1541.8 127.9h0M1570.4 139.6h0M1562.8 164h0M1542 139.9h0M1567.7 172.7h0M1532.4 142.5h0M1541.4 165.2h0M1535.7 158.6h0M1536.1 126.5h0M1550.1 167.8h0M1575.1 165.9h0M1533.8 153.5h0M1557.7 143.2h0M1542 122.1h0M1575.7 163.8h0M1529.6 142.2h0M1530.7 138h0M1571.2 140.6h0M1537.5 140.3h0M1561.3 146h0M1582.4 127.2h0M1565.5 127.6h0M1528.9 145.3h0M1555.8 140.7h0M1557.7 159.4h0M1561.3 174.5h0M1543.6 170.6h0M1540.8 165.7h0M1538.2 154.1h0M1534 160.3h0M1541.3 164.8h0M1561.5 147.3h0M1535.9 135.2h0M1550.5 146.8h0M1560.3 175.8h0M1533.3 157.1h0M1555 159.2h0M1528.7 148.6h0M1537.3 157.8h0M1586.9 139.9h0M1542.8 154.5h0M1536 166.7h0M1585.2 150.6h0M1562.4 134.4h0M1564.6 155.5h0M1557.5 118.4h0M1542 129.1h0M1542.1 125.6h0M1550.9 145.7h0M1548.1 149.7h0M1565.6 168.1h0M1554.6 150.9h0M1559.1 135h0M1566.1 125.8h0M1570.3 131.9h0M1528.7 153.2h0M1581.7 154.7h0M1583.3 155.7h0M1572.9 150.5h0M1578.9 157.1h0M1528.8 153.8h0M1538.8 131.4h0M1532.3 145.2h0M1538.8 169.3h0M1568.1 168.9h0M1576.5 121h0M1550.6 158.2h0M1581.4 134.4h0M1548.7 172.8h0M1553.1 166.9h0M1566.1 120.3h0M1580 126h0M1567.7 161.9h0M1544.8 155.1h0M1578.9 163.2h0M1549 134.8h0M1541 165.5h0M1576 121.2h0M1576.8 160.3h0M1552.3 135.1h0M1547.3 170.1h0M1584.7 150.4h0M1566 160.3h0M1562.4 120h0M1557.3 163.4h0M1573.2 164.7h0M1563.3 170.2h0M1572 162.1h0M1550.5 143.7h0M1574.1 143.4h0M1548.1 117.7h0M1550.2 123.7h0M1540.7 133.5h0M1538.7 129.6h0M1561.3 122.4h0M1540.2 154.4h0M1536.5 151.5h0M1554.9 135.8h0M1585.5 153h0M1540.9 148h0M1558.2 171.9h0M1539.3 168.6h0M1555.2 143.9h0M1566.7 120.7h0M1580 130.1h0M1584.1 152.2h0M1586.7 137.3h0M1536.1 162.7h0M1541.2 138.8h0M1558.1 114.9h0M1588.1 143h0M1528.8 155.3h0M1559.3 115.8h0M1575.7 163.2h0M1566.4 126.1h0M1582 157.7h0M1568.4 151h0M1534.9 163h0M1528.4 140.3h0M1573 151.9h0M1536.3 147.5h0M1561.1 166.5h0M1582.1 136.6h0M1542.8 165.9h0M1583.4 128.8h0M1542.6 147.8h0M1562.9 124.8h0M1582.2 156h0M1529.5 153.2h0M1587.8 149.7h0M1541.1 166.5h0M1557.7 171.4h0M1582.6 159.3h0M1548.4 130.6h0M1549.5 169.2h0M1561.5 124.8h0M1542.3 133.9h0M1537.1 129h0M1539.4 157.9h0M1576.2 130.4h0M1564.8 169h0M1573.5 151.8h0M1539 121.7h0M1571.2 128.7h0M1559.4 147.2h0M1537.8 165.9h0M1581.1 145.2h0M1546.6 155h0M1551.6 172.2h0M1576.5 153.8h0M1543.7 165.1h0M1549.7 134.2h0M1533.8 146.1h0M1534.1 136.8h0M1578.4 122.7h0M1557.5 169.5h0M1570.1 122.5h0M1533.2 160h0M1585.8 146.6h0M1556.5 116.5h0M1576.9 133.7h0M1570.9 118.2h0M1584.2 139.9h0M1566 124.7h0M1561.5 149.5h0M1571.9 134.7h0M1569.6 149.7h0M1538.3 167.6h0M1574.3 166.4h0M1567.6 156.3h0M1567.3 170.6h0M1540.2 128.8h0M1575.5 149.8h0M1582.8 129.2h0M1572.2 125.3h0M1573.7 161.9h0M1561.7 165.7h0M1587.8 145.9h0M1562.9 135.6h0M1542.4 128.1h0M1528.4 137.3h0M1581.1 132.7h0M1550.6 168.1h0M1553.7 121.1h0M1546.1 140.4h0M1568.5 163.6h0M1581.9 131.4h0M1568.3 166.5h0M1546.3 171.5h0M1541.9 119.3h0M1527.7 147.8h0M1540.1 124.3h0M1576.5 131.4h0M1541.1 126.2h0M1540.3 163.3h0M1565.4 161.9h0M1570.4 171h0M1536.8 141.8h0M1560.7 173.8h0M1577.9 128.9h0M1562.6 173.6h0M1554.2 157.5h0M1537.5 153.6h0M1552.3 165.9h0" stroke="#1a1a1a" stroke-opacity="0.75" stroke-width="1.7" stroke-linecap="round" fill="none"/><path d="M1548.3 129.2h0M1571.8 145h0M1553.2 148h0M1564.3 145.6h0M1571.7 150.6h0M1584 147.9h0M1555.2 171.2h0M1554.1 114.9h0M1534.6 148.7h0M1554.2 170.2h0M1544.9 173.2h0M1573.5 151h0M1530.1 132.6h0M1557.6 145.6h0M1560.2 159.7h0M1552.4 133.4h0M1575.3 139.8h0M1540 167h0M1543 136.8h0M1530.2 141.2h0M1584.9 132.3h0M1540.8 130.6h0M1585.8 157.9h0M1567.4 135.9h0M1529.4 147.8h0M1532.7 141.8h0M1574.1 146.1h0M1551.2 122.8h0M1557.2 174.5h0M1567 123.6h0M1548.9 131.5h0M1559.6 116.5h0M1576.7 157h0" stroke="#101010" stroke-opacity="0.85" stroke-width="2.8" stroke-linecap="round" fill="none"/><path d="M1532.2 219.9h0M1562.4 260h0M1574.8 259.1h0M1554.8 262.3h0M1583.8 233h0M1556.6 257.1h0M1574 220.2h0M1536.8 244.1h0M1567.6 221.4h0M1567.3 261.4h0M1540.5 214.3h0M1569.5 239.4h0M1558.6 229.1h0M1557.3 251.1h0M1548.7 258.8h0M1578.4 249.7h0M1549.8 243.1h0M1569.9 264.9h0M1574.7 261.2h0M1570.6 250.8h0M1574.9 256.4h0" stroke="#1a1a1a" stroke-opacity="0.75" stroke-width="1.7" stroke-linecap="round" fill="none"/><path d="M1555.5 236.6h0M1551.6 258.4h0M1528.8 228.3h0M1584.4 234h0" stroke="#101010" stroke-opacity="0.85" stroke-width="2.8" stroke-linecap="round" fill="none"/></g>
</g><g id="pd">
<text x="1076.5" y="347.9" font-size="27.6" textLength="227.2" lengthAdjust="spacingAndGlyphs">HCC1576 NF2 null</text>
<text x="1058.5" y="393.5" font-size="27.6" text-anchor="end" textLength="56.0" lengthAdjust="spacingAndGlyphs">[µM]</text>
<text x="1120.3" y="393.5" font-size="27.6" text-anchor="middle" textLength="71.8" lengthAdjust="spacingAndGlyphs">0.016</text>
<text x="1214.6" y="393.5" font-size="27.6" text-anchor="middle" textLength="71.8" lengthAdjust="spacingAndGlyphs">0.049</text>
<text x="1294.4" y="393.5" font-size="27.6" text-anchor="middle" textLength="55.9" lengthAdjust="spacingAndGlyphs">0.15</text>
<text x="1387" y="393.5" font-size="27.6" text-anchor="middle" textLength="55.9" lengthAdjust="spacingAndGlyphs">0.44</text>
<text x="1463" y="393.5" font-size="27.6" text-anchor="middle" textLength="55.9" lengthAdjust="spacingAndGlyphs">1.33</text>
<text x="1560" y="393.5" font-size="27.6" text-anchor="middle" textLength="16.0" lengthAdjust="spacingAndGlyphs">4</text>
<text x="1058.5" y="466.4" font-size="27.6" text-anchor="end" textLength="78.7" lengthAdjust="spacingAndGlyphs">DMSO</text>
<text x="1058.5" y="548.5" font-size="27.6" text-anchor="end" textLength="127.0" lengthAdjust="spacingAndGlyphs">GNE-7883</text>
<rect x="1071.4" y="400.9" width="530.7" height="183" fill="#000"/>
<g filter="url(#wb)"><circle cx="1117.9" cy="447.9" r="33.3" fill="url(#w140)"/><circle cx="1116.5" cy="537.2" r="33.3" fill="url(#w140)"/><circle cx="1204.7" cy="447.9" r="33.3" fill="url(#w140)"/><circle cx="1204" cy="539.1" r="33.3" fill="url(#w140)"/><circle cx="1291.6" cy="447.9" r="33.3" fill="url(#w140)"/><circle cx="1292.1" cy="538.6" r="33.3" fill="url(#w140)"/><circle cx="1380" cy="448.2" r="33.3" fill="url(#w140)"/><circle cx="1380" cy="536.9" r="33.3" fill="url(#w140)"/><circle cx="1463.6" cy="447" r="33.3" fill="url(#w140)"/><circle cx="1463.1" cy="536.6" r="33.3" fill="url(#w140)"/><circle cx="1555.6" cy="447.4" r="33.3" fill="url(#w140)"/><circle cx="1556.5" cy="538.3" r="33.3" fill="url(#w140)"/></g>
<g filter="url(#wd)"><path d="M1120.4 476.8h0M1132.1 458.6h0M1104.2 433.9h0M1126.5 439.3h0M1114.9 422.1h0M1133.1 452.6h0M1117.8 432.8h0M1121.7 418.9h0M1088.7 442.1h0M1147.8 441.5h0M1110.5 427h0M1117.3 459.2h0M1102.9 455.6h0M1116.5 432.1h0M1105.8 453.8h0M1104.1 470.9h0M1124.9 471h0M1102.6 439.7h0M1110.5 470.3h0M1141.7 456.2h0M1119.4 440.2h0M1140.2 428.8h0M1143 461.1h0M1127.5 457.9h0M1099.5 429.4h0M1106.8 465.3h0M1108.7 428.6h0M1110.4 448.3h0M1140.8 443.4h0M1144.5 437.9h0M1132.5 433.7h0M1143.4 452.3h0M1128.9 475.5h0M1138 443.5h0M1093.6 453.9h0M1124.4 459h0M1117.7 456.9h0M1108.9 423.4h0M1105.1 473.8h0M1137.8 446.8h0M1129.8 450.9h0M1092.8 456.2h0M1131.9 421.7h0M1139.2 455h0M1117 476.6h0M1123.1 430.7h0M1096.7 448.9h0M1098.2 450.3h0M1125.6 447.6h0M1104 420.7h0M1112.1 467.5h0M1139.3 447.1h0M1120.9 455.4h0M1113.6 457.9h0M1138.3 466.3h0M1094.5 465.6h0M1109.5 459h0M1125.5 449.3h0M1115.1 472.2h0M1135.4 462.7h0M1115.3 471.9h0M1094.6 462.2h0M1123.9 443.6h0M1105.2 462.1h0M1121.4 426.6h0M1099.1 470.9h0M1099.4 451.1h0M1133.7 430.3h0M1126.7 446.2h0M1139.6 462.2h0M1124.1 458h0M1095.2 467.2h0M1109.6 463.5h0M1128.6 452h0M1128.4 466.9h0M1092.7 451h0M1140.3 437.3h0M1113.4 445.1h0M1141.4 439.1h0M1106.7 454.7h0M1135.7 461.1h0M1133.8 423.3h0M1104.9 458.3h0M1101 471h0M1128.4 424.2h0M1108.5 430.3h0M1130.8 469h0M1130.8 468.1h0M1138 465.7h0M1133.1 424h0M1127.8 427.1h0M1107.2 469.1h0M1145.4 457.9h0M1146.6 438.6h0M1104.9 463.6h0M1114.3 454.2h0M1121.9 449.8h0M1093.5 435h0M1102.1 450h0M1125.8 421.7h0M1114 465.7h0M1143.3 465h0M1109.4 433.1h0M1100.8 427.2h0M1122.4 451.8h0M1138.8 456.2h0M1126.9 460.6h0M1111.9 419.2h0M1135.4 431.4h0M1103.3 428.5h0M1135.9 458.4h0M1132.3 446h0M1117.6 462.8h0M1119 434.5h0M1123.2 419.3h0M1147.9 446.9h0M1106.4 466.2h0M1108.6 476.6h0M1141.6 462.9h0M1088.4 451.1h0M1137.4 431.7h0M1118.2 448.9h0M1116 478.1h0M1115.1 433.9h0M1120.7 430.6h0M1125.4 428.7h0M1090.3 449.4h0M1134 468.3h0M1141.5 454.7h0M1144 438.1h0M1127.7 476.9h0M1090.9 455h0M1113.9 428.8h0M1108.3 469.7h0M1091.1 456.1h0M1115 426.5h0M1136.7 471.8h0M1139 429.3h0M1136 468.7h0M1108.8 420.1h0M1126 470h0M1108.6 420.7h0M1118.3 447h0M1089.3 451.1h0M1094.1 453.9h0M1103.8 444h0M1102.6 466.1h0M1110.3 433.2h0M1122.2 453.4h0M1093.8 454.5h0M1128.7 419.7h0M1099.1 469.2h0M1099.2 462.1h0M1105 455.9h0M1136 456h0M1137.9 433.8h0M1128.3 468.2h0M1136.4 428.4h0M1090.8 439.9h0M1133.7 459h0M1126.9 421.1h0M1118.2 458.7h0M1098.7 424.6h0M1106.8 435.2h0M1116.3 449.7h0M1089 454h0M1121.1 463.2h0M1111.3 439h0M1123.8 456.8h0M1107.6 440.7h0M1147.4 454.3h0M1129.2 420.1h0M1113 439.6h0M1116.9 443.4h0M1118.4 420.3h0M1137.3 443.1h0M1128.6 444.2h0M1121.3 434.8h0M1101.5 447.8h0M1138.3 442.8h0M1117.1 450.1h0M1123.7 459.8h0M1136.8 444.9h0M1141 456.6h0M1126.3 433.4h0M1131.5 464.2h0M1106.2 471.2h0M1127.8 474.9h0M1088.7 443.3h0M1112 476.2h0M1126.8 473.6h0M1093.9 431.4h0M1097.8 468.7h0M1116.7 455.7h0M1109.5 467.2h0M1127.1 426.3h0M1130.6 465.1h0M1097.2 470.1h0M1120.3 420.7h0M1127.9 433.5h0M1122.8 447.5h0M1104 439.9h0M1089.9 447.3h0M1139.2 458.8h0M1128.5 419.8h0M1115.8 437.3h0M1129.1 437h0M1140.5 464.6h0M1134.1 450.5h0M1146.7 452.9h0M1116.9 477h0M1105.1 467.1h0M1092.4 452.1h0M1124.4 436.6h0M1127.9 427.6h0M1129.6 468h0M1118.1 421.6h0M1138.2 448.7h0M1140.1 453.8h0M1144.9 434.8h0M1117.2 447.2h0M1133.7 460.7h0M1109.6 449.8h0M1123.9 474.2h0M1097.6 468.5h0M1112.1 456h0M1114.9 475.4h0M1090.5 437.1h0M1120.2 475h0M1114.2 431.3h0M1135.1 447h0M1112.6 438.6h0M1112.9 473.5h0M1105.4 444.4h0M1129.5 457h0M1105.9 441.2h0M1118.9 424.7h0M1103.7 436.3h0M1132.1 470.8h0M1089.5 439.4h0M1097.2 454h0M1117.1 467.4h0M1135.9 441.9h0M1128.4 456.3h0M1106.8 459h0M1100.9 472.8h0M1110.3 451.9h0M1089.7 438.3h0M1138.2 468h0M1143 438.3h0M1088.3 446.3h0M1108.3 431.1h0M1108.8 465h0M1147.3 444.6h0M1107.5 472.9h0M1135.8 436.7h0M1114.9 417.6h0M1109.8 419.4h0M1123.2 454h0M1111.2 458.3h0M1130.5 445.6h0M1139 437.6h0M1130 472.2h0M1102 468.1h0M1140.1 428.5h0M1132.3 465.1h0M1126.7 444h0M1117.2 451.9h0M1118.5 452.4h0M1111.7 459.3h0M1108.7 443.4h0M1139.1 468.3h0M1088.8 453.8h0M1132.1 466.5h0M1119.1 425h0M1101.7 439h0M1111 432.6h0M1124.6 466.2h0M1133.5 441.9h0M1119.4 470.3h0M1136.7 465.3h0M1123.7 462.6h0M1107.2 440.4h0M1097 466.9h0M1101.5 440.3h0M1148.3 445.7h0M1102.8 454h0M1108.1 430.3h0M1134.8 461.1h0M1095.1 465.9h0M1126.4 457.9h0M1144.1 452.4h0M1091.9 441.6h0M1114.4 455.4h0M1123.1 428.9h0M1131.2 431.4h0M1121.2 436h0M1146.3 453.9h0M1106.6 449.9h0M1125.7 436.5h0M1122.8 434.1h0M1141.6 437.3h0M1117.3 423.4h0M1107.1 425h0M1115.3 438.9h0M1133.1 433.4h0M1096.2 452.9h0" stroke="#1a1a1a" stroke-opacity="0.5" stroke-width="1.7" stroke-linecap="round" fill="none"/><path d="M1113.2 473.9h0M1098.4 441.2h0M1104.7 462.4h0M1100.2 468.4h0M1141.2 429.2h0M1116.2 465.1h0M1092.9 442.8h0M1126.3 420.6h0M1101.3 466.7h0M1088.9 457.1h0M1120.1 474.6h0M1115.1 447h0M1112.3 429.8h0M1114.2 429.8h0M1122.2 424.9h0M1113.2 444.7h0M1098.2 446.9h0M1128 472.2h0M1120.3 444.3h0M1120.2 450.7h0M1132 471h0M1111 454.8h0M1127.7 471h0M1115.4 474.1h0M1097.6 449.7h0M1113.7 458.2h0" stroke="#101010" stroke-opacity="0.6" stroke-width="2.6" stroke-linecap="round" fill="none"/><path d="M1139 533.4h0M1110.1 567.1h0M1127.8 555.7h0M1102.6 531.1h0M1089.1 545.7h0M1144.4 528h0M1102.2 522.2h0M1108.6 555.6h0M1121.7 523.3h0M1133.6 525.8h0M1118.3 549h0M1103 545.5h0M1125.4 516.7h0M1091.5 544.3h0M1125.7 543.6h0M1115.2 530.3h0M1130.1 519.1h0M1122.5 517.1h0M1107.4 552h0M1117.6 509.7h0M1132.2 560h0M1139.2 551.2h0M1118.2 507.2h0M1108.3 557.5h0M1088.7 528.2h0M1110.6 545.1h0M1121.5 518.1h0M1117.6 548.7h0M1121.2 509.2h0M1121.3 560.6h0M1099.4 516.6h0M1098.7 538.8h0M1098 548.6h0M1097 556.6h0M1117.6 517.2h0M1136.1 558.3h0M1111.3 512.7h0M1108.2 508.5h0M1128.1 544.7h0M1092.3 522.4h0M1113.2 520.4h0M1108.2 509.3h0M1110.3 529.9h0M1143.7 550.7h0M1092.3 553.4h0M1121.9 560h0M1102.7 548.3h0M1089.3 537.7h0M1119.9 534.3h0M1093.8 519.6h0M1086.4 535.2h0M1090.9 523.2h0M1108.3 509.3h0M1100.9 515.8h0M1094.8 554.6h0M1138.8 556.5h0M1118.7 522.2h0M1127.5 525.2h0M1121.6 553.9h0M1123.6 527.1h0M1099.8 531.7h0M1112.8 507.4h0M1107.7 535.4h0M1134.9 542.3h0M1135.5 541.2h0M1109.7 538.8h0M1096.4 536.2h0M1136.4 557.8h0M1110 521.2h0M1114.7 512.9h0M1109 530.4h0M1102.5 536.7h0M1127.4 545.5h0M1124.7 558.6h0M1131.6 561.1h0M1131.1 520.7h0M1103 513.2h0M1089.5 530.3h0M1094.7 540.8h0M1132.2 513.5h0M1127.8 508.8h0M1131 536.5h0M1121.5 566.3h0M1122.5 564h0M1095.5 549h0M1113.8 548.1h0M1110.6 524.8h0M1128.8 524.5h0M1110.2 518.6h0M1100 514.8h0M1097.1 543.3h0M1118.3 566.2h0M1093.7 547h0M1145.3 545.5h0M1097.8 541.5h0M1100 531.4h0M1105.1 520.6h0M1090.8 538h0M1135 534h0M1111.1 558.9h0M1143.6 548.7h0M1134.4 542.1h0M1090.5 534h0M1133.5 517.1h0M1109.4 555.1h0M1134.7 514.6h0M1116.8 512h0M1095.7 539.7h0M1106.3 563.4h0M1114.4 509.5h0M1103.6 545h0M1121.2 523.2h0M1091.3 542.2h0M1121 567.1h0M1105 558.3h0M1132.8 515.6h0M1133 554.6h0M1141.1 553h0M1105.1 546.7h0M1114.1 509.7h0M1114.9 553.3h0M1128.9 531.1h0M1121.6 560.5h0M1097.8 517.4h0M1103.5 539.7h0M1094.6 550.5h0M1135.3 527.5h0M1093.3 555.1h0M1099.5 544h0M1128.9 529.4h0M1100.1 554.7h0M1113.5 512h0M1113.8 525.4h0M1146.8 540.3h0M1113.9 510.9h0M1109.4 542.8h0M1141.8 530.3h0M1102.5 530h0M1125.3 535.6h0M1090.6 551.4h0M1136.2 520.6h0M1127.7 541.4h0M1139.3 520.2h0M1113.1 542.9h0M1135.4 530h0M1133.9 537.2h0M1099.7 517.8h0M1098.5 546.8h0M1092.2 545.4h0M1108.5 532.2h0M1116.8 560.2h0M1133.9 540.1h0M1138 555.7h0M1098.2 519.2h0M1106.8 528.3h0M1125.4 560.6h0M1129.3 552.7h0M1134 517.6h0M1134.2 533.6h0M1107.7 550.8h0M1103.4 530.7h0M1128 558.2h0M1126.4 535.2h0M1104.7 563.8h0M1099.3 538h0M1131 512.8h0M1126.6 522h0M1101.3 540h0M1119.2 550h0M1104.8 524.7h0M1129.6 518.3h0M1114.1 546.1h0M1111.9 510.8h0M1101.2 541.3h0M1116.6 557.8h0M1095.8 532.2h0M1105.1 563h0M1115.9 544.9h0M1101.8 529.8h0M1116.7 512.6h0M1105.8 535.8h0M1098.7 524.7h0M1104.1 561h0M1086.4 536.9h0M1139 524.7h0M1095.1 527.9h0M1121.1 549.8h0M1108.8 549.1h0M1114.4 525.2h0M1121.5 516.9h0M1087.3 532.4h0M1122.1 511.9h0M1094.9 542.3h0M1143.9 524h0M1142.9 522.3h0M1141.6 531.5h0M1090.2 545.2h0M1114 556.9h0M1139.7 542.3h0M1142.6 543.7h0M1092.7 541.4h0M1144.8 545.7h0M1091.4 535.3h0M1131 544.5h0M1097.1 533.9h0M1132.9 533.6h0M1131.5 511.9h0M1105.4 553.9h0M1117.3 514.1h0M1126.1 564.9h0M1104.1 549.1h0M1102.2 540.2h0M1115 507h0M1121.1 563.8h0M1100 531.3h0M1125.9 561.2h0M1094.8 532.8h0M1109.5 551.1h0M1128.9 532.5h0M1121.8 551.3h0M1125.7 523.2h0M1098.9 548.6h0M1090 533.5h0M1120.7 538.6h0M1128.6 552.5h0M1141.5 544.6h0M1137.7 551.8h0M1087.5 532.8h0M1110.5 512.4h0M1098.6 543.9h0M1107.9 531.5h0M1122.1 544.7h0M1086.7 537h0M1126 548.7h0M1129.6 535.2h0M1122.3 527.4h0M1142.2 552.5h0M1107.6 534.4h0M1097.6 523.3h0M1090.6 529.1h0M1114.6 528.6h0M1139.7 518.5h0M1136 514.1h0M1091.1 539.5h0M1121.5 548.5h0M1111.3 521.4h0M1122.6 551.5h0M1123.7 542.4h0M1112.5 527.1h0M1111.5 532.7h0M1098.1 552.9h0M1105.7 530.5h0M1104.9 548.5h0M1115.1 543.8h0M1119 559.7h0M1105.1 561.2h0M1121.3 544.7h0M1125.5 515.2h0M1108.5 511.6h0M1089.1 544h0M1118.5 508.2h0M1136.3 526.9h0M1134.5 521.1h0M1087.2 543.7h0M1109.2 540.2h0M1146.4 543.2h0M1131 538.8h0M1113.1 564.5h0M1131.5 512.7h0M1120 550.4h0M1116.8 551.2h0M1141.2 521h0M1142 548.6h0M1099.1 550.7h0M1103.4 541.3h0M1098.2 536h0M1137.6 545.6h0M1132.1 533.3h0M1127.4 561.3h0M1141.8 524.5h0M1112.1 559.7h0M1122 565.8h0M1099.9 513.7h0M1119.2 560.1h0M1134.7 514.6h0M1110.7 523.5h0M1122.6 529.1h0M1109.6 512.7h0M1100.9 559.9h0M1120.1 562.3h0M1121.7 516.2h0M1133.1 562.2h0M1100.6 517.5h0M1120.5 543.4h0M1091.5 546.9h0M1141.9 537.5h0M1089.7 542.1h0M1117.5 562.5h0M1137.9 535.7h0M1126.3 530.9h0M1124.4 535h0M1090.4 527.6h0M1143.3 541.7h0M1144 540.4h0M1123.2 538.9h0M1106.8 543.4h0M1112.9 551.8h0M1103.8 540h0M1088.8 526.7h0M1090 523.5h0M1129.2 551.9h0M1122.9 514h0" stroke="#1a1a1a" stroke-opacity="0.5" stroke-width="1.7" stroke-linecap="round" fill="none"/><path d="M1127.9 512.1h0M1129.9 561.6h0M1126.2 535.1h0M1126 509.1h0M1120.1 528.5h0M1116.1 522h0M1144.9 542.3h0M1134.5 516.2h0M1126.9 537.4h0M1090.7 553.8h0M1133.3 522.4h0M1116.3 548.6h0M1117.7 526.6h0M1127.4 520.5h0M1124.6 542.1h0M1089.1 527.5h0M1114.8 525h0M1094.2 550.5h0M1125.4 538.2h0M1135.8 548.8h0M1139.8 525.1h0" stroke="#101010" stroke-opacity="0.6" stroke-width="2.6" stroke-linecap="round" fill="none"/><path d="M1211.3 429.9h0M1204.6 448.1h0M1185 441.6h0M1214.3 419.4h0M1217 449.9h0M1183.4 452h0M1222.1 469.2h0M1212.2 421.7h0M1217.1 432.1h0M1219.5 443.8h0M1191.7 472.3h0M1212.2 429.6h0M1234.6 445.5h0M1226.3 468.5h0M1188.9 454h0M1212.2 425h0M1216.5 465.8h0M1209.5 431.9h0M1225.1 454.8h0M1199.7 465.1h0M1216 422.2h0M1203 462.1h0M1202.9 420.5h0M1196.5 455.7h0M1209.7 420.9h0M1230.2 447.3h0M1211.7 441.2h0M1204.2 444.2h0M1181.8 439.3h0M1227.1 433.4h0M1209.4 440h0M1204.5 428h0M1222.7 425.5h0M1200 437.5h0M1199.9 463.4h0M1205.7 433.4h0M1213 475.1h0M1192.5 423.5h0M1211.6 455.5h0M1185.5 436.7h0M1199.9 425.9h0M1185.6 471.6h0M1178.3 454.3h0M1196.5 453.5h0M1191.5 432.6h0M1186.2 470.7h0M1175.1 443.5h0M1203.7 433.5h0M1228.8 463h0M1183.1 460.5h0M1182.4 449.4h0M1230.7 433h0M1208 422.4h0M1220.4 474.2h0M1186.8 432h0M1194.1 474.8h0M1212.3 423.8h0M1228.9 436h0M1210.7 461.2h0M1210.3 469.3h0M1214.1 466.4h0M1195.7 464.3h0M1227.1 439.9h0M1183.7 426.8h0M1196.4 444.3h0M1188.1 436.4h0M1181 458.3h0M1215.3 431.5h0M1216.1 430h0M1179.1 440.1h0M1232 439.4h0M1213.4 433.2h0M1185.3 460.4h0M1213 467.1h0M1210.7 467.5h0M1179 451.3h0M1217.3 441.8h0M1207.7 417.9h0M1232.2 444h0M1210.1 455.8h0M1229.9 462.4h0M1219.7 468.5h0M1177.1 449.7h0M1210.5 466.5h0M1191.4 439.9h0M1205.3 421.6h0M1227.1 452.4h0M1193.4 422.7h0M1206.4 474.7h0M1193.9 456.5h0M1188.6 426h0M1206.9 450.5h0M1219.4 452.1h0M1188.2 443.4h0M1219.2 449h0M1196.4 444.9h0M1193.6 438.2h0M1200.9 451.8h0M1184.7 452.9h0M1184.2 466.8h0M1184.1 466.8h0M1191.4 461.8h0M1215.7 474.9h0M1193.8 475.6h0M1229.9 455h0M1176.3 441.2h0M1181.7 441.7h0M1205.6 447.1h0M1193.7 423.8h0M1210.3 475.6h0M1209.7 438.6h0M1192.1 466.7h0M1184.9 450.2h0M1185.5 467h0M1214.1 421.3h0M1179.7 436.7h0M1188.6 459.3h0M1218 461.3h0M1216.5 475.1h0M1187.2 450.8h0M1211.2 425.1h0M1224.6 456.7h0M1209.5 436h0M1204.4 440.5h0M1194.3 475.2h0M1188.6 466.4h0M1196.2 463.2h0M1192.5 437.4h0M1205.2 458.2h0M1189.9 462h0M1218.5 423.4h0M1188.1 468.4h0M1230.6 446.2h0M1185.8 452.8h0M1224.9 466.2h0M1202.8 447.3h0M1216.6 473.6h0M1194.8 471.1h0M1184.8 463.8h0M1185.3 450.5h0M1184.9 469.4h0M1175.7 456.6h0M1202 465h0M1180.8 463.1h0M1184.1 451.4h0M1181.1 432.2h0M1188.3 467.6h0M1204.4 438.7h0M1200.6 423.4h0M1207.8 467.5h0M1191.1 456.5h0M1181.4 431.1h0M1216.5 450.8h0M1197.2 434.8h0M1227.8 436.8h0M1219 469.8h0M1229.8 463.7h0M1215.5 450.5h0M1200.5 459.3h0M1196.1 455.4h0M1181 439.6h0M1197.2 452.2h0M1201 432.6h0M1223.3 453.7h0M1222.9 471.1h0M1191.2 434.6h0M1209 441.1h0M1206 427.7h0M1180.6 438.3h0M1184.7 429.2h0M1217.4 462h0M1222.4 442.3h0M1194.8 459.4h0M1223.4 442h0M1200.5 435.4h0M1216.4 419.6h0M1182.5 453.8h0M1210 432.5h0M1197.6 433.4h0M1224.8 453.5h0M1209.8 461.6h0M1193.7 448.2h0M1196.6 418.4h0M1184.7 461.2h0M1175.7 457h0M1225.8 440h0M1222.2 454.6h0M1222 451.7h0M1185.8 444.5h0M1197.6 445.4h0M1227.9 430.6h0M1180.1 447.2h0M1210 443.5h0M1194.6 441.3h0M1214 446.9h0M1183.4 445.5h0M1200.2 419.7h0M1199.2 469.5h0M1231.9 435.1h0M1194.4 438h0M1230.7 433.3h0M1204.6 418h0M1200.8 466.6h0M1227.4 428.3h0M1212.2 451.2h0M1185.1 429.4h0M1186.2 450.4h0M1207.7 464.3h0M1185 471h0M1197.1 435.6h0M1214.5 421.1h0M1195.9 451h0M1220.3 442h0M1190.1 441.1h0M1213.9 446.5h0M1234.1 440.3h0M1209.1 469.4h0M1224.2 442.9h0M1215.5 436.4h0M1202.8 459.6h0M1213.5 433.8h0M1231.6 440.4h0M1200.7 469.7h0M1212.3 446.1h0M1185.9 430.5h0M1218.8 421.7h0M1198.9 475.5h0M1198.9 457h0M1199.8 463.7h0M1234 447.2h0M1188 448.1h0M1185.1 462.4h0M1229.9 449.7h0M1222.5 445.8h0M1224.2 471.5h0M1176.6 450.6h0M1211.6 476h0M1177.4 457.5h0M1184.2 458.8h0M1210.5 422.7h0M1195.8 437.9h0M1222.6 464.6h0M1222 437.6h0M1184.4 459.3h0M1185.5 455.2h0M1175.1 441.4h0M1183.2 447.2h0M1196.9 452h0M1198.2 425.4h0M1219 447.2h0M1180.7 465.8h0M1196.9 423.8h0M1207.8 458.8h0M1207 464.7h0M1179.3 450h0M1206 436.4h0M1203.4 461.7h0M1230.6 451.3h0M1205.9 436h0M1197.6 457.6h0M1191.1 466.7h0M1218.2 442.5h0M1197.9 463.5h0M1201.2 467.8h0M1216.8 437.5h0M1223.1 466.4h0M1206.9 462.9h0M1216.6 425.2h0M1194.9 470.3h0M1218.7 449.3h0M1202.9 419.6h0M1221.1 450.7h0M1195.7 429h0M1215.7 434.3h0M1181.8 459h0M1182.6 438.3h0M1229.5 463.1h0M1228.2 436.8h0M1193.1 432.6h0M1223.4 441.1h0M1199.8 467.1h0M1208.5 462.5h0M1181.3 429.6h0M1188.8 444.5h0M1186.8 469.6h0M1192.9 443.8h0M1195 477h0M1180.9 436.2h0M1183.8 448.6h0M1213.7 453h0M1210.1 429.2h0M1218.6 453.3h0M1178.2 462h0M1174.3 445.6h0M1224.6 426h0M1218.5 425.5h0M1201.9 473.2h0M1211.4 442.2h0M1229.7 446.9h0M1184.3 464.6h0M1208.2 473.5h0M1198.9 444.9h0M1194.2 459.1h0M1190.9 464.4h0M1209.7 443h0M1211.7 442.4h0M1211.2 428.9h0M1224.7 439.9h0M1219.8 472.1h0M1211.7 465.5h0M1225.7 425.7h0M1210.2 465.8h0M1197.5 469.6h0" stroke="#1a1a1a" stroke-opacity="0.5" stroke-width="1.7" stroke-linecap="round" fill="none"/><path d="M1197.8 449.5h0M1182.4 428.9h0M1220.1 465.1h0M1206.3 421.9h0M1223.6 470.5h0M1201 474.2h0M1196.6 421.7h0M1207.4 441.6h0M1229.5 445.6h0M1212.1 476.7h0M1200.7 459.9h0M1219.8 461h0M1218.4 456.4h0M1218.3 444.5h0M1228.4 441.6h0M1207.4 428.1h0M1215.6 473.2h0M1201.6 436.8h0M1180.9 435.7h0M1186.3 429.9h0M1187.8 428.2h0M1213.2 472.6h0M1211.8 463.1h0M1209.4 469.3h0M1233.3 444.3h0M1194 454.7h0M1179.3 456.6h0M1204.8 418.6h0M1175.8 444.6h0M1198.9 449.5h0M1184.2 456.3h0M1216 450.9h0M1227.8 430.6h0M1234 441.3h0M1234.1 454.1h0M1209.6 475.7h0M1232.5 439.1h0M1215 464.5h0" stroke="#101010" stroke-opacity="0.6" stroke-width="2.6" stroke-linecap="round" fill="none"/><path d="M1205.5 556h0M1191.7 566.5h0M1204.4 510.4h0M1228.1 522.9h0M1190.1 516.4h0M1192 511h0M1190.1 549.6h0M1181.9 554.3h0M1216.4 565.9h0M1227.3 524.2h0M1190.1 558.8h0M1214.9 523.5h0M1199.2 515.9h0M1177.7 531.5h0M1177.6 551.5h0M1227.9 526.4h0M1222.8 556.9h0M1188.5 562.3h0M1207.6 514.2h0M1228.4 522h0M1209 512.3h0M1234.5 539.4h0M1206.4 546.5h0M1221.6 530.9h0M1206 544.1h0M1190 552h0M1201.2 567.5h0M1179.8 533.5h0M1225.4 539.6h0M1189.9 535h0M1180.7 542.5h0M1206.6 546.4h0M1181.2 537h0M1177.9 543.2h0M1177.9 535h0M1189.6 538.6h0M1178.3 530.2h0M1191.5 566.4h0M1180.2 520.3h0M1206.5 518.9h0M1174.7 535.3h0M1189.1 563.7h0M1213.8 519.8h0M1173.6 540.8h0M1227.4 552.8h0M1206.6 538.7h0M1194.6 517.2h0M1210.5 552.7h0M1200.2 556.8h0M1204.1 542.3h0M1226 544.8h0M1185.1 521.9h0M1185.1 544.6h0M1230.2 553.9h0M1191.4 556.6h0M1181.8 557.3h0M1187.7 535.1h0M1218.6 517.1h0M1193.6 532.5h0M1188.9 543.4h0M1180.8 542.8h0M1210.9 553.4h0M1198 519.8h0M1220.3 557.9h0M1209.7 568.3h0M1177.4 537.4h0M1180.8 523.7h0M1193.8 512.7h0M1211.3 565.5h0M1202.9 542.1h0M1219.5 526.7h0M1216.7 538.9h0M1200.7 547.6h0M1225.3 520.3h0M1231.1 526.7h0M1213.7 542.3h0M1220.2 537h0M1195 551.2h0M1182.3 540.1h0M1184.9 520.6h0M1203.4 547.4h0M1182.3 549.1h0M1208.7 514h0M1226 539.6h0M1184.8 526.8h0M1203 512.9h0M1208.2 548.8h0M1193.8 520h0M1182.2 553.3h0M1223.8 550h0M1190.8 516.4h0M1190.1 530.3h0M1197.4 564.9h0M1185 521.4h0M1225.1 550.9h0M1196.7 551.6h0M1182.3 537.4h0M1199.3 534.7h0M1229.1 548.4h0M1209.8 541.6h0M1209.6 528h0M1201.6 514.1h0M1206.1 550h0M1229.8 543.8h0M1187.8 560.1h0M1186 520.2h0M1221.7 549.6h0M1201.4 559.3h0M1197.5 540.5h0M1195.5 554.4h0M1184.4 541.1h0M1201.5 559.4h0M1200.3 555.1h0M1206.8 536.5h0M1209.8 537.5h0M1174.3 534.7h0M1207.7 555.2h0M1196.1 518.8h0M1216.3 514.2h0M1217.6 512.1h0M1194.6 560.8h0M1218.1 548h0M1201.7 522.2h0M1220.6 563.7h0M1181.2 559.5h0M1215.6 515.6h0M1229.1 528.9h0M1203.3 548.5h0M1209.4 567.6h0M1197.6 543.9h0M1199.3 563.7h0M1180 542.3h0M1191.7 526.4h0M1194.8 562.1h0M1222.5 554h0M1214.9 559.5h0M1198 521.4h0M1224.8 558.5h0M1211.7 540.2h0M1195.6 522.1h0M1203.8 510.4h0M1188 524.2h0M1210 566.6h0M1218.4 512.4h0M1191.9 523.7h0M1211.1 509.9h0M1228.1 528.2h0M1225.8 531.2h0M1200.2 551.9h0M1192.7 548.2h0M1177.1 544.5h0M1212.1 556.8h0M1187.2 545.5h0M1214.3 552.3h0M1175.4 528.6h0M1208 513.9h0M1203.6 539.3h0M1230.5 527.1h0M1185.6 550.8h0M1212.7 512.6h0M1198.4 541.3h0M1214.1 511.1h0M1225.3 559.6h0M1193.5 510.8h0M1211.5 554.2h0M1175.3 549.7h0M1201.6 557.6h0M1192 551.6h0M1181 532.9h0M1210 513.6h0M1191.2 535.2h0M1215 522.8h0M1211.9 558.1h0M1205.5 545.2h0M1228.1 538.4h0M1198.2 566.9h0M1211.1 547.8h0M1175.6 529.7h0M1186.3 525h0M1225.3 531.2h0M1208.6 513.7h0M1208.3 516.6h0M1224.3 552.2h0M1199 515.4h0M1212 555.5h0M1231.8 527.2h0M1191.7 516.7h0M1210 562.7h0M1187.2 561.9h0M1199.8 559.1h0M1211.3 527.7h0M1209.4 566.6h0M1188.9 561h0M1202.3 517.5h0M1223.8 545.7h0M1194.3 539h0M1198.7 561.3h0M1209.4 528.4h0M1217.4 534.8h0M1215.6 531.5h0M1204.4 564.6h0M1217 566.3h0M1210.2 515.5h0M1186.2 550.9h0M1179.9 527.5h0M1201.6 509.6h0M1212.4 556.1h0M1200 561.1h0M1208.4 511.1h0M1203.1 511.8h0M1199.1 565.8h0M1201.2 538.1h0M1210.3 564h0M1223.3 525.1h0M1191.2 533.6h0M1188.6 522.1h0M1211.8 511.9h0M1174.8 529.7h0M1227 534.5h0M1212.2 540.9h0M1182.4 558.8h0M1224.8 516.7h0M1228.8 538h0M1212.3 537h0M1215.8 559.6h0M1202.8 518.5h0M1194.5 560.4h0M1204.9 535.4h0M1219.5 542.4h0M1232.9 532.4h0M1197.5 523.1h0M1201.8 549.9h0M1228 528h0M1209.5 548.9h0M1186.7 545.2h0M1219 541.9h0M1212.3 548.7h0M1204.9 568.7h0M1191.2 550.3h0M1223.1 519.2h0M1221.4 554.1h0M1191.3 512.6h0M1214.3 558.5h0M1216.9 557h0M1178.9 524h0M1196.6 523.3h0M1217.3 526.8h0M1206.9 539.5h0M1195.9 520.5h0M1193.4 521.2h0M1216.6 551.5h0M1182.8 535.6h0M1205 509.8h0M1202.3 530.2h0M1199.3 567.2h0M1226.2 525h0M1216.3 553.6h0M1195.9 537.1h0M1225.2 545.6h0M1175.5 548.3h0M1208 554.7h0M1230.5 552.2h0M1177.3 549.6h0M1200.5 547.7h0M1212.3 565.5h0M1178.4 530.3h0M1191 556.3h0M1229 548.8h0M1205.3 569.5h0M1183 523.7h0M1194.3 552.4h0M1222.7 547.8h0M1189.2 524.8h0M1225 546.7h0" stroke="#1a1a1a" stroke-opacity="0.5" stroke-width="1.7" stroke-linecap="round" fill="none"/><path d="M1223.9 532.7h0M1175.9 547.4h0M1221.1 520.1h0M1184.2 531h0M1223.5 559.4h0M1211.7 568.6h0M1225.8 517.6h0M1176.7 539.1h0M1221.5 516.5h0M1189.1 551h0M1224.8 530.1h0M1232.8 530.4h0M1184.4 518h0M1208.9 528.5h0M1196.9 554.1h0M1214.2 514h0M1194.6 519.9h0M1183.4 521.3h0M1211.4 527.8h0M1197.7 516h0M1213.4 551.2h0M1217.5 541.1h0" stroke="#101010" stroke-opacity="0.6" stroke-width="2.6" stroke-linecap="round" fill="none"/><path d="M1262.6 441h0M1273.1 440.1h0M1277.8 429.1h0M1283 456.3h0M1277.4 445.4h0M1303.5 446h0M1299.2 468.7h0M1312 436.5h0M1302.4 463.8h0M1281.3 442.8h0M1291.6 440.2h0M1273.5 441.1h0M1276.8 432.7h0M1283 451.3h0M1319.3 441.7h0M1279.5 443.1h0M1292.9 441.8h0M1268.3 433.6h0M1283.1 467.8h0M1291.8 445.7h0M1285.7 423.3h0M1313.2 428.9h0M1278.3 438.3h0M1294.9 464.1h0M1279.3 435.4h0M1273.6 447.1h0M1295.9 431.3h0M1284.6 418.5h0M1299.2 473.9h0M1302.9 437.3h0M1274.7 459.5h0M1297.5 453.3h0M1288.9 472.2h0M1292.8 426.4h0M1303.8 460.1h0M1307.8 442.5h0M1296.6 470.8h0M1301.3 428.3h0M1273 442.5h0M1281.4 459.8h0M1277.9 424.3h0M1288.1 447.6h0M1275.4 449h0M1270 445.2h0M1300.8 472.3h0M1320 441.4h0M1302.4 454.4h0M1299.8 452.5h0M1265.9 458.4h0M1306.3 455.6h0M1282.4 457.4h0M1312.8 461.5h0M1307.5 423.8h0M1293.4 455.7h0M1275 453.1h0M1263.7 449.6h0M1275 456.6h0M1290.2 476.6h0M1275.5 467.6h0M1271.8 430.4h0M1313.5 465.7h0M1277.2 453.1h0M1303.6 422.9h0M1295.5 421.8h0M1306.3 427.6h0M1301 448.3h0M1292 440.1h0M1265.7 444.5h0M1308.1 433h0M1273.8 428h0M1317.9 435h0M1297.2 420.9h0M1297.1 434h0M1304.9 463.7h0M1286.8 459.3h0M1270.3 428.2h0M1303.2 471.3h0M1268.5 445.4h0M1289.5 439.9h0M1267 464.1h0M1289.2 465.1h0M1295.7 447.7h0M1283.5 423.4h0M1322.2 446h0M1320.7 447.5h0M1299.4 477.3h0M1276.7 472.2h0M1306.9 457.4h0M1286.3 475.8h0M1314.9 456.9h0M1308.1 435.2h0M1293.2 478.4h0M1274.1 436.8h0M1315.1 464.1h0M1314.2 464.5h0M1274.2 425.7h0M1299 420.1h0M1271.8 426.6h0M1283.3 418.3h0M1316.2 430h0M1314.3 458.8h0M1270.5 458.6h0M1301.3 450.5h0M1295.4 419h0M1315.8 452h0M1277.3 444.1h0M1287.6 432.9h0M1281.3 467h0M1272.4 427.3h0M1281.1 470.3h0M1305.6 472.6h0M1281.7 441.8h0M1314.6 457.3h0M1288.9 426h0M1270.2 464h0M1281.7 466h0M1271.3 447.1h0M1309.6 465.4h0M1287.7 467.2h0M1282 465.5h0M1288.2 458.2h0M1272.9 470.2h0M1298.8 472.1h0M1267.8 457.8h0M1285.4 455.1h0M1318.9 458.2h0M1271.1 449.1h0M1290.2 449.3h0M1295 425.6h0M1263.6 452.2h0M1288.5 428.2h0M1311.1 450.2h0M1301.9 427.4h0M1290.5 473.1h0M1284.5 433.3h0M1292.1 462.3h0M1310.5 443h0M1277.3 472h0M1263.8 436.8h0M1307.2 422.6h0M1303.8 442.6h0M1301.9 452.8h0M1305.6 449h0M1292.9 456.5h0M1280.2 443.7h0M1268.2 463.7h0M1281.3 446.6h0M1282.1 440h0M1306.8 422.7h0M1305.8 472h0M1283 439.1h0M1267.5 444.2h0M1300.9 419.5h0M1280 462.2h0M1292.4 418.7h0M1309.8 465.9h0M1317.1 454.2h0M1271.7 467.7h0M1294.6 458.9h0M1289.8 419.4h0M1309 443.5h0M1277 473.5h0M1297.7 418.3h0M1310.2 470.1h0M1301 423h0M1305.8 451.5h0M1313.1 456.8h0M1307.5 422.4h0M1292.7 442.7h0M1282.2 445h0M1280.3 457.4h0M1307.8 425.2h0M1272.3 467.3h0M1296.4 438.7h0M1271.2 458.8h0M1318 444.1h0M1278.8 432.9h0M1307.1 421.8h0M1305.2 442.8h0M1285.6 448.6h0M1308.3 467.8h0M1294.2 419.4h0M1285.1 466.8h0M1295.2 465.3h0M1282.8 449.3h0M1279.9 450.1h0M1300.5 449h0M1264.3 452h0M1315.5 438h0M1294.5 417.9h0M1297.2 440.3h0M1320.1 445.8h0M1310.4 442h0M1270 429.5h0M1279.6 425.5h0M1272.3 439.9h0M1289.2 476.3h0M1312.7 467.5h0M1317.8 434.6h0M1312.5 438.8h0M1272.8 437.1h0M1310 430.1h0M1289.8 434.8h0M1311.9 464h0M1285.9 437.7h0M1276.5 424.7h0M1280.5 476.1h0M1288.5 431.8h0M1310 427.6h0M1282.1 459h0M1304.4 450.4h0M1262.6 449.7h0M1288.5 456.3h0M1285.9 460.7h0M1298.4 450.3h0M1299.2 474h0M1266.9 438h0M1290.1 429.5h0M1283.1 428.8h0M1302.4 461h0M1274.6 468.5h0M1286.2 454.5h0M1281.7 424.7h0M1287.7 478.3h0M1310.1 444.7h0M1307.1 428h0M1319.3 449.2h0M1317.3 437.2h0M1289.1 437.3h0M1285.6 454.9h0M1262.1 450.5h0M1299.9 472.1h0M1269.7 442h0M1300.9 476h0M1313.3 427.5h0M1287.3 455.3h0M1278.4 436.2h0M1306.6 474.4h0M1274.6 455.6h0M1316.7 457.4h0M1264.2 454.9h0M1267.8 444.4h0M1301 451.9h0M1296.7 434.7h0M1289.2 471.2h0M1307.5 472h0M1282.8 474.7h0M1275.7 434.6h0M1297.1 435.5h0M1272 441.6h0M1288.5 455.2h0M1304.1 444h0M1299.8 443.1h0M1299 424.8h0M1270.3 464.3h0M1304.7 456.6h0M1304.1 466.7h0M1299.9 455h0M1299.8 469.8h0M1316 461.7h0M1290.5 465.2h0M1302.1 448.2h0M1273.4 463.1h0M1310.5 466.6h0M1297.4 430.8h0M1288.5 455.6h0M1294.1 468.6h0M1285 474.1h0M1319 453.5h0M1303.1 472h0M1316.3 450.9h0M1274.1 468.6h0M1282.1 436.7h0M1293.4 420h0M1308.2 468.6h0M1275.5 463.2h0M1312.1 444.9h0M1277.8 466.4h0M1278.3 431.7h0M1319.4 459.1h0M1294 457.9h0M1288.8 442.3h0M1273.8 471.5h0M1289.1 422.1h0M1307.5 423.6h0M1280.6 422.8h0M1269.6 429.4h0M1316.4 435h0M1303 444h0M1263.3 459.7h0M1308.9 433.2h0M1305.3 440.1h0M1295.7 470.3h0" stroke="#1a1a1a" stroke-opacity="0.5" stroke-width="1.7" stroke-linecap="round" fill="none"/><path d="M1318.2 436.7h0M1291 426.9h0M1297.3 429.8h0M1278.2 461.4h0M1299.7 472h0M1307.9 467.3h0M1304.4 459.6h0M1319.4 443h0M1307.9 466.3h0M1306.7 431.2h0M1288.9 445.8h0M1282.2 466.1h0M1286 467.1h0M1316.2 449.1h0M1309 428.3h0M1264.9 452.6h0M1265 441.5h0M1302.5 425.6h0M1298.3 451h0M1306.8 451.2h0M1281.6 449.6h0" stroke="#101010" stroke-opacity="0.6" stroke-width="2.6" stroke-linecap="round" fill="none"/><path d="M1315.6 523.1h0M1272.2 521.3h0M1293.7 518.3h0M1311.6 539h0M1279.8 557.7h0M1300.5 565.6h0M1311.4 543h0M1313.9 551.1h0M1301.9 530.7h0M1281 517.8h0M1293.5 567.8h0M1303.2 559h0M1305.3 552.5h0M1296.5 545.3h0M1288.4 510.8h0M1276.8 551.7h0M1296.7 564.9h0M1302.2 523h0M1288.2 541.8h0M1294.7 523.7h0M1297.2 529.1h0M1313.6 524.4h0M1270.2 520.4h0M1280 545.9h0M1267.7 548.2h0M1308.5 532.4h0M1284.2 513.5h0M1306.9 540.7h0M1314.1 528.6h0M1288.9 545.7h0M1282.6 546.3h0M1309.1 527.9h0M1304.2 523.8h0M1299.4 513.1h0M1312.1 548.8h0M1279.8 531.9h0M1312.8 555.6h0M1295.2 512.2h0M1282.6 544.7h0M1287.4 556.8h0M1291.7 564.2h0M1293.8 557.3h0M1279.6 557.2h0M1287.3 558.5h0M1271.8 550.8h0M1275.2 531.1h0M1279.8 547.2h0M1292.1 530.2h0M1295 563.3h0M1313.3 558.9h0M1269.4 526.1h0M1275.5 561.2h0M1301.7 560.7h0M1290.7 530.2h0M1283.2 566h0M1274.7 526.3h0M1280.4 526h0M1308.7 517.8h0M1295.4 542.5h0M1274.5 550.8h0M1298.8 527.2h0M1294.3 517.3h0M1264.9 537.7h0M1294.2 543.8h0M1267.6 555h0M1284 511.8h0M1291.5 515.7h0M1300.5 546.3h0M1292.5 558.5h0M1284.6 560h0M1306.5 564.4h0M1286.3 519.5h0M1286.4 526.1h0M1308.3 517h0M1309 529.1h0M1276.9 556.4h0M1310.8 516h0M1308 530.7h0M1273.3 542.8h0M1296.7 533.7h0M1270.8 544.1h0M1317.5 531.8h0M1307.2 534.1h0M1319.5 534h0M1313.2 531.3h0M1309.2 557.4h0M1282.3 566.8h0M1301.7 548h0M1280.4 529.9h0M1281.4 512.5h0M1274.5 534.3h0M1298.9 528.8h0M1301.8 520.6h0M1283.1 564h0M1274.4 516.5h0M1293.2 530.8h0M1301.6 564.4h0M1297.4 510h0M1302 540.6h0M1295.2 568.1h0M1291.7 555.3h0M1281.3 511.7h0M1315.4 538.8h0M1287.9 566.1h0M1306.4 530.7h0M1313.4 527.7h0M1283.2 509.5h0M1262.8 542.5h0M1287.4 566.5h0M1275.5 512.9h0M1289.2 551.3h0M1278.1 519.3h0M1284.2 510h0M1318.4 527h0M1313.5 522.2h0M1293.2 555.9h0M1305 552.2h0M1286.2 517.9h0M1299 568.3h0M1287.9 539.5h0M1270.1 536.6h0M1282 520.9h0M1275.4 553.1h0M1278 561.9h0M1284.4 565.5h0M1307.8 518.2h0M1297.3 539h0M1302.1 558.4h0M1289.7 527.9h0M1298.2 524.5h0M1294.5 525.5h0M1271.6 557.6h0M1280.9 527.8h0M1312.4 558.5h0M1320.7 542.5h0M1291.9 539.2h0M1288.9 567.7h0M1304.8 563.9h0M1280.3 513.6h0M1308.8 545.3h0M1315.2 553.7h0M1268.9 533.1h0M1287.8 559.9h0M1264.6 541.4h0M1309.1 554.7h0M1279.5 565.6h0M1297.3 512.7h0M1308.9 517.1h0M1281.5 538.5h0M1299.8 553.6h0M1267.4 521.8h0M1274.3 539.8h0M1299.5 557.9h0M1295.2 524.6h0M1301.2 530.8h0M1284.2 553.6h0M1304.3 560.9h0M1274.3 525.9h0M1274.2 541.9h0M1313.6 533.1h0M1289 514.1h0M1278.8 515.6h0M1318.1 533.9h0M1270 550.3h0M1286.7 518.7h0M1265.3 530.4h0M1296 519.3h0M1279.4 530.8h0M1306.5 562.4h0M1300.6 514.2h0M1291.7 551.9h0M1312.5 558.1h0M1268 533.4h0M1305.7 512.9h0M1293.6 559.7h0M1292.4 512.5h0M1275.3 553.5h0M1309.9 563.2h0M1317 546h0M1287.5 541.7h0M1320.6 538.5h0M1293.2 568.4h0M1283.8 550.5h0M1288.2 532.7h0M1274 551.4h0M1275.9 559.9h0M1268.4 520.4h0M1289.6 527.9h0M1310.3 549.2h0M1276.5 522h0M1312.9 556h0M1276.5 561.6h0M1310.9 515h0M1283.4 520.6h0M1292.4 528h0M1305.4 538.5h0M1261.7 538.9h0M1291.3 552.7h0M1320.8 542.3h0M1285.8 565h0M1268 524.3h0M1312.5 558h0M1317.8 544.3h0M1284.6 513h0M1310.8 522.9h0M1298.1 526.5h0M1294.1 564.6h0M1274.7 520h0M1290.5 538.7h0M1276.6 532.9h0M1321.9 532h0M1299.3 543.9h0M1288 537.6h0M1289 510.7h0M1280.4 529h0M1308.8 518.8h0M1299.7 534.7h0M1289.3 568.8h0M1320.7 537.1h0M1322.5 540.4h0M1282.4 536.3h0M1267.3 527.5h0M1303.4 563.8h0M1316.6 545.3h0M1299.8 528.4h0M1276 516.8h0M1289.6 534.2h0M1277.2 538.1h0M1275.2 561.4h0M1320.2 544.8h0M1320.2 546.9h0M1297.1 522.6h0M1290.3 556.2h0M1301.6 547.1h0M1301.4 527.5h0M1282.4 517.5h0M1314.2 525.7h0M1288.4 559h0M1301.4 563.8h0" stroke="#1a1a1a" stroke-opacity="0.5" stroke-width="1.7" stroke-linecap="round" fill="none"/><path d="M1316.8 550.8h0M1284.4 533.6h0M1284.7 515h0M1267.2 537.3h0M1265.6 538.8h0M1301.9 514.5h0M1318.1 530.5h0M1303.8 553.6h0M1302.5 540h0M1303.9 564.4h0M1286.5 550.5h0M1293.7 510.4h0M1284.7 513.6h0M1316.3 556.5h0M1296 524h0M1267.2 529h0M1314.2 556.8h0M1286.8 510.2h0M1268.7 552.6h0M1268.4 533.7h0" stroke="#101010" stroke-opacity="0.6" stroke-width="2.6" stroke-linecap="round" fill="none"/><path d="M1375.6 450.9h0M1386.7 422.5h0M1404.4 465.6h0M1352.2 441.8h0M1362.4 448.6h0M1383.8 443.1h0M1378.7 420.1h0M1354.3 460.6h0M1370.5 464.9h0M1408.3 436.8h0M1368.4 474.5h0M1375.1 456.9h0M1381.4 444.2h0M1365.5 423.9h0M1403.7 456.3h0M1405.7 452.6h0M1370.2 429.8h0M1394.7 467.5h0M1407.3 437.8h0M1384.6 477h0M1388.8 472.7h0M1372 474.8h0M1368.9 423.4h0M1388.3 434.7h0M1395 472.5h0M1358.5 438.5h0M1367.8 420.2h0M1368.8 437.3h0M1353.9 459.9h0M1365.2 449h0M1380.2 468.5h0M1385.9 474.9h0M1386.1 454.4h0M1367.6 429.5h0M1386.6 448.1h0M1377.7 462.4h0M1353.2 439.8h0M1390.9 435.2h0M1372.4 468.5h0M1377 476.8h0M1385 422.7h0M1387.5 468.4h0M1362.6 451.5h0M1405 439.7h0M1354.8 438.9h0M1374.6 436.3h0M1397.4 463.3h0M1367.9 465.8h0M1378.7 420.1h0M1387.1 445.2h0M1377.3 422.1h0M1385.7 441.9h0M1385.4 448.1h0M1395.9 456.8h0M1357.2 436.8h0M1363.1 447.3h0M1359 430h0M1397.8 428.9h0M1390 455.6h0M1376.7 468.6h0M1400.7 448.1h0M1365.4 474.8h0M1362.5 467.4h0M1385.2 428.4h0M1390.5 421.3h0M1357.4 453.2h0M1387.7 460.3h0M1389.7 445.9h0M1382.4 428.9h0M1363.6 432.7h0M1402.7 437.5h0M1380.5 427.3h0M1355.8 437.5h0M1362.7 425.4h0M1396.5 448.5h0M1390.1 469.9h0M1388.7 437.1h0M1377 455.3h0M1398.1 442.5h0M1390.3 458.6h0M1405.7 433.7h0M1387.2 469.7h0M1382.1 475.1h0M1399.8 444.9h0M1401.5 446h0M1393.5 466.6h0M1373.7 445h0M1358.4 467.7h0M1408.1 441.4h0M1378.3 464.8h0M1403 466.2h0M1401.1 445.5h0M1361.4 454.1h0M1366.1 468.9h0M1388.1 444.5h0M1381.2 451.1h0M1382.4 467.7h0M1376.2 422.2h0M1407.6 455.4h0M1393.7 448.1h0M1377.9 436.8h0M1405.7 458h0M1359.5 449.4h0M1391.3 447.5h0M1384.6 467.3h0M1370.8 437.2h0M1371.2 454.4h0M1396.6 462.4h0M1370.5 468h0M1355.7 434.3h0M1362.2 424h0M1372.7 418.8h0M1378 467.3h0M1376.6 438.7h0M1405 432.9h0M1379.1 458.4h0M1377 441.8h0M1373.3 470.3h0M1354.3 464.1h0M1380.2 456.7h0M1392.9 474.7h0M1361.8 469.1h0M1372.2 427.9h0M1376.3 432.3h0M1393.6 452.5h0M1374.6 455.8h0M1377.5 454h0M1366.9 422.5h0M1367.1 423.4h0M1387.2 426.1h0M1396.6 437.8h0M1383.9 472.6h0M1354.1 432.4h0M1401.3 435.9h0M1381.5 463.3h0M1402.1 436.5h0M1410.5 448.2h0M1404 456.2h0M1392 466.8h0M1389.6 463.1h0M1391 446.1h0M1352.2 449.1h0M1365.3 465.8h0M1389.4 432.3h0M1354.4 442.8h0M1394.2 457h0M1370 469.3h0M1358.9 448.9h0M1352 443.6h0M1384.1 457.9h0M1396 454h0M1350.5 456.6h0M1375.8 448.7h0M1377.9 464.4h0M1382.4 456h0M1362.3 453.7h0M1365.5 475.1h0M1371.3 451.1h0M1377.5 441h0M1396.5 432.5h0M1353.6 452.1h0M1384.9 419h0M1381.1 424.2h0M1404.5 461.8h0M1365.2 425.4h0M1360.9 429.4h0M1383.3 459h0M1401.1 441.9h0M1380.7 474.7h0M1383.5 469.2h0M1372.6 455.5h0M1383.7 468.9h0M1382.1 455.2h0M1382.2 470.9h0M1396.3 426h0M1378.2 461.6h0M1387.5 468.8h0M1401 451.1h0M1358.6 430.9h0M1386 419h0M1359.2 465.1h0M1362.1 455.6h0M1354.8 459.4h0M1364.3 447.6h0M1403.8 459.6h0M1389.6 440h0M1365.1 437h0M1402.5 450.1h0M1376.4 419h0M1353.4 457.4h0M1362.5 432.5h0M1365.9 421.4h0M1388.4 426.2h0M1354.7 450.6h0M1392.7 452.5h0M1367.4 449.3h0M1373.3 467.6h0M1391.3 472.3h0M1358.9 463.9h0M1385.9 476h0M1368.9 469.6h0M1391.7 449.6h0M1383.2 436.1h0M1389.9 462.8h0M1368.6 421.7h0M1407.6 449.6h0M1389.2 434.1h0M1405.2 439.8h0M1367.7 462.5h0M1354.2 444.3h0M1396.2 461.3h0M1378.8 436h0M1402.3 448.6h0M1392.7 436.1h0M1371.9 421.4h0M1364 461.8h0M1386.7 469.9h0M1361.5 454.1h0M1364.7 424.5h0M1389.6 462.7h0M1390.4 440.6h0M1401.9 458.9h0M1358.9 464.5h0M1391.5 464.1h0M1366.1 447.8h0M1395.4 443.5h0M1381.2 424h0M1374.6 461.3h0M1379.9 444.4h0M1355.5 440.4h0M1359.4 432.4h0M1361.8 465.8h0M1360.2 464.7h0M1364.9 441.7h0M1375.3 418.7h0M1406.5 447.6h0M1402.2 447.4h0M1374.5 422.7h0M1390.4 424.9h0M1401.8 430h0M1396.5 460.4h0M1390.5 472h0M1383.4 453.7h0M1358.6 463.9h0M1393.1 438.8h0M1354.3 454.8h0M1376 453h0M1370.7 423.6h0M1388.3 437.1h0M1357.9 451.1h0M1381.3 440.2h0M1369.9 443h0M1364.3 427h0M1361.7 467h0M1397.6 463.3h0M1370.7 477.1h0M1405 465.6h0M1369.6 419.8h0M1351.6 450.5h0M1370.3 429h0M1366.7 469.8h0M1399 434.9h0M1409.3 456.5h0M1387.1 473.9h0M1395.3 440.5h0M1382 477.5h0M1395.6 474.1h0M1400.9 445.4h0M1382.4 456.3h0M1385 422.3h0M1395.7 435.2h0M1372.8 434.8h0M1386.1 469.2h0M1402.1 439.6h0M1401 460.1h0M1381.9 425.2h0M1392.1 420.5h0M1379.5 462.1h0M1371.3 447.3h0M1390.4 472.7h0M1370.1 442.7h0M1363.7 463.5h0M1376.5 445.7h0M1383.6 462.6h0M1398.2 429.4h0M1373.9 420.1h0M1367.3 431.5h0M1379 420.8h0M1394.2 427.3h0M1394.8 436.3h0M1363.8 446.4h0M1378 445.6h0M1378.2 451.3h0M1403.3 448.5h0M1365.5 432.2h0M1391.5 428.6h0M1394.7 472.9h0M1399.5 458.1h0M1361.6 431.2h0M1393.6 445.9h0M1372.3 475.7h0M1369.6 456.3h0M1352.6 446.7h0M1369.9 461.4h0M1388.5 446h0M1377 454.5h0" stroke="#1a1a1a" stroke-opacity="0.5" stroke-width="1.7" stroke-linecap="round" fill="none"/><path d="M1385.7 464.8h0M1401.6 461.7h0M1393.5 432.7h0M1365.5 442.2h0M1377.9 463.1h0M1382.2 443.8h0M1403.2 449.8h0M1373.8 464.4h0M1375.2 428.5h0M1392 463.7h0M1363.1 465.6h0M1382 462.8h0M1357.1 448.2h0M1371.8 456.4h0M1358 467.2h0M1398.1 439h0M1387.9 470.1h0M1380.4 460.5h0M1387.9 420.3h0M1394 442.6h0M1398.9 427.5h0M1400 460.7h0M1352.8 452.2h0M1405.5 460.6h0M1394.2 421.2h0M1353.8 439.5h0M1354 450.7h0" stroke="#101010" stroke-opacity="0.6" stroke-width="2.6" stroke-linecap="round" fill="none"/><path d="M1372.8 511h0M1369.8 561.5h0M1360 536h0M1381.3 518.7h0M1410.2 534.8h0M1406.5 533.8h0M1364.5 561.2h0M1379.9 516h0M1357.7 550.8h0M1405.9 551.3h0M1402 519.9h0M1376.6 514.1h0M1396.8 522.8h0M1368.3 510.6h0M1395.4 529.8h0M1366.2 512.3h0M1363.9 553.6h0M1378.5 527.6h0M1379.9 544.5h0M1377.5 520.9h0M1379.1 517.5h0M1398.5 545.6h0M1406.3 543.2h0M1390.7 559.5h0M1364.2 513h0M1354.9 531.9h0M1373.2 556.7h0M1372.9 514.2h0M1379.6 557.5h0M1396.3 512.5h0M1351.7 543.9h0M1355.7 553.9h0M1387.5 510.8h0M1364 516.4h0M1370.1 509.9h0M1357.8 538.9h0M1390 556.3h0M1395.6 545h0M1354 535.4h0M1356.6 522.3h0M1393.7 522.9h0M1359.1 547.3h0M1373.7 548.9h0M1368.7 559.8h0M1378.2 554.1h0M1366.8 512.7h0M1367.8 547.5h0M1387.8 515.1h0M1359.4 535.9h0M1366 532h0M1399.6 526.6h0M1391.1 534.2h0M1392.6 545.9h0M1367.5 557.7h0M1367.8 543.4h0M1352.7 541.3h0M1370.7 519.8h0M1390.1 535.3h0M1377.5 528.6h0M1385.1 554.8h0M1354.4 550.8h0M1366.2 563.4h0M1396.4 559.3h0M1401 545.1h0M1400.2 537.9h0M1400.7 536h0M1388.3 539.2h0M1364.5 544.6h0M1384.7 510.4h0M1387.9 554.7h0M1357.7 536.6h0M1376.2 521.1h0M1388.3 525.6h0M1405.7 531.8h0M1381.3 517.5h0M1398.3 529.9h0M1388.7 538.3h0M1395.6 540.9h0M1381.2 507.9h0M1395.5 512.5h0M1373.2 547.9h0M1369.7 554.2h0M1400 554.4h0M1397.1 556.6h0M1369.7 531.6h0M1373.8 526.6h0M1358.9 518.3h0M1350 533.4h0M1368.2 543.5h0M1351.7 532.8h0M1362.2 511.9h0M1390.7 512h0M1393.1 560.2h0M1404.1 525.7h0M1384.9 565.5h0M1358.8 534.4h0M1407 531.1h0M1369.7 509.1h0M1362.2 558.1h0M1400 556.3h0M1389.1 527.8h0M1388.9 535.8h0M1382.3 563h0M1365.7 529.9h0M1388.8 542.4h0M1382.8 560.2h0M1399 548.3h0M1408.4 538h0M1394.5 547.2h0M1396.3 514.9h0M1398 532.1h0M1378.2 513.7h0M1404 535.4h0M1382.8 565.4h0M1380 521.7h0M1398.6 547.1h0M1392.1 533.5h0M1394.6 551.6h0M1380.4 531.9h0M1380.8 552.7h0M1366.6 550.5h0M1373.5 563.1h0M1404.7 533.1h0M1401.5 527.5h0M1385.4 510.2h0M1361.8 558.2h0M1408.7 535.2h0M1374.9 542.4h0M1384.7 526.9h0M1400.7 520.7h0M1352.8 528.3h0M1391.2 510.3h0M1374.2 542.1h0M1374.4 507.5h0M1373.9 563.3h0M1388.4 539.6h0M1404 520.8h0M1388.7 555.3h0M1370.6 509.5h0M1366.6 563.9h0M1404.4 526.6h0M1381.3 562.8h0M1371.6 513.1h0M1374.2 526.6h0M1361.9 543.2h0M1374.4 539.6h0M1378 560.7h0M1395.9 528.3h0M1402.5 545h0M1390.1 559h0M1355.7 537.6h0M1406.1 545.7h0M1409.7 535.3h0M1365.8 512h0M1365.4 553.3h0M1363.3 552h0M1376.6 534.9h0M1369.8 510.6h0M1406.4 521.4h0M1355.8 518.5h0M1369.6 549.1h0M1378.8 510.3h0M1354.6 541.9h0M1392.5 544h0M1391.2 540.6h0M1354.1 551.7h0M1378.1 515.9h0M1409 531.3h0M1366.2 537.2h0M1403.1 539.7h0M1371.1 534.4h0M1391 508.8h0M1360.5 527h0M1390 523.8h0M1390.6 539.1h0M1362.2 531.5h0M1368.9 521.4h0M1408.1 540.6h0M1357.1 528.9h0M1388.2 510.9h0M1404 528.1h0M1406.2 526.4h0M1379 530.5h0M1383.7 516.2h0M1380.1 558.7h0M1359.3 535.5h0M1405.5 539.4h0M1395.7 521.6h0M1400.4 518.8h0M1360.4 548.5h0M1370.2 517.5h0M1367.3 552.6h0M1359.4 525.3h0M1398.9 549.7h0M1403.4 554.2h0M1375.5 511.7h0M1377.2 552h0" stroke="#1a1a1a" stroke-opacity="0.5" stroke-width="1.7" stroke-linecap="round" fill="none"/><path d="M1386.1 515.7h0M1383 566.5h0M1388.9 515.4h0M1389 536.7h0M1377.1 549.3h0M1385.6 510h0M1375.6 526.8h0M1388.3 509.4h0M1398.1 515h0M1352.3 535h0M1362.4 527.7h0M1382 545.8h0M1388.5 565.9h0M1367.9 546.9h0M1377.7 516.3h0M1382.1 527.3h0M1388.6 516.2h0M1386.2 557.7h0M1354.3 534.5h0M1379.6 526h0M1382.2 554.9h0M1369.7 546.6h0M1398.8 522.9h0M1369.1 521.7h0M1373.6 532h0" stroke="#101010" stroke-opacity="0.6" stroke-width="2.6" stroke-linecap="round" fill="none"/><path d="M1459.4 438.6h0M1475.3 447.3h0M1461.3 425.1h0M1452.2 457.6h0M1460.8 473.8h0M1437.9 452.5h0M1471.8 420.2h0M1465.4 473.4h0M1472.8 470.7h0M1489.3 436.6h0M1472.1 461h0M1488.3 460.2h0M1458.6 463.6h0M1477.3 437.6h0M1462.6 425h0M1488.1 450.8h0M1454.9 450.1h0M1468.6 422.5h0M1479 422.3h0M1474.1 469h0M1468.7 457h0M1461.9 421.8h0M1488.5 451.5h0M1454.2 442.2h0M1470 458.6h0M1445.4 461h0M1472.5 426.8h0M1458.9 434.1h0M1463.8 426h0M1484.6 461.3h0M1461.7 418.1h0M1463.7 419.7h0M1459.3 429h0M1460.2 418.5h0M1460.7 463.5h0M1467.5 424.1h0M1469.6 421.6h0M1444.5 426h0M1472.4 440.6h0M1461.6 461.6h0M1438.7 434.1h0M1486.8 435.3h0M1486.4 454.1h0M1474.9 423h0M1456.8 418h0M1483.3 457.2h0M1467.1 445.9h0M1485.5 441.8h0M1462.8 419.2h0M1443.5 449.9h0M1490.4 433.3h0M1492.7 448.1h0M1464.9 452.8h0M1461.4 432.3h0M1436.5 434.6h0M1455.8 426.2h0M1433.4 443h0M1484 430.6h0M1479.2 470.1h0M1458.2 429h0M1472 443.2h0M1469.6 477.1h0M1471.4 428.9h0M1473 475.8h0M1471.3 471.8h0M1475.2 443.1h0M1460.6 422.3h0M1448.3 467.8h0M1461.2 474h0M1477.2 436.3h0M1472.8 431.3h0M1434.5 446.5h0M1465.6 446.1h0M1469.7 463h0M1471 430h0M1481.1 439h0M1461.3 459.7h0M1449.4 470.7h0M1485.6 460.5h0M1484.1 431.2h0M1488.4 465h0M1437.1 444.2h0M1482.5 425h0M1454 432.1h0M1493.5 442.2h0M1458.9 471.2h0M1465.7 429.6h0M1448.6 449.1h0M1458.9 431.9h0M1439.6 465.8h0M1484.2 449.5h0M1459.4 433.2h0M1448.7 461h0M1466 458h0M1477.6 460.1h0M1461.2 472.9h0M1475.6 451.2h0M1479.5 456.2h0M1452.6 453.6h0M1447.4 471.1h0M1491.3 450.5h0M1455.4 447.2h0M1484 428h0M1445.6 425.1h0M1466.2 461.2h0M1474.9 448h0M1446 424.9h0M1448 440.1h0M1448 449.3h0M1463.7 423.7h0M1450.8 470.8h0M1440.5 465.8h0M1468.2 459.9h0M1473 439.8h0M1484 436.5h0M1472.4 454h0M1448 449.3h0M1465.3 429h0M1442.5 435.6h0M1452.1 436.9h0M1487.3 429.6h0M1482.4 452.1h0M1452 458.6h0M1480.2 424.5h0M1456.1 418h0M1437 437.3h0M1454.3 471.9h0M1490.4 460.5h0M1445 452.6h0M1463.9 450.4h0M1449.4 440.2h0M1448.2 471.1h0M1474 475.8h0M1480 449h0M1480.4 442.5h0M1447.4 455.1h0M1468.6 473.5h0M1438.2 449h0M1491.5 457.1h0M1436.5 447.2h0M1487 444.8h0M1468.3 453.9h0M1478.7 472.6h0M1484.4 458.1h0M1466.1 465.9h0M1479.2 456.6h0M1476.5 426.8h0M1474 454.2h0M1451.8 420.1h0M1454.5 476.1h0M1459.9 456.1h0M1455.7 473.9h0M1465.6 419.1h0M1451.7 472.8h0M1444.9 465h0M1451.4 460.8h0M1476.7 435.2h0M1466.7 463.4h0M1458.6 470.3h0M1477.4 423.3h0M1464 421.1h0M1439.1 438.1h0M1440 434.4h0M1470.4 448.7h0M1460.3 473.2h0M1460.3 464.8h0M1445 444.4h0M1442.2 445.9h0M1462.7 469.4h0M1476.1 442h0M1478.8 444.7h0M1474.9 466h0M1451.3 472h0M1455.5 435.4h0M1491.5 455.6h0M1487.2 458.8h0M1469.4 445.2h0M1455.6 459.7h0M1455 464h0M1482.8 434.9h0M1457.8 432.1h0M1449.5 461.8h0M1461.7 432.8h0M1472.4 474.9h0M1455.5 437.2h0M1442.1 450.3h0M1454 423.7h0M1454.3 435.8h0M1441.4 434.3h0M1470.8 471.9h0M1483.6 453.8h0M1452.2 461.4h0M1449.7 445h0M1486.8 466.3h0M1438.6 432.2h0M1435.1 452.4h0M1491.1 456.7h0M1470.8 465.6h0M1493.7 450.7h0M1469.7 473.5h0M1473 471.2h0M1456.5 420.4h0M1473.2 449h0M1438.5 438.9h0M1444.3 430h0M1447.6 423.5h0M1467.7 456.5h0M1445.7 459.4h0M1452.1 419.2h0M1446.9 455.3h0M1473.6 471.8h0M1458.4 477.1h0M1467.7 464.4h0M1469.2 459.6h0M1464.8 442.4h0M1450.8 434.2h0M1466.6 464.4h0M1465.9 466.5h0M1452.1 467.7h0M1444.3 442.4h0M1446.6 426.2h0M1450.5 466.9h0M1462.3 426.9h0M1454 461h0M1472 470.3h0M1444 446.4h0M1461.4 430.7h0M1455.3 439.8h0M1491.7 455.9h0M1492.1 441.8h0M1464.8 445.6h0M1457.5 444.3h0M1472.9 466.1h0M1484.7 460.9h0M1459.6 468h0M1459.5 460.2h0M1464.1 434.1h0M1477.4 471.6h0M1481.3 427.4h0M1453.6 423.6h0M1464.4 459.3h0M1480.8 458.4h0M1470.6 424.3h0M1437.7 434.9h0M1490.3 458.5h0M1444.7 468h0M1440 431.7h0M1467.5 464.1h0M1441.4 463h0M1440.5 437.8h0M1457.8 422.7h0M1482.8 423.8h0M1477.2 426.9h0M1460.2 472.2h0M1468.9 430.5h0M1478 427.7h0M1488.2 434.5h0M1462.6 429.3h0M1464 432.3h0M1475.9 419.7h0M1462.3 457h0M1473.8 474.8h0M1477.9 438h0M1459.6 451.8h0M1448.1 437.4h0M1451.7 419.8h0M1437.3 451.8h0M1462 424.8h0M1488.3 460.4h0M1463.2 440.4h0M1469.2 449.2h0M1478.2 467.4h0M1473.2 421h0M1466 462.7h0M1471.8 473.9h0M1458.6 467.3h0M1475.1 430.7h0M1480.9 422.8h0M1476.5 437.5h0M1453.6 474.6h0M1453.6 441.3h0M1438.6 464.6h0M1435.9 450.9h0M1486.7 449.7h0M1460.1 475.7h0M1477.8 471.3h0M1487.9 429.3h0M1451.2 465.8h0M1459.4 447.2h0M1442 461.3h0M1470.2 422h0M1457.6 426.3h0M1460.3 463h0M1474.2 418.2h0M1441 465.2h0M1462.2 426.6h0M1456.1 429.5h0M1461.6 463.3h0M1457.6 424.3h0M1485.6 451.3h0M1479.5 472.2h0M1440.5 460.2h0M1452.1 421.2h0M1459.2 436.3h0M1467.4 444h0M1469.4 472.5h0M1449.1 432.8h0M1484.2 424.8h0M1468.9 460.4h0M1481 471.7h0M1470.7 433.8h0M1478.2 446.6h0M1449 442.2h0M1484.3 456.2h0M1478.7 461.5h0M1438.4 464.2h0M1486.4 463h0M1453.7 421h0M1462.1 428.9h0M1474.6 420.4h0M1455.5 418.8h0M1449.6 442.1h0" stroke="#1a1a1a" stroke-opacity="0.5" stroke-width="1.7" stroke-linecap="round" fill="none"/><path d="M1470.5 450.5h0M1464.1 437h0M1458.7 462.3h0M1459.5 467h0M1463.8 473.3h0M1455.8 432.2h0M1490.5 453.9h0M1488.2 435.8h0M1437.6 433.5h0M1437.7 437.1h0M1467.8 421h0M1461.3 430.4h0M1453.3 433.9h0M1460.2 422h0M1450.3 462.8h0M1461 420.2h0M1477.5 444.1h0M1461.3 420.6h0M1466.5 445.7h0M1467 425.2h0M1443.6 439.3h0M1436 442.7h0M1469 461.3h0M1454.5 469h0M1455.4 460h0M1462.7 450.8h0M1482.5 464.5h0M1493.8 450.1h0M1491.6 452.2h0" stroke="#101010" stroke-opacity="0.6" stroke-width="2.6" stroke-linecap="round" fill="none"/><path d="M1445.3 538.4h0M1438.3 534.7h0M1488.9 544.7h0M1479.7 558.7h0M1446.4 511.4h0M1448.4 543.5h0M1480.2 554.6h0M1474.1 519.7h0M1448.8 531.7h0M1483.6 547.5h0M1451.3 544h0M1470.2 510.8h0M1444.1 553h0M1484.2 520.9h0M1449.5 541.2h0M1465 548.1h0M1459 549.3h0M1475.9 557.5h0M1492.6 542.3h0M1478.9 520.8h0M1467.6 564h0M1477 555.5h0M1445 554.9h0M1486 538.2h0M1461.3 522.1h0M1473.6 520.8h0M1452.5 526h0M1458.7 537.8h0M1439 533h0M1469.7 535.4h0M1474.8 523.3h0M1436.9 525.2h0M1455.7 557.2h0M1458.4 539.5h0M1474.3 543.9h0M1446.7 531.5h0M1438.3 544.6h0M1458.5 551.4h0M1451.8 552.6h0M1461.8 521.1h0M1469.8 509.8h0M1453.6 524.6h0M1487.1 531.2h0M1454.1 553.4h0M1469.6 561.4h0M1456.7 511.8h0M1451.6 513.4h0M1445.2 539.7h0M1456.6 508.3h0M1438.1 533h0M1485.9 523.5h0M1457.7 509h0M1458.4 566.5h0M1452.3 558.5h0M1448.2 526h0M1477.4 557h0M1470.1 561.9h0M1464 563.7h0M1488.1 528.5h0M1433.7 536.9h0M1458.4 559.2h0M1465.8 551.5h0M1444.4 529.9h0M1465.9 557.9h0M1462.2 535.2h0M1455.6 534.4h0M1456.5 518.1h0M1446.4 555.1h0M1482.5 547.4h0M1448.9 544.1h0M1488.7 537.5h0M1451.7 562.6h0M1474.1 518.7h0M1452.1 518.4h0M1458.8 562.2h0M1481.9 521.5h0M1488.2 538.8h0M1467.7 550.6h0M1469.2 538.7h0M1487.9 526.6h0M1454.1 560.2h0M1491.5 532.6h0M1472.9 530.7h0M1462.3 507.6h0M1475.5 532.4h0M1449.2 541h0M1437.2 531.8h0M1479 556h0M1432.6 534.3h0M1451.4 537h0M1461.3 512.6h0M1444.9 537.9h0M1482.4 534.1h0M1454 527.5h0M1446.5 512.6h0M1469.1 552.9h0M1481.9 544.5h0M1441.5 549.8h0M1450.6 556.1h0M1467.2 519.3h0M1442.6 534.5h0M1488.1 535.8h0M1442.9 531.6h0M1455.2 507.2h0M1469.7 544.1h0M1466.1 556.1h0M1460.4 547.1h0M1443 515h0M1475.3 519.2h0M1459.1 562.8h0M1492.2 533.6h0M1437.4 521.5h0M1471.8 514.4h0M1438.1 547h0M1464.4 525.4h0M1454.7 555.7h0M1439 541.3h0M1460.8 516.1h0M1453.9 512.6h0M1462.4 559.7h0M1463.9 507.6h0M1448.2 530h0M1459.7 538.2h0M1475.3 558.8h0M1441.6 539.5h0M1477.5 549.3h0M1479.4 536.4h0M1464.2 561.6h0M1445.7 549.9h0M1471.7 529.6h0M1436.9 539.1h0M1473.1 555.1h0M1477.1 548.7h0M1451.9 547.2h0M1449.2 536h0M1447 553.4h0" stroke="#1a1a1a" stroke-opacity="0.5" stroke-width="1.7" stroke-linecap="round" fill="none"/><path d="M1480.8 557.3h0M1491.2 544.1h0M1482.5 528.7h0M1462.6 564h0M1478.2 552.7h0M1469.4 506.7h0M1469.8 532.9h0M1476.4 526.8h0M1446.5 555h0M1480.4 560.2h0M1445.7 511.8h0M1473.4 547.9h0" stroke="#101010" stroke-opacity="0.6" stroke-width="2.6" stroke-linecap="round" fill="none"/><path d="M1548.9 454.4h0M1567.3 471.1h0M1579.3 430.1h0M1558.7 471.1h0M1548.3 476.8h0M1557.6 473.4h0M1547.8 421.3h0M1566.4 473.5h0M1559.5 466.8h0M1555.8 463.7h0M1562.4 436.9h0M1567.2 466.3h0M1570.3 447.6h0M1538.8 448.7h0M1581.4 443h0M1538 437.1h0M1574 458.7h0M1541.7 432.2h0M1579.5 433.7h0M1536 457.2h0M1561.7 430.8h0M1555.8 435.5h0M1569.6 436.1h0M1546.3 466.7h0M1559.3 433.8h0M1538.8 443.9h0M1529 439.5h0M1568 471.7h0M1548.5 417.9h0M1550 444.8h0M1547.8 436.5h0M1576.1 456.8h0M1533.4 448.9h0M1538 435.7h0M1557.3 459.7h0M1540.1 448.4h0M1528.7 437.4h0M1530.3 447.1h0M1582.1 451.3h0M1556.9 434.4h0M1570.1 450h0M1569 462.6h0M1576.9 446.6h0M1564.9 463.2h0M1552.4 468.1h0M1539.9 427h0M1546.3 455.2h0M1561.5 442.6h0M1551.2 445.9h0M1549.4 421.7h0M1549.4 461.1h0M1563.7 421.3h0M1580.7 451.2h0M1568.7 469h0M1582.8 452h0M1539 427.4h0M1570.2 470h0M1571.2 421.7h0M1562.1 421.7h0M1575.8 463.6h0M1577.7 463.9h0M1535.8 426.1h0M1525.6 443h0M1549.1 470.6h0M1578.2 452.5h0M1569 453.2h0M1558.2 431.9h0M1562.8 462.3h0M1551.4 442.5h0M1578.6 466.7h0M1556.6 472.2h0M1544.8 466.5h0M1576.9 428.5h0M1548.7 419.4h0M1532.4 432.6h0M1580.8 438.5h0M1556.6 468.5h0M1526.8 447.3h0M1534.1 433h0M1531.7 437.8h0M1559.7 439.9h0M1560.1 420.5h0M1533.5 435.2h0M1579.6 451.7h0M1583.8 456h0M1534.4 465.9h0M1577.6 434.5h0M1529.6 454.1h0M1536.9 450.5h0M1564.1 471.9h0M1542.7 443.4h0M1571.2 427.3h0M1568.1 425.4h0M1579.2 436.9h0M1549.8 419.8h0M1558.9 433.1h0M1560.9 452.8h0M1572 467.1h0M1577.1 445.8h0M1580.2 439.4h0M1547.4 458.9h0M1552.7 419.8h0M1567.1 467.4h0M1546.2 473.1h0M1537.2 450.3h0M1551.1 423.7h0M1569.1 454.5h0M1549.3 442.1h0M1536.6 435.5h0M1574.4 443.2h0M1574.3 450.6h0M1551.7 467.5h0M1545.3 443.1h0M1556 429.1h0M1557.8 419.8h0M1567.3 450.1h0M1550.5 472.4h0M1528.2 439.9h0M1543 467.3h0M1568.2 443.9h0M1541.2 471h0M1546.5 458.6h0M1563.5 439.4h0M1526.3 444.2h0M1582.4 447.4h0M1572 463.9h0M1576.9 435.6h0M1540 443.9h0M1541.1 456.4h0M1548.6 440.2h0M1545.2 467.6h0M1550 440.7h0M1574.5 462.8h0M1570.3 444.7h0M1546.1 446.9h0M1547.3 472.6h0M1559.5 468.5h0M1579.7 450.7h0M1570 445.4h0M1529.2 434.2h0M1561.6 454.9h0M1549.5 456h0M1568.3 473.1h0M1566.5 470.3h0M1547.4 459.4h0M1550.9 439.2h0M1582.2 450.8h0M1542.5 465.7h0M1535.1 461.1h0M1534.4 428.2h0M1583.2 453h0M1577.1 441.1h0M1533.8 463.5h0M1542.7 450.7h0M1570.4 451h0M1555.9 425.7h0M1572.7 460.6h0M1540.5 454.7h0M1536 466.8h0M1567.6 437.9h0M1532.5 438h0M1540.2 464.9h0M1566.2 471h0M1549.8 475h0M1572.7 437.6h0M1543.7 454.7h0M1544.7 445.2h0M1573.5 430.6h0M1531.1 452.9h0M1545.4 422.8h0M1570.5 422.2h0M1567 442.9h0M1545.2 472h0M1569.1 461.8h0M1564.4 451h0M1564 427.7h0M1532.2 450.3h0M1575.3 435.6h0M1545.4 447h0M1565.3 446.7h0M1545.5 420.3h0M1562.8 469h0M1528.5 448.3h0M1552.4 473.2h0M1545.7 433.4h0M1530.1 452.4h0M1561.2 437.4h0M1533.3 427.3h0M1543.6 461.3h0M1544.5 440.3h0M1559.3 473h0M1540.1 455.7h0M1568.5 449.9h0M1576.1 428.8h0M1539.5 452.2h0M1540.7 426.8h0M1539.3 448.4h0M1559.7 421.3h0M1558.6 422.4h0M1569.1 445.8h0M1546.6 431h0M1554.2 419.2h0M1544.8 474.5h0M1583 436.9h0M1565.3 472.9h0M1570 456.2h0M1563.5 428.2h0M1553.9 432.9h0M1567.4 471.5h0M1544.2 475.5h0M1542 463.2h0M1530 430.7h0M1539.4 456.1h0M1574.7 470.3h0M1539.3 442.3h0M1579.1 432.1h0M1547.3 425h0M1559.7 453.1h0M1536 430.6h0M1553.3 417h0M1543.8 421.1h0M1551.6 425.9h0M1534.3 468.3h0M1568.2 442.1h0M1525.3 442.3h0M1547.7 474.4h0M1538.5 424.9h0M1573 472.3h0M1584.6 450.7h0M1534.1 428.3h0M1533.3 436.9h0M1534.1 449.1h0M1568.7 451.9h0M1545.6 420h0M1556.4 451.8h0M1558.4 431.2h0M1577.6 458.2h0M1529.7 435h0M1533.2 462.2h0M1533.4 466.5h0M1555.9 449.2h0M1527.2 456.9h0M1583 444.2h0M1554.8 455h0M1574.9 461.3h0M1539.2 464.1h0M1529.5 439h0M1548.2 455.5h0M1584.5 448.8h0M1549 439.3h0M1537.7 429.5h0M1550.6 435.9h0M1548.4 453.9h0M1566.9 428.4h0M1554.4 460.9h0M1572.3 435.7h0M1581.3 439.9h0M1565.8 462.2h0M1546.1 455.9h0M1556.1 436.1h0M1555.9 448h0M1571.4 445h0M1549 439h0M1562.3 449.4h0M1550.9 441.4h0M1570.3 454.5h0M1577.1 457h0M1533.5 454.5h0M1572.4 438.9h0M1568.4 456.4h0M1550.5 457h0M1570.6 467.1h0M1563.2 476h0M1570.2 450.9h0M1558.4 440.8h0M1567 449h0M1565.9 466h0M1577 425.9h0M1566.3 449.2h0M1553.8 446.4h0M1541 438.3h0M1548.4 468.6h0M1544.4 440.3h0M1545.2 450.1h0M1550.8 471.7h0M1558.7 427.7h0M1548.6 428.6h0M1547.3 423.5h0M1546.1 422.3h0M1541.9 465.1h0M1529.1 435h0M1560.5 436.9h0M1570.1 463.5h0M1554.1 461.2h0M1563.5 417.8h0M1554.9 454h0M1577.3 452.1h0M1529.4 440.6h0M1557.8 421.9h0M1549.5 422.4h0M1574 459.8h0M1572.5 442.9h0M1554 457.1h0M1557 439.9h0M1528.3 434h0M1550 424.2h0M1526.1 442.6h0" stroke="#1a1a1a" stroke-opacity="0.5" stroke-width="1.7" stroke-linecap="round" fill="none"/><path d="M1530 431.2h0M1567.6 438.2h0M1564.8 468.8h0M1565.1 443.3h0M1548.6 456.1h0M1551.9 431.1h0M1559.7 462.9h0M1554.4 474h0M1551.4 421.4h0M1556.6 417.3h0M1539.2 434.3h0M1570.4 440.3h0M1540.4 450.4h0M1552.6 434.6h0M1535.2 443.7h0M1578.8 435.8h0M1541 452.5h0M1579.4 439.2h0M1529.5 459.3h0M1533.8 434.9h0M1549.9 441.1h0M1571.3 430.8h0M1559.5 424.1h0M1537.9 467.7h0M1581.6 456.2h0M1537.9 442.5h0" stroke="#101010" stroke-opacity="0.6" stroke-width="2.6" stroke-linecap="round" fill="none"/><path d="M1545.6 540.4h0M1531.5 524.9h0M1568 550.5h0M1547.5 536.8h0M1526.8 532.5h0M1545.5 516.6h0M1531.8 533.4h0M1534.3 521.3h0M1533.8 530.5h0M1546.9 552.1h0M1541.9 554.5h0M1542.1 557.6h0M1562.7 511.4h0M1558.3 540.9h0M1542.1 558.6h0M1563.9 567.4h0M1557.4 540.9h0M1577.8 529.3h0M1547.4 551.8h0M1548.2 536.8h0M1542.5 531.9h0M1565.8 510.8h0M1556.4 515.5h0M1573 533h0M1536.5 545.6h0M1541.5 521.8h0M1532.6 533h0M1532.1 549.5h0M1532.5 555.4h0M1582.4 522.5h0M1581.3 546.3h0M1583.5 526.9h0M1544.8 558.9h0" stroke="#1a1a1a" stroke-opacity="0.5" stroke-width="1.7" stroke-linecap="round" fill="none"/><path d="M1529.8 532.5h0M1553.5 563.8h0M1577 522.2h0M1534.2 540.5h0" stroke="#101010" stroke-opacity="0.6" stroke-width="2.6" stroke-linecap="round" fill="none"/></g>
</g><g id="pf">
<text x="1076.5" y="646" font-size="27.6" textLength="227.8" lengthAdjust="spacingAndGlyphs">NCI-H226 NF2 null</text>
<text x="1058.5" y="689.9" font-size="27.6" text-anchor="end" textLength="56.0" lengthAdjust="spacingAndGlyphs">[µM]</text>
<text x="1120.3" y="689.9" font-size="27.6" text-anchor="middle" textLength="71.8" lengthAdjust="spacingAndGlyphs">0.016</text>
<text x="1214.6" y="689.9" font-size="27.6" text-anchor="middle" textLength="71.8" lengthAdjust="spacingAndGlyphs">0.049</text>
<text x="1294.4" y="689.9" font-size="27.6" text-anchor="middle" textLength="55.9" lengthAdjust="spacingAndGlyphs">0.15</text>
<text x="1387" y="689.9" font-size="27.6" text-anchor="middle" textLength="55.9" lengthAdjust="spacingAndGlyphs">0.44</text>
<text x="1463" y="689.9" font-size="27.6" text-anchor="middle" textLength="55.9" lengthAdjust="spacingAndGlyphs">1.33</text>
<text x="1560" y="689.9" font-size="27.6" text-anchor="middle" textLength="16.0" lengthAdjust="spacingAndGlyphs">4</text>
<text x="1058.5" y="757.3" font-size="27.6" text-anchor="end" textLength="78.7" lengthAdjust="spacingAndGlyphs">DMSO</text>
<text x="1058.5" y="840.3" font-size="27.6" text-anchor="end" textLength="127.0" lengthAdjust="spacingAndGlyphs">GNE-7883</text>
<rect x="1070.3" y="700.3" width="531.9" height="182" fill="#000"/>
<g filter="url(#wb)"><circle cx="1116.7" cy="750.2" r="33.3" fill="url(#w142)"/><circle cx="1116.4" cy="837.1" r="33.3" fill="url(#w142)"/><circle cx="1203.5" cy="748.5" r="33.3" fill="url(#w142)"/><circle cx="1203.2" cy="838.3" r="33.3" fill="url(#w142)"/><circle cx="1290.9" cy="748.8" r="33.3" fill="url(#w142)"/><circle cx="1291.6" cy="837.1" r="33.3" fill="url(#w142)"/><circle cx="1380.7" cy="747.6" r="33.3" fill="url(#w142)"/><circle cx="1379.5" cy="837.4" r="33.3" fill="url(#w142)"/><circle cx="1465.9" cy="748.5" r="33.3" fill="url(#w142)"/><circle cx="1466.3" cy="837.1" r="33.3" fill="url(#w142)"/><circle cx="1557.5" cy="750.8" r="33.3" fill="url(#w142)"/><circle cx="1557.1" cy="837.4" r="33.3" fill="url(#w142)"/></g>
<g filter="url(#wd)"><path d="M1114.4 770.5h0M1132.3 746.8h0M1117 763.9h0M1135.9 758h0M1128.8 740.8h0M1113.6 754.3h0M1105.6 757.7h0M1105.8 724.8h0M1113.5 725.4h0M1116.9 777.8h0M1117.8 778.3h0M1129 722.2h0M1129.8 728h0M1122 775h0M1128.7 753.7h0M1114 746.8h0M1118.8 768.3h0M1091.8 749.5h0M1145.2 759.8h0M1127.9 767h0M1129.3 726.7h0M1142.5 740.9h0M1099.5 763.4h0M1113.8 750.5h0M1124.5 771.2h0M1123.4 762.9h0M1138 730.5h0M1106.7 721.7h0M1096.5 772.1h0M1103.2 772.1h0M1123.8 773h0M1095.2 739.2h0M1123.6 763.8h0M1116.3 748.1h0M1106 721.6h0M1143 734.6h0M1115.5 776.7h0M1113.5 755.8h0M1135.1 753.2h0M1126.2 724.1h0M1121.9 772.8h0M1142.1 753.3h0M1115.7 729.2h0M1115.3 734.7h0M1088.3 741.6h0M1125.1 776.4h0M1117 733.7h0M1132.2 748.2h0M1102.3 747.8h0M1135.4 729.5h0M1124 740.2h0M1138.5 765.4h0M1142.7 736h0M1137.9 754.7h0M1131.8 751.6h0M1102.1 751.2h0M1131.1 775.4h0M1136.1 735.6h0M1107.7 753.9h0M1114 739.8h0M1110.6 729.8h0M1119.3 775.8h0M1131.2 729.8h0M1121.6 776.2h0M1108.3 721.6h0M1126.5 763.8h0M1119.5 766.2h0M1106.4 768.2h0M1107.4 763.7h0M1142.7 758.7h0M1115.5 739.7h0M1141.7 738.3h0M1115.4 730.2h0M1124.8 735.4h0M1120.3 779.7h0M1137.8 764.5h0M1120.7 742.1h0M1134.2 754.4h0M1107.3 775.2h0M1114.1 753.6h0M1140.5 745.8h0M1122.4 753h0M1094.5 747.7h0M1129.8 734.3h0M1101 738.3h0M1116 775.7h0M1087.7 742.6h0M1137.3 766.9h0M1098.1 738.8h0M1142.4 763.1h0M1110.3 753.3h0M1111.4 747.3h0M1144.4 753.4h0M1089.6 763.5h0M1136.2 747.4h0M1144.6 762.4h0M1107.5 730.2h0M1138.3 746.3h0M1113.9 720.6h0M1126.9 761.3h0M1096.6 746.6h0M1129.4 749.2h0M1141.6 751.7h0M1105.7 768.2h0M1099 732.1h0M1139.2 763.7h0M1141.7 766.4h0M1109.5 776.5h0M1128 759.9h0M1123.8 772h0M1130.6 754.2h0M1125.8 723.7h0M1090.7 757.4h0M1123.1 776.6h0M1118.2 720.3h0M1122.6 721.1h0M1135.5 745.4h0M1108.3 747.1h0M1144.3 756.9h0M1114.4 720h0M1122.3 767.6h0M1089.4 745.5h0M1093.5 766.2h0M1125.6 776.9h0M1108.9 740.7h0M1110.9 725.1h0M1094.7 763.5h0M1120.9 758.8h0M1129.6 755.5h0M1093.6 732.4h0M1116.2 766.6h0M1102.9 737.2h0M1111.8 731.8h0M1112.9 724.3h0M1094.1 766.8h0M1103.8 753.7h0M1093.2 733.2h0M1098.9 732.1h0M1121.9 736.9h0M1113.6 730.6h0M1112.6 742h0M1142.3 755h0M1111 775.9h0M1141.7 762.5h0M1130.1 739.3h0M1143.6 745.1h0M1129.9 774h0M1103 746.3h0M1140.9 731.7h0M1118.3 760.4h0M1104.6 737.5h0M1101.9 753.7h0M1134.4 751.7h0M1125.8 774.6h0M1104.3 742.7h0M1117.5 743h0M1116.8 776.7h0M1141.9 754.7h0M1101.3 765.2h0M1109.9 777.4h0M1127.8 766.9h0M1108.6 721.8h0M1126.9 754.1h0M1121.3 747.8h0M1112.6 727h0M1115.5 739.8h0M1089.3 742.9h0M1107.3 761.3h0M1104.7 754h0M1091.8 743.1h0M1090.1 764.7h0M1117.1 759.2h0M1092.7 758.9h0M1133 724.5h0M1093.3 755.8h0M1113.5 754.1h0M1110.4 777.9h0M1098.5 745.4h0M1145.4 760.4h0M1144.1 753.3h0M1106.6 750.4h0M1095.5 756.7h0M1121.5 735.3h0M1136.5 754.3h0" stroke="#1a1a1a" stroke-opacity="0.5" stroke-width="1.5" stroke-linecap="round" fill="none"/><path d="M1125.4 722.8h0M1089.4 758h0M1092.5 755.4h0M1107.3 737.6h0M1137.6 731.9h0M1100.4 766h0M1132 775.8h0M1145.8 742.8h0M1120.9 749.6h0M1097.3 767.4h0M1109.3 744.7h0M1119 721.7h0M1127 738.8h0M1127.4 766.7h0M1100 769h0M1132.1 740.9h0M1131.7 727.9h0M1120.4 730.6h0M1093.9 758.8h0" stroke="#101010" stroke-opacity="0.6" stroke-width="2.6" stroke-linecap="round" fill="none"/><path d="M1136.8 849.5h0M1128 850.9h0M1116.9 816.7h0M1138.6 853.2h0M1111.2 807.6h0M1097.2 828.9h0M1108.2 837.7h0M1115.7 840.4h0M1111.4 810.3h0M1123.9 835.1h0M1088.6 831.8h0M1118.5 811.9h0M1100.8 827.2h0M1130.1 859.1h0M1099.9 826.5h0M1136.1 832.7h0M1126.8 865.9h0M1102.8 864h0M1103.7 822.6h0M1133.7 845.2h0M1126.6 816.5h0M1139 833.5h0M1143.2 840.8h0M1123.1 842.1h0M1109.6 863.2h0M1115 860.9h0M1095.1 835.4h0M1119.7 810.1h0M1144.4 840.8h0M1117.8 846.6h0M1100.7 817.9h0M1121.6 861.9h0M1124.2 836.3h0M1121.1 867.3h0M1096.4 815.5h0M1137.5 844.6h0M1124.3 826.4h0M1113.2 850.5h0M1142.6 835.4h0M1096.6 826h0M1138.7 838.4h0M1107.8 831.9h0M1137.9 847.8h0M1128.2 825.6h0M1090.2 845.2h0M1130.8 841.8h0M1113.6 838.5h0M1117.6 815.7h0M1089.2 839.2h0M1138.3 827.4h0M1094.7 848.8h0M1137.7 819.6h0M1121.7 850h0M1087.9 846.2h0M1106 853.4h0M1128.2 845.5h0M1097.3 843.5h0M1115.6 809.6h0M1125.9 814.4h0M1105.8 811h0M1089.5 846h0M1130.6 815.3h0M1125.9 826.1h0M1086.9 838.4h0M1095.4 853.4h0M1131.1 810.8h0M1125.8 808.7h0M1137.3 859.3h0M1100.6 838.2h0M1111.4 865.9h0M1087.6 831.3h0M1106.7 836.1h0M1106.6 846.6h0M1126.4 837.8h0M1101.8 814.8h0M1126.3 837h0M1102.2 844.3h0M1097.6 848.5h0M1110.6 859.4h0M1121 852.9h0M1101.5 830.3h0M1099 812.2h0M1140.6 822.8h0M1119.4 838.3h0M1125.1 860.4h0M1130.2 850.7h0M1115 838.2h0M1141.2 828.2h0M1109 816.1h0M1124.9 822.1h0M1104.6 844h0M1136.9 837.5h0M1130 826.3h0M1101.8 828h0M1092.7 848h0M1114.6 821.7h0M1102 831.9h0M1132.8 831.9h0M1093.7 844h0M1091.2 840.9h0M1138.8 830.8h0M1088.9 827.8h0M1100.6 852.3h0M1131.7 827.6h0M1101.8 832.3h0M1102 851.7h0M1099.1 861.8h0M1138.7 834.2h0M1105.5 833.6h0M1094.5 822.8h0M1085.9 840.3h0M1130.8 857h0M1130.6 825.5h0M1126.4 855h0M1141.6 825h0M1140.6 853.8h0M1113 859.3h0M1108.6 826.1h0M1099.4 824.6h0M1122.1 821.4h0M1120 854h0M1088.7 846.5h0M1106.3 815.4h0M1101.1 819.3h0M1111.9 835.7h0M1094.5 853.4h0M1104.4 840.8h0M1127.4 834.5h0M1116.6 846.8h0M1087.6 842.4h0M1141.2 848.4h0M1126.6 859.9h0M1108.4 857h0M1126 855.6h0M1114.1 865.7h0M1129.4 814.7h0M1097.4 854.1h0M1102.2 853.1h0M1126.1 839.4h0M1130 816.5h0M1113.1 813.9h0M1134.7 817.2h0M1140.2 838.3h0M1129 844.6h0M1131.8 847.2h0M1119.7 865.3h0M1143 833.8h0M1122.5 843.4h0M1111.5 816.2h0M1125.9 829.6h0M1130.9 831.7h0M1118.3 843.3h0M1113.6 836.1h0M1118.6 844.7h0M1093.2 852.1h0M1116 828.4h0M1113.8 842.5h0M1094.3 822.3h0M1095.1 824h0M1141.6 846h0M1136.1 826.2h0M1100.7 829.6h0M1132.1 849.5h0M1092.1 834.2h0M1106.1 848.1h0M1116.4 849.5h0M1141.4 846.1h0M1090 844h0M1105.8 838.6h0M1110.6 853.8h0M1111.4 864.1h0M1101.6 811.8h0M1134.3 825.2h0M1098.1 819.9h0M1127.2 838.2h0M1101 858.8h0M1110.4 826.8h0M1090.6 828.6h0M1138.3 838.5h0M1127.8 846.5h0M1134.2 812.4h0M1100.3 827.8h0M1113.6 845.6h0M1124.8 843.9h0M1113.2 858.7h0M1120.3 856.3h0M1106.7 825.6h0M1135.7 823.2h0M1106.7 856h0M1088.4 847.1h0M1097.2 829.1h0M1113.4 856.4h0M1135.1 833h0M1140.8 848h0M1130.9 830.9h0M1132.1 839.6h0M1144.4 828.5h0M1137.9 827.3h0M1145.1 846.5h0M1144.4 830.2h0M1096.9 850.8h0M1099.1 852.7h0M1124.9 860.3h0M1104.3 850.7h0M1099.5 825h0M1090.7 844.2h0M1123.8 808.8h0M1114.6 853.3h0M1127.7 862.8h0M1093 818.8h0M1091.4 848.2h0M1134 861.6h0M1126.9 842.8h0M1128.9 810.7h0M1121.6 811.5h0M1092.2 834.7h0M1121.6 850.9h0M1133.3 858h0M1121.6 827.9h0M1091.3 848.1h0M1125.8 843.4h0M1110.5 839.6h0M1113.3 814.1h0M1103.9 856h0M1143.9 824.5h0M1098 842.8h0M1104 824.4h0M1107 826.5h0M1124.7 848.3h0M1098 823h0M1136.8 859.7h0M1111.9 808.2h0M1144 842.9h0M1113.3 832h0M1126.6 864.9h0M1100.7 857h0M1141.7 838.7h0M1088.6 844h0M1117.6 838.6h0M1113.8 811.2h0M1135 855.1h0M1096.9 833.7h0M1095 834.5h0M1141.8 850.8h0M1111.8 864.4h0M1113 843.6h0M1100.5 850.4h0" stroke="#1a1a1a" stroke-opacity="0.5" stroke-width="1.5" stroke-linecap="round" fill="none"/><path d="M1135.1 842h0M1143 837.9h0M1090.5 847.4h0M1109 817.6h0M1114.6 814.5h0M1118.9 852.6h0M1123.9 821.5h0M1141.9 839.1h0M1094.5 856.4h0M1144.1 846.6h0M1133.6 841.7h0M1095.5 820.9h0" stroke="#101010" stroke-opacity="0.6" stroke-width="2.6" stroke-linecap="round" fill="none"/><path d="M1195.7 776.4h0M1192.5 772.8h0M1193.6 766.9h0M1183.8 764.4h0M1194 731.2h0M1203.9 771.7h0M1205.8 777.3h0M1227.2 732.2h0M1224 765.3h0M1203.6 773.1h0M1222.3 731.5h0M1193.7 731.5h0M1202.6 747.8h0M1194.5 760.3h0M1231.9 745.6h0M1178 733.3h0M1233.7 745.4h0M1194.2 723.9h0M1197.4 728.6h0M1219.4 754.9h0M1202.9 746.8h0M1219.1 738.3h0M1218.5 766.5h0M1219.4 761.8h0M1218.3 752.4h0M1193 740.2h0M1204.7 719.8h0M1216.9 759.2h0M1211 721h0M1175.1 758.9h0M1225.8 735.1h0M1188.2 726.4h0M1198 724.5h0M1190.7 730.7h0M1195.6 752.6h0M1176.9 740.6h0M1207.4 734.2h0M1217.9 731h0M1230.3 759.8h0M1180.7 732.9h0M1180.7 766.8h0M1181.8 755.8h0M1176.2 753.3h0M1210.8 719.6h0M1203.2 756.6h0M1183.9 770.2h0M1198.1 763h0M1222.6 733.6h0M1212.8 746.6h0M1216.8 730.5h0M1196 732.9h0M1213.7 762.6h0M1229.1 764.9h0M1197.3 729.3h0M1195.3 761.3h0M1214.9 727.6h0M1215.8 751.2h0M1198.3 753.9h0M1219.2 723.8h0M1214.2 722.1h0M1231.7 745h0M1193.6 719.8h0M1178.7 736.6h0M1193.6 760h0M1199.5 751.1h0M1194.5 730.5h0M1221.9 738.4h0M1216.8 773.3h0M1209.1 747.2h0M1213.3 762.2h0M1231.1 758.8h0M1213.8 721.2h0M1210.9 777.1h0M1211.9 721.7h0M1202.7 721.7h0M1198.3 775.1h0M1191 735.1h0M1205.8 774.9h0M1202.6 777.2h0M1198.7 763h0M1220.4 748.6h0M1202.3 727.2h0M1175.1 747.5h0M1210.8 763.3h0M1206.7 736.8h0M1205.6 739.9h0M1195.7 752.9h0M1223.2 737.5h0M1184.3 735.3h0M1208.4 776.3h0M1186.6 767.7h0M1212.7 771.6h0M1213.9 724.2h0M1229.9 734.9h0M1199.8 763.6h0M1228.1 751.9h0M1210.6 740.7h0M1198.2 721.9h0M1213.3 742.6h0M1202.8 777.2h0M1198.5 765h0M1205.9 774.4h0M1197.4 769.8h0M1186.1 749.8h0M1189.5 730.1h0M1216.3 722.8h0M1211.5 765h0M1216.8 747.3h0M1177.7 740.5h0M1209.3 727h0M1181.7 748.9h0M1178.8 752.5h0M1213.6 744.4h0M1212.1 722.6h0M1216.1 744.3h0M1225.9 732.9h0M1208 742.3h0M1189.2 727.6h0M1214 760.5h0M1189.6 754.3h0M1202.2 743.5h0M1193.7 763.1h0M1223.4 761.9h0M1182.3 746.7h0M1204.4 759.2h0M1213.3 736.5h0M1178.1 753.1h0M1213 730.6h0M1175.8 735.6h0M1207.6 719h0M1192.6 727.3h0M1211.7 774.7h0M1212.1 727.5h0M1201.4 765.5h0M1221.3 738.5h0M1188.8 767.6h0M1198.9 765.4h0M1231.9 739.7h0M1222.2 729.6h0M1198.7 730.7h0M1184.9 749.9h0M1203 778.6h0M1218.8 723h0M1187.5 736.2h0M1220.9 749.3h0M1217.8 765.9h0M1190.2 726.3h0M1194.1 730.9h0M1223.2 771.7h0M1188.5 741.5h0M1193.3 773.6h0M1186.8 738.3h0M1174.4 750.8h0M1178.4 733h0M1203.2 724.7h0M1198.6 753.2h0M1197 760.9h0M1183.9 741.7h0M1230.6 756.1h0M1195 735.2h0M1204.2 735.7h0M1189.6 726.7h0M1208.8 729.5h0M1191.5 736.5h0M1215.3 773.5h0M1221.9 725h0M1201.5 773.6h0M1224.4 753h0M1189.9 770.1h0M1185.6 767.7h0M1199.3 751.7h0M1219.5 732.6h0M1220.3 761.7h0M1217 723h0M1207.3 761.9h0M1231.1 756.3h0M1207.7 723.3h0M1204.9 764.3h0M1197.4 740.4h0M1204.9 767.8h0M1220.5 733h0M1229 763.6h0M1181.5 766.7h0M1204.4 720.7h0M1201 760.5h0M1181.4 748.5h0M1204.8 774.5h0M1188.6 743.1h0M1211 773.9h0M1176.3 749h0M1197.1 741.1h0M1204.2 733.7h0M1202.2 751.6h0M1188.4 743h0M1212.3 768h0M1209.1 741.1h0M1204.2 732.2h0M1224.8 743.2h0M1193.9 729.3h0M1188.3 766.3h0M1182.5 745h0M1188.3 767.1h0M1224.9 740.5h0M1230.8 752.6h0M1190.4 732.5h0M1196.7 745.1h0M1220 750.9h0M1185 730.3h0M1215.9 759.2h0M1205 775.1h0M1209.6 737.7h0M1215.4 757.4h0M1215.5 775.1h0M1214.7 737.8h0M1188.8 726.9h0M1209.5 727.1h0M1207.3 748.1h0M1201.5 732.2h0M1222.6 730.6h0M1227.4 751.4h0M1230.6 756.4h0M1214 739.3h0M1211.2 753.8h0M1217.6 772.5h0M1180.3 751.2h0M1208.6 769.5h0M1209.4 745.7h0M1183.5 756.3h0M1181.1 734.2h0M1208.2 742.5h0M1181.8 765.4h0M1188 773.3h0M1229.6 759.9h0M1205.5 749.5h0M1181.3 756.4h0M1192.4 731.9h0M1200.6 761.7h0M1173.2 746.6h0M1182.8 754.7h0M1197.6 753.5h0M1199.2 778.4h0M1217.3 723.5h0M1230.7 744.7h0M1219.3 756.2h0M1219.4 743.9h0M1199.5 740.4h0M1194 735.3h0M1200.2 734.3h0M1226.9 735.2h0M1200.4 766.2h0M1205 773.5h0M1177.4 763.6h0M1175.7 756.7h0M1220 729.6h0M1195.8 767h0M1220.4 744.9h0M1226.6 737h0M1176.9 761h0M1185.8 745.8h0M1231.4 735.9h0M1214.1 734.4h0M1206.8 768.9h0M1203.1 731.8h0M1198.8 768h0M1192.2 761.8h0M1188.1 750.8h0M1222.2 729.7h0M1207.5 765.8h0M1212 747.9h0M1198.4 771.3h0M1207.6 726.6h0M1192.9 722.4h0M1190 757.2h0M1197.8 737.7h0M1197 753h0M1194.1 770.2h0M1231.9 759.8h0M1177.1 762h0M1221 730h0M1188.9 753.1h0M1203 718.2h0M1224.6 763h0M1176.8 748.5h0M1198.7 723.9h0M1227.6 730.1h0M1202.2 731.6h0M1219.5 722.6h0M1197 745.3h0M1217.2 770.8h0M1183.2 768h0M1210.2 774.8h0M1226.8 767.1h0M1227.1 764.8h0M1213.9 728.1h0M1215.8 771.5h0M1192 726.8h0M1200.1 770.9h0M1200.4 729.2h0M1218.4 739h0M1180.6 753.6h0M1221 761h0M1219 774.2h0M1200.2 757.2h0M1198.3 774.1h0M1201 772.6h0M1183.9 755.7h0M1197.7 725h0M1216.6 772.4h0M1200.8 737.8h0M1196.3 742.3h0M1199.1 764.4h0M1215.7 745.2h0M1226.7 728.4h0M1188.3 771h0M1196.8 738.9h0M1206.8 730.6h0M1221.8 732.1h0" stroke="#1a1a1a" stroke-opacity="0.5" stroke-width="1.5" stroke-linecap="round" fill="none"/><path d="M1191.7 767.7h0M1217.5 739.4h0M1232.3 743.2h0M1182 755.1h0M1185.7 762.2h0M1180.7 764.8h0M1225.1 736.6h0M1213.4 719.6h0M1219.5 771.6h0M1185.3 740.7h0M1198.2 751.9h0M1194.2 755.6h0M1188.7 721.7h0M1232.8 748.7h0M1210.7 721.2h0M1205.8 726.1h0" stroke="#101010" stroke-opacity="0.6" stroke-width="2.6" stroke-linecap="round" fill="none"/><path d="M1195.7 843.5h0M1215.1 865.6h0M1212 860.8h0M1178.9 820.6h0M1206.8 831.2h0M1188.4 848h0M1189.9 862h0M1198.8 861.1h0M1219.6 862h0M1232.4 843.2h0M1180.2 829.9h0M1209.3 835.9h0M1175.9 837h0M1211.9 845.3h0M1175.5 827.8h0M1226.6 821.2h0M1211.2 838.8h0M1207.4 812.6h0M1204.6 821.5h0M1224.5 832.8h0M1206.4 843.3h0M1182.8 852.4h0M1225.4 842.5h0M1188.3 820.6h0M1213.1 814.4h0M1185.2 847.4h0M1179 825h0M1220.3 856.6h0M1220.6 856.3h0M1192.2 866.3h0M1216.2 818.8h0M1226.1 851.6h0M1217.6 853.3h0M1188.4 814.8h0M1197.3 861h0M1210 866.9h0M1196.4 813.7h0M1188 838.3h0M1190.1 833.4h0M1184.2 822.6h0M1178.8 845.8h0M1175.9 849.3h0M1181.5 850.7h0M1211.1 866h0M1217 863.2h0M1227.8 829.8h0M1225.6 840.3h0M1202.3 814.3h0M1174.8 838.6h0M1210.3 867.3h0M1212.2 828.6h0M1175.3 835.1h0M1213.3 829.5h0M1217.2 813.2h0M1199 815.1h0M1196.5 851.4h0M1185.1 855.4h0M1203.2 868.4h0M1209.7 865.1h0M1233 835.8h0M1193 812.9h0M1214.1 857.1h0M1209.9 822.4h0M1222.3 819.5h0M1197.7 815.6h0M1193.7 813.9h0M1219.9 844.2h0M1180.7 834.7h0M1216.9 811.1h0M1186.3 814.8h0M1207.9 847.8h0M1205.9 855.7h0M1215.3 810.6h0M1225.4 852h0M1201.7 813.4h0M1195.1 809.4h0M1217.9 821h0M1172.8 834.9h0M1178.9 852.3h0M1211.9 812.6h0M1214 834.7h0M1209.7 861.9h0M1206.4 853.5h0M1207.1 813.7h0M1178.9 829.1h0M1202.1 812.1h0M1188.5 838.7h0M1213.1 846.4h0M1194.9 859.7h0M1222.7 816.1h0M1187.5 812.1h0M1217.6 811.6h0M1215 822.5h0M1197.1 854.2h0M1185 817.9h0M1216.9 820.5h0M1205.1 821.9h0M1204 809.5h0M1208.5 833.3h0M1210 825.4h0M1196.4 862.2h0M1193.1 830.5h0M1212 809.3h0M1187.4 851.2h0M1188 817.7h0M1194.1 864.2h0M1225.5 821.7h0M1212.8 849.6h0M1216.3 812.8h0M1224.2 830h0M1222.2 861.3h0M1180.6 838.2h0M1180.5 834.9h0M1184.3 854.1h0M1177.8 846.1h0M1178.7 854.8h0M1202.8 867h0M1201.3 854.1h0M1212.7 841.5h0M1228.8 851.3h0M1233.3 842h0M1226.8 819.7h0M1194.7 839.1h0M1192.8 834.6h0M1212 842.3h0M1204.8 814.3h0M1205.1 819.3h0M1214.6 844.6h0M1224.7 844.8h0M1175.3 832.1h0M1180.4 823.7h0M1211.1 859.9h0M1225.6 859.2h0M1180.7 858.8h0M1179 824.7h0M1218.9 844.2h0M1200.7 856.7h0M1221 816.1h0M1212.6 862.4h0M1215 863h0M1190.9 835h0M1201.3 866.4h0M1186.2 839.4h0M1191.7 842.4h0M1189.4 860.2h0M1180 848h0M1205.2 808.1h0M1229 852.5h0M1233.4 840.2h0M1183.4 859.3h0M1185.2 822.7h0M1201.6 862.2h0M1194.1 825.7h0M1206.4 838.1h0M1219.5 845h0M1185.7 832.5h0M1176.8 823.4h0M1192.3 847.6h0M1229.1 822.8h0M1209 829.4h0M1180.3 857.8h0M1200.9 854.4h0M1207.1 834.8h0M1184.3 851h0M1195.5 862.5h0M1175.7 851.2h0M1220.4 856.9h0M1202.4 834.6h0M1176.9 837.6h0M1210.8 826.1h0M1195.5 820.4h0M1192.8 824h0" stroke="#1a1a1a" stroke-opacity="0.5" stroke-width="1.5" stroke-linecap="round" fill="none"/><path d="M1184.3 819.2h0M1175.1 837.3h0M1192.2 829.2h0M1195.3 865.8h0M1229.2 822.3h0M1192.3 865.9h0M1174.5 832.1h0M1222.2 854.9h0M1196.2 836.8h0M1209.3 864.1h0M1218.2 816.5h0M1217.5 818.4h0M1228.4 835h0" stroke="#101010" stroke-opacity="0.6" stroke-width="2.6" stroke-linecap="round" fill="none"/><path d="M1310.7 726.5h0M1287.4 725.7h0M1292.2 738h0M1277.1 764.1h0M1272.9 766.6h0M1283.4 721.5h0M1299.1 761.4h0M1271.2 764.9h0M1280 724.3h0M1301.7 776.2h0M1294.4 755.3h0M1268.8 768.9h0M1274.9 739.3h0M1295.2 721.3h0M1283.6 757.7h0M1290.3 765.9h0M1316.6 736h0M1296 745.7h0M1310.7 758.4h0M1266.8 742h0M1302.2 741.3h0M1314.4 755.4h0M1267.8 729.9h0M1292.7 735.2h0M1285.2 743.3h0M1309.5 733.9h0M1289.9 745.5h0M1297.2 761.7h0M1300.5 723.1h0M1281.1 748.2h0M1290 774h0M1313.5 734.6h0M1272.7 739.2h0M1287.8 767h0M1291.3 744.1h0M1297.7 756h0M1298.4 730.6h0M1313.7 743.6h0M1283.9 750.4h0M1296.1 755.9h0M1312.6 760.8h0M1273.5 727.2h0M1277.7 742.5h0M1295.9 775.8h0M1309.1 762.1h0M1289.3 728h0M1312.5 750.8h0M1308.6 772.1h0M1269.4 762.8h0M1289.4 765.8h0M1315.2 745.3h0M1289.2 739.6h0M1287.8 733.5h0M1298.7 721.7h0M1307.4 754.8h0M1296.7 742h0M1311.2 767.7h0M1286.6 745.5h0M1291.2 757.7h0M1316.1 737.4h0M1285.7 754.8h0M1285.9 742.8h0M1313.3 760.3h0M1316.7 763.9h0M1303.8 750.1h0M1306.5 722.4h0M1318.3 745.6h0M1297.1 754.7h0M1271.9 770.6h0M1279.6 763h0M1280.3 745.7h0M1291.7 759.6h0M1287.9 750h0M1274.2 765.1h0M1277.1 758.3h0M1268.7 760.8h0M1296.1 766h0M1269 753.6h0M1264.8 756.7h0M1301.3 740.2h0M1304.3 741.7h0M1265 736.1h0M1283 756.4h0M1303.4 726.2h0M1274.9 756.8h0M1292.7 779.4h0M1278 722.2h0M1316.3 757.3h0M1265.2 748.9h0M1304.2 724.2h0M1280 776.7h0M1281.4 773h0M1264.3 759.5h0M1294.2 759.3h0M1294 776.2h0M1279.2 764.8h0M1299.9 723.9h0M1314.6 766.5h0M1307.6 770.4h0M1304.6 725.3h0M1308.6 728.5h0M1273.9 749.3h0M1265.5 753.6h0M1263.8 748.8h0M1263.5 749.1h0M1314.1 767h0M1274.9 759h0M1311.2 742h0M1305 768.7h0M1262.7 760.7h0M1277.3 773.7h0M1273.2 754h0M1315.7 763.3h0M1279.6 775.1h0M1310.1 729.4h0M1289.1 721.5h0M1315.9 753h0M1297 764h0M1284.3 720.5h0M1303.8 768.5h0M1279.6 760.6h0M1303.9 743.5h0M1314.7 752.6h0M1287.8 767.4h0M1303.3 731.9h0M1299.9 744.1h0M1301.7 775.4h0M1301.6 776.2h0M1299.2 732h0M1301.9 775.2h0M1303.3 757.7h0M1285.8 743.3h0M1308.5 764.9h0M1299.9 748.1h0M1318.3 753.6h0M1279 758.7h0M1300.1 765.1h0M1295.5 742.1h0M1294.5 723.8h0M1281.7 766h0M1264.4 737.9h0M1271.7 755.8h0M1319.7 745.7h0M1297.5 778h0M1295.7 769.2h0M1263.6 736.1h0M1288.9 762.8h0M1295.6 723.4h0M1304 727.3h0M1289.3 721.3h0M1268 736.2h0M1302.4 758.5h0M1287.2 748.8h0M1318.7 736.3h0M1302.8 723.1h0M1312.1 755.6h0M1307.2 753.4h0M1270.5 769.1h0M1279.4 776.2h0M1272.5 766.6h0M1319.8 748.5h0M1275.6 756.5h0M1287.7 776.8h0M1310.8 762.4h0M1309 727.8h0M1291.5 724.4h0M1297.1 747.5h0M1286.3 727.4h0M1269.2 769.2h0M1280.3 722.9h0M1305.3 770.2h0M1306.3 773.2h0M1301.3 773.9h0M1273.3 726.2h0M1287 736.6h0M1260.4 749.3h0M1300.4 771.8h0M1294.1 747h0M1283.1 735.4h0M1313 765h0M1309.4 756.5h0M1312 763h0M1291.1 764.8h0M1294.3 762h0M1268.3 737.7h0M1278 772.4h0M1282.9 738.2h0M1288.7 765.6h0M1276.3 758.2h0M1305.8 769.8h0M1298 737.9h0M1271.3 752.9h0M1309.4 766.8h0M1270.8 761.7h0M1300.2 742.7h0M1315.2 745.5h0M1309.2 735.6h0M1269.5 766.5h0M1285.7 756.8h0M1280.5 756.9h0M1308.4 772.3h0M1319.3 755.4h0M1266.5 744.2h0M1260.5 749.4h0M1296.6 735.6h0M1264.1 735.6h0M1287.7 724.6h0M1264.7 741.4h0M1289.8 759h0M1293.2 763.7h0M1280 751.1h0M1269.9 750.2h0M1278.3 726.2h0M1268.3 738.7h0M1285.4 753.4h0M1273.7 761.6h0M1293.7 720.5h0M1284.4 751.7h0M1286.3 755.1h0M1308.3 723.8h0M1266.6 745.1h0M1266.4 762.7h0M1280.4 774.8h0M1318.9 747.5h0M1314.6 755.8h0M1268.2 741.6h0M1266.2 749.6h0M1292.8 753.7h0M1266.3 747.6h0M1268 746.9h0M1288.2 751.1h0M1274.2 728.6h0M1272.6 759.2h0M1299.9 752.7h0M1303.9 725.2h0M1295.5 721.8h0M1278.7 750.6h0M1268.7 732.5h0M1278.9 765.4h0M1301.1 760.3h0M1310.5 746.3h0M1263.1 749.8h0M1310.8 763.8h0M1305.4 749.6h0M1296.8 768.9h0M1276.7 774.6h0" stroke="#1a1a1a" stroke-opacity="0.5" stroke-width="1.5" stroke-linecap="round" fill="none"/><path d="M1313.1 737.2h0M1316.2 755.9h0M1284.5 733.9h0M1309.7 736.9h0M1297.1 742.1h0M1303.2 727.6h0M1311.9 736.8h0M1299.6 727.5h0M1313.7 760.6h0M1310.2 737.8h0M1294.9 761.4h0M1273.7 728.3h0M1305.2 776h0" stroke="#101010" stroke-opacity="0.6" stroke-width="2.6" stroke-linecap="round" fill="none"/><path d="M1284.5 864h0M1303.9 821.5h0M1314.6 841.3h0M1267.3 821h0M1262.9 829.7h0M1305.6 847.8h0M1308.1 856.4h0M1275 861.3h0M1297 837.9h0M1284.1 819.6h0M1317.5 846.7h0M1316.6 843h0M1277.9 815.3h0M1270.9 841.3h0M1308.7 822.2h0M1282.7 829.3h0M1309.7 828.5h0M1304.8 830.7h0M1309.6 827.5h0M1314.8 854.9h0M1280.2 837.7h0M1285.3 851.5h0M1277.1 811.4h0M1290.8 811.9h0M1272.5 820.7h0M1290.6 813h0M1281.3 835.3h0M1290.9 866.9h0M1306.2 860.7h0M1297.4 807.2h0M1293 829h0M1285.3 837.3h0M1299.1 822.4h0M1295.2 839.6h0M1286.2 860h0M1284.3 838.1h0M1268.4 831.9h0M1302.3 811.2h0M1276.1 833.2h0M1277.2 850.4h0M1320.7 834.6h0M1290.1 829h0M1308.7 842.7h0M1308.4 857.9h0M1313.9 835.4h0M1284.8 822.8h0M1271 858.9h0M1282.9 847.6h0M1306.9 860h0M1299.5 836.3h0M1315 851.9h0M1277.4 848h0M1287 862.9h0M1269.5 848.3h0M1266.3 838.9h0M1309 839.3h0M1295.9 832.4h0M1285.9 860.5h0M1316.2 839.3h0M1279.2 810.3h0M1277.3 817.6h0M1279.6 833.8h0M1310.3 858.7h0M1314.6 851.3h0M1305.4 862.7h0M1296.7 833h0M1292.8 867.1h0M1295.3 853.8h0M1292.4 854.8h0M1320.5 841.9h0M1276.2 816h0M1315.5 849.4h0M1305.1 857.6h0M1262.9 834.1h0M1294.4 822.6h0M1289.7 811.5h0M1300.6 835.8h0M1289.2 843h0M1305.5 853.3h0M1283.3 807.7h0M1283 826.1h0M1268.7 826.2h0M1293.1 832.1h0M1287.1 832.7h0M1300.6 835.3h0M1266 827.4h0M1312 834.9h0M1268.4 856h0M1312.5 815.9h0M1287.2 827.3h0M1270.6 829.4h0M1278.3 821.6h0M1282.2 839.2h0M1287.4 862.5h0M1306.2 842.2h0M1309.2 812.1h0M1296.8 811.3h0M1317.6 850h0M1316.2 853.1h0M1286.1 855.7h0M1311.6 834.6h0M1291.2 826.8h0M1282.2 808.5h0M1285.4 820.8h0M1306.1 860.3h0M1279 853.1h0M1313.2 816.3h0M1319.7 828.7h0M1275.3 861.1h0M1313.5 826.3h0M1303.8 820.3h0M1310.1 830.2h0M1284.4 833.1h0M1276.6 818.3h0M1313.2 825.3h0M1285.9 839.9h0M1286.1 841.4h0M1301.9 824.6h0M1290.8 812h0M1316.1 837.1h0M1268.9 842.5h0M1279.4 836.7h0" stroke="#1a1a1a" stroke-opacity="0.5" stroke-width="1.5" stroke-linecap="round" fill="none"/><path d="M1263.8 830h0M1280.2 856.1h0M1287.6 822.3h0M1273.8 826.7h0M1321.2 842.4h0M1290.3 832.9h0M1278.2 859.1h0" stroke="#101010" stroke-opacity="0.6" stroke-width="2.6" stroke-linecap="round" fill="none"/><path d="M1360 731.9h0M1401.5 732.3h0M1379 766.3h0M1399.5 723.5h0M1375.8 721.8h0M1399.9 736.7h0M1374.9 745.7h0M1356.9 766.5h0M1382 752.2h0M1374.8 751.6h0M1398 766.7h0M1384.7 720.2h0M1367.2 769.5h0M1386 742h0M1400.6 765.8h0M1382.4 722.7h0M1406.5 742.1h0M1402 768.5h0M1386.9 762.2h0M1404.5 742.8h0M1403.1 760.4h0M1407.5 758h0M1390.9 728.8h0M1360.7 759.5h0M1387.2 725.6h0M1387 752.2h0M1385.8 738h0M1361.4 733.9h0M1386.8 718.7h0M1406.1 734.2h0M1372 722.3h0M1361.2 734.7h0M1365 757h0M1388.6 721.5h0M1377.6 723h0M1388.2 725.6h0M1378.5 741.1h0M1369.8 742.9h0M1391.9 752.6h0M1404.1 738.3h0M1400.8 746.9h0M1394.6 750.5h0M1384 731.8h0M1354.6 756.4h0M1353.1 752.1h0M1380.8 763.7h0M1377.7 717.7h0M1405.6 756h0M1375.3 775.8h0M1379.5 760.2h0M1400.8 770h0M1385.8 765.2h0M1376.6 742.3h0M1353 756.5h0M1371.2 733.2h0M1398.5 725.6h0M1367.6 721.4h0M1378 760.8h0M1394.5 726.8h0M1385.3 738.5h0M1369.4 725.3h0M1373.4 737.3h0M1403.7 764.2h0M1357.2 761.6h0M1397.9 750.7h0M1367 737.8h0M1396.4 737h0M1397.6 770.8h0M1381.7 730.6h0M1355.8 752.9h0M1391.8 725.9h0M1393.3 756.6h0M1402.5 767h0M1387.6 738.1h0M1369.6 736.6h0M1373.4 762.8h0M1408.3 746.2h0M1361.1 750.1h0M1358.2 766.5h0M1353.4 747.1h0M1374.1 756.1h0M1358.6 766h0M1402.3 766.1h0M1372.1 718.3h0M1389.3 771.5h0M1383.6 729.5h0M1393.5 763.1h0M1386.3 753.2h0M1386 771.2h0M1371.7 743.5h0M1372.5 768.3h0M1398.7 729.4h0M1363.8 752.6h0M1371.7 775.6h0M1395.1 722.7h0M1407.8 760.4h0M1387.6 731.6h0M1406.9 747h0M1384.3 735.9h0M1403.4 761.8h0M1391.5 741.6h0M1366 753.3h0M1389.3 732.4h0M1374.2 736.4h0M1381.7 767.4h0M1366.4 738.3h0M1379.8 748.7h0M1366.6 772.2h0M1398.1 723.3h0M1356.7 737.7h0M1354.9 732.8h0M1395.8 722.6h0M1357.4 759.5h0M1394.2 724.6h0M1368.3 771.2h0M1361.1 767.6h0M1378.2 774.9h0M1379.7 732.5h0M1380.3 777.5h0M1367 749.4h0M1408.4 759.9h0M1365.8 721.9h0M1391.7 753.8h0M1387.2 768h0M1374.2 769.2h0M1391.6 758.7h0M1396.1 764.7h0M1383.4 754.4h0M1370.4 753.4h0M1357.9 754.4h0M1367 753.5h0M1370.6 722.1h0M1358.2 766.7h0M1382.7 774.3h0M1404.6 745.3h0M1405.2 754.2h0M1381.2 748.2h0M1370.1 724.4h0M1383.7 725.5h0M1354.2 737.2h0M1380.2 766.1h0M1398.2 746.7h0M1395.5 747.5h0M1359.6 758.7h0M1352.4 746.9h0M1389.1 767.7h0M1376.6 717.5h0M1407.6 745.2h0M1383 753.4h0M1372.3 733.4h0M1351 741.3h0M1371.3 747.2h0M1390.1 767h0M1388.3 774.2h0M1381.7 775.5h0M1359.7 728.8h0M1380.7 766.2h0M1399.6 738.9h0M1402.4 765.1h0M1368.2 737.6h0M1380 767.6h0M1406.3 763.8h0M1353.9 737h0M1396.4 725.4h0M1380.8 739.4h0M1379.7 752.2h0M1380.1 748.9h0M1409.4 756.8h0M1401.7 740.3h0M1367.2 772h0M1397.7 728.6h0M1373.4 758.5h0M1363.8 723.7h0M1405.2 758.2h0M1371.4 764.4h0M1395 748.5h0M1384.3 773.6h0M1383.5 750h0M1376.3 747.7h0M1376.5 774.3h0M1368.9 738.6h0M1351.5 746.4h0M1371.1 726.7h0M1350.5 744.6h0M1366.6 729.2h0M1389.9 722.1h0M1385.4 753h0M1391 770.3h0M1369.9 734.3h0M1374.3 738.7h0M1358.7 730.9h0M1373.5 718.9h0M1400.5 763.4h0M1393 757.2h0M1377.6 752.1h0M1409.3 749.7h0M1366.6 769.8h0M1388.1 773h0M1376.6 776.6h0M1351.6 756h0M1405.1 740.7h0M1392.5 735.6h0M1371.2 721.8h0M1375 758.4h0M1380.2 755.7h0M1389.3 725.9h0M1385.5 765.2h0M1390.8 746.5h0M1372.2 730.7h0M1375.6 767.7h0M1378.2 726.2h0M1396.2 745.4h0M1369.9 752.1h0M1379 756.1h0M1398.6 729.2h0M1382.6 771.8h0M1407.8 745.1h0M1371.3 729.6h0M1357 736.9h0M1352.2 740.5h0M1382.7 766.3h0M1381.6 735.9h0M1407.7 752.9h0M1388 719.8h0M1389.8 767.5h0M1369.1 766.9h0" stroke="#1a1a1a" stroke-opacity="0.5" stroke-width="1.5" stroke-linecap="round" fill="none"/><path d="M1355 736.5h0M1373.5 743.3h0M1400.4 766.7h0M1366.4 755.8h0M1353.1 760.1h0M1370 771.4h0M1370.9 755.5h0M1372.2 770.8h0M1356.8 760.3h0M1372.6 751.6h0M1398.4 764.7h0M1398.1 742.1h0M1388.4 771.5h0M1394.2 746.9h0" stroke="#101010" stroke-opacity="0.6" stroke-width="2.6" stroke-linecap="round" fill="none"/><path d="M1375.1 832.8h0M1367.8 840.7h0M1403.6 825.1h0M1374.4 831h0M1399.8 833.9h0M1405.2 824.4h0M1388.6 836.9h0M1397.4 835h0M1376.6 811.1h0M1383.7 866.2h0M1387.5 853.2h0M1380.5 855.6h0M1352.6 845.8h0M1403.3 821.4h0M1356.9 826.6h0M1403.3 848.9h0M1386.1 861.5h0M1361.1 860.8h0M1389.3 810.7h0M1406.6 849.4h0M1366.8 840.8h0M1380.4 845.5h0M1391.8 833.3h0M1401 832.1h0M1403.8 827.6h0M1373.6 832.3h0M1354.9 819.3h0M1374.3 811.5h0M1373.2 866.2h0M1377.4 849.7h0M1396.7 840.6h0M1390.2 813.4h0M1366.4 839.7h0M1395.9 848.7h0M1386.6 833.6h0M1372.9 808.8h0M1404.2 838h0M1390.4 824.9h0M1375.4 813.3h0M1360.5 838.6h0M1401.9 822.7h0" stroke="#1a1a1a" stroke-opacity="0.5" stroke-width="1.5" stroke-linecap="round" fill="none"/><path d="M1392.3 843.3h0M1377 848.5h0M1390.7 854.6h0" stroke="#101010" stroke-opacity="0.6" stroke-width="2.6" stroke-linecap="round" fill="none"/><path d="M1469.3 751.3h0M1474.1 764.3h0M1479.9 756.1h0M1462.9 764.9h0M1464 755.1h0M1470.4 720.6h0M1485 754h0M1446.2 754h0M1478.2 764.5h0M1452.2 773.1h0M1473.2 731.3h0M1464.1 749.3h0M1494.8 748.6h0M1452.8 751.1h0M1452.3 730.3h0M1474.2 727.1h0M1446.8 761.5h0M1456.8 723.1h0M1476.1 749.3h0M1472 721.3h0M1445.6 733h0M1457.4 738.6h0M1484.6 753.7h0M1439 739h0M1461 762.7h0M1457.5 738.2h0M1436.7 750.1h0M1475.9 728.2h0M1459 736.7h0M1488.8 763.3h0M1439.9 735.9h0M1440.8 762.7h0M1473 759.4h0M1485.7 741h0M1445 732.2h0M1486.5 769.1h0M1490.2 734.4h0M1469.1 766.9h0M1481.6 752.3h0M1460.5 728h0M1456.8 722h0M1483.6 771h0M1456 740.6h0M1440.7 746h0M1471.4 739.9h0M1489 745.2h0M1484.9 753h0M1439.9 737.4h0M1484 725.1h0M1453.9 771.7h0M1451.2 756.6h0M1453.8 776.1h0M1460.3 723.6h0M1466.1 736.3h0M1484.9 764.4h0M1460.1 729.4h0M1465.4 740.6h0M1462.1 718.2h0M1445.9 761.5h0M1459.9 727.2h0M1493.7 756.4h0M1478.7 740.3h0M1453 751.1h0M1477.5 757.6h0M1485.2 742.9h0M1482.5 773.4h0M1455.2 732.6h0M1475.8 771.1h0M1467.5 720.6h0M1459.7 778.2h0M1475.5 752.6h0M1459.7 738.3h0M1489.6 760.6h0M1477.2 742.9h0M1455.2 725.6h0M1486 757.3h0M1454.1 722.1h0M1439.4 753.4h0M1476.5 720.9h0M1473.7 744h0M1481.7 722.9h0M1470.6 757.7h0M1452.9 757.2h0M1488.4 759.8h0M1487 766.5h0M1437.7 750.8h0M1483 762h0M1491.6 755.3h0M1454.1 770.9h0M1458.7 749h0M1477.3 760.5h0M1488.5 741.7h0M1451.9 738.9h0M1446.3 730.2h0M1443 729.8h0M1458.6 741.1h0M1487.4 747.8h0M1476.7 776.9h0M1468.5 745h0M1486.4 766.8h0M1489.4 754h0M1457.6 776.4h0M1455.7 769.9h0M1456.7 773.5h0M1457.7 725.7h0M1449.5 773.1h0M1447.3 747.8h0M1458.6 725.5h0M1494.6 749.7h0M1455.3 719.7h0M1473.5 729.5h0M1487.4 766h0M1448.2 729.6h0M1440.8 759.8h0M1462.9 775.9h0M1442.5 732.5h0M1460 748.3h0M1482.2 744.2h0M1482.8 772.5h0M1494.5 737.6h0M1485.3 748.3h0M1472.4 748.3h0M1485.4 738.3h0M1459.4 749.2h0M1455.3 770.3h0M1473.3 762.7h0M1471.2 746.8h0M1490.3 749.5h0M1455.8 728.9h0M1453.7 735.7h0M1485 728.7h0M1478.1 722.4h0M1495 751.7h0M1478.8 725.1h0M1440.2 736.3h0M1450.4 774.2h0M1466.5 761.7h0M1471.7 724.1h0M1477.6 726.8h0M1436.4 755.1h0M1443.3 754.5h0M1486.7 762.6h0M1452.4 756.8h0M1438 758.4h0M1489.5 748.1h0M1478.3 722.7h0M1488.6 767h0M1491.8 740h0M1454.5 761.8h0M1485.6 758.1h0M1449 771.7h0M1479.9 773.8h0M1457.2 743.6h0M1472 777.7h0M1466.7 769.9h0M1468.8 772.2h0M1478.9 754.2h0M1491.5 756.5h0M1476.9 724h0M1460.1 774.8h0M1482.8 745.1h0M1458.7 762.3h0M1493.7 737.8h0M1460.1 778h0M1460.7 771.7h0M1459.8 736.9h0M1454.7 770.3h0M1472.1 721.4h0M1440.1 747h0M1470.6 721.1h0M1488.3 734.5h0M1458 772.7h0M1468.2 728.8h0M1472.3 755.2h0M1454.4 755.3h0M1448.8 727.5h0M1442.9 736.3h0M1456.3 739.3h0M1474 774.1h0M1487 747h0M1447.6 731.2h0M1470.2 735.1h0M1469.3 737.4h0M1463.8 742.5h0M1437 756.6h0M1467.3 752h0M1475.8 731.6h0M1443.7 735.3h0M1441.6 758.6h0M1446.6 736.9h0M1486.9 729.7h0M1463.2 767.2h0M1476.9 747h0M1441.7 736.9h0M1451.6 727.9h0M1494.7 741.6h0M1441.3 759h0M1489.9 740.3h0M1453.9 759.7h0M1485.2 759.8h0M1445.3 729h0M1474.5 770.4h0M1441.9 756.9h0M1462.1 751.6h0M1452.8 750.9h0M1461.1 769h0M1456.5 753.2h0M1448.3 738.6h0M1467.3 731.9h0M1469.8 742h0M1458.3 740.4h0M1491.7 753.5h0M1493.3 750.7h0M1463 771.4h0M1474.7 742.7h0M1465.8 743.2h0M1479.1 770.3h0M1444.1 769.4h0M1444.2 729.2h0M1449.2 723.3h0M1468.5 736.8h0M1441.7 735.3h0M1449.6 762.5h0M1485.1 771.1h0M1477.4 755.4h0M1473.2 767.2h0M1485.8 733.9h0M1458.9 757.1h0M1463 760.5h0M1481.4 764.5h0M1492.8 755.1h0M1436.2 749.1h0M1470.2 764.7h0M1481.8 758.3h0M1480.1 744.9h0M1463.7 764.8h0M1484.9 760.1h0M1443.2 759.1h0M1455.3 739.9h0M1441.2 761.7h0M1449.1 767.2h0M1495.2 745.8h0M1484 730.3h0M1453.8 770.7h0M1495.7 742.7h0M1472.1 744.6h0M1440.4 759.3h0M1470.1 736.7h0M1492 749.8h0M1447.5 767.7h0M1460.8 726.3h0M1474.3 726.5h0M1470.1 778.3h0M1443 744.4h0M1446.9 733.8h0M1459.4 736.6h0M1466.5 758.4h0" stroke="#1a1a1a" stroke-opacity="0.5" stroke-width="1.5" stroke-linecap="round" fill="none"/><path d="M1461.7 774.2h0M1452 728.5h0M1451 731.3h0M1463.5 774.2h0M1443.8 755.4h0M1438.7 746.3h0M1479.2 758.9h0M1453.4 752.4h0M1442.7 732.4h0M1464.3 731.7h0M1459.5 762.5h0M1467.9 771.1h0M1453.8 768h0M1462.8 744h0M1484.8 759.1h0M1443.2 728.1h0M1451.4 733.6h0M1458.6 763.2h0M1454.1 720.2h0M1455.3 754.4h0" stroke="#101010" stroke-opacity="0.6" stroke-width="2.6" stroke-linecap="round" fill="none"/><path d="M1448 850.2h0M1443.7 823.2h0M1464 807.9h0M1469.1 827.6h0M1445.7 824.8h0M1471.6 840.3h0M1465.5 836.7h0M1479.4 825.6h0M1465.8 816h0M1472.8 850.6h0M1472.6 830.8h0M1464.5 864.3h0M1443.7 854.6h0M1474.5 825.4h0M1478.4 814.6h0M1474.3 839.6h0M1456.5 839.5h0" stroke="#1a1a1a" stroke-opacity="0.5" stroke-width="1.5" stroke-linecap="round" fill="none"/><path d="M1488.1 853.3h0" stroke="#101010" stroke-opacity="0.6" stroke-width="2.6" stroke-linecap="round" fill="none"/><path d="M1585.7 749.8h0M1568.3 745h0M1536.8 733.1h0M1534 732.2h0M1570.2 732.5h0M1558.9 746.4h0M1577.5 768h0M1569.4 750.9h0M1528.1 757.8h0M1534.8 753h0M1554.4 781.2h0M1573.1 768.4h0M1586.9 758.6h0M1585.1 758.9h0M1537 744.4h0M1528.6 756.3h0M1584.6 763.4h0M1567.7 732.1h0M1570.9 755.7h0M1553.6 738.8h0M1585.8 742.2h0M1559.2 722.9h0M1542.5 770.8h0M1573.7 725.6h0M1568.8 735.4h0M1582.4 762.7h0M1562.7 754.5h0M1558.2 778.4h0M1549.4 731.5h0M1575.1 769.2h0M1568.6 736.3h0M1548.3 754.2h0M1562.8 758.1h0M1538.5 756.7h0M1569.4 725.8h0M1554.9 761.8h0M1554 741.3h0M1540.4 729.4h0M1545.5 727.1h0M1567.1 770.5h0M1569 749.3h0M1559.7 754h0M1564 731.9h0M1529.2 753.3h0M1583.2 766.6h0M1568.8 726.5h0M1557.4 747.7h0M1542.3 777.2h0M1570.5 756.2h0M1571 728.1h0M1564.8 761.9h0M1541.1 774.5h0M1557.1 742h0M1571.3 754h0M1565.6 749.7h0M1562.8 746.6h0M1581.1 761h0M1547 773.1h0M1586.4 757h0M1573.9 774.5h0M1540.5 770.1h0M1547.8 741.8h0M1560.3 755.4h0M1551 766.6h0M1542.9 776.7h0M1558.1 756.2h0M1545.4 765.3h0M1527.5 745.9h0M1543.9 726.5h0M1552.7 768.3h0M1565 746.9h0M1537.8 732.9h0M1578.6 738.3h0M1565.9 747.9h0M1581.2 736.9h0M1547.2 771.6h0M1585.2 739.5h0M1530.4 742.1h0M1587.2 751.2h0M1573 724.6h0M1574.9 754.4h0M1567.7 734.6h0M1554 724.8h0M1539.8 751.4h0M1534.8 740.9h0M1532.5 768.2h0M1540.1 759.5h0M1568.9 751.4h0M1560.4 774.9h0M1583.1 743h0M1560.8 736.6h0M1559.5 730.8h0M1584.4 737.4h0M1548.8 737.4h0M1543.6 774.7h0M1532.3 745.8h0M1545.6 725.2h0M1579.2 753.7h0M1570.4 728.6h0M1563.6 746.4h0M1539 731.7h0M1577.8 743.1h0M1575.6 768.2h0M1540.5 742.8h0M1559.3 768.6h0M1578.4 733.5h0M1548.6 762.9h0M1573.6 761.7h0M1573.1 755.3h0M1539.1 756h0M1586.7 741.7h0M1534.9 766.3h0M1542.4 728.3h0M1557.8 765.5h0M1537.6 762.1h0M1565.6 750.6h0M1562.1 757.6h0M1579.9 730.6h0M1566.1 732.7h0M1573.3 725.3h0M1533.7 732.2h0M1585.8 757.1h0M1561.5 773h0M1534.2 747.5h0M1544.4 774.1h0M1571.6 761h0M1577.6 769.1h0M1575.8 773.1h0M1558.1 742.5h0M1553.5 721.7h0M1537.7 746.4h0M1532.5 740h0M1572.8 732.3h0M1575.4 769.4h0M1557.1 752.4h0M1544.1 752.9h0M1550.3 730.9h0M1571.2 755.4h0M1553.8 762.1h0M1582.3 733.8h0M1585.4 741.2h0M1582.8 742.7h0M1570.1 745.4h0M1579.5 743.4h0M1549.7 775.7h0M1561.9 738.4h0M1554.8 747.4h0M1573.4 739.9h0M1563.2 730.6h0M1537.4 733.1h0M1585.9 742.1h0M1561.1 726h0M1578 769.8h0M1538.2 741.5h0M1560.5 724.9h0M1538.7 733.4h0M1577.4 769.4h0M1544.2 770.6h0M1541.3 760.7h0M1565.8 764.9h0M1556.9 778.2h0M1544.6 768.9h0M1559.8 778.2h0M1530.5 738.7h0M1561.3 728.1h0M1567.9 741.8h0M1571 747.8h0M1568.9 757.3h0M1532 748.6h0M1587 752.5h0M1546.6 776h0M1571.2 745.3h0M1569.1 757.9h0M1538.6 757h0M1578.5 744h0M1575.2 757.9h0M1563.4 773.7h0M1554.5 772h0M1550.5 744.3h0M1570 773.2h0M1580.1 737.3h0M1535.6 764.8h0M1563.4 726.3h0M1558.6 724.4h0M1541.5 742.2h0M1569.4 744.9h0M1562 767.1h0M1578.9 761.3h0M1581.7 751.9h0M1540 757.6h0M1551.3 721.7h0M1571.6 772.3h0M1557.6 768.5h0M1539.6 729.5h0M1531.5 743.7h0M1550.8 737.9h0M1567.3 731.5h0M1561.2 776.7h0M1560.4 724.6h0M1547.9 748.1h0M1574 731.6h0M1551 741.8h0M1573.7 762.9h0M1584.7 756.2h0M1558.7 770.8h0M1543 755.1h0M1583.9 756.6h0M1566.5 733.4h0M1554.3 771.1h0M1556.5 738.7h0M1555.7 734h0M1582.1 767.3h0M1540.2 749.4h0M1529.6 754.7h0M1565.1 723.2h0M1571.6 762.9h0M1544.7 751.7h0M1528.2 746.8h0M1537.4 750.4h0M1548.3 746.6h0M1550.1 769.9h0M1578.9 737.5h0M1564.2 723.3h0M1578.2 753.5h0M1550.5 722.2h0M1543 775.7h0M1551.6 753h0M1534.7 731.9h0M1571.6 775.5h0M1559.2 741.1h0M1551.7 753.5h0M1533.3 757.1h0M1544 775.8h0M1568 736.7h0M1550.6 759.6h0M1580.2 735.2h0M1551.6 777.2h0M1532.1 748.8h0M1566.7 724.2h0M1563.7 751.2h0M1535.4 756.8h0M1561.4 736.8h0M1565.5 755.1h0M1558.7 777.9h0M1545.8 731.4h0M1565 733.4h0M1544.8 740h0M1531.8 736.4h0" stroke="#1a1a1a" stroke-opacity="0.5" stroke-width="1.5" stroke-linecap="round" fill="none"/><path d="M1553.2 740.3h0M1564.2 772.6h0M1567.1 734.3h0M1578.1 765.1h0M1566.5 741.8h0M1565.7 774.2h0M1562.4 736.2h0M1559.9 742.7h0M1578.7 760.6h0M1554.5 773.6h0M1560.3 726.2h0" stroke="#101010" stroke-opacity="0.6" stroke-width="2.6" stroke-linecap="round" fill="none"/><path d="M1582.3 832.4h0M1539.3 836.3h0M1547 817h0M1577.3 837.8h0M1553.6 821.6h0M1577.8 818.7h0M1529.3 848.5h0M1537.9 834.8h0M1566 845.7h0M1582.1 835.8h0M1537.2 845.2h0" stroke="#1a1a1a" stroke-opacity="0.5" stroke-width="1.5" stroke-linecap="round" fill="none"/></g>
</g><g id="pg">
<text x="1076.5" y="943.6" font-size="27.6" textLength="270.1" lengthAdjust="spacingAndGlyphs">MDA-MB-231 NF2 null</text>
<text x="1058.5" y="987.6" font-size="27.6" text-anchor="end" textLength="56.0" lengthAdjust="spacingAndGlyphs">[µM]</text>
<text x="1120.3" y="987.6" font-size="27.6" text-anchor="middle" textLength="71.8" lengthAdjust="spacingAndGlyphs">0.016</text>
<text x="1214.6" y="987.6" font-size="27.6" text-anchor="middle" textLength="71.8" lengthAdjust="spacingAndGlyphs">0.049</text>
<text x="1294.4" y="987.6" font-size="27.6" text-anchor="middle" textLength="55.9" lengthAdjust="spacingAndGlyphs">0.15</text>
<text x="1387" y="987.6" font-size="27.6" text-anchor="middle" textLength="55.9" lengthAdjust="spacingAndGlyphs">0.44</text>
<text x="1463" y="987.6" font-size="27.6" text-anchor="middle" textLength="55.9" lengthAdjust="spacingAndGlyphs">1.33</text>
<text x="1560" y="987.6" font-size="27.6" text-anchor="middle" textLength="16.0" lengthAdjust="spacingAndGlyphs">4</text>
<text x="1058.5" y="1057.3" font-size="27.6" text-anchor="end" textLength="78.7" lengthAdjust="spacingAndGlyphs">DMSO</text>
<text x="1058.5" y="1139.4" font-size="27.6" text-anchor="end" textLength="127.0" lengthAdjust="spacingAndGlyphs">GNE-7883</text>
<rect x="1069.4" y="995.3" width="535.9" height="181.7" fill="#000"/>
<g filter="url(#wb)"><circle cx="1116.7" cy="1044.4" r="33.3" fill="url(#w146)"/><circle cx="1115.5" cy="1133.5" r="33.3" fill="url(#w146)"/><circle cx="1204.4" cy="1044.7" r="33.3" fill="url(#w146)"/><circle cx="1204.1" cy="1132.9" r="33.3" fill="url(#w146)"/><circle cx="1293.5" cy="1045.2" r="33.3" fill="url(#w146)"/><circle cx="1292.5" cy="1131.7" r="33.3" fill="url(#w146)"/><circle cx="1382.1" cy="1044" r="33.3" fill="url(#w146)"/><circle cx="1381.2" cy="1131.7" r="33.3" fill="url(#w146)"/><circle cx="1466.6" cy="1044.7" r="33.3" fill="url(#w146)"/><circle cx="1466.3" cy="1132.9" r="33.3" fill="url(#w146)"/><circle cx="1558.3" cy="1044.7" r="33.3" fill="url(#w146)"/><circle cx="1558.3" cy="1131.7" r="33.3" fill="url(#w146)"/></g>
<g filter="url(#wd)"><path d="M1121.2 1067.7h0M1123.3 1038.6h0M1133.4 1068.8h0M1106.2 1037.7h0M1087.7 1044.8h0M1117.7 1032.9h0M1095.4 1054.1h0M1096.3 1046.8h0M1104.2 1054.5h0M1112.1 1030.3h0M1130.2 1022.8h0M1139.4 1056.7h0M1128.2 1050.8h0M1130.9 1033.7h0M1119 1030.6h0M1097.6 1062.5h0M1094.5 1032.4h0M1113.9 1063h0M1142.5 1043.6h0M1128.3 1017.7h0M1101.3 1046.9h0M1107.3 1070.7h0M1130.5 1068.2h0M1134.4 1048.9h0M1101 1035.9h0M1124 1070.6h0M1117.8 1057.8h0M1094.1 1055.1h0M1144.1 1032.7h0M1108.3 1055.9h0M1117.6 1016.9h0M1114.8 1033.4h0M1100.6 1026.5h0M1095.4 1056.2h0M1129.6 1038.9h0M1107.7 1028.6h0M1122 1069.4h0M1106.2 1046.4h0M1096 1066.7h0M1093.3 1027.7h0M1141.1 1051h0M1096.3 1029.8h0M1131.5 1030.3h0M1140.2 1050.2h0M1122.6 1017.1h0M1089.2 1037.9h0M1099.6 1020.7h0M1090 1049.6h0M1107.1 1019.7h0M1098.5 1065.2h0M1103.4 1060.4h0M1142.9 1047.3h0M1113.5 1046.7h0M1102.9 1037.3h0M1114.8 1040.9h0M1105 1044.2h0M1138.3 1053.6h0M1099.4 1047.1h0M1136.5 1042.4h0M1147.1 1046h0M1115.1 1044.4h0M1142.8 1039.7h0M1126.4 1018h0M1102.2 1065.1h0M1114.3 1030.1h0M1097.4 1060.3h0M1142.9 1045h0M1139.5 1053.8h0M1126.5 1017.1h0M1135.5 1056.9h0M1132 1067.1h0M1115.4 1055.4h0M1143.8 1051.4h0M1127.7 1038.7h0M1116.5 1074.5h0M1120.9 1020.4h0M1118.6 1052.1h0M1128.6 1051.5h0M1111.5 1027.7h0M1123.8 1045.1h0M1110.5 1019.9h0M1137.8 1043.7h0M1102.2 1022.2h0M1101 1032.6h0M1105.7 1056.3h0M1096.3 1024.4h0M1133.3 1050.7h0M1128.8 1051.9h0M1102.5 1049.5h0M1111.8 1049.6h0M1143.5 1053.5h0M1144.9 1046h0M1092.8 1057.9h0M1093.5 1033.1h0M1135.4 1051.5h0M1138.1 1059.3h0M1099.8 1065.9h0M1136.9 1027.8h0M1103 1052.8h0M1131.8 1036.9h0M1132.8 1064.9h0M1089 1032.3h0M1121.1 1055.5h0M1106.7 1042.1h0M1145 1050.4h0M1110.7 1019.7h0M1140.4 1059.9h0M1107.5 1047.2h0M1145.3 1043.8h0" stroke="#1a1a1a" stroke-opacity="0.4" stroke-width="1.4" stroke-linecap="round" fill="none"/><path d="M1117.4 1015.8h0M1131.3 1032h0" stroke="#101010" stroke-opacity="0.5" stroke-width="2.2" stroke-linecap="round" fill="none"/><path d="M1129.8 1137.9h0M1114.8 1154.7h0M1094.6 1143.9h0M1130.1 1113.3h0M1129.2 1109.9h0M1143.4 1122.8h0M1144.1 1124.1h0M1120.5 1141.1h0M1089 1118.2h0M1140.1 1116.7h0M1106.8 1155.7h0M1125.8 1135.9h0M1093.8 1132.1h0M1094 1114.7h0M1108.5 1112.7h0M1105 1133.4h0M1112.7 1105.2h0M1138 1137.9h0M1124.2 1109h0M1144.1 1125.4h0M1142.4 1134.5h0M1133.9 1121.6h0M1129.6 1150.8h0M1135.5 1115.3h0M1143.8 1139.9h0M1102.9 1135h0M1134.9 1154.4h0M1133.2 1133.9h0M1127.2 1135.3h0M1096.6 1137.1h0M1145.7 1130h0M1112.3 1106.1h0M1111.1 1150.9h0M1093.8 1119.2h0M1136.5 1149.8h0M1104.2 1155.3h0M1121.8 1126.1h0M1141.5 1138.3h0M1123.3 1149.6h0M1136.9 1119.1h0M1109.7 1109.2h0M1140.7 1133.6h0M1098.3 1122.4h0M1132.8 1112.4h0M1104.7 1159.9h0M1095.2 1155h0M1127.5 1114.8h0M1128.4 1128.3h0M1085.5 1129.9h0M1099.6 1117.9h0M1125.5 1126.1h0M1117.3 1123.5h0M1107.2 1163h0M1112 1116.7h0M1093.2 1153.6h0M1122.4 1113.2h0M1125.8 1110.6h0M1093.3 1121.4h0M1115 1157.8h0M1090.8 1150.6h0M1127.3 1111.5h0M1135.3 1145.3h0M1124 1104.5h0M1137.5 1145.5h0M1123.7 1142.9h0M1145.5 1137.3h0M1122.7 1126.1h0M1124.7 1123.8h0M1141.8 1149h0M1112 1141h0M1125.5 1133h0M1099 1148.4h0M1126.1 1155.2h0M1126.5 1132.3h0M1108.6 1146.7h0M1122.1 1151.9h0M1133 1143.6h0M1098.9 1137.2h0M1123.9 1109.2h0M1099.5 1142h0M1122.4 1159.7h0M1126.8 1110.9h0M1103.4 1157.5h0M1099.1 1148.7h0M1104 1141.6h0M1136.9 1150.2h0M1104.1 1154.6h0M1088.7 1141.6h0M1125.1 1134.4h0M1142.2 1120.6h0M1130.9 1121.4h0M1127.6 1108.8h0M1094.8 1133.5h0M1101.7 1155h0M1136.4 1136.1h0M1120.4 1163.3h0M1095.5 1123.1h0M1112.8 1125.3h0M1105.4 1117.1h0M1136.5 1125.7h0M1107.6 1106.2h0M1108.9 1159.9h0M1128.1 1133.7h0M1103.9 1157.5h0M1133.4 1115.5h0M1090.6 1129.2h0M1132.2 1107.9h0M1095.5 1150.9h0M1094.9 1151.7h0M1103.3 1129.6h0M1091.8 1149.4h0M1105.6 1119.1h0M1116.2 1121.8h0M1107.4 1114.3h0M1091.2 1138.8h0M1103.3 1150.8h0M1115.9 1136.7h0M1138.5 1146.5h0M1119.9 1107.8h0M1097.4 1147.7h0M1102.2 1109.5h0M1111.3 1153.6h0M1089.1 1132.6h0M1106.3 1116.3h0" stroke="#1a1a1a" stroke-opacity="0.4" stroke-width="1.4" stroke-linecap="round" fill="none"/><path d="M1121.8 1132h0M1095.3 1124.7h0M1129 1141.8h0M1106.6 1116.1h0M1092.5 1117.8h0" stroke="#101010" stroke-opacity="0.5" stroke-width="2.2" stroke-linecap="round" fill="none"/><path d="M1233.1 1041.4h0M1182.4 1041.2h0M1203.3 1037.4h0M1192.6 1044.7h0M1192.1 1063h0M1183.5 1048.8h0M1224.4 1034.9h0M1176.5 1045.5h0M1230 1045.1h0M1191.3 1032.2h0M1190 1028h0M1193.5 1024.8h0M1202.3 1019.3h0M1222.9 1032.2h0M1221.3 1054.4h0M1222.6 1037.9h0M1188.7 1030.8h0M1181.2 1042.4h0M1191.7 1027.4h0M1196.5 1065.5h0M1194.8 1066.8h0M1184.7 1045.2h0M1218.4 1071.3h0M1224.4 1035.8h0M1218.3 1022.6h0M1196.2 1052.1h0M1191 1029.1h0M1196.7 1073.7h0M1194.2 1036h0M1194.8 1072.4h0M1177.4 1032.3h0M1205.8 1063.3h0M1215 1051.3h0M1197.2 1045.6h0M1201.1 1061.3h0M1231.8 1041.6h0M1224.3 1039.1h0M1191.8 1052.1h0M1201.2 1040.9h0M1226 1059h0M1176.8 1042.1h0M1228.8 1037.9h0M1225 1042.8h0M1212.1 1047.3h0M1189.4 1048.8h0M1205.4 1071.9h0M1186.3 1045.6h0M1200.5 1058.8h0M1223.4 1045.7h0M1207.3 1045.5h0M1205.6 1026.7h0M1200.7 1027.9h0M1220.3 1064.6h0M1184 1066.6h0M1220.4 1022.6h0M1191.8 1058.5h0M1193 1047.6h0M1217.8 1042.4h0M1212.4 1037.1h0M1210.5 1049.3h0M1222.1 1068.7h0M1197.6 1025.9h0M1204 1020.2h0M1191.6 1039.1h0M1179.2 1061.3h0M1181.2 1033.1h0M1220 1033.4h0M1197.2 1062.9h0M1194.6 1070.7h0M1202.4 1014.1h0M1202.8 1067.7h0M1219 1026.4h0M1182.2 1042.9h0M1199.6 1040h0M1209 1025h0M1201.6 1067.5h0M1218.5 1066.2h0M1215.6 1054.7h0M1185.7 1031h0M1211.3 1040.7h0M1199.2 1051.5h0M1195.8 1029.1h0M1186.9 1020.7h0M1190.2 1055.6h0M1199 1060.3h0M1183 1058.8h0M1225.2 1065.9h0M1189.5 1060.9h0M1177.4 1030.9h0M1220.8 1062.7h0M1223 1032.9h0M1194 1057.8h0M1199.2 1046.3h0M1231 1057.8h0M1186.5 1063.8h0M1207.7 1070.5h0M1221.7 1031.3h0M1211.4 1023.4h0M1198.2 1053.1h0M1191.3 1063.3h0M1200.2 1019.8h0M1195.1 1017.4h0M1212.2 1071h0M1217.5 1052.4h0M1221.3 1058.6h0M1216.2 1041.4h0M1191.8 1055.7h0M1213.7 1016.7h0M1200.9 1068.7h0M1190.7 1047.5h0M1204.4 1075.2h0M1225.8 1045.8h0M1190.7 1047.1h0M1194.7 1046h0M1213 1017.7h0M1215.6 1035.9h0M1219.8 1044.7h0M1212.7 1052.9h0M1202.7 1075.3h0M1232.4 1044h0M1186.6 1030.5h0M1181.5 1029.6h0M1191.8 1067.7h0M1202.6 1068.6h0M1213.9 1029.6h0M1214.4 1043.1h0M1224.9 1058.2h0M1177.8 1035.6h0M1205.5 1072.4h0M1213.6 1023.1h0M1179.2 1046.5h0M1229.8 1041.6h0M1217.5 1066.8h0M1207.8 1049.7h0M1200.5 1025.6h0M1225.3 1053h0M1199.3 1070.7h0M1206.9 1057.6h0M1216.3 1042.2h0M1190.7 1034.8h0M1204.4 1026h0M1211.4 1016.2h0M1193 1017.4h0M1205.9 1059.5h0M1184.5 1045.9h0M1196.8 1024.7h0M1211.8 1022.6h0M1211.7 1063h0M1200.6 1027.4h0M1174.1 1048.5h0M1196.3 1052.8h0M1204.8 1067.6h0M1210.5 1041.1h0M1211.8 1064.4h0M1181.7 1042.3h0M1197.3 1046.3h0M1234.2 1038.3h0M1210.3 1019.2h0M1229.2 1041.9h0M1224.4 1056.7h0M1188.7 1032.4h0M1220.7 1043.9h0M1227 1035.6h0M1207.2 1028h0" stroke="#1a1a1a" stroke-opacity="0.4" stroke-width="1.4" stroke-linecap="round" fill="none"/><path d="M1184.6 1032.5h0M1221.4 1032.7h0" stroke="#101010" stroke-opacity="0.5" stroke-width="2.2" stroke-linecap="round" fill="none"/><path d="M1187 1122.5h0M1219.7 1126.9h0M1205.6 1120.9h0M1196.2 1161.6h0M1230.6 1129.2h0M1220.2 1125.7h0M1222 1108.1h0M1178 1136.2h0M1196.5 1147.4h0M1173.6 1132.7h0M1218.8 1138.4h0M1218.9 1157.8h0M1177.8 1131.8h0M1190.4 1156.2h0M1212.9 1110.6h0M1232.6 1124.7h0M1227 1133.8h0M1187.8 1152.5h0M1211.1 1111h0M1189.6 1132.9h0M1192.5 1159.9h0M1211.2 1104.4h0M1209.2 1124.1h0M1195.3 1127h0M1203.8 1117.3h0M1214 1156.2h0M1181.1 1136.2h0M1192.7 1151.4h0M1209.7 1134.9h0M1205.1 1118.3h0M1196.4 1147.6h0M1226.7 1127.6h0M1181.5 1146.5h0M1221.2 1155.8h0M1220.1 1108.4h0M1180.2 1145.9h0M1183.4 1127.9h0M1176.8 1137.6h0M1207.1 1151.6h0M1228.4 1150h0M1187.7 1139.1h0M1186.7 1112.7h0M1214.2 1111.8h0M1217.5 1112.9h0M1200.3 1148.7h0M1198.5 1161h0M1222.3 1126.2h0M1207.8 1139.2h0M1200.8 1146.8h0M1194.1 1132.7h0M1196.6 1141.5h0M1180.6 1142.5h0M1212 1151.9h0M1215.7 1155.5h0M1210.7 1153.1h0M1204.3 1130.5h0M1200.6 1128.6h0M1185.7 1111h0M1197.7 1113.7h0M1203.8 1109.8h0M1178.1 1121.7h0M1179.8 1142.3h0M1179.7 1121.9h0M1210.4 1120.5h0M1189.3 1109.2h0M1206.1 1106.1h0M1189.7 1145.9h0M1227 1130.3h0M1189 1108h0M1215.6 1144.9h0" stroke="#1a1a1a" stroke-opacity="0.4" stroke-width="1.4" stroke-linecap="round" fill="none"/><path d="M1214.1 1161.3h0M1207.7 1137.8h0M1208.7 1111.1h0M1182.5 1123.2h0" stroke="#101010" stroke-opacity="0.5" stroke-width="2.2" stroke-linecap="round" fill="none"/><path d="M1271.8 1048.9h0M1294.6 1048.2h0M1307.2 1046.3h0M1303.5 1045h0M1302.4 1061.7h0M1282.7 1021.8h0M1268.9 1054.9h0M1300 1041.6h0M1288.3 1031.1h0M1282.1 1060.8h0M1272.5 1024.3h0M1301.1 1053.2h0M1272.2 1063.8h0M1287 1017.4h0M1284.9 1064.8h0M1316.5 1036.6h0M1293.3 1015.9h0M1289.2 1069h0M1277.3 1048.7h0M1286.2 1023.2h0M1296.2 1056.5h0M1276.1 1032.5h0M1277.3 1042.1h0M1279.7 1020h0M1306 1046.7h0M1299.8 1072.1h0M1296.4 1074.3h0M1311.9 1051.3h0M1302.1 1056.9h0M1270.4 1042.4h0M1273.6 1063.1h0M1288 1060.4h0M1276.8 1048h0M1297.6 1021h0M1299.2 1015.6h0M1314.5 1048.4h0M1278.9 1053.5h0M1274 1064.6h0M1280.1 1019.3h0M1281.5 1060.4h0M1282.8 1072.5h0M1290 1071.4h0M1307.2 1055.8h0M1320.9 1058.4h0M1314.6 1031.7h0M1309.5 1045.4h0M1289.3 1072.9h0M1296.9 1063.5h0M1275 1041.6h0M1305.2 1017.6h0M1276 1065.6h0M1288.2 1015.2h0M1322.8 1044.3h0M1309.8 1042.1h0M1291.5 1020.9h0M1300.5 1037.1h0M1314.2 1029.7h0M1287.1 1062.9h0M1263.4 1041.7h0M1308.8 1047h0M1297.8 1018.1h0M1283.1 1072h0M1305.3 1066.7h0M1284.2 1063.5h0M1318.8 1060.8h0M1281 1072.1h0M1299.6 1058.9h0M1312.5 1067.4h0M1289.7 1064h0M1292.8 1065.6h0M1277.6 1038h0M1276.6 1056.7h0M1277.5 1032.2h0M1288.8 1044.5h0M1284.9 1039.9h0M1263.9 1040.2h0M1303 1028.3h0M1274.9 1046.7h0M1293.6 1020.5h0M1314.9 1046.4h0M1266.1 1032h0M1302.5 1069.8h0M1293.4 1043.8h0M1314.2 1047.1h0M1313.3 1057.7h0M1296.6 1066.4h0M1319.3 1054.4h0M1316.3 1025.3h0M1302 1072.8h0M1320.5 1043.7h0M1288.7 1025.5h0M1313.3 1035.7h0M1314.5 1025.3h0M1320.1 1046h0M1275.4 1053.1h0M1311 1062.5h0M1308.4 1020.3h0M1318.2 1027.4h0M1292.3 1070.2h0M1311.8 1066.7h0M1307.7 1053.8h0M1273.9 1067.2h0M1291.7 1045.4h0M1286.6 1049.7h0M1294.4 1024.9h0M1304.4 1043h0M1284.8 1069.7h0M1309.3 1052.1h0M1307.1 1018h0M1319.1 1056.7h0M1285.4 1051h0M1312.3 1059.7h0M1302.4 1019.5h0M1279.7 1039.5h0M1292.7 1020.9h0M1283.8 1021.8h0M1294 1071.8h0M1298.4 1062.4h0M1292.4 1070.9h0M1273.6 1057.8h0M1289.4 1023.4h0M1284.3 1060.2h0M1306.7 1059.2h0M1321.7 1044.7h0M1282.5 1028.1h0M1317.5 1028.4h0M1310.6 1021.3h0M1313.3 1063.2h0M1282.1 1064.2h0M1277.9 1070.3h0M1319.9 1055h0M1294.4 1016.8h0M1272.6 1065.6h0M1298.8 1038.7h0M1279.5 1051.8h0M1277.2 1065.3h0M1284.8 1031.4h0M1299 1061.9h0M1292.3 1045.8h0M1296.7 1064.9h0M1274.5 1028.9h0M1311.5 1063.1h0M1264.7 1049.6h0M1291.6 1061.4h0M1273 1036.5h0M1271.8 1031h0M1293 1064.8h0M1296 1029.5h0M1268.1 1041.8h0M1313.7 1064h0M1310.1 1034.2h0M1309 1041.6h0M1310.6 1024.4h0M1291.1 1039.5h0M1295.3 1029.2h0M1290.3 1038.4h0M1313.4 1068.3h0M1296.3 1059.9h0M1318.9 1042.7h0M1275.1 1028.5h0" stroke="#1a1a1a" stroke-opacity="0.4" stroke-width="1.4" stroke-linecap="round" fill="none"/><path d="M1265.4 1046.8h0M1315.3 1039.1h0M1278.8 1025.2h0M1307.3 1043.9h0M1316.6 1061.1h0M1268.7 1052.5h0" stroke="#101010" stroke-opacity="0.5" stroke-width="2.2" stroke-linecap="round" fill="none"/><path d="M1322 1123.3h0M1311.3 1120.1h0M1309.8 1152.3h0M1307.6 1108.2h0M1296.2 1135h0M1276.5 1112.4h0M1276.9 1138.3h0M1287.2 1142.1h0M1296.2 1129.8h0M1292.6 1130.4h0M1312.2 1137.6h0M1268.3 1117.4h0M1297.5 1138h0M1309.3 1134.1h0M1307.1 1125.6h0M1289.9 1140.6h0M1312.8 1121.1h0M1297.6 1158.1h0M1294.4 1113.8h0M1272.3 1122h0M1309.1 1135.2h0M1303.8 1115.6h0M1301.1 1110.9h0M1283.3 1150.9h0M1279.5 1110.9h0M1272 1120.2h0M1285.2 1131.4h0M1299.1 1145.3h0M1270.8 1136.6h0M1308 1157.7h0M1311.9 1144.5h0M1305.1 1106.5h0M1317.3 1127.1h0M1284.9 1111.7h0M1274 1153.5h0M1287.5 1157.6h0M1280.7 1157.1h0M1300.6 1142.7h0M1287 1133.8h0M1274.6 1140h0M1271.8 1145.7h0M1268.8 1120.7h0M1271.7 1146.7h0M1280.4 1111.8h0M1300.7 1114.3h0M1264.4 1140h0M1314.1 1128.8h0M1304.5 1126.9h0M1305 1138.1h0M1278.5 1156.5h0M1292 1136.2h0M1303 1127h0M1306.3 1117.9h0M1285.3 1121.1h0M1267.1 1138.9h0M1309 1122.8h0M1290 1127.9h0M1288.6 1122.4h0M1298.4 1156.6h0M1315.1 1141.1h0M1307.6 1151.4h0M1300.9 1130.8h0M1292.7 1126.1h0M1277.1 1114.1h0M1313.4 1128.7h0M1277.6 1150.3h0M1273.3 1117.3h0M1293 1142.6h0M1282.9 1145h0M1295.5 1133.2h0M1309.9 1118.9h0M1278 1114.1h0M1287.3 1104.8h0M1306.3 1104.3h0M1298.7 1152.4h0M1311.2 1126.9h0M1304.3 1109h0M1311.8 1150h0M1279.6 1123h0M1322.3 1127.6h0M1282.7 1148h0M1289.6 1121.3h0M1302.2 1131h0M1286.9 1110.7h0M1269.5 1120.3h0M1283.2 1122.9h0M1269.8 1148.2h0M1298.9 1102.5h0M1319.5 1129h0" stroke="#1a1a1a" stroke-opacity="0.4" stroke-width="1.4" stroke-linecap="round" fill="none"/><path d="M1288.7 1118.8h0M1289.2 1150.1h0M1307.4 1148.8h0" stroke="#101010" stroke-opacity="0.5" stroke-width="2.2" stroke-linecap="round" fill="none"/><path d="M1406.7 1045.4h0M1377.8 1047.4h0M1376.1 1030.2h0M1377.4 1027.7h0M1392.2 1049.9h0M1365.3 1027.7h0M1394.4 1045.6h0M1397.1 1023.8h0M1382.2 1017.5h0M1386.2 1016.2h0M1384.6 1052.3h0M1383.5 1073.1h0M1371.4 1049.2h0M1387.6 1065.9h0M1365.3 1038.3h0M1358.8 1060.9h0M1407.9 1054.9h0M1368.3 1054.5h0M1357 1041h0M1360.5 1037.2h0M1402.9 1025.4h0M1362.2 1060.1h0M1374.2 1038.1h0M1408.6 1032.3h0M1375.4 1028.8h0M1390.1 1016.6h0M1394.6 1046.6h0M1367.4 1061.9h0M1385.1 1047.5h0M1398.1 1053.6h0M1390.5 1055.1h0M1363.1 1025.5h0M1378 1023.9h0M1374.7 1019.2h0M1399.9 1031.7h0M1410.3 1034.7h0M1353.3 1037.2h0M1382 1039.3h0M1361.2 1051.8h0M1365.2 1066.3h0M1363.7 1022.8h0M1389.2 1050.4h0M1392.4 1067.5h0M1387.6 1051.4h0M1382.5 1039.1h0M1353.5 1033h0M1353.7 1046.9h0M1358.7 1039.9h0M1378.2 1057.5h0M1364.7 1057.6h0M1365.3 1024.2h0M1364.8 1036.6h0M1355.1 1054.1h0M1400 1033.5h0M1396.8 1051.2h0M1405 1040.4h0M1409.6 1051.4h0M1373.7 1063.8h0M1361 1052.9h0M1393.5 1017.7h0M1362.9 1050.8h0M1406.8 1061.1h0M1368.5 1054.7h0M1375.1 1016.6h0M1363.1 1059.8h0M1381.4 1020.4h0M1356 1050.3h0M1400.5 1034.7h0M1393.4 1042.3h0M1395.4 1029.9h0M1401.1 1023.4h0M1387.9 1056.8h0M1383.3 1065.3h0M1384 1035.7h0M1388.2 1066.9h0M1403.8 1023.1h0M1369.8 1032.2h0M1406.1 1056.3h0M1360.9 1027.3h0M1385.7 1027.9h0M1398.2 1062.4h0M1368.1 1028h0M1361.8 1028.2h0M1410.4 1047.4h0M1383 1016.8h0M1379.8 1070.1h0M1370.2 1060.7h0M1374.8 1069.4h0M1356.5 1029.3h0M1367.6 1024.6h0M1366.6 1018.5h0M1398.7 1056.9h0M1392.1 1043.8h0M1365.5 1044.3h0M1387.7 1073.8h0M1401.3 1020.8h0M1385.4 1017.2h0M1375.8 1061.9h0M1408.7 1033.9h0M1370.7 1059.2h0M1359.6 1045.5h0" stroke="#1a1a1a" stroke-opacity="0.4" stroke-width="1.4" stroke-linecap="round" fill="none"/><path d="M1387.4 1036.2h0M1357.3 1026.4h0M1377.1 1024.1h0M1392 1048.4h0M1410.7 1049.1h0M1395.3 1023.6h0M1374 1028.4h0M1360 1036.5h0M1397.8 1068.1h0M1373.8 1019.7h0" stroke="#101010" stroke-opacity="0.5" stroke-width="2.2" stroke-linecap="round" fill="none"/><path d="M1370.1 1104.9h0M1392.2 1114h0M1386.3 1142.3h0M1396.2 1153.8h0M1389.5 1108.8h0M1362.1 1125.4h0M1365.6 1138.2h0M1359.7 1142.2h0M1358.1 1116h0M1409.5 1139h0M1369.1 1124.7h0M1399.3 1107.8h0M1370.2 1139h0M1406.3 1138.2h0M1394.6 1152.6h0M1354.4 1136.8h0M1375.3 1103.4h0M1367.1 1154.5h0M1370.5 1127.9h0M1395.5 1154.1h0M1369.8 1132.7h0M1358.6 1131.9h0M1368.1 1135.8h0M1391 1112.5h0M1393.7 1112.5h0M1373.8 1103.8h0M1362 1132.1h0M1407.7 1124.5h0M1409 1126.8h0M1396 1126.6h0M1389.5 1130.6h0M1374.2 1144.3h0M1407.7 1128.6h0M1401.4 1116h0M1366.9 1133.5h0M1406.4 1137.7h0M1368 1133.1h0M1393.1 1130.8h0M1395.7 1109.9h0M1395.4 1158.7h0M1406.7 1117.9h0M1374 1106.8h0M1376.7 1154.7h0M1386.8 1111.3h0M1367.3 1144.1h0M1371.5 1111.6h0M1386.1 1141.7h0M1366.2 1105.5h0M1353.8 1118.9h0M1398.1 1111.9h0M1384.1 1139.3h0M1385.6 1131.6h0M1385.6 1150.2h0M1372.7 1161.1h0M1394.7 1130.9h0M1385.9 1148.3h0M1363.2 1122.5h0M1363.9 1146.6h0M1409.7 1140.4h0M1372.2 1112.9h0M1374.8 1137.4h0M1351.9 1126.5h0M1396.4 1105.4h0M1364.9 1111.5h0M1387 1150.9h0M1381.3 1117.2h0M1393.3 1159h0M1391.3 1160.3h0M1366.6 1137.9h0M1364.7 1151.7h0" stroke="#1a1a1a" stroke-opacity="0.4" stroke-width="1.4" stroke-linecap="round" fill="none"/><path d="M1408.3 1121.6h0M1404.8 1138.6h0M1390.1 1156.8h0M1384.1 1115.8h0" stroke="#101010" stroke-opacity="0.5" stroke-width="2.2" stroke-linecap="round" fill="none"/><path d="M1463 1072.6h0M1488.4 1035.5h0M1470.9 1019.5h0M1461.1 1042.8h0M1459 1031.3h0M1456.9 1052.5h0M1477.8 1054.4h0M1495.6 1040.5h0M1470.7 1052.7h0M1464.4 1075.3h0M1467.4 1019.3h0M1489.8 1032.8h0M1485.6 1056.8h0M1454.2 1019.4h0M1467.4 1068.8h0M1439.9 1031.1h0M1473.8 1066.6h0M1496 1048.3h0M1459 1025.9h0M1480.1 1017.3h0M1450.1 1039h0M1467.9 1045.5h0M1464.5 1071.7h0M1437.1 1043.8h0M1441.7 1049.3h0M1453.5 1061.1h0M1468.7 1032.8h0M1448.4 1021h0M1441.5 1044h0M1456.1 1040.7h0M1447 1035.3h0M1474.5 1017.1h0M1447.7 1020.6h0M1451.4 1053.3h0M1475.5 1057.1h0M1436.9 1041.6h0M1445.3 1033h0M1491.4 1031.1h0M1478.7 1055.5h0M1484.5 1065.4h0M1459.8 1019h0M1445.4 1034.7h0M1483.7 1046.3h0M1437.1 1048.3h0M1450 1048.1h0M1478.4 1037.8h0M1470.1 1035.3h0M1454.2 1058.9h0M1437.8 1051.9h0M1436.7 1051.1h0M1481.7 1031.3h0M1483.8 1041.9h0M1484.2 1048.1h0M1450 1035.2h0M1475.6 1057.1h0M1481.3 1030.6h0M1463.2 1026.7h0M1493.8 1044.9h0M1464.1 1052.1h0M1479.7 1019.3h0M1466.1 1020.9h0M1441.7 1038.4h0M1463.2 1034.5h0M1467.4 1046.4h0M1483.6 1021.4h0M1450.8 1062.1h0M1454.4 1052.2h0M1486.8 1024.1h0M1458.4 1055.3h0M1448.1 1060.5h0M1486.4 1067.2h0M1458.8 1050.3h0M1464.4 1014.4h0M1476.6 1073.3h0M1448.5 1061.7h0M1442.6 1026.3h0M1447.4 1028.7h0M1493.9 1037.6h0M1466.5 1033.5h0M1445.3 1040.3h0M1451.5 1053h0M1457.9 1069.4h0M1448.5 1054.8h0M1461.1 1033.3h0M1436.8 1046.5h0M1460.7 1034h0M1456.9 1072h0M1482.3 1030.8h0M1468.1 1022.4h0M1483.9 1021.4h0M1495.7 1049.4h0M1469.3 1025.1h0M1470.7 1029.1h0M1473 1065.7h0M1488.5 1043.3h0M1462.1 1043h0M1437 1050.3h0M1453.6 1046.1h0M1471.9 1041.6h0M1447.7 1052.3h0M1469.3 1047.9h0M1461.7 1030.3h0M1467.4 1062.8h0M1444.8 1063.3h0M1454.9 1031.2h0M1477 1056.9h0M1485 1042.4h0M1449.9 1069.1h0M1469.1 1075.3h0M1445.4 1058.4h0M1466.8 1015.3h0M1492 1051.3h0M1477.2 1061.6h0M1473.3 1015.4h0M1453.3 1030.4h0M1493.3 1035.1h0M1461.3 1071.2h0M1494 1044.1h0M1486.9 1049.5h0M1447.2 1038.8h0M1444.2 1030.4h0M1452 1041h0M1487.2 1064.2h0M1438.6 1047.1h0M1472.5 1061.3h0M1471.7 1072.1h0" stroke="#1a1a1a" stroke-opacity="0.4" stroke-width="1.4" stroke-linecap="round" fill="none"/><path d="M1470.5 1072h0M1492.9 1040.8h0M1453.7 1032.8h0" stroke="#101010" stroke-opacity="0.5" stroke-width="2.2" stroke-linecap="round" fill="none"/><path d="M1464.7 1125.6h0M1463.9 1161.2h0M1487.9 1127.4h0M1483.5 1154.6h0M1444.2 1133.6h0M1449.5 1121.8h0M1452.6 1112.7h0M1485 1152h0M1444.8 1143.2h0M1451 1155.5h0M1452.4 1117.1h0M1461.4 1137.8h0M1461.8 1137.5h0M1437.6 1138.9h0M1493.2 1140.6h0M1458 1138.1h0M1464 1121.9h0M1475.2 1145.1h0M1478.4 1110.5h0M1455.3 1144.4h0M1485 1124h0M1477.3 1160.5h0M1454.1 1153.8h0M1471.9 1137.7h0M1469.7 1157.8h0M1451 1108h0M1469.7 1102.5h0M1448.4 1115.8h0M1439.6 1132.3h0M1495.9 1133.1h0M1467.9 1111h0M1482.3 1155.8h0M1482.3 1153.9h0M1471.6 1162.1h0M1470.9 1162.1h0M1474.9 1126.6h0M1480.5 1134.3h0M1488.2 1136.3h0M1481.9 1144h0M1460.4 1140.9h0M1443.4 1127.6h0M1449.3 1154.8h0M1483.9 1112.4h0M1496 1134.6h0M1456.7 1116.6h0M1495.4 1135h0M1476.9 1156.5h0M1454.1 1130.3h0M1461.1 1139h0M1443.3 1148.8h0M1486.6 1149.7h0M1464.3 1151.8h0M1447.1 1143.8h0M1485 1113h0M1477.9 1157h0M1471.4 1126.6h0M1465.2 1106.3h0M1496.6 1130.3h0M1440 1129.8h0M1464.1 1137.9h0M1458.4 1152.9h0M1450.5 1113.1h0M1446.2 1139.8h0M1472.1 1146.9h0M1440.6 1119.2h0M1479.3 1106.5h0M1442.9 1146.9h0M1441.2 1118.3h0M1454.3 1108.1h0M1442.8 1113.5h0M1471.1 1143.8h0" stroke="#1a1a1a" stroke-opacity="0.4" stroke-width="1.4" stroke-linecap="round" fill="none"/><path d="M1441.7 1144.5h0M1478 1104.9h0M1479.2 1123.8h0" stroke="#101010" stroke-opacity="0.5" stroke-width="2.2" stroke-linecap="round" fill="none"/><path d="M1542.5 1047.4h0M1575.1 1043.1h0M1571.7 1026.1h0M1551.6 1025.8h0M1568.1 1044.6h0M1557.2 1066.4h0M1574 1047h0M1562.4 1051.9h0M1552.8 1074.7h0M1551.7 1018.2h0M1577.8 1029.8h0M1560.2 1062h0M1562.4 1033.4h0M1540.3 1044.3h0M1579.4 1029.1h0M1568.5 1069.5h0M1549.2 1072.9h0M1578.1 1043.5h0M1557.7 1032.1h0M1530.5 1048.3h0M1572.6 1047h0M1584.3 1040.1h0M1560.5 1042.7h0M1577.3 1057.2h0M1562 1059.2h0M1545.3 1069.3h0M1530.2 1049.8h0M1572 1024.2h0M1576.4 1061.1h0M1576.5 1055.6h0M1586.3 1046.1h0M1557 1043.5h0M1572.4 1042.2h0M1541.9 1019.5h0M1566.5 1037.6h0M1561.8 1050.1h0M1532.2 1046h0M1563.2 1037.1h0M1569.6 1036.4h0M1548.5 1027.9h0M1574.2 1025.6h0M1556.4 1016h0M1533.9 1059.6h0M1576.8 1060.2h0M1572.8 1034h0M1577.7 1055.3h0M1531 1040.5h0M1559.6 1021.9h0M1546.2 1068.8h0M1544.6 1071.7h0M1566.5 1039.5h0M1560.3 1035h0M1563.5 1024.3h0M1545.9 1049.8h0M1560.9 1054.3h0M1569.9 1064.3h0M1546.2 1065.3h0M1550.6 1020.4h0M1538.8 1042.5h0M1551.7 1067.3h0M1575.3 1045h0M1537.8 1062.9h0M1548.1 1059.6h0M1561.9 1029.9h0M1550.7 1033.8h0M1562 1025.8h0M1561 1065.3h0M1560.6 1064.5h0M1531.9 1051.9h0M1574.9 1062.4h0M1545.5 1027.1h0M1552.5 1047.7h0M1588.5 1040.8h0M1585.8 1049.1h0M1557.2 1014.1h0M1531.1 1040h0M1541.3 1052.5h0M1551.4 1061.6h0M1550.9 1071.5h0M1553.8 1061.2h0M1543 1067.6h0M1565.6 1063.3h0M1567.6 1069.5h0M1570 1019.4h0M1569.5 1034.1h0M1557.4 1021.5h0M1554.7 1046.8h0M1588.5 1049.2h0M1548.6 1026.4h0M1549.4 1037.8h0M1579.6 1051h0M1541.1 1059.8h0M1552.6 1037.3h0M1561.4 1038.4h0M1533.9 1057h0M1586 1052.3h0M1530.9 1054.8h0M1536.3 1034.9h0M1563.6 1050.9h0M1553.1 1016.5h0M1572.8 1047.3h0M1565.5 1032.6h0M1565.9 1065.9h0M1533.5 1039.8h0M1532.5 1032h0M1546.9 1019.5h0M1557 1073.2h0M1540.7 1064.6h0" stroke="#1a1a1a" stroke-opacity="0.4" stroke-width="1.4" stroke-linecap="round" fill="none"/><path d="M1558.1 1052.8h0M1554.6 1074.7h0M1540.9 1069.8h0" stroke="#101010" stroke-opacity="0.5" stroke-width="2.2" stroke-linecap="round" fill="none"/><path d="M1567.4 1104.7h0M1565.8 1124.6h0M1561.8 1110.1h0M1542.8 1149h0M1545.4 1121.8h0M1574.4 1155.4h0M1556 1143.2h0M1574.2 1108.3h0M1557.3 1111h0M1585.1 1117.2h0M1555.3 1137.8h0M1556.7 1151.7h0M1536.4 1145.4h0M1550.6 1117.3h0M1568.3 1131.2h0M1547.3 1142.9h0M1577.6 1155.5h0M1541.7 1141.3h0M1532.4 1134.9h0M1538.6 1117.6h0M1581.2 1140.2h0M1551.4 1106.7h0M1565.6 1148.8h0M1552.1 1140.7h0M1580.7 1115.7h0M1561.6 1127.9h0M1578.8 1123.7h0M1576.3 1144.8h0M1578.6 1150.3h0M1572.5 1153.8h0M1573.2 1109.6h0M1536.2 1126.6h0M1579.5 1144.8h0M1533 1121.6h0M1559 1117.8h0M1583.6 1141.8h0M1544.1 1158.6h0M1553.2 1135.3h0M1567.4 1127.7h0M1548.9 1102.8h0M1555.6 1116.6h0M1542.3 1114h0M1536.2 1111.4h0M1552.2 1115.4h0M1556.2 1148.6h0M1550.8 1116.3h0M1549.1 1129.8h0M1573.4 1155.4h0M1570.4 1126h0M1532.8 1127.4h0M1567 1130.4h0M1557.3 1135.9h0M1550.3 1144.2h0M1552.6 1143.7h0M1584.4 1125.7h0M1578.3 1142.9h0M1552.6 1132.5h0M1588.6 1126.8h0M1545.2 1143h0M1545.7 1122.7h0M1579.9 1111.3h0M1575.3 1127h0M1552 1138.4h0M1579.5 1147.9h0M1549.3 1127.4h0" stroke="#1a1a1a" stroke-opacity="0.4" stroke-width="1.4" stroke-linecap="round" fill="none"/><path d="M1546.9 1104.1h0" stroke="#101010" stroke-opacity="0.5" stroke-width="2.2" stroke-linecap="round" fill="none"/></g>
</g>
</svg></body></html>
